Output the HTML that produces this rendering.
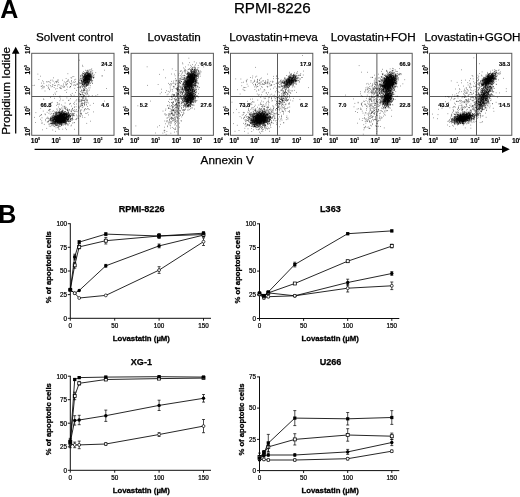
<!DOCTYPE html><html><head><meta charset="utf-8"><title>RPMI-8226</title><style>html,body{margin:0;padding:0;background:#fff}svg{display:block}text{font-family:"Liberation Sans",sans-serif;fill:#000}</style></head><body>
<svg width="520" height="497" viewBox="0 0 520 497">
<rect width="520" height="497" fill="#fff"/>
<text x="0.3" y="17.7" font-size="25" font-weight="bold">A</text>
<text x="-1.8" y="223" font-size="25" font-weight="bold">B</text>
<text x="272.3" y="13" font-size="15.2" text-anchor="middle" stroke="#000" stroke-width="0.25">RPMI-8226</text>
<g>
<rect x="31.7" y="53.3" width="82.3" height="82.0" fill="none" stroke="#5a5a5a" stroke-width="1"/>
<path d="M78.7 53.3V135.3M31.7 96.5H114.0" stroke="#5a5a5a" stroke-width="1" fill="none"/>
<path d="M60.7 121.3h.6M62.1 116.9h.6M59.4 124.9h.6M56.4 115.4h.6M58.5 120.3h.6M55.9 121.6h.6M61.0 117.4h.6M67.1 114.3h.6M58.3 117.8h.6M57.7 115.8h.6M63.0 117.7h.6M62.4 114.5h.6M61.2 114.7h.6M56.2 119.5h.6M60.5 114.2h.6M64.0 117.5h.6M54.3 119.3h.6M58.5 121.6h.6M51.6 120.8h.6M54.5 117.1h.6M51.9 123.9h.6M59.5 116.7h.6M54.6 118.4h.6M62.0 117.4h.6M61.4 125.0h.6M59.8 118.9h.6M48.7 118.5h.6M58.1 121.2h.6M60.4 118.3h.6M61.2 125.6h.6M53.4 117.7h.6M58.4 120.9h.6M56.0 116.6h.6M56.8 124.7h.6M65.7 115.6h.6M56.8 119.8h.6M60.5 116.1h.6M64.9 120.6h.6M57.9 120.8h.6M60.1 111.8h.6M61.2 120.9h.6M61.0 120.6h.6M54.8 120.3h.6M61.0 121.5h.6M67.2 113.8h.6M53.3 114.5h.6M64.8 119.9h.6M61.2 123.6h.6M57.6 115.5h.6M70.2 113.6h.6M64.3 115.4h.6M54.9 115.9h.6M61.0 121.0h.6M63.4 118.5h.6M59.8 122.8h.6M63.9 122.2h.6M60.4 115.6h.6M63.9 120.0h.6M67.5 110.5h.6M57.4 118.8h.6M61.6 120.3h.6M58.5 116.4h.6M61.3 113.0h.6M55.0 117.9h.6M57.9 122.6h.6M59.7 117.5h.6M65.0 113.6h.6M66.1 119.1h.6M54.4 121.9h.6M56.9 116.0h.6M63.8 117.6h.6M51.2 123.4h.6M58.5 120.0h.6M60.2 120.8h.6M66.7 116.6h.6M64.0 117.6h.6M59.1 115.3h.6M58.9 116.6h.6M59.5 123.4h.6M67.9 116.1h.6M58.6 116.1h.6M59.2 117.4h.6M62.4 115.1h.6M60.1 120.2h.6M59.7 121.5h.6M55.4 116.6h.6M60.6 121.7h.6M58.6 125.4h.6M66.2 114.5h.6M63.8 120.2h.6M60.6 119.4h.6M63.9 122.2h.6M59.0 122.8h.6M65.7 121.2h.6M60.6 119.6h.6M63.5 116.9h.6M54.5 126.4h.6M62.3 116.0h.6M52.6 123.4h.6M51.0 123.3h.6M59.2 116.7h.6M56.4 119.4h.6M61.5 123.0h.6M71.4 111.2h.6M56.7 121.7h.6M57.7 118.2h.6M61.7 117.7h.6M63.0 113.8h.6M59.8 120.0h.6M59.7 115.6h.6M64.0 120.2h.6M63.2 114.7h.6M55.7 121.6h.6M60.3 119.6h.6M60.8 112.7h.6M55.6 118.4h.6M61.9 118.0h.6M56.6 112.4h.6M65.3 116.6h.6M61.6 120.8h.6M61.1 116.2h.6M57.8 122.5h.6M60.1 115.2h.6M51.1 116.4h.6M55.3 121.1h.6M62.4 120.1h.6M50.5 119.6h.6M64.7 117.8h.6M52.3 122.8h.6M64.3 116.2h.6M56.6 125.3h.6M64.4 119.2h.6M61.3 119.6h.6M53.3 120.5h.6M66.6 116.6h.6M67.6 121.1h.6M60.4 116.8h.6M59.4 119.2h.6M59.9 120.6h.6M56.0 123.4h.6M65.9 121.2h.6M58.1 117.8h.6M60.4 121.4h.6M56.9 118.9h.6M57.7 115.8h.6M54.6 116.4h.6M66.7 112.8h.6M59.9 119.5h.6M65.3 121.0h.6M60.7 115.4h.6M57.4 118.1h.6M59.1 115.4h.6M58.0 118.9h.6M60.7 114.9h.6M58.9 116.2h.6M59.2 116.6h.6M54.1 118.0h.6M56.8 117.9h.6M68.6 116.5h.6M57.5 118.3h.6M55.6 116.3h.6M62.3 119.8h.6M67.4 112.2h.6M53.7 119.9h.6M59.7 115.7h.6M57.7 119.3h.6M52.3 120.6h.6M64.2 111.8h.6M60.6 119.4h.6M61.0 122.3h.6M57.1 121.2h.6M62.8 119.1h.6M58.1 112.4h.6M60.0 118.0h.6M55.4 116.5h.6M54.9 122.5h.6M67.0 116.4h.6M58.2 116.9h.6M62.1 112.8h.6M60.5 120.6h.6M58.6 117.0h.6M58.2 118.0h.6M63.7 121.1h.6M59.2 118.8h.6M59.9 119.4h.6M60.8 125.5h.6M66.3 115.8h.6M63.9 116.3h.6M62.5 119.5h.6M58.0 123.0h.6M54.1 115.1h.6M65.2 116.9h.6M65.3 114.7h.6M60.0 114.3h.6M63.3 119.6h.6M64.4 115.4h.6M64.6 118.6h.6M65.1 118.0h.6M58.5 119.1h.6M67.9 117.3h.6M54.7 116.1h.6M64.8 117.4h.6M63.0 118.6h.6M64.8 118.6h.6M69.6 116.0h.6M67.8 120.0h.6M55.2 120.9h.6M52.6 120.0h.6M64.6 119.6h.6M55.8 119.6h.6M60.6 120.3h.6M64.7 111.8h.6M52.8 115.8h.6M50.6 118.8h.6M61.9 118.4h.6M60.9 111.8h.6M59.5 117.7h.6M60.9 118.7h.6M56.6 118.2h.6M53.4 118.7h.6M59.9 114.4h.6M56.0 119.3h.6M52.8 113.4h.6M63.1 120.8h.6M60.4 116.4h.6M62.6 121.2h.6M55.9 113.8h.6M57.5 120.0h.6M55.9 119.4h.6M56.4 116.4h.6M61.6 114.6h.6M56.9 122.5h.6M62.4 119.3h.6M62.3 122.4h.6M70.3 116.5h.6M54.0 119.9h.6M64.9 118.9h.6M60.2 120.6h.6M60.6 119.7h.6M53.7 121.9h.6M58.5 117.3h.6M64.2 113.3h.6M60.3 124.4h.6M61.1 118.8h.6M59.3 120.0h.6M66.2 116.1h.6M60.6 121.4h.6M50.2 120.6h.6M57.4 122.2h.6M51.3 117.9h.6M45.1 120.7h.6M58.1 119.4h.6M67.0 116.3h.6M60.9 119.2h.6M55.1 124.1h.6M56.2 117.4h.6M66.1 116.7h.6M61.4 118.8h.6M60.9 115.5h.6M60.4 114.9h.6M60.9 121.8h.6M64.5 120.2h.6M63.3 113.4h.6M61.7 114.0h.6M55.7 121.5h.6M63.1 121.7h.6M57.4 120.9h.6M65.9 119.1h.6M54.6 124.3h.6M60.0 118.5h.6M60.6 122.4h.6M54.3 123.2h.6M68.9 114.4h.6M67.6 119.4h.6M58.5 119.1h.6M64.4 116.0h.6M62.5 115.7h.6M48.2 121.5h.6M61.9 118.2h.6M60.4 121.0h.6M61.1 113.2h.6M55.5 117.4h.6M59.4 122.0h.6M59.8 118.6h.6M66.3 115.4h.6M62.3 116.8h.6M60.6 113.0h.6M68.0 113.2h.6M58.0 120.5h.6M58.8 119.1h.6M52.0 123.8h.6M68.2 116.5h.6M65.3 117.3h.6M65.0 109.6h.6M63.9 117.7h.6M61.2 124.7h.6M61.7 120.3h.6M59.5 118.3h.6M59.7 122.4h.6M60.9 121.1h.6M67.9 118.4h.6M63.3 117.0h.6M60.4 119.0h.6M57.9 121.6h.6M57.6 116.6h.6M68.3 118.9h.6M63.1 119.6h.6M61.0 122.6h.6M59.0 121.1h.6M55.4 117.4h.6M60.4 123.4h.6M64.8 118.0h.6M58.8 116.6h.6M59.6 119.8h.6M59.6 117.9h.6M61.2 121.8h.6M53.1 115.8h.6M59.5 115.4h.6M56.6 118.4h.6M64.9 123.1h.6M57.0 122.2h.6M63.4 115.1h.6M67.9 112.1h.6M59.2 117.8h.6M57.8 115.2h.6M61.6 120.2h.6M60.7 119.1h.6M55.9 119.3h.6M62.9 116.9h.6M70.3 121.5h.6M59.4 115.9h.6M59.7 114.7h.6M55.7 122.8h.6M62.2 122.3h.6M54.7 118.4h.6M55.4 121.3h.6M66.8 124.6h.6M56.3 116.8h.6M65.8 117.2h.6M67.9 118.7h.6M61.9 111.9h.6M63.3 117.6h.6M70.0 119.2h.6M59.7 118.3h.6M57.8 122.1h.6M54.2 121.8h.6M60.9 117.3h.6M67.7 119.0h.6M65.3 119.1h.6M56.2 114.2h.6M56.6 116.6h.6M58.3 116.5h.6M62.1 116.7h.6M59.7 117.2h.6M61.7 113.9h.6M62.1 118.3h.6M59.2 113.1h.6M60.5 121.4h.6M61.7 119.1h.6M60.3 122.7h.6M63.1 119.1h.6M69.6 115.5h.6M63.5 113.7h.6M60.9 120.4h.6M52.6 119.8h.6M62.5 119.3h.6M51.4 122.2h.6M53.9 123.2h.6M64.7 117.6h.6M64.0 123.2h.6M60.0 118.3h.6M52.5 119.8h.6M58.9 120.8h.6M57.4 122.1h.6M63.7 122.2h.6M71.4 111.1h.6M61.7 122.4h.6M56.9 114.4h.6M55.1 117.6h.6M60.4 119.6h.6M59.8 122.1h.6M55.2 116.2h.6M61.2 113.2h.6M55.2 122.2h.6M66.0 118.5h.6M65.7 114.5h.6M65.8 116.6h.6M58.4 112.8h.6M63.1 119.8h.6M60.0 117.0h.6M58.8 122.6h.6M59.1 112.4h.6M54.5 121.7h.6M53.8 126.3h.6M64.5 118.3h.6M59.8 119.1h.6M61.7 112.5h.6M65.5 118.7h.6M52.4 119.9h.6M56.9 117.3h.6M61.5 113.6h.6M62.5 118.4h.6M58.9 115.6h.6M65.6 116.1h.6M61.7 119.2h.6M54.9 119.2h.6M56.2 119.1h.6M64.5 120.6h.6M62.9 114.5h.6M51.6 124.1h.6M67.1 113.9h.6M63.5 115.1h.6M67.1 117.7h.6M58.8 121.1h.6M59.3 119.4h.6M55.3 117.9h.6M72.8 114.3h.6M59.8 117.8h.6M68.2 114.3h.6M57.6 120.7h.6M61.5 117.7h.6M52.7 124.5h.6M58.8 116.5h.6M65.4 117.3h.6M54.7 120.7h.6M65.8 114.2h.6M62.3 116.1h.6M55.7 127.8h.6M58.3 118.8h.6M58.5 123.2h.6M60.4 115.3h.6M58.1 111.4h.6M56.7 120.7h.6M59.2 118.5h.6M55.8 120.0h.6M54.5 118.4h.6M60.4 116.6h.6M64.9 113.9h.6M53.4 122.7h.6M60.7 113.7h.6M57.6 121.8h.6M56.0 118.4h.6M64.7 114.3h.6M58.2 116.7h.6M67.8 120.2h.6M56.9 121.2h.6M62.5 119.6h.6M59.6 118.8h.6M57.1 115.6h.6M63.5 121.9h.6M59.9 117.2h.6M63.5 116.2h.6M60.4 116.8h.6M55.5 117.9h.6M60.2 114.0h.6M60.9 117.0h.6M65.2 115.2h.6M56.3 117.5h.6M60.5 113.1h.6M52.5 125.6h.6M63.8 114.1h.6M55.5 120.1h.6M52.0 120.7h.6M60.4 121.5h.6M65.9 123.3h.6M53.4 120.8h.6M55.5 121.4h.6M57.1 117.6h.6M55.3 123.8h.6M62.5 113.9h.6M56.8 118.3h.6M57.2 119.8h.6M63.5 120.2h.6M57.1 121.5h.6M62.7 121.6h.6M56.0 120.9h.6M54.9 119.4h.6M51.9 120.5h.6M69.6 121.3h.6M59.1 119.5h.6M61.8 121.0h.6M60.5 118.0h.6M61.4 112.7h.6M60.9 116.6h.6M69.8 117.9h.6M55.7 124.2h.6M53.2 124.0h.6M55.8 124.4h.6M54.3 117.3h.6M64.2 120.2h.6M64.6 117.7h.6M56.1 121.1h.6M54.0 119.3h.6M59.0 114.5h.6M67.3 119.5h.6M47.2 121.7h.6M63.2 120.5h.6M55.5 116.7h.6M65.6 120.8h.6M55.5 122.7h.6M59.3 122.9h.6M53.5 123.9h.6M56.0 117.8h.6M67.3 109.7h.6M64.6 120.9h.6M58.8 115.9h.6M56.5 118.4h.6M51.6 123.3h.6M58.8 119.6h.6M60.5 119.2h.6M60.3 120.6h.6M60.2 112.7h.6M55.3 125.1h.6M60.4 117.4h.6M60.5 117.5h.6M66.8 119.2h.6M69.6 116.6h.6M60.0 115.9h.6M57.0 118.6h.6M60.4 117.3h.6M57.8 116.9h.6M57.1 125.2h.6M60.4 114.1h.6M55.7 112.4h.6M63.6 115.1h.6M60.2 115.5h.6M61.9 122.5h.6M59.8 119.0h.6M57.2 121.5h.6M56.1 121.0h.6M59.5 115.8h.6M58.1 121.3h.6M61.8 118.7h.6M60.6 124.3h.6M54.2 120.0h.6M61.0 118.2h.6M54.3 121.7h.6M57.7 121.1h.6M59.3 113.0h.6M50.8 123.8h.6M61.1 121.6h.6M61.4 120.8h.6M59.9 115.0h.6M58.6 112.5h.6M58.9 117.8h.6M56.0 121.4h.6M59.4 120.0h.6M58.0 115.7h.6M61.1 121.2h.6M54.9 115.0h.6M61.8 114.0h.6M61.4 118.2h.6M60.0 116.7h.6M58.6 116.6h.6M63.3 113.4h.6M52.7 123.0h.6M62.9 114.6h.6M61.8 119.4h.6M62.0 120.6h.6M62.5 117.9h.6M57.5 119.6h.6M59.4 121.7h.6M63.7 122.8h.6M62.7 121.0h.6M61.7 113.9h.6M53.4 113.7h.6M63.2 116.1h.6M66.3 114.0h.6M65.5 119.3h.6M61.8 118.5h.6M53.2 118.9h.6M65.2 121.0h.6M60.0 121.6h.6M48.6 120.2h.6M62.5 119.2h.6M53.5 122.9h.6M54.5 118.3h.6M57.6 119.8h.6M66.7 114.4h.6M58.9 118.8h.6M62.0 119.2h.6M69.0 116.7h.6M68.3 117.8h.6M60.2 120.6h.6M59.5 119.9h.6M54.7 117.2h.6M57.4 117.1h.6M62.7 114.3h.6M62.6 123.3h.6M61.2 119.6h.6M65.4 119.0h.6M57.0 118.6h.6M60.4 119.9h.6M64.2 119.5h.6M63.5 115.7h.6M65.8 117.1h.6M62.6 121.7h.6M59.2 114.7h.6M62.4 115.2h.6M55.9 121.0h.6M52.8 117.3h.6M63.4 120.3h.6M60.4 115.1h.6M62.1 118.9h.6M52.6 122.2h.6M58.9 119.9h.6M57.8 121.3h.6M56.5 118.6h.6M49.9 119.7h.6M59.1 118.6h.6M65.0 119.5h.6M62.5 129.2h.6M57.8 118.7h.6M60.6 124.2h.6M64.3 117.2h.6M47.5 117.2h.6M60.1 117.8h.6M63.3 119.2h.6M63.9 118.5h.6M68.8 117.6h.6M66.1 119.3h.6M62.2 120.0h.6M62.1 121.0h.6M64.4 114.3h.6M58.1 119.0h.6M60.5 115.6h.6M65.0 118.5h.6M70.0 116.7h.6M59.9 119.1h.6M60.4 117.1h.6M61.6 115.8h.6M67.1 116.7h.6M60.5 120.5h.6M67.7 119.7h.6M56.1 114.2h.6M59.8 119.5h.6M59.7 119.5h.6M64.4 113.5h.6M65.7 114.4h.6M53.5 118.1h.6M56.3 120.4h.6M62.3 111.1h.6M57.5 117.8h.6M53.4 118.0h.6M65.6 118.2h.6M63.0 122.4h.6M63.0 122.1h.6M58.4 117.6h.6M65.6 116.5h.6M59.5 119.4h.6M65.9 121.2h.6M56.3 123.5h.6M56.6 120.1h.6M61.6 122.7h.6M57.3 116.3h.6M63.9 114.5h.6M61.9 109.8h.6M56.3 116.6h.6M61.0 120.2h.6M59.0 121.4h.6M65.0 128.2h.6M57.7 120.8h.6M58.6 119.4h.6M66.5 114.6h.6M71.4 114.9h.6M70.2 115.2h.6M61.0 117.8h.6M61.7 116.3h.6M68.0 112.9h.6M60.1 121.8h.6M56.0 120.6h.6M61.2 122.6h.6M62.8 113.3h.6M56.7 115.2h.6M52.8 117.5h.6M53.8 123.2h.6M63.8 117.4h.6M57.0 119.8h.6M60.0 118.4h.6M61.7 118.9h.6M63.6 116.4h.6M59.1 119.9h.6M63.1 115.5h.6M56.4 118.5h.6M58.9 119.7h.6M55.8 119.6h.6M66.1 118.9h.6M60.5 116.1h.6M57.1 119.9h.6M59.0 117.9h.6M59.6 119.8h.6M64.0 122.4h.6M53.1 117.0h.6M55.7 122.5h.6M58.9 116.7h.6M72.8 115.2h.6M65.2 122.7h.6M60.1 121.4h.6M64.1 119.5h.6M70.5 119.4h.6M59.6 122.2h.6M58.9 116.5h.6M66.5 118.3h.6M63.0 116.9h.6M63.9 119.3h.6M58.2 118.0h.6M69.9 119.3h.6M68.8 117.2h.6M63.4 116.3h.6M63.9 117.8h.6M51.0 121.4h.6M63.7 121.3h.6M59.7 118.1h.6M62.7 117.1h.6M63.9 118.7h.6M59.0 121.1h.6M52.6 118.2h.6M62.4 110.7h.6M57.1 120.0h.6M59.1 117.7h.6M57.8 117.8h.6M59.0 126.5h.6M49.6 119.9h.6M66.5 119.7h.6M61.9 114.1h.6M66.0 118.4h.6M70.1 119.3h.6M60.8 119.1h.6M52.1 119.4h.6M56.4 120.9h.6M54.9 119.6h.6M58.3 123.0h.6M61.0 119.1h.6M51.1 117.7h.6M62.3 112.3h.6M53.5 117.5h.6M62.1 117.4h.6M60.1 115.0h.6M59.2 115.7h.6M60.3 113.5h.6M58.1 115.6h.6M57.7 119.3h.6M52.6 119.0h.6M60.5 118.0h.6M69.5 116.1h.6M70.1 116.3h.6M67.0 119.8h.6M64.0 124.3h.6M57.4 121.0h.6M67.6 123.5h.6M60.4 118.3h.6M60.3 118.5h.6M59.3 123.8h.6M61.1 116.3h.6M58.6 116.2h.6M60.3 118.3h.6M55.5 114.3h.6M58.9 113.1h.6M71.6 120.4h.6M60.3 115.4h.6M59.5 117.3h.6M63.2 116.8h.6M64.0 115.1h.6M55.4 121.5h.6M59.7 120.4h.6M65.1 120.3h.6M62.0 120.6h.6M61.3 118.7h.6M68.1 121.7h.6M57.4 122.2h.6M61.1 116.7h.6M58.2 119.1h.6M67.8 116.2h.6M51.4 125.7h.6M57.5 121.4h.6M58.1 120.6h.6M63.8 117.9h.6M63.6 119.8h.6M67.3 114.6h.6M53.2 119.9h.6M64.3 117.9h.6M59.3 118.7h.6M57.5 116.9h.6M63.2 119.5h.6M56.3 115.8h.6M50.8 118.7h.6M58.9 118.3h.6M53.5 119.5h.6M57.6 117.4h.6M62.4 115.1h.6M62.2 115.4h.6M68.2 116.1h.6M59.7 116.0h.6M53.4 119.3h.6M57.1 115.3h.6M56.3 119.3h.6M54.9 125.7h.6M62.7 114.1h.6M57.6 118.7h.6M51.2 123.6h.6M64.0 118.5h.6M60.1 121.2h.6M62.4 111.9h.6M61.2 116.9h.6M63.7 122.7h.6M60.9 116.8h.6M66.6 118.7h.6M62.7 112.4h.6M62.5 121.4h.6M62.6 125.0h.6M53.7 119.4h.6M59.9 119.7h.6M59.4 119.9h.6M61.7 124.8h.6M54.2 118.3h.6M68.5 112.2h.6M61.2 124.2h.6M54.9 115.9h.6M52.5 121.5h.6M59.3 111.6h.6M60.2 117.2h.6M57.2 119.6h.6M61.1 115.1h.6M57.6 117.4h.6M63.3 119.8h.6M57.2 116.9h.6M60.5 120.1h.6M65.3 123.1h.6M72.9 110.4h.6M55.9 120.3h.6M58.5 120.7h.6M56.7 118.1h.6M64.4 122.6h.6M55.2 123.5h.6M58.4 120.4h.6M60.5 120.1h.6M56.0 119.0h.6M56.1 115.8h.6M58.4 120.3h.6M50.6 118.6h.6M53.8 117.8h.6M58.7 122.1h.6M61.4 117.7h.6M59.8 121.5h.6M52.2 116.7h.6M58.5 117.5h.6M64.5 117.8h.6M63.3 122.1h.6M60.3 118.2h.6M56.4 121.5h.6M63.7 115.9h.6M57.9 119.3h.6M55.1 121.9h.6M56.8 116.3h.6M67.6 115.2h.6M61.7 120.1h.6M66.2 114.1h.6M58.4 119.8h.6M65.1 118.7h.6M57.8 118.6h.6M59.9 120.9h.6M72.5 117.9h.6M64.3 118.4h.6M58.3 114.3h.6M60.3 114.0h.6M62.2 119.0h.6M66.4 112.7h.6M58.3 119.0h.6M52.4 118.7h.6M59.3 116.0h.6M60.7 117.6h.6M61.2 111.1h.6M67.0 116.7h.6M62.2 121.9h.6M64.5 113.9h.6M55.4 120.6h.6M64.8 118.7h.6M70.7 125.9h.6M64.4 114.9h.6M61.9 115.8h.6M61.4 116.0h.6M69.2 114.1h.6M56.2 114.1h.6M60.1 118.7h.6M62.9 115.3h.6M64.2 120.2h.6M58.6 119.9h.6M62.1 115.1h.6M59.3 117.5h.6M61.2 122.4h.6M60.0 117.5h.6M55.2 119.9h.6M60.6 121.0h.6M64.9 116.5h.6M56.1 120.5h.6M59.5 123.4h.6M63.8 121.3h.6M55.6 114.0h.6M61.5 122.9h.6M55.6 118.6h.6M66.1 115.8h.6M71.7 114.8h.6M70.3 120.6h.6M59.6 119.6h.6M64.2 117.5h.6M61.2 116.0h.6M61.2 120.4h.6M68.1 120.8h.6M54.4 116.5h.6M65.7 114.3h.6M60.4 117.4h.6M67.4 119.2h.6M61.6 117.1h.6M57.5 118.7h.6M62.0 115.7h.6M64.2 121.7h.6M60.8 118.1h.6M63.0 118.6h.6M58.2 122.2h.6M50.5 119.5h.6M65.0 117.7h.6M64.0 119.2h.6M61.4 117.2h.6M61.0 122.7h.6M65.6 117.8h.6M58.5 117.5h.6M57.3 118.2h.6M59.8 115.4h.6M66.3 121.2h.6M54.0 124.1h.6M66.4 116.8h.6M57.6 117.6h.6M55.4 113.0h.6M66.7 115.6h.6M60.2 121.2h.6M54.5 117.1h.6M59.0 121.3h.6M65.1 122.2h.6M66.4 109.7h.6M58.6 117.8h.6M62.6 116.0h.6M64.1 116.2h.6M57.6 113.5h.6M62.4 117.4h.6M60.5 114.8h.6M58.1 122.0h.6M58.3 123.1h.6M61.0 114.1h.6M60.8 114.0h.6M58.0 117.4h.6M58.6 118.1h.6M66.0 117.1h.6M61.7 120.4h.6M64.9 113.2h.6M66.4 115.6h.6M63.5 116.5h.6M71.5 115.6h.6M56.7 116.0h.6M64.5 116.3h.6M59.2 116.5h.6M69.5 120.6h.6M68.8 115.6h.6M51.3 113.4h.6M56.0 120.8h.6M63.8 118.4h.6M64.4 115.2h.6M64.2 115.0h.6M60.3 116.7h.6M62.8 123.0h.6M63.8 116.5h.6M60.3 122.1h.6M65.6 120.2h.6M49.9 118.6h.6M63.7 118.9h.6M55.7 116.9h.6M65.2 108.2h.6M59.6 116.3h.6M56.4 117.0h.6M62.5 120.9h.6M56.3 121.1h.6M56.3 122.4h.6M53.2 121.3h.6M60.5 121.8h.6M63.0 120.1h.6M65.6 118.3h.6M60.0 121.6h.6M65.7 122.0h.6M60.8 122.6h.6M60.2 117.2h.6M63.4 117.9h.6M65.7 114.6h.6M59.0 115.6h.6M59.5 119.7h.6M59.9 116.6h.6M61.1 122.8h.6M56.4 112.3h.6M65.6 114.1h.6M58.8 119.5h.6M62.9 121.6h.6M56.7 118.0h.6M62.4 123.9h.6M62.5 120.5h.6M58.7 116.6h.6M70.3 116.7h.6M62.4 119.7h.6M69.2 114.2h.6M65.2 120.9h.6M57.5 118.1h.6M58.8 120.3h.6M62.8 120.7h.6M61.0 117.0h.6M60.9 121.4h.6M59.3 113.0h.6M52.0 121.7h.6M59.6 112.7h.6M50.1 123.5h.6M62.4 116.4h.6M57.2 122.7h.6M57.3 123.1h.6M59.6 118.2h.6M62.0 116.2h.6M53.8 123.5h.6M52.3 116.3h.6M55.6 121.7h.6M50.9 119.7h.6M56.1 118.1h.6M68.3 115.5h.6M55.6 124.7h.6M63.8 113.1h.6M54.1 117.9h.6M62.1 119.5h.6M59.1 121.8h.6M60.4 123.6h.6M63.4 122.2h.6M69.1 115.5h.6M61.6 119.4h.6M61.3 121.8h.6M56.0 120.8h.6M63.5 113.3h.6M59.5 119.7h.6M64.6 119.6h.6M60.5 114.4h.6M69.0 115.7h.6M51.2 119.9h.6M59.3 120.6h.6M64.9 122.5h.6M59.0 122.3h.6M56.9 120.6h.6M59.4 119.4h.6M54.1 118.5h.6M61.2 116.7h.6M72.3 115.9h.6M66.1 116.9h.6M55.4 122.4h.6M56.5 125.7h.6M58.7 120.4h.6M65.5 120.6h.6M56.7 121.1h.6M57.4 119.9h.6M64.9 121.6h.6M64.8 121.2h.6M58.9 119.1h.6M55.3 119.0h.6M53.3 121.7h.6M57.3 117.5h.6M50.0 120.9h.6M64.2 121.0h.6M57.7 118.9h.6M63.0 112.4h.6M69.6 119.1h.6M66.3 114.1h.6M55.2 115.2h.6M64.8 113.3h.6M66.2 120.1h.6M57.1 113.0h.6M56.1 118.9h.6M60.1 119.3h.6M53.0 120.4h.6M67.7 115.5h.6M49.2 120.2h.6M55.4 119.9h.6M59.4 114.8h.6M59.6 120.8h.6M61.5 121.5h.6M62.0 115.9h.6M59.6 116.5h.6M66.1 114.3h.6M50.5 123.4h.6M60.7 115.2h.6M57.3 117.6h.6M61.3 113.1h.6M61.7 122.1h.6M56.3 118.5h.6M57.6 119.8h.6M64.5 122.7h.6M62.3 120.4h.6M57.4 115.6h.6M70.4 118.3h.6M71.7 118.9h.6M53.7 117.0h.6M62.1 115.3h.6M72.6 113.6h.6M64.4 120.3h.6M61.7 118.5h.6M59.7 115.5h.6M58.1 120.9h.6M59.7 120.9h.6M58.0 116.4h.6M64.2 113.2h.6M58.8 122.3h.6M58.6 126.7h.6M54.9 123.8h.6M60.4 121.6h.6M56.4 119.6h.6M59.8 116.8h.6M65.6 118.1h.6M62.4 120.3h.6M63.1 117.6h.6M62.4 121.1h.6M61.0 118.6h.6M60.1 120.5h.6M59.2 110.6h.6M64.3 115.4h.6M55.5 121.9h.6M67.1 120.5h.6M60.8 119.8h.6M57.1 124.0h.6M58.3 121.1h.6M57.4 121.2h.6M61.4 115.7h.6M57.2 120.3h.6M66.1 120.0h.6M56.9 123.1h.6M49.8 123.8h.6M57.2 119.3h.6M51.1 120.7h.6M60.5 115.1h.6M65.7 119.6h.6M63.8 114.8h.6M54.3 118.8h.6M57.0 119.1h.6M69.2 123.2h.6M62.2 122.1h.6M60.7 116.2h.6M65.7 113.5h.6M72.4 116.0h.6M66.9 115.2h.6M61.3 119.6h.6M62.4 119.3h.6M63.6 120.0h.6M57.7 116.0h.6M55.6 118.3h.6M60.9 119.2h.6M56.1 120.2h.6M60.4 116.9h.6M61.1 117.4h.6M71.8 119.2h.6M56.6 114.0h.6M60.1 117.8h.6M59.9 118.6h.6M62.8 113.7h.6M65.7 114.6h.6M58.3 119.1h.6M56.7 117.5h.6M52.8 123.0h.6M56.2 121.1h.6M63.2 124.9h.6M60.9 114.8h.6M55.8 125.0h.6M58.9 116.7h.6M60.8 121.0h.6M63.1 121.1h.6M57.8 119.5h.6M59.5 117.9h.6M52.0 118.1h.6M55.2 114.0h.6M68.4 116.1h.6M50.2 117.5h.6M59.1 120.6h.6M61.7 116.2h.6M58.9 118.3h.6M56.8 120.5h.6M60.4 118.8h.6M60.6 118.7h.6M60.3 118.0h.6M51.7 118.7h.6M60.0 120.1h.6M56.6 121.4h.6M58.1 116.7h.6M61.8 123.4h.6M63.7 119.9h.6M65.0 113.1h.6M58.3 127.0h.6M65.1 119.9h.6M66.3 115.5h.6M66.1 122.6h.6M67.3 109.6h.6M60.0 126.4h.6M59.8 114.3h.6M64.6 113.1h.6M54.1 116.8h.6M61.7 119.0h.6M58.1 117.8h.6M58.9 121.5h.6M52.4 117.4h.6M56.4 122.6h.6M60.6 119.3h.6M64.9 114.8h.6M65.4 121.1h.6M60.3 119.7h.6M59.8 118.1h.6M56.7 123.2h.6M62.6 114.7h.6M59.5 117.7h.6M63.6 122.6h.6M69.0 117.3h.6M60.5 120.9h.6M53.5 121.6h.6M56.6 118.9h.6M53.7 121.8h.6M55.0 116.5h.6M66.9 119.6h.6M61.8 115.4h.6M53.4 119.8h.6M63.8 115.4h.6M66.7 119.1h.6M59.0 120.3h.6M57.4 122.5h.6M59.1 117.0h.6M62.0 115.4h.6M63.7 111.6h.6M66.3 113.7h.6M66.5 116.8h.6M66.3 118.2h.6M67.2 116.3h.6M63.8 118.1h.6M53.4 115.3h.6M60.0 115.7h.6M62.2 120.8h.6M58.8 120.9h.6M65.0 113.7h.6M59.0 117.8h.6M56.3 119.9h.6M67.6 113.8h.6M63.8 119.1h.6M61.7 119.2h.6M65.1 119.2h.6M65.7 123.6h.6M62.3 115.6h.6M48.9 124.1h.6M57.4 120.7h.6M58.5 121.1h.6M56.0 117.1h.6M61.6 118.5h.6M66.4 117.5h.6M58.4 123.9h.6M55.3 119.6h.6M70.4 121.4h.6M58.5 117.9h.6M54.8 118.3h.6M61.8 118.4h.6M62.7 112.0h.6M57.3 117.4h.6M64.4 116.1h.6M58.3 118.4h.6M56.3 119.8h.6M61.5 115.4h.6M64.3 114.6h.6M57.6 122.9h.6M62.2 115.1h.6M60.2 117.0h.6M74.2 113.4h.6M57.3 117.6h.6M67.3 121.2h.6M60.4 122.1h.6M60.1 113.1h.6M64.1 117.2h.6M64.9 122.1h.6M66.7 116.5h.6M62.2 119.3h.6M57.8 124.5h.6M58.1 125.8h.6M63.1 122.9h.6M63.4 117.2h.6M67.3 117.5h.6M62.7 118.9h.6M65.7 116.8h.6M67.9 115.5h.6M61.5 124.7h.6M53.6 120.6h.6M55.0 121.9h.6M53.8 123.3h.6M68.3 118.9h.6M56.6 119.5h.6M66.5 118.3h.6M63.5 122.4h.6M68.9 118.6h.6M65.5 111.6h.6M60.2 121.8h.6M59.7 123.7h.6M61.1 117.6h.6M61.5 116.6h.6M58.1 117.5h.6M60.5 121.9h.6M68.4 114.2h.6M52.5 122.2h.6M61.9 121.7h.6M56.3 121.0h.6M61.6 118.7h.6M64.7 115.7h.6M60.4 116.7h.6M64.4 118.0h.6M53.1 116.9h.6M66.0 117.4h.6M57.8 116.3h.6M63.6 122.2h.6M61.5 123.1h.6M48.3 118.2h.6M57.1 123.3h.6M61.7 119.2h.6M68.1 117.6h.6M62.0 119.7h.6M61.9 119.7h.6M53.9 115.4h.6M67.5 125.0h.6M69.3 114.4h.6M60.8 111.5h.6M59.6 118.6h.6M52.9 119.8h.6M64.9 115.6h.6M73.6 110.9h.6M64.1 121.5h.6M66.7 117.2h.6M63.3 118.6h.6M56.0 117.6h.6M67.1 117.0h.6M54.8 117.5h.6M59.7 119.9h.6M62.0 118.1h.6M64.9 119.8h.6M62.7 120.2h.6M62.5 118.6h.6M57.0 119.5h.6M54.5 123.0h.6M61.0 113.7h.6M57.3 119.5h.6M54.4 123.7h.6M54.6 116.2h.6M58.3 121.1h.6M51.8 118.4h.6M54.2 119.6h.6M52.9 119.0h.6M61.5 117.8h.6M62.6 119.9h.6M70.3 116.8h.6M53.5 113.5h.6M57.4 125.8h.6M65.0 117.6h.6M59.6 117.3h.6M59.1 121.9h.6M68.8 121.3h.6M59.1 112.2h.6M55.2 120.5h.6M54.4 113.2h.6M62.3 116.6h.6M62.1 118.0h.6M54.1 118.1h.6M56.0 117.3h.6M63.2 114.5h.6M63.4 116.7h.6M57.6 118.6h.6M63.6 117.5h.6M63.4 114.0h.6M52.2 117.4h.6M59.2 121.8h.6M62.7 120.1h.6M57.9 117.9h.6M50.5 122.0h.6M59.3 119.8h.6M64.3 120.8h.6M68.2 118.0h.6M50.2 118.9h.6M73.1 113.5h.6M55.3 119.3h.6M65.2 111.5h.6M66.6 117.8h.6M65.4 108.1h.6M61.4 115.4h.6M55.1 117.9h.6M63.7 119.5h.6M57.3 127.6h.6M48.6 120.9h.6M74.2 115.7h.6M64.0 112.1h.6M69.3 121.2h.6M56.3 113.4h.6M67.7 118.1h.6M68.3 115.1h.6M68.1 124.9h.6M60.6 118.1h.6M54.9 120.5h.6M59.8 116.6h.6M50.2 119.9h.6M52.5 123.3h.6M61.1 115.6h.6M55.9 117.2h.6M59.9 116.8h.6M60.1 115.5h.6M69.9 113.7h.6M66.9 117.5h.6M60.5 122.6h.6M66.4 121.7h.6M56.9 115.0h.6M59.1 116.6h.6M65.0 117.5h.6M54.7 120.8h.6M59.3 118.6h.6M54.4 119.4h.6M61.2 119.4h.6M68.5 119.3h.6M57.1 112.5h.6M61.7 117.6h.6M56.4 121.0h.6M55.2 123.3h.6M54.8 121.6h.6M67.6 115.2h.6M71.9 114.4h.6M63.0 118.8h.6M57.3 118.9h.6M64.0 118.9h.6M59.1 122.1h.6M64.5 113.9h.6M62.1 117.1h.6M62.0 110.8h.6M63.6 120.3h.6M57.9 119.4h.6M58.7 116.1h.6M52.5 120.6h.6M58.6 123.0h.6M53.9 122.5h.6M60.0 118.3h.6M56.1 118.2h.6M61.2 118.7h.6M62.8 115.1h.6M53.9 116.6h.6M56.8 118.1h.6M56.2 119.1h.6M64.2 118.7h.6M68.8 115.5h.6M64.7 115.1h.6M59.0 118.6h.6M67.7 116.0h.6M53.4 120.6h.6M67.8 121.6h.6M57.5 122.0h.6M47.4 118.3h.6M73.3 115.1h.6M68.2 112.5h.6M55.7 119.1h.6M61.5 115.7h.6M59.6 114.7h.6M61.2 115.4h.6M53.6 121.5h.6M57.4 119.6h.6M62.9 117.7h.6M61.7 121.3h.6M66.4 116.1h.6M61.1 115.3h.6M71.9 118.1h.6M57.3 113.1h.6M61.9 119.2h.6M51.5 120.6h.6M54.7 120.2h.6M67.0 119.6h.6M56.2 118.0h.6M63.2 118.0h.6M60.4 113.5h.6M55.7 117.5h.6M59.0 117.1h.6M58.2 119.6h.6M58.3 123.1h.6M64.3 118.2h.6M63.8 120.5h.6M57.9 116.1h.6M56.3 119.3h.6M62.0 113.2h.6M60.2 116.3h.6M65.6 115.2h.6M73.3 115.7h.6M64.7 117.2h.6M60.5 116.5h.6M59.8 115.8h.6M56.6 121.3h.6M56.3 117.7h.6M55.9 111.4h.6M58.8 119.1h.6M58.6 119.6h.6M64.2 120.0h.6M58.8 123.2h.6M59.7 115.1h.6M54.9 119.3h.6M68.5 116.3h.6M63.1 112.5h.6M69.2 109.5h.6M64.5 120.6h.6M67.8 114.1h.6M59.5 116.8h.6M64.1 116.7h.6M73.6 114.9h.6M54.8 119.5h.6M66.3 112.8h.6M68.8 115.3h.6M62.7 117.1h.6M64.3 114.1h.6M66.8 114.8h.6M57.5 117.6h.6M62.7 117.2h.6M56.4 113.9h.6M57.4 117.5h.6M57.7 119.2h.6M60.0 121.2h.6M61.4 119.4h.6M62.9 121.3h.6M53.7 119.3h.6M70.3 116.1h.6M66.3 123.7h.6M64.2 117.8h.6M58.9 116.8h.6M60.2 118.1h.6M63.3 120.9h.6M62.7 114.3h.6M52.5 121.9h.6M64.3 121.6h.6M74.9 119.4h.6M51.6 120.0h.6M65.5 114.7h.6M62.5 114.7h.6M60.1 117.9h.6M67.4 121.0h.6M54.9 121.4h.6M61.5 121.1h.6M67.8 117.9h.6M59.7 124.0h.6M58.6 118.5h.6M61.2 116.4h.6M58.5 119.3h.6M68.3 115.9h.6M56.2 122.0h.6M65.0 122.2h.6M54.5 121.4h.6M64.0 114.5h.6M60.2 115.5h.6M48.0 121.9h.6M60.6 114.9h.6M55.4 120.3h.6M58.5 114.3h.6M68.2 115.8h.6M55.2 120.7h.6M55.5 116.9h.6M67.7 119.7h.6M61.2 121.2h.6M68.2 121.6h.6M62.3 117.5h.6M56.3 119.4h.6M60.3 118.8h.6M66.7 118.7h.6M65.3 113.4h.6M60.7 119.8h.6M60.9 120.6h.6M60.1 114.8h.6M57.8 114.7h.6M70.1 115.9h.6M60.7 123.7h.6M55.1 121.2h.6M58.3 117.0h.6M64.2 117.9h.6M63.8 113.3h.6M60.0 122.7h.6M57.4 117.0h.6M60.8 120.4h.6M52.5 115.8h.6M54.3 119.8h.6M64.6 114.7h.6M58.3 120.8h.6M62.5 122.4h.6M66.6 120.9h.6M63.9 119.8h.6M60.8 121.6h.6M71.1 113.2h.6M63.9 113.9h.6M58.9 118.0h.6M64.3 121.0h.6M62.7 118.5h.6M56.5 121.2h.6M61.0 114.0h.6M59.9 117.7h.6M51.0 118.6h.6M59.8 119.8h.6M59.3 124.8h.6M58.5 121.2h.6M52.6 123.2h.6M58.9 117.7h.6M60.5 118.2h.6M61.2 120.8h.6M55.1 120.6h.6M63.8 113.3h.6M54.7 122.4h.6M59.6 121.4h.6M67.1 118.1h.6M57.3 121.2h.6M58.2 120.2h.6M65.9 116.0h.6M58.8 113.6h.6M59.2 124.1h.6M61.8 118.4h.6M65.8 117.5h.6M49.9 120.5h.6M56.6 119.7h.6M55.7 120.3h.6M55.4 116.3h.6M56.5 120.6h.6M56.6 119.5h.6M62.1 118.2h.6M56.3 118.9h.6M61.3 118.9h.6M62.6 115.2h.6M57.1 119.1h.6M61.3 117.9h.6M68.7 117.3h.6M62.2 121.3h.6M57.6 121.5h.6M60.4 121.7h.6M56.2 118.6h.6M62.0 120.4h.6M64.9 121.0h.6M56.7 118.4h.6M59.6 117.1h.6M66.1 122.9h.6M58.2 113.8h.6M61.6 118.2h.6M55.7 119.6h.6M56.7 115.9h.6M58.2 118.7h.6M71.1 118.6h.6M58.7 112.2h.6M58.1 122.1h.6M58.0 119.2h.6M59.9 116.1h.6M63.8 121.2h.6M61.6 118.7h.6M70.5 115.7h.6M61.7 111.1h.6M67.6 120.1h.6M62.0 118.4h.6M63.6 116.0h.6M53.8 119.4h.6M60.1 122.2h.6M60.3 117.3h.6M59.5 118.4h.6M50.4 118.8h.6M64.9 114.4h.6M58.8 115.7h.6M58.6 117.6h.6M59.5 117.8h.6M59.6 122.0h.6M62.6 118.6h.6M54.6 118.8h.6M56.2 120.4h.6M62.1 118.0h.6M61.4 120.9h.6M58.9 114.2h.6M57.9 112.4h.6M56.7 120.3h.6M60.4 117.3h.6M66.3 118.3h.6M55.6 115.5h.6M67.9 116.0h.6M64.7 117.6h.6M58.5 119.5h.6M64.4 117.5h.6M53.7 122.7h.6M52.4 117.8h.6M54.5 121.6h.6M58.7 117.2h.6M59.1 118.4h.6M58.2 115.6h.6M61.1 118.5h.6M50.5 117.1h.6M63.0 120.9h.6M53.9 117.8h.6M57.5 119.7h.6M58.7 118.2h.6M55.2 119.2h.6M54.1 116.7h.6M55.9 125.4h.6M60.6 117.5h.6M63.5 122.5h.6M63.4 114.4h.6M55.9 125.2h.6M56.9 122.1h.6M82.0 83.8h.6M91.3 76.2h.6M83.1 73.7h.6M87.0 75.1h.6M85.2 76.8h.6M81.6 78.2h.6M85.7 78.3h.6M88.5 74.5h.6M86.2 79.0h.6M89.3 78.7h.6M85.7 78.3h.6M86.7 75.3h.6M85.6 77.6h.6M87.6 75.7h.6M92.0 83.0h.6M87.7 74.0h.6M87.2 70.4h.6M84.9 74.6h.6M84.6 80.1h.6M90.8 79.6h.6M83.6 78.5h.6M84.1 82.5h.6M86.4 76.0h.6M85.5 80.5h.6M92.2 73.1h.6M80.1 76.3h.6M87.7 84.6h.6M88.7 76.6h.6M83.5 81.8h.6M84.9 83.6h.6M87.9 79.9h.6M91.2 77.3h.6M84.1 75.9h.6M82.3 84.9h.6M89.4 73.9h.6M90.9 70.1h.6M85.7 76.7h.6M80.5 78.8h.6M90.7 76.9h.6M86.1 82.4h.6M89.8 75.4h.6M86.6 77.1h.6M85.6 76.3h.6M85.4 70.3h.6M90.8 74.4h.6M90.7 75.4h.6M80.7 75.4h.6M84.1 83.7h.6M91.6 80.2h.6M85.6 79.9h.6M82.9 81.9h.6M86.7 76.0h.6M86.4 79.5h.6M86.4 72.7h.6M85.3 73.8h.6M85.8 76.1h.6M85.4 80.0h.6M87.6 75.9h.6M84.4 76.5h.6M85.9 82.1h.6M86.3 77.3h.6M90.3 74.6h.6M87.7 77.2h.6M86.4 73.3h.6M88.2 73.8h.6M87.8 80.6h.6M89.7 76.8h.6M88.1 80.5h.6M91.7 74.6h.6M90.4 79.8h.6M86.6 75.3h.6M85.5 77.5h.6M89.1 74.2h.6M88.1 78.3h.6M86.4 83.2h.6M82.5 74.0h.6M81.5 80.8h.6M87.7 73.4h.6M88.8 76.1h.6M88.9 75.3h.6M83.1 73.6h.6M89.6 76.1h.6M85.2 74.3h.6M87.8 82.8h.6M87.8 75.0h.6M84.4 79.9h.6M85.0 79.4h.6M80.9 80.4h.6M84.1 78.1h.6M81.6 74.7h.6M87.9 83.9h.6M86.8 78.1h.6M89.2 79.7h.6M87.7 74.1h.6M84.9 80.4h.6M87.6 76.5h.6M85.6 80.0h.6M88.4 75.5h.6M87.6 74.7h.6M83.9 80.6h.6M86.7 78.1h.6M86.8 82.9h.6M85.8 77.6h.6M89.2 74.6h.6M91.5 78.4h.6M85.6 75.0h.6M85.7 85.5h.6M80.4 86.7h.6M86.3 83.0h.6M85.5 80.4h.6M80.6 80.5h.6M87.5 78.3h.6M88.3 77.9h.6M84.6 76.7h.6M85.6 80.2h.6M84.0 83.5h.6M88.8 81.6h.6M82.4 72.9h.6M85.8 86.4h.6M92.1 76.9h.6M86.8 73.5h.6M88.0 76.2h.6M86.3 81.2h.6M83.4 79.5h.6M86.6 75.5h.6M87.8 73.9h.6M83.8 82.3h.6M87.6 75.5h.6M90.2 76.2h.6M89.7 73.6h.6M82.2 75.4h.6M83.9 80.4h.6M82.2 84.7h.6M89.7 75.9h.6M88.4 71.8h.6M88.6 75.3h.6M84.2 78.5h.6M83.4 71.6h.6M86.9 81.6h.6M87.0 75.2h.6M84.3 81.1h.6M87.1 78.0h.6M88.5 77.3h.6M87.3 73.1h.6M83.8 82.5h.6M80.8 82.3h.6M86.0 83.8h.6M87.1 76.5h.6M85.9 80.1h.6M85.5 77.4h.6M84.7 82.6h.6M88.7 78.8h.6M86.5 75.0h.6M87.0 78.8h.6M84.0 77.3h.6M84.9 77.2h.6M87.1 79.3h.6M83.9 84.5h.6M83.2 76.4h.6M85.8 78.1h.6M90.0 73.8h.6M87.2 84.7h.6M90.8 82.2h.6M86.3 85.5h.6M85.8 81.5h.6M82.8 76.3h.6M85.1 77.0h.6M90.7 76.9h.6M87.6 77.5h.6M88.7 75.1h.6M88.6 78.6h.6M86.6 77.0h.6M86.1 78.1h.6M87.0 85.4h.6M88.6 78.9h.6M88.0 73.4h.6M88.1 79.1h.6M87.1 78.6h.6M84.5 81.1h.6M85.9 80.2h.6M84.0 75.6h.6M89.5 78.2h.6M80.8 83.8h.6M86.1 88.8h.6M93.4 77.7h.6M85.7 85.1h.6M83.5 85.5h.6M86.6 75.7h.6M90.3 74.6h.6M86.2 84.8h.6M88.4 74.9h.6M87.0 76.7h.6M85.6 81.3h.6M95.5 72.6h.6M86.9 83.6h.6M85.2 82.8h.6M85.3 83.5h.6M87.7 81.6h.6M87.8 75.0h.6M88.8 81.9h.6M87.1 81.9h.6M82.7 82.9h.6M88.2 77.1h.6M85.8 79.7h.6M85.9 75.8h.6M82.5 82.2h.6M85.1 83.1h.6M84.6 80.7h.6M86.6 78.2h.6M82.6 82.9h.6M86.8 77.4h.6M87.0 72.2h.6M83.5 81.4h.6M84.9 78.8h.6M84.3 74.8h.6M89.2 79.5h.6M79.6 83.7h.6M85.7 82.3h.6M82.0 78.8h.6M85.5 77.1h.6M89.0 78.0h.6M84.9 78.9h.6M87.1 74.0h.6M84.3 76.4h.6M92.1 81.0h.6M89.2 77.5h.6M89.8 76.9h.6M83.0 77.4h.6M83.6 80.3h.6M89.7 79.4h.6M86.1 80.1h.6M86.0 84.5h.6M87.6 78.1h.6M83.2 81.7h.6M88.8 76.1h.6M86.7 81.8h.6M88.0 79.3h.6M84.8 82.3h.6M88.1 81.4h.6M84.7 76.8h.6M89.3 79.0h.6M89.8 75.8h.6M89.2 81.2h.6M88.1 77.6h.6M88.4 83.3h.6M79.1 82.8h.6M89.0 79.2h.6M85.9 76.8h.6M86.9 77.8h.6M85.9 79.3h.6M82.8 77.1h.6M85.2 78.4h.6M88.5 76.0h.6M90.6 74.5h.6M84.9 79.3h.6M84.1 80.3h.6M90.7 75.9h.6M84.2 80.7h.6M92.5 75.0h.6M86.8 74.8h.6M84.2 76.6h.6M89.4 78.7h.6M91.4 80.9h.6M82.7 80.1h.6M91.0 77.3h.6M85.9 75.1h.6M90.8 78.2h.6M85.6 79.5h.6M82.3 77.7h.6M88.1 79.5h.6M89.3 78.0h.6M92.5 70.7h.6M91.5 71.8h.6M88.6 75.7h.6M86.0 77.8h.6M85.2 82.2h.6M85.9 76.9h.6M84.4 79.1h.6M85.9 78.0h.6M79.6 82.8h.6M87.2 78.3h.6M86.6 79.1h.6M93.9 74.8h.6M88.8 73.0h.6M85.3 77.8h.6M88.3 83.3h.6M83.2 82.9h.6M85.0 84.3h.6M81.5 83.0h.6M90.7 75.1h.6M88.3 76.5h.6M83.4 81.6h.6M86.5 77.7h.6M89.3 80.0h.6M88.1 82.6h.6M87.7 82.7h.6M84.3 82.2h.6M84.9 74.5h.6M86.9 82.8h.6M89.3 73.4h.6M84.4 75.0h.6M83.5 80.2h.6M89.9 77.4h.6M84.1 81.4h.6M89.7 77.4h.6M87.4 76.1h.6M89.1 77.5h.6M91.6 73.4h.6M88.6 73.9h.6M88.8 76.5h.6M84.1 78.4h.6M84.7 79.4h.6M88.5 76.7h.6M91.0 80.5h.6M90.6 75.7h.6M93.2 75.4h.6M87.5 81.0h.6M87.2 71.2h.6M89.5 80.6h.6M86.7 81.3h.6M86.5 77.6h.6M83.7 85.9h.6M89.5 80.1h.6M83.7 84.6h.6M88.1 81.1h.6M82.7 80.4h.6M89.7 76.3h.6M83.8 75.9h.6M89.0 75.0h.6M82.2 76.2h.6M85.4 77.0h.6M90.0 78.8h.6M84.4 75.7h.6M86.9 80.0h.6M85.3 81.0h.6M80.2 75.9h.6M87.5 75.6h.6M87.9 77.3h.6M83.6 77.2h.6M88.3 75.0h.6M84.4 83.8h.6M83.9 79.8h.6M86.7 82.4h.6M84.8 78.8h.6M93.1 78.3h.6M82.3 75.6h.6M88.7 76.0h.6M89.4 80.1h.6M81.1 80.6h.6M81.8 84.3h.6M88.3 77.8h.6M85.3 77.2h.6M87.7 77.2h.6M89.9 83.6h.6M85.6 80.0h.6M83.7 77.9h.6M79.0 80.3h.6M87.2 74.5h.6M84.1 83.7h.6M87.6 76.5h.6M87.3 80.4h.6M82.8 79.3h.6M91.5 75.4h.6M89.7 75.1h.6M89.1 79.5h.6M83.4 79.1h.6M85.5 82.8h.6M85.1 83.7h.6M85.5 77.1h.6M83.5 79.8h.6M87.9 83.4h.6M87.3 81.1h.6M87.7 78.1h.6M85.3 73.9h.6M90.3 73.7h.6M87.2 75.7h.6M79.0 87.2h.6M84.9 79.5h.6M86.5 77.0h.6M89.4 76.2h.6M85.8 77.4h.6M86.0 79.5h.6M84.8 73.4h.6M88.5 73.0h.6M85.4 79.3h.6M85.0 82.3h.6M84.6 72.5h.6M88.2 79.7h.6M85.2 75.1h.6M82.0 74.0h.6M88.4 81.0h.6M84.7 78.3h.6M87.7 79.3h.6M87.7 76.4h.6M90.0 76.2h.6M89.6 71.0h.6M85.1 77.2h.6M86.2 78.7h.6M83.1 76.1h.6M91.4 77.7h.6M87.9 79.2h.6M90.6 69.7h.6M85.8 81.5h.6M80.9 82.2h.6M91.0 76.8h.6M86.9 81.9h.6M87.0 85.3h.6M86.8 75.0h.6M88.5 80.4h.6M88.2 79.7h.6M82.2 81.4h.6M89.7 80.6h.6M85.2 82.6h.6M85.4 78.5h.6M91.5 68.8h.6M89.3 75.1h.6M85.7 76.4h.6M81.5 85.4h.6M87.1 78.4h.6M88.2 81.8h.6M86.5 76.0h.6M83.2 80.5h.6M84.5 79.2h.6M83.2 80.1h.6M87.3 80.2h.6M89.0 82.7h.6M89.5 75.5h.6M84.6 83.8h.6M87.3 82.1h.6M88.2 78.9h.6M85.2 81.4h.6M86.3 77.8h.6M92.6 73.0h.6M87.3 77.5h.6M89.1 76.9h.6M85.5 78.9h.6M86.8 75.6h.6M81.9 86.3h.6M86.6 77.3h.6M90.0 80.3h.6M92.5 80.4h.6M90.0 77.3h.6M88.6 79.1h.6M86.8 76.5h.6M85.0 75.5h.6M86.2 86.3h.6M88.4 78.1h.6M84.5 72.9h.6M89.3 74.7h.6M83.9 74.8h.6M81.7 80.0h.6M83.8 84.3h.6M82.0 83.9h.6M82.8 77.6h.6M89.8 74.2h.6M86.1 81.1h.6M87.3 79.2h.6M89.9 76.4h.6M90.2 83.0h.6M85.3 80.2h.6M90.4 71.8h.6M87.8 70.9h.6M86.7 78.9h.6M87.9 72.0h.6M82.7 81.7h.6M84.5 82.0h.6M86.4 86.0h.6M88.4 74.7h.6M85.6 80.1h.6M86.3 70.9h.6M89.4 76.4h.6M90.6 76.4h.6M88.8 83.6h.6M90.2 72.3h.6M85.5 80.1h.6M85.8 79.3h.6M87.6 85.4h.6M85.8 75.8h.6M85.3 75.8h.6M91.3 78.8h.6M86.1 78.4h.6M84.0 78.2h.6M88.0 74.8h.6M91.8 76.3h.6M86.9 72.8h.6M90.1 78.0h.6M85.5 80.9h.6M85.3 80.5h.6M84.7 87.5h.6M86.3 81.3h.6M91.8 73.3h.6M83.4 78.8h.6M91.3 79.5h.6M83.9 78.4h.6M86.0 85.4h.6M89.0 78.6h.6M88.4 76.1h.6M87.5 75.9h.6M82.1 82.7h.6M87.7 75.1h.6M83.8 73.4h.6M93.9 77.2h.6M86.1 76.3h.6M87.2 83.4h.6M83.5 86.1h.6M85.3 77.0h.6M83.1 79.7h.6M89.4 76.8h.6M85.9 80.7h.6M88.3 78.9h.6M84.8 76.5h.6M85.3 73.4h.6M90.3 77.9h.6M84.0 84.9h.6M81.6 76.2h.6M87.8 76.1h.6M83.5 77.4h.6M85.4 78.3h.6M89.2 69.9h.6M84.4 79.1h.6M89.1 75.9h.6M84.8 85.3h.6M90.8 78.8h.6M90.4 79.4h.6M85.4 79.1h.6M86.1 77.6h.6M84.3 81.8h.6M87.2 72.6h.6M89.9 80.8h.6M82.6 81.5h.6M89.2 76.7h.6M83.0 84.0h.6M84.3 77.5h.6M81.7 78.2h.6M92.6 77.3h.6M86.8 72.1h.6M87.4 78.0h.6M84.8 78.3h.6M89.7 80.5h.6M80.8 86.2h.6M86.8 80.5h.6M92.9 77.3h.6M85.6 80.4h.6M86.7 75.9h.6M88.6 85.6h.6M84.4 83.0h.6M86.7 84.5h.6M89.4 73.1h.6M87.2 80.1h.6M87.7 79.8h.6M85.7 82.5h.6M87.6 75.2h.6M86.8 79.8h.6M90.7 76.2h.6M88.7 84.4h.6M86.0 74.9h.6M79.8 79.7h.6M88.7 75.9h.6M88.8 73.6h.6M84.1 80.1h.6M81.1 81.1h.6M83.5 77.3h.6M89.3 76.1h.6M83.7 80.4h.6M85.4 78.8h.6M87.3 79.9h.6M90.1 74.9h.6M86.6 75.4h.6M86.4 78.6h.6M85.1 72.9h.6M91.2 81.8h.6M89.7 78.1h.6M86.4 72.9h.6M82.8 81.3h.6M84.5 84.6h.6M88.3 73.3h.6M84.7 77.4h.6M89.2 81.5h.6M87.7 75.5h.6M87.5 81.5h.6M88.5 82.2h.6M88.1 78.5h.6M84.3 80.9h.6M85.8 82.4h.6M93.2 77.3h.6M83.3 83.0h.6M85.3 78.8h.6M89.7 77.4h.6M86.2 76.2h.6M84.4 80.8h.6M83.0 84.2h.6M88.2 82.3h.6M89.5 78.2h.6M90.6 72.0h.6M86.8 75.6h.6M89.6 79.5h.6M83.8 76.4h.6M87.1 82.1h.6M84.8 75.8h.6M87.2 79.5h.6M88.8 75.2h.6M89.7 75.3h.6M83.9 80.4h.6M90.2 76.1h.6M85.3 82.5h.6M83.8 79.8h.6M86.2 75.1h.6M82.6 66.5h.6M86.7 76.1h.6M87.5 77.9h.6M86.1 82.0h.6M88.2 74.4h.6M85.8 84.2h.6M86.7 81.1h.6M82.6 78.8h.6M86.8 82.4h.6M84.3 74.3h.6M85.4 75.3h.6M86.4 80.4h.6M87.2 80.1h.6M82.1 84.5h.6M82.3 84.7h.6M85.8 77.3h.6M88.0 75.9h.6M87.7 76.9h.6M89.2 76.7h.6M90.3 79.0h.6M88.1 76.8h.6M86.6 83.3h.6M83.8 79.5h.6M84.0 74.6h.6M85.4 74.6h.6M87.4 79.7h.6M87.3 79.3h.6M86.7 73.9h.6M86.2 72.7h.6M88.4 82.7h.6M87.3 79.7h.6M87.5 77.4h.6M87.5 74.1h.6M85.1 81.8h.6M83.8 77.4h.6M88.1 78.9h.6M87.8 70.2h.6M86.1 77.3h.6M85.5 79.3h.6M93.1 77.2h.6M84.6 75.8h.6M86.1 76.4h.6M87.4 81.8h.6M62.9 85.3h.6M41.1 86.3h.6M49.3 89.6h.6M41.7 88.7h.6M41.2 83.1h.6M50.2 82.9h.6M46.1 85.4h.6M67.3 87.0h.6M71.1 81.2h.6M56.5 91.6h.6M44.2 86.9h.6M71.2 84.9h.6M32.7 85.5h.6M70.1 86.7h.6M69.1 87.3h.6M73.6 76.5h.6M56.8 81.8h.6M42.2 80.8h.6M52.7 84.8h.6M67.8 80.2h.6M49.1 82.0h.6M50.0 80.3h.6M40.3 76.2h.6M43.5 86.4h.6M71.7 82.8h.6M66.3 84.4h.6M43.6 99.6h.6M44.7 91.0h.6M52.0 84.9h.6M67.6 81.5h.6M43.5 87.8h.6M57.5 80.1h.6M42.2 87.2h.6M65.8 78.5h.6M72.5 76.7h.6M43.6 83.6h.6M49.0 89.1h.6M71.1 78.0h.6M54.4 85.5h.6M52.3 86.5h.6M67.2 83.6h.6M62.6 86.5h.6M75.5 79.3h.6M71.0 80.7h.6M51.8 80.1h.6M58.2 82.3h.6M59.0 87.7h.6M40.8 86.3h.6M46.2 81.8h.6M73.5 85.3h.6M37.6 74.1h.6M73.9 84.7h.6M63.9 86.6h.6M57.9 80.0h.6M67.5 81.0h.6M66.6 84.2h.6M76.9 84.4h.6M54.3 83.1h.6M56.7 81.3h.6M56.5 81.6h.6M86.3 84.2h.6M73.2 82.0h.6M46.9 81.9h.6M55.2 81.7h.6M50.0 97.5h.6M60.1 88.1h.6M62.9 87.4h.6M92.1 83.5h.6M34.3 85.3h.6M74.4 79.9h.6M66.1 81.7h.6M50.1 85.6h.6M57.8 84.5h.6M53.0 77.8h.6M60.7 86.9h.6M74.1 82.4h.6M38.6 79.5h.6M78.4 82.0h.6M54.7 93.0h.6M81.1 81.7h.6M65.8 85.7h.6M77.3 83.9h.6M67.9 79.8h.6M75.2 81.7h.6M60.8 85.5h.6M48.3 81.6h.6M69.4 82.2h.6M70.0 83.5h.6M89.4 81.6h.6M57.2 86.0h.6M74.9 85.5h.6M42.4 85.4h.6M56.8 88.5h.6M89.7 87.8h.6M79.9 78.1h.6M47.7 86.2h.6M80.0 83.4h.6M76.6 84.1h.6M70.9 83.8h.6M65.4 84.1h.6M63.4 84.0h.6M47.9 88.4h.6M52.8 81.2h.6M70.3 86.7h.6M62.0 80.2h.6M86.0 90.7h.6M55.4 89.0h.6M55.4 85.4h.6M64.0 87.0h.6M65.5 82.7h.6M61.0 88.6h.6M48.6 84.9h.6M81.0 92.2h.6M50.8 86.8h.6M70.1 86.5h.6M56.1 82.6h.6M43.3 81.9h.6M79.9 86.8h.6M48.2 87.6h.6M66.2 92.4h.6M55.1 94.3h.6M70.7 77.7h.6M58.8 84.9h.6M53.8 87.5h.6M90.4 85.7h.6M79.6 97.1h.6M86.6 113.5h.6M82.5 82.8h.6M87.9 103.0h.6M82.2 117.2h.6M76.0 109.6h.6M85.2 102.1h.6M81.7 91.2h.6M82.0 105.0h.6M87.2 89.9h.6M82.0 105.5h.6M86.1 72.2h.6M82.7 90.5h.6M80.6 78.4h.6M84.2 104.5h.6M81.0 90.5h.6M86.3 102.6h.6M85.5 88.3h.6M82.9 89.1h.6M84.5 109.9h.6M84.4 105.6h.6M81.9 107.6h.6M85.3 108.5h.6M82.1 103.3h.6M84.5 103.8h.6M80.0 111.6h.6M83.0 94.6h.6M83.9 89.7h.6M80.5 110.0h.6M81.5 102.0h.6M81.2 96.8h.6M84.8 96.6h.6M80.7 104.0h.6M84.0 87.1h.6M87.1 84.6h.6M83.8 88.6h.6M78.1 101.0h.6M83.1 76.4h.6M85.7 77.0h.6M81.9 100.3h.6M85.9 94.8h.6M84.5 83.1h.6M84.0 102.7h.6M82.0 92.5h.6M81.3 96.4h.6M82.0 103.1h.6M82.9 97.9h.6M84.3 109.9h.6M84.0 100.2h.6M81.9 115.7h.6M82.9 73.7h.6M83.9 80.5h.6M78.1 87.2h.6M80.5 94.4h.6M80.5 87.8h.6M82.2 84.0h.6M82.0 86.6h.6M82.0 87.5h.6M80.2 106.4h.6M84.7 90.4h.6M83.6 100.5h.6M78.0 110.5h.6M82.8 106.8h.6M79.5 93.9h.6M87.7 82.4h.6M81.5 109.9h.6M81.6 79.8h.6M83.0 81.5h.6M82.2 99.9h.6M82.6 100.4h.6M87.2 93.5h.6M83.4 86.0h.6M85.2 97.9h.6M86.0 104.3h.6M80.0 94.5h.6M87.6 112.5h.6M84.8 93.2h.6M85.5 82.8h.6M80.3 94.6h.6M85.1 86.8h.6M84.0 90.3h.6M81.2 89.9h.6M89.4 90.0h.6M84.4 102.8h.6M82.1 98.5h.6M83.3 96.2h.6M85.4 82.0h.6M86.0 78.0h.6M84.5 90.7h.6M86.3 100.8h.6M87.0 100.0h.6M79.2 100.1h.6M81.4 83.5h.6M80.1 94.5h.6M83.1 96.2h.6M86.9 100.4h.6M84.7 86.1h.6M79.8 95.2h.6M81.9 97.0h.6M85.7 92.9h.6M81.3 80.7h.6M82.5 97.6h.6M83.7 79.0h.6M77.5 87.5h.6M85.0 93.9h.6M83.8 86.7h.6M84.4 96.0h.6M80.0 105.8h.6M80.6 100.0h.6M81.1 105.8h.6M83.5 90.5h.6M83.0 95.6h.6M83.2 90.2h.6M87.9 84.4h.6M86.5 123.4h.6M80.7 94.3h.6M80.9 114.6h.6M87.7 90.9h.6M81.9 105.0h.6M86.8 92.2h.6M87.4 79.6h.6M81.2 113.4h.6M82.0 94.6h.6M83.0 96.5h.6M80.3 115.8h.6M80.0 91.6h.6M81.6 96.4h.6M85.2 99.1h.6M81.5 103.7h.6M82.2 65.3h.6M81.4 100.6h.6M78.9 115.9h.6M87.1 102.0h.6M76.0 104.0h.6M80.9 100.9h.6M84.4 95.6h.6M78.8 108.7h.6M84.5 89.5h.6M86.4 98.1h.6M80.3 110.7h.6M83.4 103.4h.6M79.6 101.8h.6M84.2 86.7h.6M83.0 91.1h.6M83.4 98.7h.6M86.7 93.0h.6M84.1 92.9h.6M86.7 73.6h.6M84.6 100.6h.6M79.3 93.8h.6M83.5 88.4h.6M84.2 104.1h.6M78.6 96.9h.6M86.6 91.7h.6M83.0 100.3h.6M83.8 89.7h.6M80.2 87.8h.6M83.0 84.9h.6M83.6 97.2h.6M81.8 94.7h.6M95.6 95.7h.6M50.1 126.3h.6M67.5 110.4h.6M76.3 90.4h.6M66.6 97.9h.6M73.3 103.7h.6M74.5 109.7h.6M81.5 103.3h.6M61.7 114.2h.6M67.2 110.7h.6M63.9 81.9h.6M59.3 113.9h.6M64.4 119.9h.6M49.7 111.8h.6M74.4 111.5h.6M87.0 108.6h.6M87.1 106.5h.6M81.4 99.7h.6M51.9 111.3h.6M84.6 117.5h.6M55.2 114.1h.6M63.9 106.4h.6M88.9 109.6h.6M50.5 103.1h.6M75.7 100.9h.6M68.3 119.2h.6M62.6 108.1h.6M53.1 94.7h.6M70.2 94.8h.6M58.5 112.6h.6M78.4 99.2h.6M80.7 113.4h.6M46.5 128.4h.6M58.0 107.0h.6M60.4 109.3h.6M49.1 109.4h.6M49.9 114.2h.6M65.8 107.4h.6M61.9 116.1h.6M42.9 111.1h.6M57.5 104.5h.6M71.5 109.7h.6M48.7 106.6h.6M52.5 130.0h.6M85.5 113.4h.6M82.0 93.3h.6M43.3 98.9h.6M46.8 112.3h.6M69.6 110.6h.6M48.9 126.1h.6M61.3 108.0h.6M58.7 104.7h.6M72.0 123.0h.6M35.6 112.6h.6M48.5 110.2h.6M78.0 118.3h.6M62.6 106.1h.6M42.1 129.8h.6M71.1 95.3h.6M73.9 107.3h.6M61.4 122.3h.6M60.3 99.0h.6M70.4 98.6h.6M80.5 113.2h.6M66.6 89.6h.6M71.6 118.6h.6M64.0 107.9h.6M59.6 100.7h.6M68.0 100.5h.6M60.7 112.2h.6M61.4 111.6h.6M76.9 118.1h.6M71.0 106.1h.6M76.1 118.5h.6M43.9 124.4h.6M72.0 113.3h.6M56.9 124.0h.6M54.0 98.3h.6M53.4 125.7h.6M80.6 114.2h.6M75.5 111.2h.6M55.2 112.8h.6M49.6 106.6h.6M64.8 103.0h.6M58.6 114.9h.6M86.5 109.4h.6M45.4 114.7h.6M40.5 108.4h.6M61.3 104.9h.6M64.8 115.5h.6M66.4 129.6h.6M74.5 88.4h.6M91.9 95.6h.6M60.1 109.2h.6M57.5 109.1h.6M41.5 120.8h.6M67.8 119.4h.6M75.9 111.3h.6M61.2 113.6h.6M80.2 113.1h.6M65.0 124.3h.6M84.6 109.2h.6M69.0 104.3h.6M50.7 118.5h.6M56.2 112.4h.6M41.7 117.8h.6M68.1 111.1h.6M76.1 119.6h.6M90.4 121.2h.6M63.9 107.0h.6M61.5 119.0h.6M50.0 109.4h.6M77.6 111.7h.6M69.7 103.7h.6M56.8 115.6h.6M73.7 122.8h.6M72.0 109.9h.6M40.0 119.3h.6M74.4 102.3h.6M66.4 114.5h.6M59.5 115.5h.6M59.1 103.9h.6M87.6 94.6h.6M84.8 99.0h.6M88.7 95.6h.6M49.5 109.8h.6M56.0 105.4h.6M76.5 99.8h.6M48.7 110.5h.6M55.1 112.2h.6M40.9 114.7h.6M89.0 82.7h.6M78.6 107.4h.6M70.7 111.6h.6M67.5 113.5h.6M59.1 112.2h.6M59.4 109.6h.6M72.7 119.5h.6M55.2 131.4h.6M80.8 104.3h.6M58.1 127.2h.6M53.1 110.8h.6M81.7 105.5h.6M62.7 100.3h.6M71.9 93.4h.6M59.2 108.5h.6M35.0 122.5h.6M71.8 120.1h.6M46.9 122.1h.6M78.9 107.1h.6M40.1 115.5h.6M68.7 109.9h.6M70.2 103.4h.6M66.0 113.5h.6M48.6 113.3h.6M76.3 115.0h.6M45.3 119.4h.6M58.5 128.7h.6M54.2 111.9h.6M59.6 97.3h.6M75.8 106.7h.6M56.3 109.1h.6M72.1 118.2h.6M73.8 95.2h.6M42.1 123.0h.6M49.3 106.6h.6M59.6 110.8h.6M56.8 121.5h.6M68.7 100.1h.6M39.2 116.3h.6M74.1 106.9h.6M74.4 104.3h.6M62.4 111.4h.6M46.4 118.3h.6M64.7 106.3h.6M57.5 116.1h.6M72.1 108.4h.6M63.5 117.2h.6M74.2 122.5h.6M58.9 118.3h.6M83.6 111.1h.6M34.3 117.4h.6M51.2 102.6h.6M71.1 125.1h.6M44.7 114.0h.6M74.3 129.3h.6M48.6 124.1h.6M65.8 115.2h.6M58.8 129.4h.6M66.9 108.7h.6M63.2 110.3h.6M59.6 112.9h.6M93.0 111.9h.6M64.7 90.5h.6M51.8 115.1h.6M76.8 116.1h.6M75.4 92.5h.6M80.7 101.3h.6M88.2 108.9h.6M52.3 102.3h.6M78.6 106.1h.6M79.6 101.3h.6M64.6 108.5h.6M67.8 119.6h.6M57.1 110.9h.6M88.2 114.9h.6M41.1 123.1h.6M57.6 103.3h.6M68.4 113.3h.6M72.2 108.6h.6M86.1 99.7h.6M41.4 114.7h.6M65.2 124.9h.6M84.4 101.2h.6M89.8 105.3h.6M88.5 88.0h.6M102.1 75.9h.6M79.4 60.2h.6M86.9 72.7h.6M101.6 75.9h.6M67.6 73.7h.6M104.3 70.2h.6M104.3 101.1h.6M87.0 81.8h.6M106.2 88.5h.6M88.3 96.6h.6M56.9 102.5h.6M93.4 103.4h.6M78.8 99.1h.6M80.3 116.6h.6M75.6 84.9h.6M97.5 94.7h.6M82.9 92.4h.6M60.3 88.2h.6M81.6 81.2h.6M86.1 105.0h.6M59.7 96.2h.6M65.0 123.3h.6" stroke="#000" stroke-width="0.6" fill="none"/>
<text x="36" y="41.3" font-size="11.7" stroke="#000" stroke-width="0.25">Solvent control</text>
<text x="101.2" y="65.5" font-size="5.7" font-weight="bold" stroke="#000" stroke-width="0.12">24.2</text>
<text x="40.4" y="106.8" font-size="5.7" font-weight="bold" stroke="#000" stroke-width="0.12">66.8</text>
<text x="101.2" y="106.8" font-size="5.7" font-weight="bold" stroke="#000" stroke-width="0.12">4.6</text>
<text x="30.7" y="142.9" font-size="6.7" font-weight="bold" stroke="#000" stroke-width="0.15">10<tspan dy="-2.9" font-size="3">0</tspan></text>
<text transform="translate(29.7 135.9) rotate(-90)" font-size="6.7" font-weight="bold" stroke="#000" stroke-width="0.15">10<tspan dy="-2.9" font-size="3">0</tspan></text>
<text x="51.5" y="142.9" font-size="6.7" font-weight="bold" stroke="#000" stroke-width="0.15">10<tspan dy="-2.9" font-size="3">1</tspan></text>
<text transform="translate(29.7 115.4) rotate(-90)" font-size="6.7" font-weight="bold" stroke="#000" stroke-width="0.15">10<tspan dy="-2.9" font-size="3">1</tspan></text>
<text x="72.4" y="142.9" font-size="6.7" font-weight="bold" stroke="#000" stroke-width="0.15">10<tspan dy="-2.9" font-size="3">2</tspan></text>
<text transform="translate(29.7 94.9) rotate(-90)" font-size="6.7" font-weight="bold" stroke="#000" stroke-width="0.15">10<tspan dy="-2.9" font-size="3">2</tspan></text>
<text x="93.2" y="142.9" font-size="6.7" font-weight="bold" stroke="#000" stroke-width="0.15">10<tspan dy="-2.9" font-size="3">3</tspan></text>
<text transform="translate(29.7 74.4) rotate(-90)" font-size="6.7" font-weight="bold" stroke="#000" stroke-width="0.15">10<tspan dy="-2.9" font-size="3">3</tspan></text>
<text x="114.1" y="142.9" font-size="6.7" font-weight="bold" stroke="#000" stroke-width="0.15">10<tspan dy="-2.9" font-size="3">4</tspan></text>
<text transform="translate(29.7 53.9) rotate(-90)" font-size="6.7" font-weight="bold" stroke="#000" stroke-width="0.15">10<tspan dy="-2.9" font-size="3">4</tspan></text>
</g>
<g>
<rect x="131.1" y="53.3" width="82.3" height="82.0" fill="none" stroke="#5a5a5a" stroke-width="1"/>
<path d="M178.1 53.3V135.3M131.1 96.5H213.4" stroke="#5a5a5a" stroke-width="1" fill="none"/>
<path d="M182.8 91.1h.6M183.8 86.6h.6M195.8 80.2h.6M184.2 85.2h.6M192.2 81.4h.6M195.6 88.7h.6M188.9 82.8h.6M196.2 70.1h.6M196.9 75.0h.6M193.8 75.8h.6M198.7 72.9h.6M192.7 82.0h.6M188.0 89.8h.6M192.3 75.9h.6M189.0 77.2h.6M186.0 81.8h.6M186.1 82.4h.6M198.5 73.3h.6M188.7 82.8h.6M190.5 80.0h.6M188.2 82.9h.6M191.0 79.3h.6M189.7 86.6h.6M189.1 85.4h.6M186.4 81.6h.6M185.7 86.6h.6M188.0 95.1h.6M191.6 79.9h.6M197.7 87.2h.6M194.2 69.1h.6M196.9 73.0h.6M192.2 76.6h.6M190.3 84.7h.6M186.0 90.2h.6M190.6 82.3h.6M183.2 86.7h.6M189.5 85.8h.6M196.2 76.2h.6M191.7 77.0h.6M194.5 75.3h.6M189.3 87.3h.6M185.8 95.4h.6M188.9 82.4h.6M189.2 85.5h.6M194.8 75.9h.6M197.4 68.0h.6M188.0 75.0h.6M189.4 80.7h.6M190.1 76.1h.6M189.4 74.0h.6M186.3 84.2h.6M190.9 79.6h.6M191.9 76.0h.6M191.9 80.3h.6M186.4 86.7h.6M190.2 85.1h.6M184.6 85.6h.6M193.8 81.8h.6M187.1 79.9h.6M189.7 83.5h.6M189.1 75.1h.6M188.6 76.7h.6M187.0 89.9h.6M184.5 80.4h.6M196.6 78.6h.6M191.5 73.7h.6M191.5 77.9h.6M197.9 75.9h.6M190.3 78.1h.6M192.5 82.4h.6M190.7 79.4h.6M194.7 76.1h.6M192.4 80.5h.6M191.7 78.4h.6M189.7 86.6h.6M191.6 77.6h.6M194.7 84.0h.6M183.5 83.4h.6M190.2 79.1h.6M189.2 78.7h.6M189.6 84.6h.6M183.8 71.3h.6M193.2 80.3h.6M187.7 82.5h.6M189.8 85.3h.6M188.9 75.3h.6M184.9 87.6h.6M189.1 77.3h.6M184.3 90.4h.6M187.4 81.9h.6M189.5 83.6h.6M190.6 76.5h.6M190.8 82.3h.6M190.2 85.6h.6M198.0 73.3h.6M192.1 85.7h.6M186.4 88.8h.6M188.5 78.8h.6M188.4 91.8h.6M190.0 77.7h.6M188.5 84.5h.6M187.7 87.6h.6M196.3 75.5h.6M190.8 77.8h.6M189.5 84.7h.6M189.8 82.4h.6M189.9 77.6h.6M195.5 73.7h.6M192.3 79.9h.6M194.5 81.8h.6M179.9 93.6h.6M191.8 83.0h.6M194.3 74.9h.6M197.5 73.0h.6M190.7 79.3h.6M184.7 78.6h.6M192.7 80.8h.6M188.6 84.3h.6M184.4 87.4h.6M188.5 73.2h.6M194.3 88.1h.6M194.8 76.4h.6M193.1 76.8h.6M187.0 83.3h.6M199.3 63.0h.6M186.6 78.2h.6M190.4 77.3h.6M185.7 88.9h.6M195.2 75.0h.6M192.2 81.5h.6M193.7 78.3h.6M191.0 79.6h.6M190.4 83.3h.6M191.3 77.3h.6M184.1 77.8h.6M194.1 73.2h.6M193.8 77.4h.6M189.3 91.1h.6M190.6 75.6h.6M191.7 74.8h.6M196.1 77.7h.6M192.2 82.0h.6M190.8 77.5h.6M188.9 86.0h.6M185.5 80.8h.6M188.6 87.5h.6M190.9 85.0h.6M189.8 81.3h.6M190.9 87.6h.6M193.2 78.8h.6M192.2 77.0h.6M191.6 86.4h.6M192.9 74.6h.6M191.3 82.9h.6M190.6 78.2h.6M192.3 78.5h.6M184.7 87.4h.6M195.0 80.0h.6M186.2 92.3h.6M193.6 81.9h.6M190.7 84.4h.6M194.5 69.9h.6M190.8 75.7h.6M187.4 89.7h.6M194.4 74.1h.6M191.3 79.1h.6M191.1 82.2h.6M191.0 78.2h.6M194.2 74.3h.6M193.5 81.3h.6M191.5 81.4h.6M185.3 83.9h.6M189.3 86.4h.6M191.1 79.5h.6M196.9 76.4h.6M192.0 82.9h.6M190.4 84.9h.6M194.8 76.1h.6M190.3 76.7h.6M190.6 79.1h.6M191.2 84.4h.6M185.5 80.9h.6M194.0 77.4h.6M192.2 76.7h.6M189.7 75.8h.6M186.8 87.9h.6M191.4 80.8h.6M195.5 79.9h.6M188.5 86.5h.6M187.0 73.8h.6M192.2 75.1h.6M185.2 93.2h.6M183.0 84.3h.6M189.2 84.5h.6M188.3 76.9h.6M189.8 81.0h.6M188.8 82.9h.6M191.9 79.1h.6M190.0 79.4h.6M188.6 82.0h.6M189.1 82.9h.6M192.9 79.7h.6M194.0 75.7h.6M193.8 83.7h.6M193.1 78.8h.6M179.3 89.7h.6M187.3 85.5h.6M189.6 77.9h.6M191.4 86.3h.6M185.1 86.6h.6M195.6 81.0h.6M191.8 77.2h.6M188.6 84.5h.6M191.3 80.0h.6M189.5 79.7h.6M188.1 90.2h.6M192.5 77.1h.6M189.2 85.4h.6M185.8 85.5h.6M188.5 82.8h.6M190.3 77.0h.6M187.0 79.9h.6M195.1 68.9h.6M187.0 82.6h.6M196.8 78.4h.6M193.8 80.7h.6M187.5 79.9h.6M191.2 72.6h.6M194.8 75.9h.6M190.1 83.9h.6M186.6 82.4h.6M191.1 79.1h.6M197.6 75.3h.6M185.6 88.0h.6M192.7 91.3h.6M190.8 83.1h.6M190.3 75.9h.6M189.4 80.6h.6M189.6 92.0h.6M194.3 77.9h.6M192.8 87.9h.6M187.3 73.6h.6M196.1 75.7h.6M186.3 89.7h.6M193.0 75.1h.6M191.4 83.9h.6M194.9 74.8h.6M192.0 79.6h.6M194.4 83.5h.6M190.7 77.5h.6M194.1 84.5h.6M192.0 73.3h.6M198.2 74.7h.6M188.4 87.3h.6M194.9 86.2h.6M192.4 71.6h.6M191.4 73.2h.6M188.8 88.1h.6M192.3 71.5h.6M185.7 83.6h.6M186.0 85.2h.6M193.2 79.2h.6M185.4 85.9h.6M195.7 70.0h.6M189.8 80.6h.6M191.6 88.8h.6M191.0 70.4h.6M192.2 75.3h.6M189.8 86.5h.6M189.5 83.2h.6M190.3 85.2h.6M194.4 77.6h.6M194.7 75.8h.6M195.2 76.1h.6M192.0 82.5h.6M190.1 84.9h.6M185.0 80.9h.6M193.0 79.4h.6M193.7 67.6h.6M189.4 85.5h.6M193.6 74.7h.6M195.2 77.0h.6M191.1 84.0h.6M194.4 71.3h.6M191.8 79.2h.6M184.8 89.3h.6M189.2 83.3h.6M189.4 76.8h.6M192.6 85.1h.6M187.8 76.2h.6M189.3 78.4h.6M187.5 84.4h.6M190.7 74.2h.6M191.0 72.0h.6M194.2 75.2h.6M193.5 77.7h.6M191.4 71.3h.6M191.6 72.8h.6M191.2 84.7h.6M191.2 81.3h.6M196.1 77.6h.6M182.2 89.0h.6M190.2 88.2h.6M191.9 75.4h.6M194.7 77.3h.6M187.0 82.9h.6M192.0 72.9h.6M193.8 81.1h.6M189.2 82.0h.6M184.2 84.2h.6M189.5 83.6h.6M186.6 84.2h.6M193.0 75.2h.6M187.8 82.8h.6M196.9 69.6h.6M191.3 83.8h.6M188.0 81.7h.6M189.0 88.7h.6M187.0 84.0h.6M192.1 82.9h.6M195.9 70.2h.6M190.0 77.5h.6M194.0 75.7h.6M187.5 74.1h.6M191.9 72.8h.6M198.8 71.2h.6M185.9 87.5h.6M195.0 84.4h.6M194.8 77.7h.6M184.3 87.1h.6M185.8 87.4h.6M187.4 84.5h.6M194.1 86.0h.6M189.3 74.5h.6M190.2 86.5h.6M193.2 82.0h.6M191.2 77.5h.6M191.6 87.8h.6M189.7 77.0h.6M194.7 73.1h.6M188.1 84.1h.6M196.6 81.5h.6M189.6 83.7h.6M188.0 91.6h.6M193.0 72.2h.6M192.3 79.1h.6M183.9 89.3h.6M191.5 84.4h.6M186.1 81.3h.6M187.9 75.4h.6M193.5 84.7h.6M187.8 85.6h.6M192.0 88.2h.6M189.5 78.3h.6M197.5 74.8h.6M190.4 69.9h.6M186.7 84.2h.6M187.0 85.5h.6M187.6 86.4h.6M191.2 76.1h.6M190.8 88.5h.6M194.1 74.4h.6M191.3 79.0h.6M191.2 82.7h.6M191.9 84.1h.6M190.3 75.8h.6M191.8 70.8h.6M193.5 80.7h.6M193.5 76.0h.6M188.9 73.5h.6M184.6 88.2h.6M188.0 83.9h.6M191.7 85.8h.6M182.1 87.7h.6M189.1 82.2h.6M192.3 81.5h.6M188.8 85.7h.6M186.9 91.2h.6M196.8 82.6h.6M195.5 81.8h.6M189.8 78.2h.6M195.3 79.7h.6M195.2 81.4h.6M186.8 80.3h.6M200.0 71.0h.6M187.5 86.7h.6M189.8 84.3h.6M186.9 80.2h.6M191.0 78.6h.6M186.2 88.1h.6M190.7 79.5h.6M194.5 78.0h.6M191.5 74.6h.6M189.8 85.5h.6M196.1 72.3h.6M187.6 80.8h.6M194.1 83.1h.6M189.7 76.3h.6M191.5 75.6h.6M190.8 87.0h.6M191.1 70.6h.6M190.5 86.4h.6M188.0 87.1h.6M188.7 83.7h.6M192.2 75.7h.6M190.3 78.1h.6M186.7 84.1h.6M188.2 75.8h.6M188.3 80.5h.6M190.5 74.0h.6M191.3 66.4h.6M191.0 79.5h.6M188.4 95.0h.6M190.7 82.8h.6M185.9 89.5h.6M180.7 87.7h.6M190.5 80.3h.6M184.9 91.0h.6M187.4 88.8h.6M186.5 85.1h.6M192.8 80.0h.6M186.5 96.6h.6M191.6 75.2h.6M188.9 81.8h.6M186.4 83.9h.6M185.2 83.3h.6M192.2 84.6h.6M192.0 79.9h.6M193.3 73.6h.6M196.9 70.6h.6M191.6 77.7h.6M191.6 81.4h.6M190.2 85.1h.6M191.0 73.9h.6M189.4 79.0h.6M187.5 85.1h.6M197.5 86.3h.6M184.2 89.8h.6M191.5 89.7h.6M192.1 73.4h.6M191.1 79.4h.6M187.2 86.9h.6M189.9 82.6h.6M189.0 69.0h.6M186.8 77.4h.6M190.4 87.6h.6M189.1 82.5h.6M188.6 88.3h.6M192.9 87.6h.6M186.9 82.6h.6M192.1 67.5h.6M188.4 74.5h.6M192.0 79.4h.6M190.8 82.5h.6M191.4 79.1h.6M187.1 78.1h.6M187.8 90.1h.6M187.6 92.4h.6M191.1 70.9h.6M193.1 77.4h.6M194.2 69.9h.6M188.8 80.9h.6M190.8 73.1h.6M184.9 88.0h.6M182.8 84.0h.6M187.5 75.2h.6M188.2 77.4h.6M185.1 87.1h.6M184.4 80.9h.6M192.3 82.8h.6M187.7 90.1h.6M184.7 82.5h.6M198.5 67.7h.6M191.1 76.1h.6M189.4 88.0h.6M192.8 74.7h.6M187.8 79.3h.6M195.9 79.1h.6M185.2 97.4h.6M186.0 79.0h.6M190.0 76.7h.6M187.8 80.3h.6M195.3 86.0h.6M184.9 92.5h.6M187.9 77.6h.6M191.3 76.1h.6M192.4 76.9h.6M193.9 79.5h.6M191.6 78.0h.6M198.0 77.9h.6M188.8 83.7h.6M191.0 84.8h.6M193.4 77.3h.6M189.3 83.8h.6M189.4 76.8h.6M188.8 78.4h.6M188.2 86.7h.6M186.5 74.4h.6M188.5 88.0h.6M185.1 82.6h.6M191.7 74.4h.6M184.9 78.4h.6M197.5 86.8h.6M196.2 71.4h.6M194.2 71.8h.6M189.7 74.1h.6M188.4 93.8h.6M194.6 81.2h.6M191.0 80.9h.6M192.3 81.7h.6M187.9 75.9h.6M194.0 81.6h.6M187.6 76.7h.6M190.7 77.7h.6M184.4 92.8h.6M188.1 87.7h.6M192.1 82.0h.6M188.8 81.6h.6M188.8 77.0h.6M193.1 79.8h.6M190.1 76.4h.6M194.6 85.8h.6M182.0 102.7h.6M192.3 81.2h.6M192.1 77.2h.6M185.0 86.7h.6M185.9 89.4h.6M193.4 76.5h.6M186.7 73.7h.6M188.2 83.1h.6M192.4 83.1h.6M189.2 86.1h.6M192.0 69.6h.6M187.4 83.3h.6M191.4 77.0h.6M194.1 71.9h.6M191.5 74.5h.6M182.8 91.3h.6M192.6 74.3h.6M190.5 76.4h.6M187.2 80.7h.6M195.1 72.1h.6M184.3 88.3h.6M196.8 76.5h.6M188.2 85.2h.6M195.8 73.0h.6M190.2 84.4h.6M185.8 82.3h.6M190.7 86.3h.6M191.5 80.7h.6M192.2 81.4h.6M194.0 78.8h.6M187.2 82.5h.6M192.0 80.6h.6M192.9 80.1h.6M189.4 92.2h.6M187.1 77.7h.6M187.0 86.6h.6M192.9 80.2h.6M193.1 83.1h.6M187.5 77.9h.6M185.7 89.0h.6M194.6 75.1h.6M185.0 78.9h.6M190.9 72.1h.6M187.6 76.9h.6M184.3 82.3h.6M190.8 86.7h.6M189.7 74.8h.6M195.3 71.1h.6M198.1 70.8h.6M189.7 77.3h.6M193.9 77.9h.6M193.9 80.8h.6M188.5 76.7h.6M187.3 76.6h.6M195.9 82.1h.6M189.1 77.1h.6M190.2 79.7h.6M189.3 77.1h.6M189.9 79.8h.6M188.2 76.7h.6M192.9 73.7h.6M194.6 73.1h.6M189.0 88.9h.6M185.6 80.2h.6M190.5 80.5h.6M185.2 90.4h.6M188.1 78.9h.6M194.6 84.7h.6M198.3 70.3h.6M191.6 71.2h.6M186.7 86.1h.6M193.0 74.1h.6M182.6 84.3h.6M187.9 79.3h.6M195.6 83.8h.6M192.9 75.8h.6M185.6 83.7h.6M184.6 81.3h.6M193.3 78.6h.6M190.2 75.4h.6M188.3 80.9h.6M191.7 76.3h.6M188.4 75.3h.6M183.7 84.8h.6M193.1 73.7h.6M188.1 81.3h.6M186.9 80.7h.6M185.7 86.9h.6M191.2 76.2h.6M187.6 76.6h.6M192.5 79.6h.6M189.4 77.4h.6M194.0 75.8h.6M189.0 87.4h.6M188.1 80.7h.6M183.6 79.1h.6M186.5 86.0h.6M192.8 87.9h.6M200.8 71.9h.6M186.0 87.2h.6M186.8 73.8h.6M191.5 80.1h.6M192.0 79.5h.6M188.0 85.7h.6M190.6 79.3h.6M184.8 87.7h.6M189.3 86.1h.6M193.4 78.7h.6M195.9 80.6h.6M189.8 74.5h.6M189.4 87.3h.6M191.9 79.9h.6M194.1 81.4h.6M192.0 86.4h.6M187.7 74.3h.6M191.6 90.4h.6M193.7 70.9h.6M187.9 89.7h.6M185.7 83.7h.6M192.1 68.0h.6M191.6 90.5h.6M193.7 85.2h.6M190.6 73.9h.6M188.1 81.5h.6M188.8 84.6h.6M186.8 83.5h.6M187.1 88.0h.6M188.4 81.6h.6M188.7 74.5h.6M194.2 79.8h.6M186.1 83.2h.6M190.2 74.8h.6M188.3 72.2h.6M195.5 79.9h.6M191.2 78.5h.6M189.1 84.5h.6M193.1 81.9h.6M190.6 82.6h.6M188.7 85.1h.6M195.6 85.5h.6M192.8 88.9h.6M196.3 79.9h.6M194.3 77.1h.6M193.0 72.6h.6M190.8 83.0h.6M186.6 84.3h.6M192.8 75.6h.6M190.6 76.8h.6M192.7 79.5h.6M190.3 81.0h.6M188.0 73.1h.6M186.9 85.0h.6M192.8 81.4h.6M194.8 85.6h.6M189.4 79.3h.6M191.9 80.9h.6M195.1 67.6h.6M187.5 84.5h.6M189.2 77.5h.6M186.5 78.9h.6M194.4 69.4h.6M191.3 86.6h.6M188.8 74.0h.6M184.7 84.9h.6M189.8 81.7h.6M193.8 79.7h.6M189.4 83.4h.6M188.9 83.5h.6M192.6 90.8h.6M186.1 81.3h.6M190.6 80.2h.6M192.4 83.9h.6M187.7 83.0h.6M187.5 71.3h.6M191.2 78.2h.6M190.0 82.9h.6M189.6 72.7h.6M191.1 84.1h.6M191.1 80.9h.6M187.2 85.8h.6M188.1 83.6h.6M191.9 75.9h.6M194.2 74.9h.6M195.0 80.9h.6M187.5 83.5h.6M194.1 77.5h.6M193.0 80.8h.6M190.3 81.0h.6M192.1 83.0h.6M193.2 82.2h.6M196.5 75.9h.6M186.8 88.6h.6M192.5 77.1h.6M189.9 82.0h.6M189.7 85.8h.6M194.3 80.8h.6M193.2 81.0h.6M186.9 84.1h.6M189.4 80.9h.6M191.2 81.2h.6M185.6 88.6h.6M193.4 71.3h.6M190.2 76.4h.6M191.0 79.7h.6M191.6 75.1h.6M196.6 74.4h.6M190.5 81.9h.6M189.2 81.2h.6M196.4 63.0h.6M188.7 77.0h.6M188.6 76.8h.6M185.7 86.2h.6M194.1 74.9h.6M191.3 68.8h.6M192.0 77.4h.6M191.0 74.9h.6M190.0 74.8h.6M187.7 79.5h.6M187.7 74.8h.6M191.9 78.4h.6M190.8 77.9h.6M196.0 79.6h.6M187.8 69.5h.6M188.8 80.4h.6M186.9 82.8h.6M195.1 70.3h.6M186.2 86.3h.6M193.1 78.7h.6M195.3 80.9h.6M189.9 80.9h.6M192.9 80.8h.6M183.2 83.4h.6M189.1 82.3h.6M184.8 87.9h.6M191.0 81.7h.6M190.5 81.3h.6M187.8 85.2h.6M193.7 73.6h.6M191.6 76.5h.6M188.6 81.3h.6M188.7 87.9h.6M185.4 81.9h.6M189.8 87.5h.6M197.7 74.4h.6M188.0 82.3h.6M191.9 82.5h.6M188.6 86.2h.6M193.2 82.1h.6M191.9 69.4h.6M189.6 82.6h.6M184.3 86.3h.6M188.7 77.3h.6M194.5 75.6h.6M189.6 76.1h.6M192.6 85.2h.6M188.8 87.3h.6M184.1 69.0h.6M191.9 79.8h.6M191.5 81.3h.6M188.5 81.4h.6M189.2 76.7h.6M191.4 85.8h.6M188.4 80.8h.6M191.6 80.0h.6M189.7 77.9h.6M182.4 85.9h.6M189.9 83.7h.6M188.4 86.5h.6M187.6 94.9h.6M191.8 74.8h.6M188.8 89.2h.6M192.3 81.3h.6M194.2 69.7h.6M190.9 82.4h.6M185.2 81.6h.6M187.9 83.6h.6M193.6 74.9h.6M189.6 81.2h.6M187.7 85.3h.6M190.1 74.3h.6M192.2 80.7h.6M191.3 86.6h.6M192.7 80.7h.6M187.6 80.1h.6M189.5 86.9h.6M189.6 77.5h.6M190.4 77.0h.6M183.3 75.6h.6M189.6 84.5h.6M185.9 80.9h.6M195.2 85.4h.6M195.8 78.8h.6M196.2 75.9h.6M193.2 76.6h.6M188.8 82.2h.6M193.7 78.7h.6M189.8 84.2h.6M192.5 81.3h.6M187.4 81.5h.6M188.4 79.4h.6M192.0 76.3h.6M196.5 71.3h.6M190.4 74.9h.6M198.2 83.8h.6M199.9 76.2h.6M186.1 84.8h.6M190.4 83.9h.6M187.2 78.0h.6M190.0 77.4h.6M188.6 82.6h.6M190.2 80.3h.6M193.8 72.0h.6M193.7 80.0h.6M191.4 81.6h.6M190.5 76.2h.6M190.9 78.1h.6M190.9 73.4h.6M192.4 77.4h.6M190.5 77.0h.6M192.2 82.1h.6M186.0 88.6h.6M193.2 78.7h.6M196.4 89.3h.6M191.1 78.2h.6M185.6 79.5h.6M195.1 76.9h.6M189.3 82.6h.6M180.3 83.0h.6M189.7 81.4h.6M192.5 74.3h.6M191.8 68.9h.6M194.7 74.0h.6M192.6 74.5h.6M190.9 77.9h.6M183.7 84.5h.6M186.7 82.2h.6M191.1 79.9h.6M192.8 73.6h.6M187.0 91.2h.6M188.4 83.5h.6M192.1 76.2h.6M183.9 89.7h.6M183.8 86.2h.6M189.7 84.7h.6M191.3 77.9h.6M188.8 77.7h.6M182.6 79.4h.6M190.6 78.1h.6M185.9 87.6h.6M192.7 77.8h.6M190.1 78.1h.6M191.4 73.1h.6M192.7 89.5h.6M188.7 80.2h.6M193.3 87.5h.6M194.7 74.0h.6M191.8 77.5h.6M195.0 74.8h.6M188.3 77.9h.6M193.6 76.4h.6M191.4 83.1h.6M187.1 81.5h.6M190.2 75.0h.6M188.7 82.6h.6M188.6 81.9h.6M190.8 86.4h.6M194.1 72.3h.6M189.4 83.9h.6M190.9 84.0h.6M185.5 86.6h.6M190.8 84.6h.6M194.4 78.9h.6M193.3 72.3h.6M192.1 75.6h.6M188.7 75.0h.6M187.1 75.9h.6M190.2 85.3h.6M185.9 81.7h.6M186.3 76.5h.6M193.7 67.0h.6M187.3 89.9h.6M196.6 83.0h.6M185.6 82.0h.6M192.0 81.2h.6M186.5 88.5h.6M191.1 78.4h.6M186.9 87.2h.6M190.6 91.7h.6M189.9 81.2h.6M188.9 81.2h.6M192.2 76.2h.6M195.6 72.2h.6M188.5 81.3h.6M193.5 79.6h.6M190.8 83.7h.6M190.4 88.8h.6M198.0 77.2h.6M183.0 81.4h.6M188.2 79.2h.6M184.3 75.3h.6M189.4 82.2h.6M189.7 90.0h.6M203.5 66.9h.6M191.7 74.7h.6M196.6 81.8h.6M194.9 85.3h.6M189.0 81.1h.6M192.1 76.0h.6M196.2 81.9h.6M191.1 81.9h.6M191.2 84.0h.6M192.2 85.2h.6M185.3 91.0h.6M187.7 82.1h.6M191.6 81.7h.6M192.3 82.6h.6M187.3 95.8h.6M189.4 73.0h.6M190.1 85.6h.6M190.0 81.8h.6M192.9 84.5h.6M190.8 78.6h.6M191.0 87.7h.6M185.6 83.9h.6M186.9 84.3h.6M191.6 75.4h.6M185.0 90.2h.6M191.4 83.2h.6M188.2 83.6h.6M187.7 72.6h.6M192.7 86.3h.6M188.2 81.0h.6M187.5 86.1h.6M188.2 80.9h.6M190.7 77.4h.6M199.9 73.0h.6M183.2 84.9h.6M190.4 79.4h.6M189.6 84.2h.6M193.7 79.4h.6M189.2 89.8h.6M182.0 88.8h.6M195.0 81.1h.6M186.7 84.8h.6M190.2 77.3h.6M185.8 82.4h.6M186.7 81.3h.6M188.7 76.6h.6M193.4 90.2h.6M193.3 76.5h.6M188.4 82.4h.6M192.2 80.0h.6M189.2 88.1h.6M190.8 77.8h.6M191.0 74.8h.6M192.6 74.2h.6M188.3 82.8h.6M190.0 78.0h.6M191.2 75.7h.6M190.7 71.7h.6M187.7 76.8h.6M196.3 75.7h.6M188.8 81.5h.6M193.0 78.0h.6M191.1 79.2h.6M194.6 80.1h.6M182.9 82.6h.6M197.5 78.9h.6M189.7 85.3h.6M186.2 82.2h.6M190.9 83.3h.6M198.2 76.2h.6M192.2 89.7h.6M186.2 80.1h.6M188.8 82.0h.6M195.0 78.0h.6M185.6 82.2h.6M189.8 80.3h.6M189.4 85.0h.6M197.9 65.5h.6M189.4 83.8h.6M194.9 72.7h.6M188.1 73.6h.6M187.7 85.9h.6M193.9 77.8h.6M192.6 83.2h.6M184.5 80.1h.6M192.6 80.8h.6M192.6 84.6h.6M188.3 76.0h.6M191.2 75.8h.6M191.3 84.5h.6M188.7 76.3h.6M188.4 81.4h.6M188.1 69.3h.6M189.5 73.1h.6M185.8 87.0h.6M190.3 82.3h.6M185.3 89.0h.6M190.7 80.0h.6M190.1 80.8h.6M186.9 79.9h.6M193.3 78.2h.6M197.1 83.1h.6M195.0 81.4h.6M185.7 77.4h.6M194.8 71.9h.6M191.2 81.1h.6M190.2 81.7h.6M188.4 83.2h.6M190.4 80.8h.6M195.2 85.5h.6M192.3 75.1h.6M189.0 85.1h.6M188.1 81.9h.6M189.0 94.3h.6M192.4 78.2h.6M196.8 69.5h.6M186.8 94.5h.6M190.4 73.4h.6M189.1 79.5h.6M187.8 86.4h.6M191.8 87.6h.6M192.3 73.8h.6M185.5 83.2h.6M186.9 80.6h.6M194.5 79.1h.6M191.5 83.9h.6M192.2 75.3h.6M188.7 86.8h.6M189.1 77.4h.6M192.0 87.9h.6M188.7 86.7h.6M186.6 90.8h.6M190.4 74.4h.6M193.5 87.1h.6M186.9 89.1h.6M194.0 74.9h.6M192.8 77.9h.6M187.4 72.3h.6M190.4 71.8h.6M190.3 77.9h.6M192.6 75.9h.6M192.7 88.1h.6M185.9 88.5h.6M185.8 85.9h.6M193.9 79.1h.6M190.8 87.3h.6M191.8 84.4h.6M191.5 84.2h.6M195.6 71.7h.6M186.3 81.9h.6M194.1 79.7h.6M187.6 84.3h.6M192.9 77.6h.6M195.0 80.9h.6M185.7 85.7h.6M191.8 88.3h.6M189.5 78.3h.6M189.4 76.9h.6M190.5 79.0h.6M186.8 81.2h.6M187.1 81.5h.6M192.7 69.2h.6M193.3 77.7h.6M188.5 88.8h.6M185.4 89.7h.6M198.3 71.5h.6M194.2 72.8h.6M191.6 76.2h.6M186.9 79.4h.6M188.4 81.4h.6M191.2 87.5h.6M187.1 86.8h.6M195.9 85.7h.6M190.9 82.4h.6M191.7 86.6h.6M186.9 83.0h.6M187.3 84.0h.6M187.7 92.5h.6M191.3 76.6h.6M189.5 77.8h.6M189.4 88.4h.6M191.5 79.4h.6M191.2 76.8h.6M195.5 78.5h.6M189.7 77.2h.6M187.0 82.5h.6M190.4 75.6h.6M195.4 76.2h.6M188.5 83.1h.6M190.6 78.3h.6M189.2 77.9h.6M191.8 78.6h.6M191.3 82.5h.6M187.6 86.9h.6M189.6 83.3h.6M193.6 81.3h.6M194.1 77.1h.6M193.5 77.7h.6M193.3 79.1h.6M189.3 81.8h.6M189.2 81.0h.6M193.6 70.8h.6M186.4 78.0h.6M190.2 83.9h.6M184.1 83.6h.6M189.1 83.5h.6M188.0 83.2h.6M186.3 85.2h.6M192.4 82.5h.6M187.9 89.5h.6M189.2 94.0h.6M189.5 80.6h.6M187.9 77.0h.6M195.2 81.8h.6M188.7 79.7h.6M191.1 82.3h.6M186.0 82.9h.6M188.8 86.1h.6M189.3 82.9h.6M189.4 82.3h.6M188.4 94.2h.6M190.9 79.5h.6M195.7 77.7h.6M190.0 93.5h.6M189.9 78.1h.6M189.1 82.1h.6M199.0 73.5h.6M195.9 75.1h.6M192.3 81.6h.6M192.8 84.5h.6M188.0 85.0h.6M189.9 83.5h.6M191.1 69.4h.6M190.8 71.5h.6M187.5 85.6h.6M187.8 85.0h.6M192.2 78.1h.6M191.5 77.4h.6M183.3 89.7h.6M190.7 85.7h.6M194.7 68.2h.6M188.2 77.4h.6M191.2 88.1h.6M185.5 93.4h.6M193.2 83.0h.6M186.6 82.7h.6M186.2 81.4h.6M189.3 83.5h.6M198.4 83.0h.6M188.3 81.4h.6M186.1 81.2h.6M192.0 79.8h.6M191.2 82.9h.6M196.0 73.9h.6M186.1 84.5h.6M185.0 90.6h.6M189.3 81.3h.6M191.7 86.5h.6M191.6 75.3h.6M194.1 75.9h.6M185.4 89.7h.6M187.6 82.0h.6M190.0 75.1h.6M193.3 89.6h.6M192.0 80.5h.6M189.0 73.9h.6M187.0 91.3h.6M193.4 79.6h.6M193.6 85.7h.6M199.6 74.5h.6M189.8 93.4h.6M195.9 85.0h.6M186.3 86.7h.6M188.6 81.7h.6M188.1 80.8h.6M188.8 80.1h.6M187.4 77.5h.6M188.6 78.9h.6M190.2 77.4h.6M188.9 87.0h.6M192.7 80.1h.6M190.1 65.3h.6M190.4 69.6h.6M195.4 73.1h.6M191.5 76.5h.6M190.9 75.7h.6M190.4 83.1h.6M190.6 71.0h.6M192.4 81.4h.6M187.7 83.4h.6M194.3 67.2h.6M195.7 87.5h.6M194.3 76.3h.6M188.8 90.9h.6M185.0 88.3h.6M188.9 82.6h.6M190.9 82.4h.6M193.2 78.0h.6M189.8 85.3h.6M189.4 82.3h.6M195.6 83.1h.6M188.2 84.6h.6M194.0 85.3h.6M193.5 75.4h.6M185.9 90.9h.6M191.4 76.8h.6M188.5 84.5h.6M187.2 84.9h.6M184.2 79.7h.6M185.1 84.4h.6M191.8 89.5h.6M189.1 79.5h.6M191.3 95.0h.6M186.8 82.3h.6M189.3 83.8h.6M189.5 88.8h.6M185.2 84.5h.6M184.8 86.8h.6M191.9 69.7h.6M190.9 82.8h.6M187.3 73.5h.6M190.1 74.2h.6M192.7 82.4h.6M196.6 80.5h.6M187.4 76.6h.6M192.5 80.1h.6M197.6 74.8h.6M190.6 82.1h.6M195.4 83.4h.6M181.7 89.4h.6M195.3 82.2h.6M190.4 88.8h.6M184.1 87.2h.6M193.1 70.0h.6M194.0 70.1h.6M194.5 78.3h.6M194.5 77.3h.6M190.3 78.5h.6M187.9 76.0h.6M188.9 80.5h.6M190.3 83.5h.6M191.8 82.0h.6M188.8 76.4h.6M190.6 67.6h.6M193.4 82.0h.6M191.5 90.6h.6M198.2 71.1h.6M197.7 75.9h.6M186.5 83.2h.6M188.5 76.1h.6M186.0 84.0h.6M186.5 90.7h.6M192.3 89.6h.6M187.1 83.8h.6M186.9 89.6h.6M189.5 80.2h.6M193.1 85.5h.6M189.2 83.7h.6M189.2 89.4h.6M193.5 80.5h.6M192.0 82.1h.6M192.0 76.8h.6M193.6 71.7h.6M187.0 84.5h.6M191.2 84.8h.6M188.3 72.6h.6M193.9 76.5h.6M193.2 75.8h.6M186.9 80.5h.6M195.0 70.2h.6M186.5 78.8h.6M194.4 74.6h.6M191.1 76.5h.6M187.5 87.6h.6M186.6 86.9h.6M189.4 82.3h.6M190.3 80.6h.6M188.0 82.7h.6M192.3 78.0h.6M185.7 84.4h.6M190.4 83.2h.6M190.4 89.3h.6M184.1 81.5h.6M191.5 77.2h.6M186.1 88.7h.6M181.9 84.8h.6M188.3 80.5h.6M189.6 81.2h.6M193.5 88.1h.6M188.8 88.4h.6M195.4 80.3h.6M195.3 69.1h.6M194.1 82.6h.6M194.9 79.4h.6M191.6 85.8h.6M188.5 84.9h.6M192.6 77.6h.6M193.7 89.1h.6M191.2 94.9h.6M189.6 78.2h.6M185.1 84.8h.6M192.7 82.4h.6M191.6 75.1h.6M186.0 79.3h.6M190.8 91.5h.6M192.9 80.0h.6M190.0 75.6h.6M193.1 82.4h.6M193.0 80.7h.6M185.4 79.9h.6M189.4 83.1h.6M192.1 85.9h.6M193.5 82.2h.6M195.2 84.2h.6M183.9 83.0h.6M190.2 90.0h.6M192.9 74.0h.6M194.6 86.3h.6M196.2 76.5h.6M187.2 90.9h.6M189.1 83.6h.6M186.8 78.4h.6M193.2 73.1h.6M185.9 77.7h.6M194.5 78.4h.6M193.6 78.0h.6M192.1 78.6h.6M183.0 83.4h.6M188.1 84.8h.6M193.0 73.4h.6M185.6 82.9h.6M189.6 75.7h.6M190.1 78.8h.6M193.5 75.2h.6M191.4 84.0h.6M191.4 82.4h.6M188.9 88.7h.6M190.4 82.5h.6M190.0 82.2h.6M192.9 74.8h.6M189.8 87.9h.6M193.9 61.8h.6M184.6 85.9h.6M194.5 71.5h.6M189.8 76.1h.6M194.3 91.0h.6M190.7 82.1h.6M193.3 71.3h.6M195.5 89.6h.6M188.5 78.5h.6M190.7 85.5h.6M189.8 83.8h.6M191.1 79.3h.6M184.9 94.7h.6M189.8 80.4h.6M189.6 84.9h.6M187.7 86.8h.6M189.7 77.9h.6M185.1 66.9h.6M195.2 75.7h.6M191.9 77.0h.6M196.8 76.4h.6M187.4 86.9h.6M186.4 82.6h.6M191.4 72.5h.6M184.7 84.3h.6M191.2 75.9h.6M188.0 84.0h.6M189.3 68.9h.6M191.3 88.8h.6M190.6 77.9h.6M196.8 73.5h.6M192.6 78.0h.6M186.0 90.0h.6M193.7 84.3h.6M185.8 85.6h.6M190.7 80.3h.6M186.1 90.4h.6M187.6 88.6h.6M194.9 74.8h.6M188.5 77.2h.6M188.2 85.6h.6M188.5 86.0h.6M189.3 85.6h.6M195.3 64.7h.6M186.4 81.5h.6M186.2 84.5h.6M192.4 74.4h.6M184.9 73.3h.6M189.1 76.0h.6M194.3 85.5h.6M190.4 81.5h.6M188.7 84.4h.6M188.0 84.6h.6M187.3 89.6h.6M188.4 84.6h.6M190.8 86.3h.6M194.6 76.2h.6M193.7 78.4h.6M188.4 89.8h.6M187.9 91.7h.6M192.7 81.8h.6M184.2 82.4h.6M188.9 79.7h.6M189.3 82.3h.6M186.6 100.9h.6M187.0 86.2h.6M191.5 84.0h.6M184.7 87.0h.6M187.2 89.7h.6M188.1 85.0h.6M190.6 84.3h.6M185.7 70.7h.6M194.0 74.7h.6M189.3 82.9h.6M189.4 82.0h.6M189.1 82.7h.6M188.0 81.9h.6M187.0 85.7h.6M194.2 78.3h.6M191.0 75.3h.6M189.9 77.1h.6M193.7 77.0h.6M187.9 76.1h.6M192.5 78.4h.6M190.4 86.1h.6M187.3 92.4h.6M192.9 82.8h.6M185.2 85.3h.6M192.5 77.4h.6M187.3 77.9h.6M191.7 83.1h.6M195.0 81.8h.6M192.2 75.7h.6M188.2 76.6h.6M190.2 83.7h.6M189.0 80.4h.6M186.3 77.1h.6M186.5 82.3h.6M190.4 81.3h.6M192.1 90.5h.6M184.3 78.8h.6M190.0 78.0h.6M192.0 79.2h.6M190.6 83.3h.6M186.8 90.1h.6M193.8 79.1h.6M186.1 84.8h.6M192.4 73.9h.6M195.7 83.3h.6M183.3 79.0h.6M191.1 80.4h.6M191.3 74.3h.6M191.0 85.6h.6M187.6 81.4h.6M189.2 75.7h.6M185.5 84.2h.6M190.7 88.4h.6M192.0 81.5h.6M188.0 80.1h.6M187.1 90.7h.6M188.6 89.8h.6M190.2 80.0h.6M190.4 85.9h.6M189.9 78.0h.6M190.4 87.1h.6M185.8 94.0h.6M180.9 92.1h.6M192.3 72.0h.6M195.0 82.0h.6M185.4 84.8h.6M187.9 81.6h.6M191.2 85.3h.6M193.4 73.2h.6M192.4 78.7h.6M194.5 75.7h.6M190.0 90.0h.6M191.6 89.2h.6M191.6 94.3h.6M188.7 83.3h.6M194.3 79.3h.6M192.3 75.9h.6M193.5 71.1h.6M188.9 83.5h.6M193.7 80.0h.6M186.6 81.6h.6M191.5 72.4h.6M181.3 92.1h.6M186.8 80.6h.6M192.7 80.6h.6M188.7 84.1h.6M190.8 76.6h.6M184.7 89.4h.6M195.4 82.8h.6M192.2 76.3h.6M190.1 81.4h.6M191.6 81.5h.6M191.3 81.1h.6M195.0 75.1h.6M190.9 82.6h.6M185.2 81.0h.6M189.3 79.7h.6M194.5 70.4h.6M192.1 73.3h.6M188.8 77.9h.6M192.2 80.7h.6M190.6 80.3h.6M192.2 82.7h.6M184.8 70.6h.6M187.1 84.6h.6M192.4 76.7h.6M189.4 74.8h.6M191.4 87.3h.6M196.8 80.5h.6M189.1 84.0h.6M191.0 85.7h.6M188.3 89.1h.6M188.1 85.4h.6M189.9 74.8h.6M185.3 81.2h.6M183.1 86.3h.6M194.8 77.6h.6M189.8 90.0h.6M194.0 74.8h.6M190.6 78.7h.6M190.7 86.4h.6M192.4 78.4h.6M192.6 80.4h.6M186.1 86.9h.6M194.3 83.2h.6M186.9 87.1h.6M190.9 85.5h.6M198.8 72.4h.6M190.4 79.1h.6M195.8 75.3h.6M189.0 83.0h.6M192.3 81.7h.6M190.4 70.6h.6M191.6 89.7h.6M187.3 77.2h.6M187.1 81.7h.6M191.3 80.0h.6M184.9 87.7h.6M187.3 84.4h.6M192.3 85.6h.6M188.1 89.8h.6M187.2 84.0h.6M186.4 92.5h.6M190.7 76.5h.6M189.0 76.4h.6M190.7 98.4h.6M189.5 89.6h.6M196.4 75.1h.6M188.7 81.2h.6M183.6 85.5h.6M190.6 78.7h.6M190.2 77.3h.6M190.7 76.3h.6M184.8 76.0h.6M194.0 78.2h.6M190.1 76.8h.6M190.0 89.6h.6M184.8 85.8h.6M191.8 86.2h.6M190.0 74.2h.6M194.7 65.8h.6M188.8 79.4h.6M186.0 90.9h.6M190.6 81.4h.6M187.1 83.3h.6M191.6 79.1h.6M186.5 78.3h.6M189.7 76.6h.6M189.4 95.3h.6M190.1 74.2h.6M188.5 85.0h.6M187.5 103.1h.6M193.5 96.8h.6M188.4 101.3h.6M185.0 101.3h.6M185.2 97.5h.6M189.4 99.9h.6M192.0 95.7h.6M193.8 99.8h.6M188.7 92.4h.6M187.8 100.8h.6M194.2 91.7h.6M187.8 89.8h.6M193.7 105.6h.6M189.9 101.4h.6M189.9 98.2h.6M188.5 93.4h.6M190.1 99.3h.6M187.8 96.8h.6M187.1 101.5h.6M188.8 95.7h.6M187.2 103.3h.6M190.1 94.0h.6M189.5 109.5h.6M188.4 105.6h.6M188.6 90.7h.6M188.5 97.3h.6M194.5 99.1h.6M189.2 89.0h.6M187.4 94.3h.6M188.3 93.6h.6M191.2 98.6h.6M188.6 95.5h.6M188.8 95.9h.6M188.4 104.6h.6M189.7 95.2h.6M190.4 98.0h.6M190.6 92.1h.6M184.2 94.5h.6M186.0 101.6h.6M181.2 103.4h.6M191.7 96.0h.6M192.6 93.8h.6M193.2 97.8h.6M189.7 98.0h.6M192.7 93.9h.6M189.1 96.1h.6M188.8 93.3h.6M184.5 98.7h.6M186.8 102.2h.6M187.4 105.5h.6M192.0 93.4h.6M194.3 97.0h.6M187.8 99.7h.6M190.3 98.4h.6M190.1 103.7h.6M186.9 100.3h.6M184.0 110.3h.6M186.9 100.3h.6M184.8 103.1h.6M188.3 90.8h.6M188.8 96.1h.6M188.7 98.8h.6M188.7 97.3h.6M190.7 94.2h.6M186.4 101.9h.6M191.9 97.6h.6M184.1 101.2h.6M189.4 87.7h.6M190.4 97.0h.6M186.8 106.6h.6M184.4 96.5h.6M191.1 86.6h.6M187.2 102.4h.6M191.6 82.9h.6M191.5 97.1h.6M189.2 93.8h.6M189.2 100.0h.6M192.2 97.6h.6M190.3 102.2h.6M186.4 103.2h.6M189.7 106.2h.6M190.9 92.5h.6M189.8 102.1h.6M189.8 96.1h.6M188.8 96.6h.6M188.8 100.5h.6M186.4 98.7h.6M184.9 99.9h.6M192.6 98.4h.6M187.3 98.4h.6M189.9 97.3h.6M184.6 103.7h.6M189.7 102.8h.6M186.7 102.2h.6M198.2 93.7h.6M186.1 93.5h.6M186.3 93.0h.6M192.1 95.4h.6M192.6 92.6h.6M182.8 99.9h.6M190.0 93.0h.6M191.9 96.2h.6M185.5 97.7h.6M191.3 98.1h.6M187.6 98.5h.6M186.2 91.4h.6M188.1 103.1h.6M187.8 98.3h.6M185.0 101.9h.6M196.0 91.2h.6M187.8 91.0h.6M186.9 100.0h.6M191.8 107.9h.6M189.0 95.4h.6M193.2 93.7h.6M188.4 104.9h.6M190.3 98.3h.6M189.5 98.0h.6M189.7 106.9h.6M188.6 95.3h.6M188.9 96.2h.6M194.3 94.8h.6M187.1 102.9h.6M187.5 101.4h.6M188.2 100.8h.6M190.9 95.2h.6M190.4 101.3h.6M192.0 90.7h.6M185.1 97.9h.6M190.0 106.3h.6M188.7 91.2h.6M188.3 97.5h.6M189.7 99.8h.6M183.2 99.8h.6M190.0 104.9h.6M189.6 96.9h.6M184.9 109.5h.6M188.9 102.1h.6M193.9 90.4h.6M188.0 93.2h.6M191.0 98.5h.6M188.5 102.0h.6M186.7 95.0h.6M186.4 99.2h.6M188.0 97.5h.6M193.1 93.7h.6M191.7 101.2h.6M187.1 95.5h.6M192.2 105.2h.6M188.8 92.0h.6M187.1 105.1h.6M190.5 99.9h.6M186.4 101.7h.6M184.5 96.8h.6M193.1 93.2h.6M183.7 98.6h.6M190.8 95.0h.6M184.6 97.8h.6M189.1 98.2h.6M188.6 105.9h.6M187.9 107.8h.6M182.6 109.9h.6M188.9 98.2h.6M189.1 98.8h.6M186.5 99.5h.6M189.0 97.0h.6M192.2 97.6h.6M187.0 102.8h.6M190.0 103.7h.6M185.7 107.0h.6M190.4 92.4h.6M191.1 93.4h.6M196.7 100.4h.6M191.9 97.9h.6M190.5 95.6h.6M193.4 89.7h.6M186.2 101.5h.6M192.4 95.9h.6M187.6 93.8h.6M187.3 105.7h.6M192.5 99.5h.6M189.9 97.8h.6M193.2 99.2h.6M184.9 91.0h.6M190.0 94.0h.6M187.6 97.7h.6M188.4 102.1h.6M183.5 96.7h.6M192.0 94.2h.6M189.8 99.7h.6M186.3 100.9h.6M185.2 105.5h.6M186.6 99.3h.6M193.4 92.7h.6M188.9 93.9h.6M188.2 95.9h.6M190.7 93.9h.6M189.3 100.3h.6M189.9 99.5h.6M191.5 92.1h.6M190.2 95.7h.6M191.9 100.1h.6M185.7 97.3h.6M189.4 94.4h.6M188.2 95.4h.6M189.6 97.3h.6M189.1 100.1h.6M187.3 97.0h.6M188.2 91.4h.6M192.1 96.2h.6M187.6 101.3h.6M185.5 98.0h.6M191.0 102.2h.6M192.2 95.8h.6M188.5 99.4h.6M189.6 93.8h.6M186.8 98.5h.6M188.7 93.9h.6M192.6 87.2h.6M191.7 97.8h.6M189.7 101.1h.6M188.4 96.4h.6M184.4 100.2h.6M190.2 96.9h.6M190.6 99.8h.6M192.4 94.4h.6M195.3 95.2h.6M190.4 106.2h.6M192.1 97.7h.6M185.9 97.9h.6M192.9 91.6h.6M191.9 99.2h.6M193.3 99.5h.6M191.3 92.4h.6M190.6 99.8h.6M193.7 95.7h.6M187.3 96.8h.6M191.2 94.1h.6M192.5 96.6h.6M187.0 103.4h.6M185.9 95.2h.6M190.6 99.1h.6M189.7 99.9h.6M191.1 89.0h.6M191.2 93.6h.6M187.0 103.1h.6M190.3 99.4h.6M192.7 97.5h.6M188.3 101.4h.6M188.5 106.0h.6M186.0 96.0h.6M191.7 93.8h.6M195.1 94.6h.6M185.3 101.2h.6M191.6 96.1h.6M192.0 94.2h.6M187.7 102.8h.6M188.2 99.7h.6M186.2 101.4h.6M187.0 96.0h.6M189.8 96.6h.6M191.3 102.4h.6M189.7 100.3h.6M191.9 89.7h.6M189.9 101.6h.6M185.9 98.7h.6M193.6 98.7h.6M192.9 91.4h.6M187.2 99.0h.6M194.6 97.5h.6M190.7 102.1h.6M189.7 98.7h.6M195.0 92.2h.6M181.9 98.2h.6M184.6 105.2h.6M191.5 90.7h.6M188.6 99.2h.6M186.5 103.3h.6M193.8 95.6h.6M190.8 99.8h.6M185.6 101.8h.6M187.4 101.3h.6M191.9 97.3h.6M194.7 97.8h.6M183.4 107.2h.6M190.1 95.5h.6M188.2 100.5h.6M184.2 95.2h.6M188.9 95.9h.6M184.6 97.3h.6M187.8 97.8h.6M194.2 90.7h.6M190.9 98.6h.6M191.7 101.0h.6M191.2 95.8h.6M190.4 108.5h.6M192.3 98.2h.6M185.9 98.4h.6M188.3 100.0h.6M191.9 91.8h.6M187.2 95.9h.6M188.1 98.0h.6M193.0 98.1h.6M193.9 91.6h.6M187.6 101.4h.6M187.0 100.6h.6M191.1 94.2h.6M190.2 95.2h.6M187.4 90.5h.6M191.2 98.1h.6M191.0 104.8h.6M189.6 95.1h.6M198.1 89.3h.6M193.4 96.9h.6M191.8 90.6h.6M192.4 89.5h.6M198.2 97.0h.6M192.7 98.5h.6M187.3 103.8h.6M190.4 95.3h.6M189.6 94.9h.6M187.7 96.2h.6M190.2 102.6h.6M190.2 100.7h.6M189.2 103.8h.6M188.0 105.0h.6M191.9 102.4h.6M184.7 106.2h.6M191.9 97.7h.6M189.4 96.2h.6M190.2 95.1h.6M182.3 100.9h.6M194.4 98.6h.6M184.3 100.0h.6M186.8 96.7h.6M191.3 98.3h.6M187.6 98.4h.6M188.2 99.7h.6M182.8 102.7h.6M188.1 98.3h.6M190.0 102.2h.6M191.4 92.9h.6M188.6 104.6h.6M190.1 95.8h.6M190.7 102.9h.6M187.4 92.7h.6M187.2 95.3h.6M195.3 98.8h.6M186.9 100.8h.6M193.1 101.0h.6M189.6 98.1h.6M193.8 94.5h.6M187.5 88.4h.6M191.0 102.8h.6M190.4 92.5h.6M188.7 100.6h.6M190.3 96.5h.6M187.1 95.3h.6M189.2 95.8h.6M188.2 96.7h.6M191.7 97.8h.6M189.2 98.1h.6M185.3 99.0h.6M188.3 93.6h.6M189.1 104.0h.6M186.7 101.0h.6M193.4 101.3h.6M190.6 101.3h.6M191.9 100.1h.6M187.1 94.4h.6M188.2 89.8h.6M192.4 91.3h.6M185.1 104.4h.6M190.5 97.2h.6M189.7 102.4h.6M187.9 96.7h.6M189.7 92.7h.6M186.2 96.9h.6M190.1 94.2h.6M185.8 100.0h.6M185.6 107.4h.6M193.6 104.2h.6M187.3 99.2h.6M183.1 98.2h.6M192.3 91.7h.6M187.1 100.3h.6M178.9 101.9h.6M189.3 97.0h.6M192.2 92.5h.6M190.5 97.8h.6M194.6 100.3h.6M189.1 93.7h.6M191.2 95.6h.6M186.4 97.6h.6M189.9 102.8h.6M194.0 96.1h.6M190.9 104.2h.6M189.9 105.8h.6M183.5 101.3h.6M188.3 100.1h.6M185.6 97.2h.6M191.8 91.2h.6M187.2 99.0h.6M190.5 90.3h.6M186.4 101.5h.6M195.1 92.6h.6M185.9 104.4h.6M189.8 97.3h.6M197.3 96.0h.6M190.1 98.5h.6M186.8 96.6h.6M191.3 104.8h.6M192.4 96.3h.6M192.0 100.1h.6M183.5 99.8h.6M190.1 96.1h.6M183.1 102.0h.6M195.1 97.1h.6M189.6 102.5h.6M188.0 96.3h.6M191.4 99.8h.6M190.9 95.6h.6M185.9 105.1h.6M194.3 90.5h.6M188.7 102.3h.6M184.2 95.4h.6M193.6 98.0h.6M194.0 93.9h.6M193.2 97.0h.6M191.1 94.5h.6M186.8 99.0h.6M192.3 91.7h.6M195.0 93.0h.6M191.9 94.2h.6M194.3 89.3h.6M187.1 101.7h.6M192.5 91.5h.6M192.3 96.5h.6M185.0 105.7h.6M184.5 98.0h.6M187.3 99.6h.6M189.7 91.1h.6M190.8 99.3h.6M188.8 98.0h.6M189.2 97.1h.6M189.1 105.7h.6M189.7 95.8h.6M191.2 101.2h.6M190.9 91.7h.6M189.3 91.3h.6M190.2 97.6h.6M188.1 104.8h.6M191.8 96.2h.6M187.9 97.8h.6M194.4 93.0h.6M189.4 99.1h.6M190.3 102.4h.6M187.2 99.4h.6M188.4 102.1h.6M189.9 90.6h.6M189.5 100.7h.6M187.6 101.3h.6M185.9 99.5h.6M189.6 102.9h.6M189.9 99.5h.6M191.1 97.8h.6M193.2 98.4h.6M188.5 99.3h.6M183.4 95.4h.6M189.0 96.4h.6M183.9 105.5h.6M185.6 101.2h.6M192.6 93.7h.6M191.2 99.8h.6M187.5 98.4h.6M187.5 98.8h.6M189.2 95.9h.6M184.1 100.8h.6M190.9 97.9h.6M188.4 101.8h.6M195.0 94.2h.6M186.2 102.9h.6M192.5 89.7h.6M187.4 98.8h.6M192.5 97.6h.6M186.5 96.0h.6M191.7 97.4h.6M188.1 98.1h.6M187.0 99.1h.6M189.0 101.0h.6M190.9 101.0h.6M190.7 100.2h.6M194.2 91.5h.6M191.9 99.4h.6M181.5 102.8h.6M188.2 100.2h.6M183.4 97.6h.6M188.3 90.5h.6M191.3 100.9h.6M185.4 97.4h.6M185.9 98.9h.6M189.9 99.0h.6M188.6 96.2h.6M194.3 101.1h.6M190.4 94.2h.6M191.1 96.4h.6M194.8 99.8h.6M187.9 92.2h.6M189.5 94.5h.6M186.4 94.5h.6M190.2 103.4h.6M192.6 97.7h.6M193.6 98.3h.6M189.4 95.5h.6M187.3 93.4h.6M187.1 106.5h.6M185.2 99.5h.6M189.8 98.3h.6M193.6 92.3h.6M182.3 101.0h.6M182.9 105.7h.6M193.7 97.0h.6M184.6 104.0h.6M190.5 100.6h.6M185.6 99.3h.6M191.8 98.9h.6M191.8 95.8h.6M190.0 103.8h.6M192.0 87.6h.6M189.6 92.8h.6M191.2 94.4h.6M195.0 100.8h.6M192.8 105.2h.6M187.5 102.2h.6M187.0 99.8h.6M188.8 89.3h.6M188.8 93.0h.6M189.7 99.9h.6M187.6 93.8h.6M191.5 92.2h.6M189.6 97.8h.6M190.6 92.6h.6M189.5 96.6h.6M191.4 99.8h.6M185.9 104.1h.6M194.3 96.5h.6M190.5 93.5h.6M190.9 102.8h.6M191.4 103.6h.6M192.8 94.4h.6M191.7 107.9h.6M190.2 90.3h.6M188.9 99.9h.6M184.5 97.0h.6M190.2 90.2h.6M188.6 104.1h.6M188.6 102.5h.6M196.8 86.0h.6M183.9 101.3h.6M189.7 98.3h.6M193.2 95.5h.6M192.4 92.5h.6M193.3 91.1h.6M185.7 99.0h.6M186.6 100.4h.6M191.4 97.3h.6M188.6 97.0h.6M194.7 90.6h.6M190.2 97.1h.6M190.1 90.4h.6M190.9 100.8h.6M188.7 96.1h.6M189.9 90.7h.6M187.5 93.6h.6M189.4 96.6h.6M188.1 102.0h.6M190.3 100.4h.6M185.2 100.3h.6M185.0 98.5h.6M190.9 98.3h.6M190.2 103.4h.6M186.6 102.0h.6M188.8 96.1h.6M186.3 95.8h.6M195.8 101.0h.6M184.8 101.3h.6M194.8 102.5h.6M187.0 101.2h.6M190.8 83.2h.6M188.7 98.0h.6M188.4 99.7h.6M192.4 99.1h.6M192.0 101.7h.6M188.7 105.7h.6M186.8 99.2h.6M195.9 96.4h.6M193.8 90.2h.6M190.0 104.3h.6M188.6 96.5h.6M190.4 92.2h.6M189.8 105.6h.6M193.2 93.8h.6M186.6 105.5h.6M189.6 95.8h.6M187.2 92.9h.6M193.5 96.3h.6M195.0 94.5h.6M189.3 100.8h.6M191.2 96.1h.6M193.8 91.6h.6M188.6 99.0h.6M186.7 99.6h.6M192.7 95.0h.6M191.1 94.0h.6M188.9 104.7h.6M194.0 95.8h.6M190.3 100.3h.6M184.1 98.1h.6M190.6 93.3h.6M189.4 96.7h.6M195.3 90.4h.6M189.5 101.9h.6M188.9 99.8h.6M190.9 101.3h.6M190.3 97.3h.6M185.3 99.2h.6M189.9 98.5h.6M188.6 103.1h.6M193.8 96.5h.6M196.9 96.7h.6M186.2 96.8h.6M186.6 100.1h.6M187.0 94.3h.6M187.6 97.8h.6M187.5 106.2h.6M189.7 98.5h.6M192.9 102.3h.6M185.6 95.6h.6M184.9 94.0h.6M184.0 100.2h.6M192.9 94.7h.6M193.6 102.0h.6M184.9 108.8h.6M184.6 102.1h.6M190.0 98.7h.6M192.9 102.6h.6M192.7 96.3h.6M190.2 96.4h.6M191.6 94.5h.6M190.6 91.3h.6M187.9 95.3h.6M195.4 97.0h.6M189.6 97.4h.6M186.2 96.8h.6M188.1 102.6h.6M184.9 94.5h.6M189.6 94.2h.6M192.9 97.4h.6M185.7 102.0h.6M193.0 81.3h.6M195.9 91.9h.6M190.7 93.6h.6M186.0 92.1h.6M187.0 95.0h.6M188.6 97.4h.6M185.7 96.6h.6M185.8 103.1h.6M188.8 95.3h.6M189.0 104.2h.6M191.4 95.4h.6M185.9 97.1h.6M195.3 101.8h.6M192.8 88.9h.6M192.3 101.4h.6M187.6 94.5h.6M194.9 97.8h.6M188.5 97.0h.6M195.1 98.2h.6M192.8 86.5h.6M186.8 94.8h.6M188.2 91.1h.6M195.3 92.4h.6M192.6 93.8h.6M189.1 97.4h.6M190.2 98.5h.6M190.2 95.1h.6M187.2 98.1h.6M189.0 98.7h.6M187.6 104.1h.6M188.3 99.6h.6M191.0 94.8h.6M186.7 100.9h.6M191.8 95.5h.6M189.9 98.2h.6M191.9 101.0h.6M192.3 100.3h.6M193.4 99.2h.6M191.5 98.2h.6M191.7 98.0h.6M189.0 93.5h.6M191.3 101.4h.6M186.8 107.1h.6M188.8 95.3h.6M191.9 98.7h.6M189.4 98.3h.6M190.9 87.0h.6M186.4 93.2h.6M193.7 93.7h.6M187.8 94.7h.6M190.8 96.8h.6M189.5 94.0h.6M192.4 99.1h.6M188.4 101.1h.6M186.5 100.9h.6M183.8 93.8h.6M188.6 91.9h.6M185.9 101.7h.6M191.2 92.4h.6M194.0 96.6h.6M182.8 96.2h.6M185.6 100.6h.6M190.5 93.5h.6M193.3 96.7h.6M190.5 98.5h.6M190.6 97.4h.6M191.1 96.5h.6M191.3 99.4h.6M194.6 101.2h.6M191.4 90.2h.6M185.8 100.9h.6M188.1 105.6h.6M190.2 106.6h.6M187.1 110.0h.6M188.8 100.5h.6M188.0 92.9h.6M187.4 105.2h.6M191.7 98.2h.6M188.4 105.6h.6M186.2 94.7h.6M187.4 97.1h.6M189.7 96.4h.6M196.0 89.7h.6M190.4 90.8h.6M194.1 91.8h.6M191.1 99.4h.6M183.0 105.7h.6M190.7 101.5h.6M187.0 105.8h.6M185.4 92.1h.6M186.3 99.8h.6M195.0 95.0h.6M184.7 98.9h.6M187.7 90.4h.6M193.1 98.5h.6M191.6 92.1h.6M184.3 98.6h.6M189.2 98.5h.6M188.0 106.1h.6M189.0 94.3h.6M191.9 99.8h.6M187.8 100.3h.6M188.6 97.2h.6M194.0 95.5h.6M183.9 95.5h.6M188.4 100.9h.6M191.0 96.5h.6M185.7 98.1h.6M187.6 98.4h.6M185.5 96.6h.6M190.0 98.5h.6M187.7 93.6h.6M192.0 99.6h.6M192.7 102.2h.6M189.7 97.8h.6M188.4 93.4h.6M190.4 99.5h.6M189.7 100.2h.6M185.8 100.6h.6M192.9 95.7h.6M190.3 98.1h.6M192.0 95.5h.6M185.4 106.3h.6M192.3 90.6h.6M196.0 92.8h.6M191.5 100.4h.6M185.1 94.0h.6M189.7 95.9h.6M189.4 91.9h.6M190.2 102.2h.6M188.8 91.3h.6M191.1 96.9h.6M188.1 106.6h.6M190.3 94.4h.6M187.4 99.8h.6M189.9 101.7h.6M192.6 97.3h.6M188.0 106.1h.6M191.6 94.5h.6M186.8 99.7h.6M188.4 99.3h.6M188.8 92.3h.6M193.4 96.0h.6M187.2 101.3h.6M193.3 100.0h.6M185.1 99.8h.6M189.1 93.6h.6M192.4 98.9h.6M191.7 101.0h.6M186.4 95.3h.6M185.8 99.0h.6M192.2 96.7h.6M185.7 90.9h.6M191.3 101.9h.6M187.9 97.6h.6M189.5 104.9h.6M196.7 96.1h.6M194.3 93.4h.6M192.1 92.1h.6M185.3 104.5h.6M190.5 94.0h.6M189.7 94.5h.6M189.2 98.3h.6M193.7 86.1h.6M184.3 99.9h.6M190.5 100.9h.6M189.9 95.9h.6M187.2 106.2h.6M194.9 89.3h.6M185.6 95.3h.6M189.6 99.3h.6M189.8 95.2h.6M182.8 98.3h.6M185.1 91.7h.6M186.6 101.4h.6M192.0 101.9h.6M192.4 104.7h.6M191.4 98.2h.6M190.3 103.7h.6M182.8 101.2h.6M190.2 95.8h.6M188.0 100.1h.6M193.1 100.1h.6M193.7 91.3h.6M196.4 95.7h.6M191.7 95.9h.6M192.0 92.9h.6M186.4 104.3h.6M189.8 101.3h.6M185.7 89.2h.6M192.3 97.3h.6M168.0 123.9h.6M172.6 96.2h.6M170.7 117.0h.6M166.8 120.5h.6M171.7 105.5h.6M174.0 112.8h.6M174.1 114.6h.6M177.3 102.0h.6M163.9 130.3h.6M165.3 114.0h.6M178.8 100.1h.6M171.5 109.4h.6M181.3 108.1h.6M175.9 111.3h.6M165.8 134.4h.6M177.3 111.2h.6M168.1 115.5h.6M175.7 104.1h.6M181.4 105.4h.6M186.7 105.4h.6M173.7 120.2h.6M178.3 109.6h.6M175.9 110.1h.6M178.8 98.6h.6M159.0 125.6h.6M171.8 119.0h.6M175.9 112.2h.6M176.9 114.5h.6M169.7 118.6h.6M179.0 127.2h.6M180.7 120.7h.6M174.5 122.5h.6M172.8 110.0h.6M172.0 115.3h.6M175.0 110.9h.6M181.1 97.0h.6M183.0 114.0h.6M171.4 105.5h.6M168.6 114.3h.6M169.4 122.8h.6M180.0 95.3h.6M175.4 123.7h.6M175.9 120.8h.6M177.0 112.1h.6M176.4 107.5h.6M173.4 115.0h.6M170.5 118.4h.6M174.9 112.9h.6M176.5 89.4h.6M171.9 103.1h.6M171.7 113.9h.6M182.2 115.1h.6M171.4 112.3h.6M175.4 121.5h.6M172.3 112.7h.6M169.1 114.1h.6M165.2 123.8h.6M171.0 113.4h.6M169.3 119.7h.6M179.1 113.3h.6M167.4 105.7h.6M171.7 110.0h.6M178.0 112.1h.6M173.5 119.8h.6M177.1 108.8h.6M179.1 103.8h.6M164.3 114.0h.6M171.7 102.5h.6M168.5 113.8h.6M182.1 115.4h.6M173.4 96.3h.6M177.1 100.6h.6M184.1 97.3h.6M172.0 103.4h.6M174.6 125.0h.6M176.5 113.9h.6M172.6 118.5h.6M181.5 96.5h.6M178.9 118.6h.6M180.0 110.5h.6M174.4 99.8h.6M172.1 109.1h.6M172.0 117.9h.6M172.0 98.9h.6M164.5 132.3h.6M176.3 107.2h.6M178.9 110.7h.6M174.1 108.6h.6M171.2 117.6h.6M174.3 119.7h.6M175.5 109.9h.6M176.0 122.3h.6M184.7 99.4h.6M169.1 119.8h.6M176.3 103.3h.6M178.2 113.2h.6M174.6 118.1h.6M172.7 110.7h.6M168.1 107.6h.6M170.6 133.2h.6M178.3 108.3h.6M182.6 100.3h.6M170.3 128.1h.6M176.9 117.9h.6M177.2 104.9h.6M180.0 114.8h.6M175.6 117.0h.6M176.7 96.2h.6M179.4 116.3h.6M167.3 125.9h.6M174.4 132.1h.6M163.8 130.9h.6M162.6 133.1h.6M169.3 102.6h.6M165.1 110.3h.6M177.1 121.0h.6M179.9 91.4h.6M172.3 107.9h.6M173.3 115.1h.6M172.8 107.3h.6M172.6 111.0h.6M174.9 118.6h.6M176.2 125.9h.6M171.4 122.8h.6M169.5 116.9h.6M171.1 118.5h.6M178.8 115.1h.6M171.7 106.8h.6M182.5 114.6h.6M172.7 106.6h.6M182.1 110.2h.6M167.2 117.9h.6M170.1 125.8h.6M176.9 110.6h.6M176.9 117.1h.6M173.2 128.4h.6M186.0 103.0h.6M174.5 113.0h.6M175.8 104.5h.6M170.8 113.4h.6M183.7 113.2h.6M179.1 113.8h.6M176.5 131.7h.6M164.6 130.4h.6M176.2 100.2h.6M171.4 102.5h.6M176.4 104.6h.6M179.4 105.9h.6M169.8 111.7h.6M175.4 107.8h.6M179.2 123.2h.6M175.0 119.5h.6M172.2 104.6h.6M168.0 108.3h.6M170.2 114.2h.6M166.7 121.8h.6M179.8 111.3h.6M174.7 117.0h.6M167.0 126.7h.6M174.1 129.2h.6M166.6 118.1h.6M155.1 133.0h.6M181.1 108.8h.6M180.9 92.7h.6M165.6 115.3h.6M169.9 122.4h.6M175.3 107.1h.6M171.9 127.5h.6M169.1 108.3h.6M171.1 113.3h.6M172.7 115.8h.6M170.9 110.9h.6M175.3 99.7h.6M172.7 118.0h.6M169.7 125.0h.6M174.2 95.0h.6M164.5 121.0h.6M182.4 93.3h.6M164.0 127.2h.6M173.6 110.2h.6M176.0 116.7h.6M176.5 105.6h.6M175.6 114.0h.6M181.4 112.4h.6M167.6 105.4h.6M173.7 110.5h.6M174.9 129.4h.6M171.2 117.4h.6M170.6 123.6h.6M181.5 116.9h.6M169.9 121.4h.6M171.3 119.4h.6M172.5 114.1h.6M172.8 120.7h.6M175.0 127.9h.6M172.9 118.5h.6M176.2 103.7h.6M174.8 123.9h.6M176.8 105.4h.6M181.9 102.4h.6M169.2 120.9h.6M183.6 102.3h.6M171.5 121.5h.6M177.9 113.1h.6M175.0 120.9h.6M172.3 110.5h.6M162.7 111.1h.6M183.3 110.8h.6M169.7 106.6h.6M180.1 115.3h.6M174.5 121.2h.6M185.0 89.1h.6M183.7 109.8h.6M178.1 103.0h.6M175.5 129.1h.6M178.4 108.3h.6M166.5 114.7h.6M175.0 112.5h.6M171.3 113.8h.6M175.5 104.9h.6M165.6 109.0h.6M179.2 105.2h.6M181.4 121.0h.6M166.6 121.2h.6M174.9 104.7h.6M182.9 112.4h.6M176.4 106.2h.6M168.1 122.2h.6M168.4 117.1h.6M178.9 102.4h.6M184.5 110.1h.6M167.8 94.0h.6M174.2 111.6h.6M169.6 113.9h.6M172.4 120.7h.6M175.8 111.0h.6M173.8 115.5h.6M170.9 83.8h.6M170.4 90.9h.6M182.4 62.9h.6M179.9 75.6h.6M163.2 69.8h.6M166.4 90.7h.6M178.5 86.8h.6M180.0 80.2h.6M184.5 87.2h.6M172.3 89.6h.6M184.4 98.5h.6M178.5 81.7h.6M177.1 89.9h.6M179.5 82.7h.6M187.0 90.4h.6M184.1 106.2h.6M186.3 83.6h.6M176.0 80.3h.6M178.6 103.1h.6M172.8 101.8h.6M176.8 94.2h.6M177.9 93.3h.6M177.4 107.5h.6M185.2 71.9h.6M183.3 79.6h.6M185.5 94.6h.6M181.3 107.4h.6M187.5 84.6h.6M181.2 70.8h.6M186.8 80.3h.6M183.8 78.1h.6M185.3 97.8h.6M180.0 88.1h.6M172.3 107.1h.6M171.0 74.0h.6M193.4 80.9h.6M183.0 109.7h.6M183.4 107.1h.6M179.4 85.9h.6M177.5 89.8h.6M199.4 87.5h.6M173.1 86.5h.6M180.1 71.0h.6M180.1 86.8h.6M173.0 109.8h.6M172.1 94.2h.6M175.9 104.2h.6M178.2 98.6h.6M177.3 88.0h.6M185.8 90.3h.6M172.7 102.8h.6M183.1 89.7h.6M190.1 95.2h.6M186.4 83.4h.6M173.0 94.8h.6M161.0 92.3h.6M186.0 91.2h.6M183.8 82.1h.6M176.6 92.7h.6M188.9 87.9h.6M177.8 96.5h.6M181.2 88.7h.6M173.6 109.4h.6M182.6 63.9h.6M177.6 97.7h.6M177.2 90.3h.6M187.6 92.7h.6M181.9 94.6h.6M170.6 89.4h.6M185.0 93.9h.6M186.0 92.8h.6M175.0 105.2h.6M177.9 100.0h.6M180.8 101.5h.6M178.8 73.4h.6M181.3 102.9h.6M184.8 99.4h.6M177.2 89.4h.6M194.2 72.5h.6M175.8 108.1h.6M176.9 106.3h.6M193.4 85.3h.6M196.2 82.4h.6M180.7 103.9h.6M179.2 108.1h.6M173.4 101.7h.6M188.0 80.9h.6M181.6 90.4h.6M174.9 84.8h.6M183.2 90.6h.6M189.5 88.0h.6M185.0 83.1h.6M195.0 87.2h.6M188.1 85.8h.6M183.4 98.3h.6M180.3 96.2h.6M184.1 84.8h.6M188.5 90.3h.6M186.1 95.9h.6M187.4 82.0h.6M181.9 84.7h.6M185.5 88.9h.6M188.5 95.3h.6M179.4 82.1h.6M171.9 68.9h.6M191.8 94.9h.6M184.3 104.1h.6M177.6 98.8h.6M182.0 98.9h.6M178.9 103.1h.6M169.3 105.2h.6M179.3 82.6h.6M171.1 84.9h.6M181.8 75.7h.6M179.8 83.4h.6M187.9 92.8h.6M179.7 80.2h.6M182.9 95.6h.6M178.5 94.4h.6M178.0 102.5h.6M171.3 81.4h.6M187.0 78.7h.6M181.6 94.6h.6M176.6 94.6h.6M181.9 89.7h.6M177.8 89.3h.6M175.7 83.7h.6M182.1 89.3h.6M188.5 84.2h.6M178.7 105.4h.6M171.1 96.2h.6M176.4 109.0h.6M192.3 69.7h.6M175.1 78.6h.6M188.3 81.2h.6M178.9 80.2h.6M185.4 69.7h.6M179.8 81.6h.6M170.1 108.9h.6M177.8 93.3h.6M194.4 109.0h.6M179.6 98.6h.6M184.2 101.4h.6M178.3 91.2h.6M179.6 87.0h.6M182.6 98.8h.6M183.6 92.3h.6M195.1 83.4h.6M180.4 92.0h.6M179.3 92.6h.6M176.1 115.0h.6M171.8 97.4h.6M169.9 86.0h.6M184.9 86.7h.6M168.2 108.5h.6M189.7 90.4h.6M186.1 86.3h.6M178.5 100.5h.6M172.9 86.3h.6M180.7 98.2h.6M180.6 93.7h.6M187.9 89.4h.6M175.6 70.5h.6M178.0 94.4h.6M180.1 96.2h.6M178.7 84.2h.6M176.4 96.3h.6M169.2 92.1h.6M169.7 115.5h.6M176.1 89.0h.6M179.0 91.2h.6M187.1 101.0h.6M195.7 72.9h.6M191.8 89.5h.6M183.1 91.7h.6M192.9 99.5h.6M179.7 106.4h.6M177.0 97.1h.6M195.7 100.7h.6M173.5 87.9h.6M177.8 83.0h.6M178.8 97.2h.6M190.1 103.2h.6M176.6 95.5h.6M185.6 99.2h.6M177.8 89.8h.6M172.5 91.2h.6M182.1 94.2h.6M181.6 89.5h.6M172.9 82.8h.6M174.8 75.8h.6M175.3 97.2h.6M186.9 81.7h.6M183.5 92.0h.6M182.1 100.3h.6M183.7 77.3h.6M177.4 87.7h.6M183.7 88.3h.6M176.5 88.4h.6M171.7 94.8h.6M175.9 102.1h.6M181.9 73.1h.6M181.1 81.7h.6M187.5 86.0h.6M169.4 84.6h.6M179.1 78.6h.6M183.1 91.7h.6M174.2 86.8h.6M182.2 93.2h.6M177.8 85.2h.6M173.1 95.3h.6M187.9 64.9h.6M171.4 96.8h.6M187.1 83.6h.6M177.8 86.9h.6M174.3 95.7h.6M174.7 83.3h.6M175.7 92.8h.6M174.9 96.2h.6M182.3 90.0h.6M168.2 101.5h.6M188.7 76.6h.6M186.0 82.9h.6M189.7 78.4h.6M174.1 105.5h.6M165.3 92.5h.6M176.4 99.2h.6M179.4 90.1h.6M182.5 77.7h.6M177.1 89.1h.6M180.0 92.4h.6M181.5 79.5h.6M170.3 83.9h.6M192.4 69.2h.6M173.1 110.7h.6M182.3 86.9h.6M187.6 92.5h.6M175.4 100.6h.6M180.6 89.5h.6M191.3 98.6h.6M178.7 112.7h.6M187.4 97.2h.6M182.5 92.5h.6M182.1 72.1h.6M185.3 96.1h.6M179.0 102.3h.6M179.2 110.1h.6M186.9 92.1h.6M182.3 92.4h.6M183.8 88.2h.6M172.7 106.9h.6M180.7 97.9h.6M188.5 110.0h.6M186.5 87.2h.6M182.8 105.0h.6M177.2 118.1h.6M176.5 80.6h.6M183.5 84.8h.6M189.9 84.4h.6M180.9 87.1h.6M189.2 98.0h.6M178.6 80.8h.6M188.5 98.3h.6M174.0 74.1h.6M181.8 88.0h.6M173.6 110.4h.6M184.9 80.9h.6M184.3 70.4h.6M174.3 94.9h.6M175.7 81.7h.6M177.7 93.5h.6M170.8 99.5h.6M174.5 117.3h.6M174.9 80.3h.6M185.7 93.3h.6M189.7 84.2h.6M177.7 102.4h.6M178.7 99.9h.6M182.0 79.4h.6M177.1 95.3h.6M178.8 95.0h.6M186.1 101.1h.6M182.1 88.1h.6M180.0 83.2h.6M176.8 96.1h.6M190.3 89.5h.6M176.5 103.5h.6M181.4 76.8h.6M173.8 98.5h.6M176.7 93.2h.6M181.2 74.1h.6M178.0 93.5h.6M184.1 104.5h.6M181.0 99.3h.6M171.5 96.7h.6M165.4 77.8h.6M187.1 86.4h.6M176.7 93.8h.6M190.3 79.6h.6M180.7 77.9h.6M175.6 99.3h.6M184.2 75.5h.6M178.8 82.7h.6M180.7 86.1h.6M174.5 115.2h.6M184.8 87.3h.6M187.8 74.8h.6M177.1 94.2h.6M192.3 64.6h.6M176.8 90.9h.6M182.2 99.8h.6M169.8 87.9h.6M167.9 91.4h.6M194.4 78.2h.6M189.9 89.8h.6M188.1 75.6h.6M169.4 99.2h.6M182.1 88.7h.6M183.3 101.7h.6M181.1 98.0h.6M182.5 87.9h.6M174.5 98.6h.6M179.5 95.1h.6M173.1 94.7h.6M178.3 88.7h.6M183.0 82.2h.6M175.4 84.5h.6M178.7 81.0h.6M177.7 89.3h.6M180.7 95.7h.6M186.6 104.0h.6M182.1 93.3h.6M183.2 97.4h.6M171.1 110.9h.6M178.2 75.1h.6M185.9 106.7h.6M174.9 88.6h.6M177.7 85.8h.6M174.2 94.6h.6M189.3 62.6h.6M177.6 91.1h.6M175.8 99.3h.6M184.6 72.0h.6M187.8 96.0h.6M183.8 103.4h.6M187.0 98.3h.6M181.9 96.2h.6M179.7 90.2h.6M177.6 88.0h.6M177.2 106.2h.6M176.6 88.2h.6M183.0 67.9h.6M179.8 97.6h.6M181.1 91.5h.6M184.5 82.4h.6M180.2 78.7h.6M171.5 99.6h.6M175.3 101.4h.6M173.2 102.5h.6M168.0 83.4h.6M181.2 81.4h.6M172.6 113.9h.6M172.1 113.8h.6M173.4 104.6h.6M186.3 103.4h.6M178.5 87.0h.6M187.1 86.3h.6M179.9 71.4h.6M177.7 83.5h.6M184.2 88.1h.6M184.4 77.7h.6M181.3 98.9h.6M173.7 106.1h.6M177.5 91.0h.6M172.7 83.5h.6M178.8 106.8h.6M181.1 81.5h.6M190.3 79.1h.6M189.8 92.5h.6M185.0 87.4h.6M166.8 94.8h.6M173.3 81.1h.6M186.7 96.7h.6M157.1 127.0h.6M191.0 88.4h.6M187.9 73.7h.6M188.5 104.8h.6M135.6 125.9h.6M137.6 105.8h.6M184.6 88.7h.6M161.1 89.2h.6M159.1 74.4h.6M157.8 84.5h.6M147.2 85.4h.6M166.6 131.5h.6M159.8 93.8h.6M180.7 78.9h.6M150.1 101.1h.6M192.5 97.5h.6M146.8 66.8h.6M182.6 83.3h.6M188.6 58.2h.6" stroke="#000" stroke-width="0.6" fill="none"/>
<text x="147.5" y="41.3" font-size="11.7" stroke="#000" stroke-width="0.25">Lovastatin</text>
<text x="200.6" y="65.5" font-size="5.7" font-weight="bold" stroke="#000" stroke-width="0.12">64.6</text>
<text x="139.8" y="106.8" font-size="5.7" font-weight="bold" stroke="#000" stroke-width="0.12">5.2</text>
<text x="200.6" y="106.8" font-size="5.7" font-weight="bold" stroke="#000" stroke-width="0.12">27.6</text>
<text x="130.1" y="142.9" font-size="6.7" font-weight="bold" stroke="#000" stroke-width="0.15">10<tspan dy="-2.9" font-size="3">0</tspan></text>
<text transform="translate(129.1 135.9) rotate(-90)" font-size="6.7" font-weight="bold" stroke="#000" stroke-width="0.15">10<tspan dy="-2.9" font-size="3">0</tspan></text>
<text x="150.9" y="142.9" font-size="6.7" font-weight="bold" stroke="#000" stroke-width="0.15">10<tspan dy="-2.9" font-size="3">1</tspan></text>
<text transform="translate(129.1 115.4) rotate(-90)" font-size="6.7" font-weight="bold" stroke="#000" stroke-width="0.15">10<tspan dy="-2.9" font-size="3">1</tspan></text>
<text x="171.8" y="142.9" font-size="6.7" font-weight="bold" stroke="#000" stroke-width="0.15">10<tspan dy="-2.9" font-size="3">2</tspan></text>
<text transform="translate(129.1 94.9) rotate(-90)" font-size="6.7" font-weight="bold" stroke="#000" stroke-width="0.15">10<tspan dy="-2.9" font-size="3">2</tspan></text>
<text x="192.7" y="142.9" font-size="6.7" font-weight="bold" stroke="#000" stroke-width="0.15">10<tspan dy="-2.9" font-size="3">3</tspan></text>
<text transform="translate(129.1 74.4) rotate(-90)" font-size="6.7" font-weight="bold" stroke="#000" stroke-width="0.15">10<tspan dy="-2.9" font-size="3">3</tspan></text>
<text x="213.5" y="142.9" font-size="6.7" font-weight="bold" stroke="#000" stroke-width="0.15">10<tspan dy="-2.9" font-size="3">4</tspan></text>
<text transform="translate(129.1 53.9) rotate(-90)" font-size="6.7" font-weight="bold" stroke="#000" stroke-width="0.15">10<tspan dy="-2.9" font-size="3">4</tspan></text>
</g>
<g>
<rect x="230.5" y="53.3" width="82.3" height="82.0" fill="none" stroke="#5a5a5a" stroke-width="1"/>
<path d="M277.5 53.3V135.3M230.5 96.5H312.8" stroke="#5a5a5a" stroke-width="1" fill="none"/>
<path d="M257.5 113.5h.6M262.2 117.2h.6M257.2 115.5h.6M266.3 122.1h.6M259.7 122.9h.6M264.6 119.8h.6M268.5 111.4h.6M248.8 125.1h.6M270.8 122.8h.6M261.2 118.9h.6M257.9 114.9h.6M249.6 126.0h.6M258.0 120.0h.6M247.6 125.3h.6M260.0 113.7h.6M258.7 116.6h.6M269.1 116.5h.6M257.9 119.3h.6M265.2 118.9h.6M265.6 117.5h.6M270.3 119.6h.6M258.3 122.1h.6M263.5 122.2h.6M251.6 120.0h.6M253.8 122.5h.6M258.1 116.0h.6M259.5 126.3h.6M253.2 117.8h.6M257.4 117.3h.6M263.2 114.1h.6M257.2 120.1h.6M258.8 124.3h.6M254.9 122.8h.6M266.8 113.8h.6M268.9 118.6h.6M260.7 120.2h.6M259.0 121.0h.6M268.3 117.8h.6M262.1 119.3h.6M256.1 124.8h.6M252.5 122.0h.6M256.5 115.8h.6M271.1 112.1h.6M256.5 119.7h.6M274.7 118.5h.6M259.6 114.1h.6M258.5 119.7h.6M266.5 122.0h.6M258.3 119.5h.6M261.6 116.1h.6M254.2 114.2h.6M253.1 121.5h.6M255.7 117.5h.6M260.8 119.9h.6M256.1 115.4h.6M249.3 119.4h.6M262.1 117.6h.6M258.7 122.5h.6M258.1 120.2h.6M256.4 120.5h.6M247.8 133.2h.6M267.9 114.7h.6M257.1 119.3h.6M262.4 119.2h.6M266.9 119.1h.6M265.5 117.9h.6M260.7 117.9h.6M259.7 123.5h.6M261.2 118.2h.6M264.4 117.8h.6M262.7 118.3h.6M257.3 124.4h.6M262.0 119.0h.6M261.6 123.1h.6M263.3 117.1h.6M260.7 114.1h.6M266.8 114.8h.6M260.7 119.9h.6M264.3 120.1h.6M259.9 120.8h.6M256.6 118.1h.6M254.7 121.9h.6M258.8 120.9h.6M262.4 127.3h.6M266.3 120.9h.6M259.2 121.7h.6M256.9 121.2h.6M257.0 115.0h.6M266.4 122.7h.6M260.2 123.5h.6M257.0 117.1h.6M263.5 121.8h.6M252.7 120.5h.6M260.2 118.2h.6M259.4 118.9h.6M258.9 121.7h.6M253.6 116.5h.6M264.8 112.9h.6M268.4 121.1h.6M252.7 120.8h.6M260.3 115.5h.6M263.0 119.1h.6M271.4 120.7h.6M257.5 120.7h.6M254.7 116.7h.6M259.6 122.4h.6M270.2 116.5h.6M260.0 117.5h.6M261.0 121.0h.6M268.9 115.5h.6M248.5 118.2h.6M248.3 117.0h.6M264.4 114.9h.6M263.7 123.5h.6M252.4 116.8h.6M262.3 116.4h.6M259.8 115.4h.6M260.8 121.7h.6M255.4 116.3h.6M257.3 117.9h.6M255.0 123.6h.6M259.9 114.4h.6M258.4 121.8h.6M268.4 121.2h.6M262.9 117.0h.6M251.4 122.2h.6M261.8 117.3h.6M267.1 118.7h.6M261.1 117.7h.6M265.3 115.2h.6M259.5 119.0h.6M263.3 115.3h.6M254.7 116.6h.6M263.7 121.2h.6M252.4 116.9h.6M266.4 115.7h.6M251.7 119.5h.6M248.6 116.5h.6M262.4 112.7h.6M258.7 116.3h.6M260.2 123.9h.6M261.9 117.0h.6M259.5 119.3h.6M255.0 120.5h.6M260.7 117.5h.6M261.5 119.7h.6M262.2 112.8h.6M270.0 116.4h.6M255.8 119.3h.6M260.0 116.1h.6M262.6 115.6h.6M257.3 115.0h.6M253.4 117.5h.6M256.7 119.4h.6M265.2 117.6h.6M258.2 126.6h.6M262.8 123.5h.6M255.8 115.8h.6M262.0 119.7h.6M256.1 113.0h.6M255.2 113.2h.6M260.2 123.1h.6M259.9 117.7h.6M267.3 107.6h.6M251.1 122.8h.6M262.3 117.1h.6M268.1 118.4h.6M266.8 118.7h.6M257.6 120.1h.6M256.1 119.4h.6M257.0 116.5h.6M261.2 121.4h.6M260.6 116.9h.6M261.5 121.1h.6M262.8 116.6h.6M254.0 118.5h.6M253.7 122.4h.6M253.2 119.3h.6M252.6 122.4h.6M259.1 121.9h.6M261.3 114.5h.6M272.9 123.3h.6M262.4 116.5h.6M259.7 116.3h.6M267.1 119.8h.6M255.8 115.6h.6M261.4 115.4h.6M264.7 122.6h.6M263.8 116.4h.6M261.7 116.9h.6M257.8 121.7h.6M253.1 117.8h.6M258.8 116.3h.6M256.5 121.8h.6M263.2 125.3h.6M258.9 117.5h.6M262.6 121.0h.6M251.2 126.1h.6M264.7 119.4h.6M255.2 127.8h.6M251.5 121.2h.6M252.4 114.6h.6M256.3 129.3h.6M265.5 116.4h.6M263.4 121.5h.6M253.5 121.2h.6M260.1 122.0h.6M259.1 116.7h.6M251.4 120.1h.6M254.5 122.3h.6M249.0 125.0h.6M255.1 121.0h.6M245.8 116.8h.6M255.5 123.7h.6M254.7 118.1h.6M255.5 118.3h.6M255.3 126.5h.6M265.7 114.1h.6M257.8 119.2h.6M260.9 110.8h.6M263.6 112.2h.6M264.3 119.0h.6M263.2 118.9h.6M256.7 122.8h.6M253.9 124.5h.6M255.6 116.6h.6M257.2 120.1h.6M259.7 120.3h.6M259.2 119.5h.6M265.4 115.6h.6M259.1 115.6h.6M269.0 117.5h.6M265.0 118.7h.6M257.1 118.8h.6M264.1 110.9h.6M244.6 128.3h.6M266.8 121.9h.6M261.8 116.8h.6M261.7 118.0h.6M250.8 115.8h.6M272.8 112.3h.6M258.3 112.0h.6M258.9 121.8h.6M265.5 115.8h.6M258.6 119.8h.6M255.2 116.0h.6M263.1 117.7h.6M254.3 116.5h.6M263.5 120.9h.6M260.4 118.1h.6M265.5 119.8h.6M253.3 120.7h.6M266.1 119.5h.6M261.2 122.2h.6M269.9 113.4h.6M256.2 118.3h.6M269.3 113.6h.6M263.3 121.8h.6M263.8 125.1h.6M255.8 121.7h.6M262.5 118.9h.6M263.1 115.5h.6M255.3 115.7h.6M253.6 115.4h.6M255.6 113.9h.6M267.3 115.1h.6M260.5 118.3h.6M264.5 120.8h.6M261.1 116.2h.6M260.2 120.5h.6M260.8 121.5h.6M257.5 117.0h.6M266.0 117.1h.6M260.5 115.6h.6M260.8 121.2h.6M252.4 115.7h.6M261.2 117.3h.6M256.1 119.9h.6M257.0 121.9h.6M265.0 121.8h.6M253.9 124.5h.6M258.6 114.0h.6M262.9 123.4h.6M265.6 115.7h.6M256.9 120.1h.6M261.3 120.6h.6M261.1 120.3h.6M253.7 120.0h.6M248.5 117.2h.6M249.6 118.3h.6M262.8 118.4h.6M260.2 123.6h.6M252.6 126.1h.6M256.3 112.7h.6M257.5 122.7h.6M257.8 124.6h.6M259.5 114.8h.6M271.1 122.5h.6M255.6 116.8h.6M260.4 115.4h.6M255.6 118.5h.6M256.4 115.9h.6M255.0 124.4h.6M258.4 123.3h.6M256.7 119.9h.6M261.5 118.6h.6M260.7 119.0h.6M255.0 117.8h.6M269.6 120.0h.6M253.5 127.3h.6M261.5 117.1h.6M270.9 118.0h.6M255.9 116.5h.6M266.5 110.4h.6M267.0 117.5h.6M261.4 116.5h.6M250.0 123.4h.6M267.0 114.5h.6M260.1 117.5h.6M256.8 118.3h.6M266.3 114.6h.6M255.9 123.4h.6M265.2 116.0h.6M256.8 117.6h.6M262.4 112.8h.6M254.0 126.0h.6M257.6 119.4h.6M254.9 111.7h.6M255.9 120.8h.6M260.6 120.2h.6M258.7 112.6h.6M260.6 109.8h.6M266.3 117.4h.6M259.0 121.4h.6M249.9 122.3h.6M258.1 120.4h.6M260.0 121.8h.6M264.9 120.9h.6M265.0 117.4h.6M264.6 118.0h.6M258.4 117.3h.6M263.0 118.2h.6M252.1 124.2h.6M266.4 115.2h.6M261.9 117.6h.6M262.3 120.5h.6M257.7 120.1h.6M259.9 117.6h.6M256.1 119.1h.6M262.6 118.9h.6M252.7 117.1h.6M264.7 114.3h.6M262.5 119.5h.6M270.2 117.4h.6M259.4 122.8h.6M259.1 119.5h.6M260.6 117.0h.6M259.8 115.7h.6M259.1 118.3h.6M253.9 120.0h.6M253.9 122.2h.6M256.7 118.5h.6M258.1 122.9h.6M253.4 119.3h.6M253.6 119.6h.6M258.2 122.3h.6M263.5 117.1h.6M258.6 119.7h.6M263.2 116.2h.6M264.7 119.8h.6M263.6 116.5h.6M257.4 113.6h.6M257.5 118.5h.6M249.9 117.4h.6M256.1 121.6h.6M262.1 119.7h.6M254.0 126.3h.6M266.7 118.4h.6M267.1 121.8h.6M257.7 118.7h.6M264.4 125.4h.6M252.2 123.0h.6M254.2 119.3h.6M257.7 117.7h.6M259.7 124.7h.6M258.7 120.4h.6M255.1 110.4h.6M269.9 114.6h.6M261.2 118.1h.6M261.1 128.4h.6M263.2 121.6h.6M260.5 116.9h.6M258.4 118.2h.6M256.7 117.7h.6M251.1 116.7h.6M267.4 117.4h.6M254.8 116.5h.6M251.0 126.4h.6M255.4 110.6h.6M251.3 121.1h.6M270.0 119.6h.6M261.5 113.3h.6M267.0 115.6h.6M267.2 114.3h.6M262.6 120.6h.6M262.6 117.4h.6M255.9 116.9h.6M259.2 122.9h.6M256.5 120.1h.6M259.9 119.7h.6M256.0 120.4h.6M266.2 120.4h.6M263.6 122.7h.6M259.1 117.4h.6M250.9 119.3h.6M263.2 114.3h.6M264.2 118.4h.6M259.3 121.3h.6M253.1 124.9h.6M261.9 118.2h.6M265.1 119.2h.6M249.7 113.2h.6M262.6 110.3h.6M250.2 114.6h.6M260.0 122.0h.6M268.7 122.5h.6M260.1 119.6h.6M262.1 121.7h.6M258.0 114.1h.6M259.6 118.5h.6M271.9 118.5h.6M266.6 117.9h.6M258.0 114.7h.6M257.7 122.5h.6M259.7 117.1h.6M271.1 121.9h.6M260.7 119.4h.6M265.4 120.4h.6M257.7 118.0h.6M253.0 119.3h.6M266.5 113.6h.6M259.2 116.5h.6M255.6 121.6h.6M256.0 124.1h.6M256.1 122.3h.6M256.5 120.8h.6M251.6 120.8h.6M265.9 120.7h.6M261.6 114.8h.6M264.7 114.8h.6M257.8 120.1h.6M261.4 120.4h.6M260.5 119.6h.6M265.7 118.1h.6M263.9 118.3h.6M261.5 124.3h.6M256.3 120.9h.6M253.4 126.4h.6M255.5 119.4h.6M256.3 117.0h.6M256.8 123.0h.6M253.2 119.2h.6M268.3 119.8h.6M261.0 121.1h.6M249.2 113.4h.6M254.0 116.5h.6M252.7 118.2h.6M260.9 120.2h.6M265.2 116.6h.6M254.5 120.3h.6M262.8 116.8h.6M258.2 122.3h.6M265.6 118.3h.6M266.7 119.3h.6M261.2 123.6h.6M263.4 112.4h.6M259.6 116.0h.6M257.7 122.0h.6M253.6 124.9h.6M261.3 121.2h.6M259.3 121.9h.6M257.6 121.3h.6M259.2 124.3h.6M258.7 122.0h.6M254.3 119.4h.6M256.9 117.8h.6M265.5 125.0h.6M258.4 119.1h.6M266.9 121.3h.6M253.7 123.4h.6M252.6 121.0h.6M260.3 121.2h.6M263.6 115.8h.6M256.2 116.9h.6M262.9 119.5h.6M264.5 120.5h.6M265.2 111.7h.6M259.1 112.3h.6M259.4 117.6h.6M251.1 120.7h.6M259.8 115.3h.6M261.1 113.5h.6M266.9 119.7h.6M253.1 113.4h.6M255.3 120.1h.6M254.5 115.8h.6M264.3 120.0h.6M246.6 120.5h.6M254.0 121.3h.6M270.3 117.3h.6M263.0 114.8h.6M252.8 123.1h.6M259.3 120.0h.6M264.0 116.3h.6M262.5 120.1h.6M258.5 111.8h.6M255.5 124.7h.6M263.9 109.2h.6M259.6 121.2h.6M263.8 114.8h.6M261.7 112.8h.6M257.2 117.3h.6M267.1 122.8h.6M257.1 120.5h.6M261.9 118.3h.6M256.4 117.3h.6M258.4 115.6h.6M258.3 115.1h.6M256.2 114.1h.6M260.9 122.1h.6M266.4 114.4h.6M269.2 123.7h.6M267.0 117.3h.6M258.7 122.8h.6M267.1 124.2h.6M261.8 115.3h.6M268.9 117.7h.6M253.1 116.3h.6M267.3 123.5h.6M256.6 123.7h.6M265.6 118.4h.6M257.2 121.6h.6M264.3 118.0h.6M258.2 121.3h.6M250.0 121.5h.6M254.7 123.7h.6M258.4 114.5h.6M259.8 120.0h.6M248.1 124.8h.6M253.5 117.3h.6M255.9 117.7h.6M258.5 118.3h.6M260.8 117.9h.6M255.4 120.9h.6M251.8 120.5h.6M261.2 126.6h.6M257.9 124.7h.6M264.2 122.6h.6M256.9 118.3h.6M263.0 114.0h.6M255.1 120.1h.6M261.0 119.7h.6M260.1 114.8h.6M261.9 119.9h.6M254.8 117.2h.6M259.0 117.4h.6M255.3 124.3h.6M258.8 117.9h.6M262.8 117.7h.6M275.0 120.8h.6M259.8 122.6h.6M263.3 122.9h.6M260.2 113.9h.6M265.5 110.5h.6M262.0 116.0h.6M265.0 112.5h.6M261.5 123.5h.6M272.0 112.1h.6M266.7 110.8h.6M250.9 114.4h.6M261.2 122.0h.6M260.0 114.9h.6M248.3 120.9h.6M255.2 115.7h.6M257.3 121.5h.6M255.9 119.4h.6M260.3 120.8h.6M250.4 118.5h.6M263.5 118.7h.6M263.6 114.3h.6M261.5 115.7h.6M258.0 117.6h.6M259.7 119.0h.6M257.3 120.3h.6M265.5 118.0h.6M262.2 115.8h.6M269.9 116.9h.6M257.8 118.1h.6M267.1 117.9h.6M256.7 119.6h.6M258.8 121.4h.6M254.3 126.4h.6M262.3 116.4h.6M259.4 116.9h.6M262.8 121.9h.6M267.3 110.9h.6M259.4 123.1h.6M261.6 115.0h.6M264.3 117.3h.6M259.4 117.8h.6M256.9 115.2h.6M261.5 115.3h.6M262.2 118.4h.6M263.7 122.1h.6M263.9 122.7h.6M256.2 118.7h.6M261.9 112.9h.6M266.0 114.8h.6M257.3 119.3h.6M261.5 117.4h.6M256.5 116.9h.6M260.5 112.6h.6M268.6 120.3h.6M260.6 116.1h.6M254.7 118.6h.6M261.4 121.4h.6M260.8 122.4h.6M265.4 113.5h.6M252.6 118.7h.6M255.0 120.3h.6M259.3 118.6h.6M251.7 116.5h.6M265.5 117.7h.6M249.3 114.6h.6M255.4 120.4h.6M252.1 122.8h.6M256.3 119.8h.6M263.8 121.7h.6M262.8 119.7h.6M264.4 113.8h.6M262.8 112.3h.6M249.3 118.1h.6M261.2 117.9h.6M250.2 123.5h.6M257.1 122.9h.6M257.7 117.8h.6M256.9 118.7h.6M262.2 120.6h.6M255.5 121.1h.6M268.5 112.0h.6M262.7 114.9h.6M265.7 117.8h.6M263.6 117.5h.6M264.2 113.6h.6M259.5 117.6h.6M269.7 116.6h.6M254.3 125.3h.6M262.0 124.6h.6M259.7 125.8h.6M258.5 127.2h.6M261.3 118.7h.6M255.8 118.2h.6M264.1 121.4h.6M263.7 116.7h.6M260.2 117.2h.6M263.4 118.6h.6M254.4 125.0h.6M250.4 115.0h.6M256.7 114.3h.6M258.5 121.1h.6M272.4 110.0h.6M258.5 118.9h.6M265.0 120.9h.6M264.0 119.7h.6M270.5 124.0h.6M260.3 120.1h.6M263.0 124.2h.6M258.7 114.9h.6M255.3 118.4h.6M254.5 124.6h.6M255.7 117.4h.6M267.0 124.0h.6M261.1 118.1h.6M258.9 117.3h.6M259.8 118.6h.6M256.8 123.4h.6M259.5 119.3h.6M259.5 119.6h.6M263.0 118.2h.6M264.3 112.8h.6M251.3 114.0h.6M260.9 113.0h.6M266.7 120.2h.6M254.5 122.3h.6M258.4 119.0h.6M260.5 117.2h.6M265.3 125.5h.6M262.7 120.7h.6M258.6 112.6h.6M262.2 123.0h.6M265.0 120.8h.6M261.7 121.1h.6M269.2 115.7h.6M261.8 118.8h.6M254.3 120.8h.6M255.7 124.9h.6M259.0 116.8h.6M258.6 119.0h.6M262.9 120.8h.6M261.5 118.5h.6M268.5 114.8h.6M263.8 123.6h.6M267.3 123.4h.6M255.8 123.1h.6M257.5 122.4h.6M263.2 129.4h.6M260.2 121.0h.6M262.9 114.4h.6M261.0 119.9h.6M256.5 115.7h.6M268.4 128.0h.6M265.5 118.5h.6M251.8 115.0h.6M256.6 113.7h.6M259.8 120.7h.6M263.2 121.4h.6M259.3 117.5h.6M252.8 124.3h.6M264.0 119.6h.6M258.7 125.1h.6M265.9 117.7h.6M261.3 118.6h.6M264.8 112.3h.6M264.0 117.0h.6M264.2 120.6h.6M257.1 119.6h.6M265.0 122.8h.6M260.8 118.6h.6M253.4 120.6h.6M257.7 117.7h.6M258.0 115.8h.6M262.1 125.8h.6M263.2 117.2h.6M254.0 117.0h.6M263.4 122.7h.6M259.4 112.0h.6M254.4 122.3h.6M264.0 109.3h.6M255.9 116.6h.6M253.7 116.3h.6M263.6 117.3h.6M264.3 114.6h.6M256.4 123.1h.6M265.1 121.0h.6M264.9 125.3h.6M257.1 117.3h.6M269.9 120.0h.6M259.5 116.2h.6M260.9 116.6h.6M247.6 125.5h.6M263.0 115.9h.6M256.6 118.4h.6M262.0 117.8h.6M251.1 118.5h.6M265.7 118.1h.6M267.2 117.8h.6M269.4 113.7h.6M244.7 124.7h.6M262.8 122.8h.6M261.5 121.4h.6M244.4 117.4h.6M256.1 120.6h.6M259.4 112.0h.6M267.0 129.0h.6M255.6 122.1h.6M260.8 120.3h.6M259.5 117.9h.6M261.7 113.8h.6M257.8 119.8h.6M264.4 121.9h.6M264.8 115.1h.6M252.9 114.3h.6M265.5 127.3h.6M256.0 117.3h.6M258.4 118.0h.6M265.6 121.1h.6M260.3 120.5h.6M262.8 117.4h.6M263.9 118.2h.6M262.9 119.3h.6M257.1 123.5h.6M255.0 118.5h.6M263.3 120.8h.6M263.7 118.0h.6M261.7 120.7h.6M258.9 118.3h.6M264.2 115.5h.6M259.7 118.0h.6M252.9 117.5h.6M261.3 123.7h.6M262.4 116.8h.6M263.8 117.2h.6M255.3 121.8h.6M256.1 120.0h.6M261.6 128.8h.6M257.6 118.9h.6M259.6 120.4h.6M264.7 126.4h.6M261.9 116.7h.6M269.2 119.8h.6M261.4 117.7h.6M268.6 118.5h.6M265.3 116.3h.6M272.9 116.7h.6M260.0 119.9h.6M259.5 117.1h.6M266.6 114.9h.6M257.4 127.5h.6M257.6 119.1h.6M261.2 120.8h.6M261.9 122.6h.6M252.9 115.2h.6M261.3 115.2h.6M258.4 122.8h.6M259.9 122.9h.6M260.9 115.8h.6M259.1 121.3h.6M265.5 119.3h.6M262.5 125.6h.6M259.1 119.5h.6M260.5 114.7h.6M265.3 119.8h.6M264.1 118.7h.6M266.5 111.6h.6M259.4 115.8h.6M260.8 113.6h.6M270.3 115.1h.6M259.9 114.5h.6M268.6 123.6h.6M264.4 121.2h.6M257.9 125.2h.6M253.0 111.8h.6M263.4 117.7h.6M256.6 119.8h.6M256.5 122.1h.6M251.4 123.8h.6M266.2 128.1h.6M260.7 110.7h.6M260.3 119.1h.6M262.2 118.3h.6M261.4 123.8h.6M260.6 119.0h.6M262.8 117.1h.6M258.8 119.3h.6M247.1 118.5h.6M263.9 121.4h.6M262.3 117.4h.6M260.3 115.6h.6M268.2 115.7h.6M253.1 118.5h.6M245.5 121.3h.6M267.7 121.3h.6M262.3 116.5h.6M251.8 121.5h.6M258.1 122.6h.6M263.3 115.6h.6M254.0 125.6h.6M263.0 120.5h.6M270.9 114.5h.6M267.2 114.4h.6M260.0 120.2h.6M261.8 118.4h.6M255.4 117.6h.6M260.8 119.0h.6M258.5 121.9h.6M255.1 118.0h.6M253.4 119.2h.6M269.9 117.1h.6M260.6 114.8h.6M255.0 118.5h.6M258.0 120.8h.6M267.7 117.2h.6M268.4 110.6h.6M257.1 121.9h.6M261.2 119.7h.6M264.7 121.1h.6M258.4 117.8h.6M254.2 124.3h.6M255.2 118.0h.6M260.2 116.1h.6M256.3 122.2h.6M253.6 122.9h.6M259.0 124.4h.6M264.9 118.0h.6M263.6 122.4h.6M259.0 121.3h.6M269.8 119.0h.6M256.2 121.9h.6M259.8 115.9h.6M253.2 114.1h.6M264.1 126.0h.6M259.5 121.9h.6M251.6 119.2h.6M256.0 123.3h.6M269.2 119.5h.6M263.8 117.6h.6M260.7 113.7h.6M264.5 114.0h.6M252.1 121.1h.6M256.0 119.0h.6M253.4 121.1h.6M255.9 120.1h.6M258.2 123.4h.6M262.8 124.9h.6M265.2 119.4h.6M265.1 114.6h.6M273.7 114.1h.6M257.6 126.0h.6M260.0 119.6h.6M262.7 120.8h.6M255.9 118.4h.6M258.7 123.0h.6M262.2 115.3h.6M255.7 120.2h.6M262.5 116.4h.6M266.3 114.8h.6M254.5 126.7h.6M248.5 121.3h.6M260.5 113.3h.6M254.8 119.5h.6M261.0 115.0h.6M257.8 117.7h.6M261.6 120.4h.6M265.8 117.0h.6M264.2 114.4h.6M258.3 114.5h.6M254.2 114.5h.6M247.5 124.7h.6M249.1 117.4h.6M256.0 124.4h.6M260.6 119.3h.6M256.6 120.1h.6M257.0 117.0h.6M251.9 118.9h.6M251.7 115.6h.6M251.3 122.3h.6M263.1 115.4h.6M249.9 118.9h.6M263.4 118.4h.6M255.4 123.9h.6M262.6 116.4h.6M261.1 117.6h.6M263.7 115.5h.6M265.9 118.1h.6M255.9 120.4h.6M254.9 118.2h.6M257.6 117.5h.6M255.9 117.0h.6M263.1 111.6h.6M259.2 121.2h.6M259.8 111.7h.6M261.9 129.3h.6M257.3 115.8h.6M265.3 121.0h.6M250.4 113.0h.6M260.9 121.9h.6M262.2 114.7h.6M255.8 123.0h.6M256.2 123.5h.6M264.3 115.3h.6M258.1 116.0h.6M249.9 122.8h.6M252.8 111.2h.6M264.8 119.3h.6M255.2 113.9h.6M266.3 121.6h.6M266.6 121.4h.6M258.6 118.7h.6M262.4 122.2h.6M255.4 117.9h.6M257.6 127.0h.6M256.1 118.8h.6M262.6 120.5h.6M253.1 123.3h.6M259.0 118.2h.6M259.9 119.7h.6M262.2 120.2h.6M248.9 117.5h.6M250.5 119.2h.6M255.1 118.2h.6M258.5 114.3h.6M260.3 119.1h.6M260.6 115.8h.6M269.8 118.9h.6M262.9 116.2h.6M262.6 116.6h.6M257.1 121.2h.6M263.6 123.8h.6M263.1 123.0h.6M263.0 121.8h.6M259.0 117.0h.6M262.7 118.9h.6M267.3 118.9h.6M255.5 117.8h.6M248.6 117.9h.6M263.7 113.3h.6M263.3 120.5h.6M258.4 117.1h.6M257.3 116.7h.6M273.5 120.3h.6M257.2 118.8h.6M253.4 123.1h.6M257.1 120.1h.6M262.1 117.0h.6M256.5 125.5h.6M257.6 122.3h.6M261.1 121.6h.6M257.4 118.9h.6M260.2 121.5h.6M259.3 117.6h.6M254.2 122.8h.6M259.9 120.7h.6M253.7 117.6h.6M264.3 117.1h.6M254.8 119.1h.6M258.3 119.2h.6M250.3 116.6h.6M257.3 114.3h.6M253.2 121.2h.6M267.1 120.4h.6M258.9 122.8h.6M262.2 112.3h.6M250.7 123.4h.6M253.3 124.6h.6M258.7 118.1h.6M252.7 116.1h.6M265.3 122.5h.6M257.5 119.7h.6M260.3 124.0h.6M261.1 121.2h.6M258.8 113.2h.6M263.4 117.8h.6M256.1 120.4h.6M261.4 118.4h.6M265.6 117.0h.6M260.6 119.1h.6M260.1 123.1h.6M257.8 123.4h.6M259.8 111.7h.6M262.9 121.2h.6M258.3 114.8h.6M251.0 122.7h.6M260.3 114.1h.6M258.8 116.5h.6M261.9 119.3h.6M259.7 111.7h.6M267.4 121.1h.6M253.4 120.6h.6M254.6 122.7h.6M262.8 121.2h.6M254.3 121.0h.6M261.1 122.1h.6M259.4 120.1h.6M249.6 114.7h.6M262.9 124.7h.6M266.4 122.4h.6M260.5 122.2h.6M252.5 121.6h.6M263.5 114.7h.6M254.3 117.1h.6M258.9 117.3h.6M261.6 117.9h.6M255.6 110.9h.6M251.0 124.2h.6M258.8 123.2h.6M259.3 119.0h.6M255.2 118.8h.6M255.6 120.3h.6M263.2 121.4h.6M259.0 123.7h.6M257.1 120.3h.6M256.5 121.9h.6M260.3 120.5h.6M259.9 122.7h.6M258.6 114.2h.6M252.5 118.3h.6M257.6 112.5h.6M256.3 121.2h.6M259.8 118.7h.6M265.2 119.0h.6M264.2 118.2h.6M262.7 119.4h.6M260.0 119.4h.6M257.9 126.2h.6M261.1 119.7h.6M257.1 116.8h.6M257.8 126.2h.6M255.3 120.8h.6M259.2 116.9h.6M259.1 114.4h.6M268.6 117.9h.6M262.2 116.9h.6M257.6 112.9h.6M263.3 113.7h.6M257.1 120.9h.6M264.5 120.4h.6M263.3 114.7h.6M273.8 116.1h.6M254.1 121.7h.6M259.1 119.8h.6M258.9 117.9h.6M260.9 119.4h.6M263.0 119.3h.6M254.6 120.5h.6M255.9 124.8h.6M261.0 112.5h.6M264.3 113.9h.6M253.9 114.3h.6M251.8 120.5h.6M265.1 117.7h.6M263.6 116.3h.6M264.8 115.2h.6M254.7 126.2h.6M258.5 117.8h.6M260.6 122.4h.6M261.6 118.9h.6M258.9 121.4h.6M259.2 112.8h.6M264.5 116.3h.6M257.3 119.3h.6M256.8 114.3h.6M257.3 119.5h.6M256.9 121.9h.6M260.1 119.5h.6M258.4 120.4h.6M257.3 119.1h.6M266.5 114.9h.6M260.9 119.1h.6M257.8 119.4h.6M265.7 114.4h.6M256.8 118.3h.6M259.5 115.5h.6M259.0 118.5h.6M256.6 124.0h.6M257.6 123.2h.6M259.9 124.8h.6M252.4 115.9h.6M257.6 117.7h.6M260.7 120.5h.6M260.8 122.3h.6M260.9 117.4h.6M270.9 117.7h.6M262.7 117.3h.6M258.8 122.1h.6M258.9 123.0h.6M259.4 113.3h.6M261.6 122.0h.6M258.0 119.2h.6M266.8 113.1h.6M254.1 126.3h.6M262.5 116.0h.6M261.9 118.3h.6M253.9 120.2h.6M262.5 117.5h.6M262.2 122.8h.6M256.3 127.3h.6M270.7 110.5h.6M262.9 119.5h.6M257.9 116.0h.6M257.1 115.3h.6M255.8 118.4h.6M260.7 117.1h.6M259.8 116.3h.6M252.6 114.3h.6M254.4 117.9h.6M256.0 114.9h.6M257.5 120.3h.6M257.7 120.7h.6M256.2 119.1h.6M262.6 117.0h.6M264.1 116.3h.6M259.8 111.9h.6M248.8 117.5h.6M258.7 118.8h.6M262.2 111.4h.6M259.1 117.8h.6M260.8 117.4h.6M259.9 117.1h.6M252.2 121.2h.6M247.2 124.6h.6M262.5 118.0h.6M256.9 120.4h.6M261.5 121.7h.6M258.0 118.7h.6M258.6 119.8h.6M266.1 120.1h.6M253.6 126.1h.6M259.4 119.5h.6M254.1 113.4h.6M259.8 115.7h.6M261.7 114.7h.6M262.6 118.5h.6M260.2 115.0h.6M252.7 122.3h.6M260.6 120.4h.6M263.8 116.4h.6M264.3 123.3h.6M269.8 117.2h.6M262.2 117.4h.6M254.5 113.6h.6M256.9 121.8h.6M259.8 117.4h.6M264.5 120.5h.6M253.9 121.7h.6M263.9 127.9h.6M262.6 121.8h.6M255.2 115.4h.6M262.4 116.6h.6M255.7 118.9h.6M259.4 110.1h.6M258.0 117.2h.6M260.6 123.2h.6M253.7 120.5h.6M262.0 118.8h.6M248.9 114.7h.6M257.5 122.4h.6M256.7 117.8h.6M267.1 114.3h.6M262.0 121.4h.6M257.1 118.9h.6M255.1 126.7h.6M259.6 118.5h.6M256.4 127.2h.6M270.3 118.7h.6M246.0 114.7h.6M259.8 117.4h.6M247.5 120.5h.6M264.5 117.6h.6M255.5 111.8h.6M267.2 115.8h.6M256.8 115.6h.6M264.7 119.7h.6M260.4 120.3h.6M265.2 121.8h.6M259.6 119.5h.6M245.0 123.5h.6M255.9 115.9h.6M251.9 117.7h.6M264.0 118.7h.6M262.0 120.5h.6M259.5 129.2h.6M261.6 120.7h.6M260.4 117.7h.6M256.7 116.9h.6M268.9 128.6h.6M260.6 127.3h.6M258.5 118.5h.6M252.3 123.6h.6M256.4 120.1h.6M259.5 120.6h.6M258.6 116.9h.6M257.1 125.9h.6M259.2 121.0h.6M254.0 116.3h.6M259.5 118.2h.6M251.9 123.0h.6M255.3 117.9h.6M255.9 118.4h.6M263.7 121.5h.6M261.8 116.1h.6M259.8 116.4h.6M253.9 120.2h.6M257.5 115.8h.6M263.3 122.5h.6M265.5 115.3h.6M252.3 120.6h.6M257.4 122.6h.6M260.0 121.0h.6M261.1 114.5h.6M259.5 120.9h.6M262.7 119.7h.6M252.4 122.3h.6M267.0 120.6h.6M253.9 116.3h.6M259.7 111.0h.6M262.0 113.8h.6M265.1 116.3h.6M263.8 115.6h.6M263.7 119.5h.6M265.7 119.8h.6M258.7 123.2h.6M263.1 113.2h.6M267.0 119.0h.6M255.8 122.0h.6M252.7 122.2h.6M254.6 118.9h.6M266.3 119.9h.6M265.5 118.0h.6M257.8 118.6h.6M260.7 113.9h.6M261.8 123.0h.6M264.6 117.1h.6M250.4 122.7h.6M256.8 120.8h.6M258.2 113.3h.6M261.1 116.4h.6M259.9 120.2h.6M258.0 117.4h.6M260.9 118.8h.6M247.0 116.7h.6M274.5 118.5h.6M263.5 116.6h.6M263.8 119.0h.6M256.3 119.3h.6M261.5 119.1h.6M269.5 119.7h.6M268.4 117.2h.6M259.9 115.3h.6M253.5 121.9h.6M260.3 120.2h.6M258.1 117.8h.6M263.7 121.0h.6M253.3 116.7h.6M258.6 116.5h.6M260.9 126.9h.6M257.3 121.5h.6M264.7 122.0h.6M254.0 116.7h.6M253.5 116.4h.6M257.8 123.4h.6M263.6 120.7h.6M258.1 119.4h.6M256.7 120.6h.6M263.5 115.7h.6M260.6 115.2h.6M257.0 117.1h.6M260.1 114.9h.6M258.4 115.7h.6M262.5 118.7h.6M260.2 120.3h.6M255.6 122.1h.6M257.2 116.3h.6M257.5 116.0h.6M261.4 115.0h.6M261.4 119.8h.6M255.5 120.9h.6M258.6 118.1h.6M261.1 114.2h.6M264.9 116.8h.6M260.8 117.9h.6M269.1 120.4h.6M259.7 117.3h.6M263.1 116.4h.6M257.9 122.5h.6M254.7 113.3h.6M260.1 122.1h.6M261.9 115.2h.6M261.1 119.4h.6M260.3 118.2h.6M257.9 121.9h.6M255.5 121.5h.6M258.1 116.6h.6M261.8 119.2h.6M264.2 119.4h.6M243.5 118.0h.6M262.5 115.9h.6M264.8 117.5h.6M265.7 117.1h.6M261.4 112.5h.6M262.8 119.0h.6M257.4 117.8h.6M259.1 117.4h.6M262.1 123.5h.6M254.2 126.5h.6M255.7 119.0h.6M260.5 115.6h.6M253.0 119.1h.6M259.8 120.7h.6M252.3 122.2h.6M260.5 115.8h.6M259.7 119.9h.6M256.8 125.0h.6M254.9 117.1h.6M257.1 118.4h.6M248.6 119.1h.6M257.6 115.4h.6M260.1 114.1h.6M265.4 116.0h.6M257.1 119.8h.6M258.7 126.5h.6M266.3 116.8h.6M268.0 118.2h.6M257.2 114.5h.6M264.7 113.6h.6M265.3 116.3h.6M262.1 113.6h.6M254.7 119.8h.6M254.9 119.7h.6M262.4 121.5h.6M271.0 118.3h.6M258.7 118.2h.6M267.2 114.0h.6M268.8 120.1h.6M253.4 116.9h.6M256.6 111.0h.6M266.9 122.6h.6M264.3 119.1h.6M262.2 118.4h.6M259.5 115.3h.6M262.6 111.3h.6M256.4 114.9h.6M271.8 117.2h.6M253.9 122.7h.6M250.7 120.3h.6M260.3 118.9h.6M266.6 117.0h.6M257.1 122.4h.6M259.3 113.5h.6M254.5 122.2h.6M259.2 116.5h.6M254.6 118.8h.6M254.6 123.5h.6M252.3 119.7h.6M256.9 119.2h.6M268.7 118.2h.6M259.3 116.0h.6M260.5 120.4h.6M270.5 108.2h.6M256.4 115.3h.6M254.6 122.8h.6M262.1 127.4h.6M253.5 115.3h.6M261.2 117.7h.6M265.2 117.8h.6M254.2 123.1h.6M257.0 124.4h.6M267.9 124.3h.6M254.3 110.5h.6M256.2 113.6h.6M260.7 120.7h.6M258.0 112.4h.6M255.4 126.1h.6M267.4 115.3h.6M256.7 116.8h.6M261.2 121.7h.6M257.5 120.8h.6M258.4 122.8h.6M252.8 119.7h.6M264.1 113.5h.6M257.4 115.6h.6M265.8 116.5h.6M253.8 115.7h.6M257.2 125.6h.6M261.9 111.3h.6M260.1 119.0h.6M256.3 124.1h.6M258.9 120.4h.6M253.2 122.1h.6M259.8 118.5h.6M246.5 119.7h.6M260.4 127.1h.6M266.2 113.4h.6M263.9 112.1h.6M263.7 122.0h.6M257.5 113.9h.6M261.9 114.0h.6M257.6 115.5h.6M259.1 113.1h.6M259.0 124.0h.6M243.0 118.7h.6M264.1 121.9h.6M261.8 110.1h.6M263.7 121.8h.6M254.9 124.0h.6M262.9 114.4h.6M261.9 116.3h.6M248.6 120.4h.6M250.9 119.7h.6M259.8 116.7h.6M256.3 113.2h.6M259.5 121.5h.6M256.4 121.4h.6M266.9 119.9h.6M250.2 120.5h.6M252.8 119.8h.6M254.7 124.2h.6M252.8 118.8h.6M256.7 123.9h.6M259.4 120.0h.6M252.9 120.8h.6M261.3 119.5h.6M266.0 112.6h.6M264.9 112.2h.6M269.4 113.6h.6M265.1 112.4h.6M259.4 120.0h.6M268.3 112.6h.6M263.0 118.6h.6M268.8 116.8h.6M258.6 118.1h.6M249.2 125.2h.6M253.8 121.9h.6M260.4 119.4h.6M262.3 117.2h.6M258.6 119.5h.6M264.5 121.3h.6M253.9 123.9h.6M256.1 119.4h.6M264.4 122.5h.6M259.8 123.1h.6M260.1 119.2h.6M266.5 117.3h.6M265.0 121.1h.6M255.7 125.9h.6M260.6 117.7h.6M251.2 117.2h.6M259.5 120.4h.6M261.5 120.0h.6M251.1 128.5h.6M267.3 114.5h.6M269.4 121.4h.6M262.0 116.0h.6M264.2 120.4h.6M267.0 118.3h.6M258.8 119.7h.6M264.7 124.7h.6M261.5 108.7h.6M252.1 125.6h.6M255.2 119.1h.6M256.8 122.2h.6M264.9 119.0h.6M260.1 113.9h.6M264.5 124.9h.6M257.3 119.7h.6M253.4 118.0h.6M269.8 117.0h.6M273.0 115.5h.6M261.5 121.3h.6M258.7 125.0h.6M265.5 122.8h.6M254.2 121.2h.6M258.6 116.4h.6M252.6 119.6h.6M262.0 112.8h.6M260.9 118.4h.6M257.7 118.5h.6M256.4 118.6h.6M252.2 126.2h.6M255.6 117.4h.6M265.7 122.0h.6M257.9 120.5h.6M265.8 109.5h.6M255.4 124.0h.6M259.2 118.5h.6M257.4 118.2h.6M258.4 118.6h.6M263.4 118.3h.6M249.6 122.4h.6M263.3 111.2h.6M263.1 125.7h.6M259.7 122.6h.6M260.0 113.5h.6M258.6 117.1h.6M263.0 121.2h.6M259.9 122.1h.6M255.5 120.4h.6M260.4 109.2h.6M264.3 116.4h.6M261.5 122.4h.6M259.8 118.0h.6M260.7 121.0h.6M257.2 113.8h.6M257.4 118.2h.6M250.4 115.7h.6M258.7 118.4h.6M264.5 110.8h.6M257.7 117.7h.6M255.2 118.5h.6M264.0 121.9h.6M260.5 120.3h.6M260.3 117.4h.6M262.0 120.4h.6M263.1 109.4h.6M259.4 119.0h.6M255.6 122.2h.6M268.2 114.1h.6M259.9 120.8h.6M255.9 118.0h.6M260.6 119.1h.6M265.5 120.7h.6M252.7 114.9h.6M266.1 117.6h.6M259.0 115.1h.6M269.4 118.7h.6M262.9 123.6h.6M259.1 123.5h.6M265.8 119.9h.6M265.9 118.7h.6M257.9 118.9h.6M260.8 116.9h.6M257.1 123.8h.6M264.1 117.4h.6M252.8 124.3h.6M258.8 121.5h.6M249.3 111.1h.6M262.5 113.9h.6M248.8 121.8h.6M254.5 113.2h.6M260.9 113.6h.6M257.9 115.9h.6M257.5 113.9h.6M254.9 120.5h.6M257.4 119.7h.6M251.1 123.2h.6M261.2 116.6h.6M263.6 122.9h.6M263.4 120.2h.6M259.5 117.3h.6M265.6 119.9h.6M261.9 117.3h.6M264.3 111.6h.6M261.6 122.2h.6M259.8 113.8h.6M256.0 121.9h.6M246.8 124.1h.6M262.8 117.6h.6M259.1 115.3h.6M269.3 120.1h.6M250.0 122.9h.6M263.7 119.9h.6M255.0 122.2h.6M259.6 118.2h.6M255.4 122.1h.6M261.4 119.6h.6M259.5 117.6h.6M263.9 119.8h.6M260.4 114.6h.6M262.0 121.0h.6M265.9 120.8h.6M262.2 111.2h.6M259.0 113.5h.6M265.7 117.8h.6M259.1 116.0h.6M261.6 117.4h.6M258.1 121.0h.6M256.4 116.9h.6M245.1 119.9h.6M263.0 113.8h.6M254.1 126.4h.6M263.2 115.5h.6M268.4 117.0h.6M253.3 122.3h.6M263.9 119.8h.6M259.2 120.4h.6M261.9 123.4h.6M253.9 121.8h.6M259.8 116.0h.6M260.4 124.3h.6M266.6 119.2h.6M270.1 125.9h.6M261.2 120.8h.6M257.9 117.7h.6M270.4 117.5h.6M259.2 118.8h.6M259.4 123.0h.6M260.2 116.8h.6M261.9 121.8h.6M263.1 115.1h.6M256.9 118.5h.6M259.2 120.4h.6M268.8 112.2h.6M267.5 119.2h.6M261.9 114.9h.6M261.0 118.3h.6M258.6 119.1h.6M264.7 114.6h.6M257.2 117.7h.6M260.3 118.8h.6M257.5 119.6h.6M256.7 118.6h.6M259.9 118.6h.6M259.7 120.1h.6M256.9 123.0h.6M259.4 128.3h.6M260.0 119.2h.6M257.4 120.1h.6M256.5 115.0h.6M259.0 117.4h.6M263.1 114.3h.6M265.1 111.8h.6M260.6 119.1h.6M258.4 122.1h.6M259.6 116.0h.6M269.0 119.7h.6M264.2 119.2h.6M255.1 114.3h.6M259.5 116.9h.6M257.1 115.3h.6M257.9 124.0h.6M251.5 119.9h.6M259.9 114.8h.6M253.1 124.5h.6M256.9 118.6h.6M267.1 116.4h.6M264.6 126.5h.6M255.5 113.7h.6M254.7 122.2h.6M255.3 120.0h.6M250.6 114.1h.6M255.0 126.0h.6M258.4 117.4h.6M254.6 121.2h.6M263.4 118.2h.6M259.5 121.9h.6M257.1 114.3h.6M268.2 121.7h.6M263.2 117.1h.6M260.1 116.9h.6M268.7 117.9h.6M266.1 118.9h.6M256.3 120.3h.6M261.3 114.9h.6M257.6 117.5h.6M252.7 120.2h.6M268.9 121.5h.6M267.0 117.2h.6M253.6 117.8h.6M262.1 118.6h.6M251.7 114.8h.6M264.9 125.0h.6M259.5 109.9h.6M258.3 119.7h.6M265.8 122.1h.6M259.8 125.2h.6M258.5 115.9h.6M264.2 116.2h.6M258.3 119.9h.6M264.0 118.4h.6M259.7 118.3h.6M263.8 119.8h.6M262.8 114.3h.6M263.6 116.1h.6M254.8 120.0h.6M268.9 123.5h.6M258.9 114.0h.6M268.3 119.4h.6M256.8 123.0h.6M258.4 114.4h.6M258.4 117.3h.6M265.4 125.3h.6M257.6 125.2h.6M261.8 120.0h.6M252.1 124.5h.6M257.4 119.8h.6M260.8 109.2h.6M259.2 108.2h.6M250.6 120.3h.6M262.2 115.6h.6M255.0 116.3h.6M269.2 117.9h.6M258.8 124.3h.6M270.8 113.4h.6M263.0 119.0h.6M262.0 116.9h.6M257.4 116.6h.6M259.2 121.9h.6M262.0 112.4h.6M250.2 120.0h.6M264.6 117.3h.6M254.0 121.3h.6M258.5 116.5h.6M246.3 117.1h.6M262.0 120.5h.6M263.4 116.2h.6M261.1 120.2h.6M261.3 123.1h.6M257.9 120.3h.6M260.5 116.5h.6M265.7 116.0h.6M257.6 115.2h.6M262.2 120.9h.6M263.3 119.4h.6M258.6 118.8h.6M260.9 116.4h.6M260.8 119.1h.6M257.3 122.6h.6M271.7 122.7h.6M257.6 114.9h.6M268.2 113.8h.6M265.0 120.5h.6M249.7 114.9h.6M261.0 118.9h.6M264.8 116.5h.6M263.7 113.7h.6M255.3 121.2h.6M261.0 121.5h.6M253.8 126.0h.6M254.6 118.5h.6M258.5 117.4h.6M260.7 115.6h.6M292.8 80.7h.6M290.8 84.0h.6M294.9 80.9h.6M286.3 85.6h.6M291.9 78.3h.6M292.4 82.8h.6M289.9 77.1h.6M297.2 77.6h.6M292.1 80.5h.6M295.7 75.1h.6M293.9 80.5h.6M289.7 82.2h.6M298.1 75.4h.6M294.8 77.0h.6M290.5 83.8h.6M289.9 74.6h.6M286.3 81.4h.6M289.8 84.8h.6M289.5 82.0h.6M291.2 78.1h.6M288.7 81.2h.6M292.7 77.7h.6M290.1 74.7h.6M284.1 81.4h.6M288.4 76.5h.6M286.8 80.8h.6M285.3 85.2h.6M289.4 77.4h.6M294.0 81.3h.6M286.0 80.4h.6M282.5 82.9h.6M289.8 83.6h.6M302.3 77.5h.6M288.1 82.6h.6M291.5 79.4h.6M288.8 78.1h.6M293.8 79.2h.6M296.1 73.2h.6M289.8 78.9h.6M295.1 80.6h.6M286.1 84.6h.6M291.2 80.4h.6M285.4 84.7h.6M291.2 80.9h.6M288.0 79.9h.6M291.4 79.8h.6M286.0 80.3h.6M291.3 82.4h.6M290.9 83.1h.6M288.2 85.8h.6M287.2 87.3h.6M285.7 84.3h.6M288.8 81.5h.6M292.0 80.7h.6M289.9 81.1h.6M291.0 75.0h.6M295.4 81.6h.6M289.1 82.2h.6M291.6 81.7h.6M293.7 81.9h.6M292.5 76.3h.6M292.0 80.3h.6M290.7 77.3h.6M298.1 80.5h.6M290.1 75.9h.6M288.9 75.4h.6M292.8 82.2h.6M296.9 78.0h.6M296.0 78.7h.6M290.6 79.3h.6M293.7 82.9h.6M292.4 78.7h.6M290.7 78.8h.6M293.0 81.3h.6M292.9 86.0h.6M291.0 82.5h.6M297.3 78.8h.6M288.9 79.5h.6M296.0 80.0h.6M298.8 80.2h.6M298.8 75.4h.6M291.5 79.4h.6M289.7 79.2h.6M284.1 83.6h.6M290.2 78.1h.6M300.1 75.0h.6M284.2 88.6h.6M284.3 83.1h.6M293.8 77.2h.6M292.9 79.6h.6M283.2 80.2h.6M290.2 82.2h.6M291.8 78.3h.6M284.4 87.0h.6M294.2 79.1h.6M285.2 84.8h.6M294.9 81.5h.6M291.2 84.1h.6M287.7 81.5h.6M284.1 82.6h.6M289.1 83.2h.6M290.1 84.4h.6M289.9 83.5h.6M288.1 79.8h.6M289.6 84.5h.6M293.9 76.2h.6M286.8 87.1h.6M289.6 80.5h.6M292.2 78.2h.6M290.3 77.5h.6M293.9 80.5h.6M296.6 80.1h.6M289.0 85.4h.6M291.3 78.0h.6M278.8 86.5h.6M289.0 82.7h.6M293.1 80.8h.6M286.0 82.2h.6M295.7 78.4h.6M283.0 81.0h.6M295.8 84.3h.6M288.4 79.5h.6M286.4 84.2h.6M288.5 81.9h.6M289.4 82.2h.6M286.4 82.9h.6M284.9 81.3h.6M288.3 81.2h.6M294.2 83.1h.6M292.0 80.3h.6M295.7 78.7h.6M288.0 80.9h.6M289.0 81.4h.6M289.1 81.7h.6M291.0 77.8h.6M292.2 83.0h.6M297.4 71.7h.6M293.2 81.1h.6M291.1 83.4h.6M295.8 76.2h.6M287.3 79.3h.6M285.2 79.8h.6M293.0 75.6h.6M291.1 79.2h.6M290.9 80.4h.6M294.1 78.1h.6M289.1 81.5h.6M289.9 82.5h.6M291.9 75.8h.6M293.0 74.7h.6M294.3 79.0h.6M290.9 81.3h.6M291.4 81.7h.6M280.8 89.8h.6M295.2 80.5h.6M284.2 85.1h.6M290.2 81.0h.6M300.4 79.0h.6M289.1 86.6h.6M284.1 81.9h.6M296.8 73.2h.6M288.2 87.7h.6M289.7 81.5h.6M289.7 78.8h.6M293.3 82.7h.6M293.5 83.4h.6M289.9 81.0h.6M294.8 79.5h.6M286.8 84.2h.6M293.0 75.1h.6M287.9 77.8h.6M293.1 77.8h.6M287.7 82.2h.6M288.6 82.5h.6M296.2 75.7h.6M285.9 83.5h.6M285.7 78.9h.6M292.6 76.3h.6M289.3 82.9h.6M288.7 79.5h.6M289.8 76.8h.6M298.8 75.2h.6M286.3 85.2h.6M289.3 82.0h.6M291.0 81.4h.6M286.6 82.1h.6M290.2 80.7h.6M292.3 80.9h.6M286.8 80.1h.6M294.8 75.0h.6M285.8 84.4h.6M289.8 85.0h.6M291.7 79.1h.6M302.9 75.0h.6M283.4 82.7h.6M291.5 82.1h.6M300.3 75.4h.6M288.0 84.3h.6M294.7 75.8h.6M291.2 75.7h.6M284.7 85.8h.6M291.9 87.1h.6M286.8 83.6h.6M290.7 82.0h.6M284.4 82.9h.6M293.2 79.3h.6M280.8 83.7h.6M289.7 73.6h.6M295.4 79.9h.6M292.4 80.8h.6M289.0 80.1h.6M289.4 86.2h.6M288.7 79.3h.6M301.1 77.5h.6M290.1 84.7h.6M290.3 83.0h.6M287.4 80.6h.6M288.5 79.2h.6M292.7 76.1h.6M287.9 80.5h.6M287.2 84.1h.6M288.2 80.1h.6M288.9 81.5h.6M291.0 73.9h.6M288.4 87.1h.6M289.6 76.6h.6M287.4 79.9h.6M295.2 77.3h.6M290.7 80.7h.6M289.1 82.7h.6M291.5 82.7h.6M290.2 85.0h.6M284.1 77.9h.6M289.6 78.4h.6M296.9 75.8h.6M292.3 78.7h.6M295.0 83.7h.6M287.7 82.6h.6M284.5 82.9h.6M287.6 78.7h.6M295.7 80.9h.6M286.4 81.6h.6M287.2 82.7h.6M294.7 78.5h.6M289.3 83.2h.6M289.5 79.9h.6M291.8 79.7h.6M290.7 85.5h.6M289.1 77.8h.6M291.3 74.1h.6M287.5 84.3h.6M290.2 77.5h.6M292.9 82.1h.6M286.1 83.9h.6M289.5 76.1h.6M285.8 82.1h.6M293.3 75.1h.6M292.8 78.6h.6M294.1 76.1h.6M294.4 79.1h.6M294.4 74.8h.6M293.2 74.3h.6M287.3 80.1h.6M294.0 80.4h.6M286.7 83.2h.6M299.5 78.9h.6M291.5 78.3h.6M292.7 78.0h.6M285.5 84.7h.6M294.6 76.1h.6M295.0 80.0h.6M284.1 78.4h.6M288.1 79.3h.6M288.5 77.0h.6M287.8 83.6h.6M295.8 80.7h.6M298.9 81.6h.6M286.1 80.6h.6M294.5 81.7h.6M289.3 77.3h.6M295.7 77.6h.6M280.7 82.8h.6M288.6 84.8h.6M295.1 79.9h.6M287.3 81.3h.6M295.0 76.3h.6M288.3 84.9h.6M294.8 77.5h.6M292.6 81.7h.6M288.7 79.0h.6M287.3 82.5h.6M289.7 81.6h.6M294.9 77.2h.6M290.3 77.3h.6M287.7 82.3h.6M303.4 71.1h.6M284.1 86.0h.6M289.4 80.1h.6M292.5 82.6h.6M286.2 81.8h.6M290.3 83.0h.6M288.7 81.1h.6M284.5 81.4h.6M292.1 82.3h.6M285.8 87.3h.6M287.3 82.3h.6M295.2 76.8h.6M285.9 81.9h.6M292.7 81.9h.6M295.0 76.1h.6M294.2 79.5h.6M292.2 77.5h.6M289.4 83.3h.6M284.8 81.8h.6M290.9 77.0h.6M292.1 81.5h.6M288.3 82.2h.6M286.4 80.6h.6M293.7 77.5h.6M286.1 81.4h.6M292.0 80.0h.6M288.4 85.6h.6M283.6 83.6h.6M296.7 81.1h.6M292.7 79.2h.6M292.4 85.9h.6M284.7 79.2h.6M289.8 75.6h.6M291.4 78.8h.6M287.3 84.2h.6M296.8 78.4h.6M282.3 81.8h.6M293.1 77.5h.6M282.8 85.9h.6M284.1 80.1h.6M285.2 80.9h.6M292.5 78.1h.6M287.4 82.8h.6M287.6 81.8h.6M286.6 84.1h.6M284.4 82.7h.6M286.7 84.0h.6M286.3 79.2h.6M288.9 81.1h.6M288.7 80.7h.6M280.7 84.0h.6M287.6 80.9h.6M295.0 82.3h.6M288.3 78.0h.6M289.8 80.5h.6M287.3 83.4h.6M287.4 84.5h.6M289.8 82.6h.6M284.7 84.7h.6M289.4 80.9h.6M283.5 86.0h.6M291.4 79.8h.6M283.8 83.1h.6M292.6 81.4h.6M294.0 72.8h.6M283.6 83.9h.6M292.7 78.6h.6M288.4 81.1h.6M294.6 79.0h.6M287.9 79.8h.6M288.9 77.5h.6M288.8 81.4h.6M294.9 80.8h.6M282.3 82.7h.6M293.0 85.2h.6M290.3 80.1h.6M288.0 82.1h.6M289.0 80.3h.6M293.6 83.2h.6M293.2 80.4h.6M296.6 80.5h.6M287.4 83.4h.6M282.5 82.6h.6M287.7 82.3h.6M289.2 82.7h.6M288.2 78.4h.6M294.8 78.5h.6M298.9 82.2h.6M291.4 82.9h.6M282.9 82.9h.6M294.0 77.8h.6M287.4 81.4h.6M290.1 80.0h.6M293.2 81.8h.6M291.4 80.4h.6M289.7 84.2h.6M291.1 82.6h.6M292.9 82.0h.6M292.4 82.0h.6M298.1 78.1h.6M278.1 86.9h.6M286.8 84.5h.6M287.6 79.0h.6M293.2 80.6h.6M290.8 76.4h.6M293.3 76.7h.6M284.3 86.8h.6M289.0 78.9h.6M292.5 83.5h.6M289.7 77.1h.6M288.3 80.8h.6M291.0 83.1h.6M296.4 83.9h.6M281.6 85.9h.6M296.2 81.8h.6M291.0 77.5h.6M286.5 85.9h.6M292.5 80.4h.6M290.1 79.6h.6M294.7 78.8h.6M286.7 81.8h.6M293.7 79.9h.6M286.3 80.7h.6M291.2 83.0h.6M292.7 78.2h.6M289.6 84.4h.6M292.4 79.4h.6M287.6 85.2h.6M294.1 79.7h.6M287.9 80.4h.6M287.1 79.0h.6M289.4 86.1h.6M289.7 83.2h.6M286.6 85.2h.6M293.1 76.3h.6M289.4 83.6h.6M292.3 78.1h.6M284.0 85.1h.6M284.7 87.3h.6M288.9 81.2h.6M286.0 85.9h.6M289.4 79.3h.6M292.1 77.8h.6M294.3 75.5h.6M295.7 81.2h.6M293.0 75.4h.6M287.1 79.7h.6M292.1 84.9h.6M287.8 76.0h.6M292.1 75.5h.6M285.7 85.8h.6M295.2 77.8h.6M291.5 84.0h.6M288.8 82.0h.6M284.5 83.0h.6M291.0 78.9h.6M287.8 84.2h.6M290.9 80.7h.6M287.1 84.9h.6M287.8 81.0h.6M292.4 78.2h.6M295.8 78.2h.6M284.9 80.2h.6M289.2 79.4h.6M291.5 79.4h.6M289.3 78.2h.6M288.2 85.2h.6M298.5 77.3h.6M286.6 87.4h.6M291.4 80.5h.6M288.0 83.2h.6M289.5 79.0h.6M280.9 86.4h.6M293.4 81.2h.6M289.1 81.7h.6M286.1 83.2h.6M296.5 76.7h.6M288.8 83.9h.6M287.5 86.2h.6M286.6 86.9h.6M294.1 76.0h.6M290.0 84.4h.6M288.7 82.9h.6M284.7 86.4h.6M286.4 80.3h.6M291.3 82.0h.6M289.8 77.8h.6M282.0 86.6h.6M286.5 81.8h.6M290.8 78.6h.6M300.5 73.6h.6M287.0 85.7h.6M281.2 86.1h.6M293.0 79.9h.6M288.0 86.9h.6M284.7 81.5h.6M292.2 79.0h.6M289.0 80.1h.6M286.1 86.6h.6M284.7 82.9h.6M289.4 80.1h.6M290.3 78.1h.6M282.9 85.7h.6M293.8 77.4h.6M284.9 78.0h.6M295.5 79.7h.6M291.2 81.6h.6M289.2 82.3h.6M291.3 84.5h.6M287.6 83.1h.6M289.7 76.8h.6M296.4 80.6h.6M287.7 82.6h.6M293.2 76.3h.6M286.4 81.1h.6M289.9 80.5h.6M293.7 80.2h.6M285.2 83.5h.6M291.3 80.4h.6M281.4 83.1h.6M285.4 82.9h.6M288.3 79.2h.6M293.4 84.5h.6M292.8 77.5h.6M286.3 84.1h.6M289.4 81.2h.6M290.7 81.9h.6M283.8 82.1h.6M291.6 80.6h.6M295.3 76.9h.6M294.8 81.0h.6M287.6 81.6h.6M288.3 78.4h.6M286.2 79.7h.6M288.0 82.9h.6M288.9 81.1h.6M292.6 80.8h.6M290.3 81.2h.6M286.3 82.7h.6M293.2 76.3h.6M293.4 77.9h.6M287.5 78.2h.6M289.0 77.3h.6M289.5 84.6h.6M283.4 83.2h.6M290.5 82.0h.6M292.6 84.2h.6M297.6 80.4h.6M290.7 82.0h.6M288.8 77.0h.6M289.4 81.1h.6M292.4 80.4h.6M293.1 79.7h.6M286.5 84.6h.6M290.7 80.2h.6M292.5 80.1h.6M282.0 89.0h.6M295.4 80.0h.6M289.1 72.3h.6M293.4 77.7h.6M289.8 81.4h.6M289.0 79.7h.6M289.7 83.8h.6M291.1 80.2h.6M293.4 77.1h.6M244.0 87.5h.6M254.6 89.5h.6M258.6 90.2h.6M260.1 78.8h.6M257.3 80.9h.6M266.8 86.3h.6M275.9 78.4h.6M267.7 83.9h.6M275.9 83.1h.6M276.2 88.3h.6M256.3 86.1h.6M266.8 82.8h.6M259.0 83.0h.6M271.5 85.1h.6M259.3 79.9h.6M261.3 78.0h.6M284.1 85.2h.6M261.4 82.0h.6M244.6 90.6h.6M265.0 81.8h.6M267.1 87.0h.6M257.4 84.5h.6M264.4 82.7h.6M275.9 83.6h.6M257.3 79.8h.6M261.3 86.6h.6M255.0 85.8h.6M267.5 81.9h.6M262.0 83.7h.6M252.4 83.2h.6M261.7 84.4h.6M285.6 85.1h.6M243.0 82.2h.6M246.8 84.2h.6M267.6 79.7h.6M246.8 79.4h.6M287.1 83.2h.6M245.6 87.5h.6M247.8 86.2h.6M257.4 86.4h.6M276.6 90.3h.6M273.3 76.4h.6M270.5 81.4h.6M267.2 74.1h.6M279.3 84.5h.6M241.6 82.6h.6M266.9 82.1h.6M280.8 82.5h.6M250.7 80.5h.6M267.4 83.1h.6M278.3 82.7h.6M278.7 81.8h.6M261.9 92.2h.6M286.0 84.7h.6M269.7 85.9h.6M276.5 76.2h.6M250.7 82.0h.6M254.5 81.0h.6M254.4 81.6h.6M284.9 82.7h.6M235.5 78.9h.6M241.5 85.7h.6M273.2 88.2h.6M265.4 80.8h.6M258.8 83.3h.6M259.9 82.2h.6M278.2 78.7h.6M240.6 79.0h.6M257.2 81.6h.6M276.4 76.0h.6M272.8 81.7h.6M252.5 76.0h.6M260.2 88.9h.6M245.9 80.9h.6M280.0 81.2h.6M258.5 83.3h.6M278.9 87.3h.6M273.2 78.6h.6M253.0 84.8h.6M261.9 87.3h.6M271.4 85.3h.6M269.0 83.9h.6M282.0 81.8h.6M277.1 86.0h.6M267.6 86.7h.6M272.0 81.2h.6M255.2 84.2h.6M256.5 76.2h.6M270.9 84.5h.6M267.7 80.2h.6M250.4 77.5h.6M262.7 84.2h.6M254.1 80.2h.6M257.1 82.6h.6M279.2 82.1h.6M252.4 77.9h.6M255.9 87.7h.6M270.5 85.3h.6M264.6 90.2h.6M265.7 83.7h.6M246.5 80.7h.6M263.4 84.4h.6M259.3 80.5h.6M254.1 86.9h.6M257.0 79.4h.6M260.3 84.0h.6M273.8 84.5h.6M286.3 75.5h.6M265.1 83.3h.6M281.5 80.0h.6M265.2 82.8h.6M246.1 81.8h.6M264.5 82.9h.6M279.1 87.0h.6M280.6 81.2h.6M253.3 82.2h.6M290.6 80.1h.6M255.0 84.8h.6M255.1 77.0h.6M257.6 86.6h.6M281.2 81.7h.6M268.6 82.2h.6M274.7 86.8h.6M237.3 89.7h.6M263.2 80.8h.6M262.5 80.9h.6M272.2 82.3h.6M258.3 89.9h.6M278.2 83.5h.6M284.4 99.1h.6M285.9 89.3h.6M288.1 90.5h.6M285.2 87.8h.6M287.2 93.5h.6M290.0 100.1h.6M274.2 113.7h.6M287.3 94.4h.6M281.7 89.3h.6M285.3 97.7h.6M284.2 95.6h.6M279.4 92.4h.6M279.8 104.1h.6M285.1 93.0h.6M282.7 95.6h.6M286.3 97.9h.6M281.9 96.8h.6M291.9 81.4h.6M282.4 90.8h.6M291.6 90.9h.6M280.4 80.3h.6M285.6 92.3h.6M287.8 94.2h.6M278.2 106.8h.6M279.6 107.2h.6M285.0 89.7h.6M287.9 111.5h.6M288.8 92.5h.6M285.6 103.8h.6M287.5 93.8h.6M278.8 101.6h.6M281.7 107.2h.6M289.1 97.7h.6M281.2 90.5h.6M282.4 101.4h.6M276.5 103.7h.6M282.6 99.7h.6M277.1 97.5h.6M284.8 87.3h.6M289.2 84.9h.6M284.6 91.9h.6M284.0 92.4h.6M281.8 106.3h.6M285.6 85.9h.6M279.0 104.9h.6M281.6 104.6h.6M291.9 90.8h.6M278.2 107.2h.6M281.1 96.3h.6M277.9 97.5h.6M288.2 83.5h.6M282.4 98.4h.6M278.4 105.8h.6M278.4 103.6h.6M287.7 100.3h.6M286.0 99.1h.6M286.5 80.4h.6M283.1 102.2h.6M286.9 96.4h.6M288.5 87.5h.6M286.0 92.5h.6M277.0 98.0h.6M275.6 110.4h.6M277.6 109.7h.6M284.4 87.0h.6M277.4 107.3h.6M279.1 101.8h.6M283.5 95.3h.6M279.8 112.7h.6M278.3 103.2h.6M287.1 97.5h.6M285.2 91.5h.6M286.4 95.9h.6M286.9 108.3h.6M289.0 86.0h.6M283.1 114.1h.6M282.5 100.4h.6M276.3 108.5h.6M282.3 102.0h.6M280.9 99.4h.6M287.4 86.5h.6M285.9 100.1h.6M289.1 95.3h.6M287.5 87.7h.6M287.9 88.9h.6M285.3 90.1h.6M283.8 94.2h.6M281.7 100.1h.6M283.1 100.3h.6M279.4 103.9h.6M284.8 89.4h.6M282.9 87.4h.6M275.2 91.8h.6M272.5 114.6h.6M280.3 101.5h.6M281.3 98.8h.6M282.0 99.3h.6M288.3 99.5h.6M280.7 84.9h.6M278.2 91.9h.6M284.7 96.6h.6M287.1 96.1h.6M289.7 90.6h.6M279.2 109.1h.6M282.2 100.3h.6M281.5 93.5h.6M289.1 80.0h.6M285.9 88.3h.6M283.3 88.3h.6M286.0 101.2h.6M281.7 120.1h.6M282.4 88.6h.6M283.0 95.9h.6M281.2 99.6h.6M282.2 86.8h.6M284.5 102.1h.6M284.1 102.5h.6M289.0 96.2h.6M286.5 82.8h.6M282.8 91.0h.6M274.5 117.6h.6M277.3 91.8h.6M281.1 98.9h.6M281.6 95.7h.6M278.0 107.4h.6M281.6 85.9h.6M283.6 93.7h.6M280.6 90.7h.6M282.5 104.3h.6M282.7 92.8h.6M280.3 99.2h.6M279.7 102.0h.6M282.6 103.1h.6M284.1 100.8h.6M279.0 109.0h.6M275.1 109.6h.6M279.3 101.0h.6M285.1 91.2h.6M276.7 113.9h.6M286.7 100.5h.6M280.8 103.5h.6M283.6 107.7h.6M280.0 102.1h.6M285.3 96.6h.6M283.3 98.2h.6M284.5 92.9h.6M275.4 98.4h.6M285.9 88.9h.6M276.5 101.8h.6M281.7 94.5h.6M285.1 100.5h.6M282.3 104.3h.6M285.0 90.8h.6M283.7 92.7h.6M283.4 82.0h.6M279.9 101.8h.6M287.0 99.9h.6M287.4 90.8h.6M280.9 102.3h.6M279.5 106.7h.6M283.8 87.2h.6M280.1 87.1h.6M283.6 94.1h.6M286.2 98.4h.6M285.6 92.8h.6M288.8 91.8h.6M284.8 104.7h.6M279.0 95.6h.6M279.7 98.2h.6M285.1 86.6h.6M290.5 93.5h.6M281.6 98.6h.6M279.5 101.5h.6M288.5 103.4h.6M282.5 80.7h.6M285.7 108.6h.6M287.2 100.7h.6M279.2 103.4h.6M281.6 109.1h.6M280.9 96.4h.6M285.1 98.2h.6M285.6 94.1h.6M281.1 97.5h.6M285.2 94.5h.6M276.1 103.4h.6M284.4 96.8h.6M284.4 92.9h.6M283.0 91.6h.6M277.4 104.5h.6M282.6 100.5h.6M278.9 104.0h.6M288.7 89.4h.6M281.9 100.7h.6M282.2 100.5h.6M282.6 107.7h.6M285.1 81.9h.6M283.3 105.1h.6M285.1 83.6h.6M279.4 95.2h.6M287.3 85.8h.6M268.3 107.6h.6M271.4 111.4h.6M268.7 102.5h.6M272.8 110.0h.6M276.1 113.0h.6M285.3 110.9h.6M251.6 104.4h.6M271.5 94.2h.6M286.6 92.5h.6M283.6 122.8h.6M251.2 102.8h.6M269.2 121.2h.6M268.7 113.4h.6M268.3 104.1h.6M234.7 131.3h.6M276.6 120.6h.6M243.4 123.4h.6M294.5 86.9h.6M273.9 97.8h.6M263.8 120.2h.6M273.6 107.4h.6M267.0 108.9h.6M257.9 109.2h.6M263.9 118.3h.6M269.8 95.0h.6M254.3 117.1h.6M274.8 100.2h.6M280.2 124.4h.6M279.7 103.4h.6M281.1 105.6h.6M282.7 92.9h.6M282.9 101.0h.6M266.1 102.3h.6M270.8 112.2h.6M284.4 93.0h.6M291.5 83.3h.6M260.5 102.8h.6M245.7 107.0h.6M294.3 90.4h.6M280.9 102.7h.6M290.0 92.6h.6M277.5 101.8h.6M268.6 116.9h.6M256.7 123.3h.6M252.3 101.7h.6M285.0 100.1h.6M278.7 114.5h.6M269.6 109.4h.6M250.2 99.2h.6M258.2 129.7h.6M256.9 121.8h.6M261.2 104.5h.6M268.4 121.9h.6M286.6 116.0h.6M257.9 110.7h.6M265.7 96.3h.6M269.1 109.7h.6M271.2 98.9h.6M254.3 113.4h.6M259.4 116.7h.6M268.8 121.7h.6M264.6 98.7h.6M266.7 107.7h.6M252.8 109.4h.6M275.3 104.8h.6M250.6 109.6h.6M276.9 99.5h.6M258.8 94.7h.6M249.2 125.2h.6M264.2 111.7h.6M251.0 118.6h.6M258.1 95.2h.6M263.3 114.1h.6M276.0 124.6h.6M276.2 108.5h.6M271.9 116.6h.6M261.5 119.1h.6M244.6 120.0h.6M262.3 124.7h.6M261.0 131.4h.6M263.6 91.2h.6M258.2 113.6h.6M258.2 121.8h.6M276.3 101.8h.6M247.2 101.3h.6M265.5 128.4h.6M282.6 111.3h.6M254.8 110.2h.6M251.9 122.4h.6M262.3 106.8h.6M260.7 124.3h.6M268.9 116.6h.6M283.8 107.7h.6M263.6 106.7h.6M273.0 108.5h.6M257.4 119.4h.6M258.7 116.0h.6M269.4 131.3h.6M256.2 91.1h.6M281.7 111.1h.6M259.8 115.0h.6M263.1 108.5h.6M251.1 108.1h.6M259.4 108.6h.6M251.7 120.7h.6M258.7 129.1h.6M241.1 118.0h.6M265.2 118.9h.6M289.2 110.9h.6M239.7 116.6h.6M289.1 102.8h.6M263.7 97.9h.6M277.5 109.4h.6M251.5 131.5h.6M293.1 98.4h.6M250.6 104.7h.6M264.3 127.7h.6M286.6 99.7h.6M247.8 112.8h.6M233.3 123.6h.6M264.3 109.2h.6M254.8 109.2h.6M251.9 107.8h.6M252.7 101.9h.6M245.2 115.5h.6M284.5 106.4h.6M282.0 82.3h.6M246.5 125.9h.6M263.8 113.9h.6M258.9 115.8h.6M280.4 99.5h.6M253.7 102.1h.6M287.6 119.1h.6M265.3 98.2h.6M254.4 125.3h.6M264.0 84.4h.6M257.2 119.4h.6M296.4 92.4h.6M267.3 113.0h.6M258.6 105.0h.6M266.6 118.1h.6M285.6 104.7h.6M251.9 113.5h.6M241.9 115.1h.6M283.4 98.5h.6M273.7 113.3h.6M259.0 115.5h.6M264.1 124.4h.6M280.5 108.7h.6M282.8 97.7h.6M262.8 104.5h.6M274.6 116.0h.6M264.5 106.4h.6M308.1 87.6h.6M256.6 114.8h.6M280.5 119.2h.6M265.7 105.0h.6M276.1 101.1h.6M243.7 90.1h.6M236.9 125.3h.6M266.5 107.3h.6M279.3 126.8h.6M281.7 102.0h.6M255.6 108.9h.6M270.0 117.6h.6M245.5 123.9h.6M289.5 107.0h.6M257.2 114.9h.6M282.9 90.6h.6M261.4 114.1h.6M260.5 113.4h.6M287.7 107.4h.6M253.0 129.8h.6M283.2 111.6h.6M260.2 125.7h.6M252.9 112.3h.6M280.9 118.6h.6M264.0 108.4h.6M260.2 133.3h.6M244.1 131.4h.6M281.5 96.9h.6M279.7 121.0h.6M269.6 109.8h.6M276.0 105.2h.6M257.7 129.7h.6M267.3 94.7h.6M266.6 116.1h.6M257.1 107.3h.6M268.4 117.8h.6M254.9 109.4h.6M255.9 126.2h.6M247.7 128.8h.6M267.0 121.0h.6M255.0 119.5h.6M258.0 118.8h.6M284.4 109.7h.6M264.5 106.5h.6M264.6 116.4h.6M243.6 106.2h.6M257.7 119.2h.6M278.8 100.9h.6M272.8 95.7h.6M265.8 92.9h.6M262.6 131.6h.6M266.0 93.0h.6M270.6 127.5h.6M260.5 97.4h.6M292.6 100.9h.6M281.0 116.8h.6M262.9 101.8h.6M284.8 99.3h.6M246.8 120.6h.6M283.1 112.9h.6M267.7 101.4h.6M277.5 97.4h.6M260.2 104.1h.6M267.2 114.2h.6M273.2 108.9h.6M279.7 97.9h.6M272.3 100.6h.6M271.3 97.9h.6M256.8 111.2h.6M289.1 112.4h.6M268.0 107.2h.6M261.9 106.9h.6M260.5 117.2h.6M248.2 110.0h.6M254.7 121.7h.6M243.7 113.0h.6M267.9 116.3h.6M263.9 89.5h.6M268.1 97.9h.6M247.6 112.1h.6M259.2 125.5h.6M256.1 125.3h.6M278.9 100.5h.6M244.2 117.1h.6M243.8 112.5h.6M283.0 122.7h.6M270.1 124.9h.6M243.1 114.6h.6M283.9 108.6h.6M285.9 119.6h.6M281.0 115.3h.6M236.2 109.4h.6M266.7 114.8h.6M252.9 107.7h.6M261.3 94.8h.6M242.9 112.4h.6M289.3 103.9h.6M255.4 119.0h.6M268.9 97.5h.6M276.3 122.9h.6M273.6 120.0h.6M270.8 109.6h.6M259.6 127.0h.6M268.1 100.1h.6M262.0 117.8h.6M233.2 112.7h.6M279.0 110.7h.6M256.3 115.3h.6M257.7 112.3h.6M259.3 132.1h.6M245.6 126.3h.6M248.1 119.5h.6M239.8 94.0h.6M271.6 101.0h.6M281.6 99.6h.6M266.1 121.1h.6M249.0 105.4h.6M283.3 93.9h.6M260.5 104.2h.6M242.7 89.2h.6M238.7 130.5h.6M267.6 121.1h.6M285.2 108.8h.6M259.6 121.9h.6M256.1 112.3h.6M261.2 106.4h.6M253.1 113.6h.6M257.4 111.5h.6M268.5 105.9h.6M254.9 105.2h.6M278.0 114.5h.6M251.3 120.7h.6M274.9 96.4h.6M269.8 113.2h.6M259.6 120.5h.6M260.8 108.9h.6M260.4 115.4h.6M288.5 104.2h.6M253.7 114.1h.6M281.6 100.6h.6M279.1 98.3h.6M260.2 120.3h.6M287.6 118.0h.6M231.7 102.2h.6M268.4 117.0h.6M266.8 126.2h.6M265.3 130.1h.6M276.7 108.5h.6M259.4 118.7h.6M262.4 130.1h.6M281.1 116.8h.6M263.4 122.0h.6M250.5 104.0h.6M272.9 106.6h.6M263.8 111.2h.6M257.1 125.6h.6M272.7 110.9h.6M254.2 106.6h.6M251.2 112.4h.6M261.3 101.0h.6M262.3 110.7h.6M265.7 103.7h.6M248.1 110.1h.6M289.0 111.1h.6M274.4 95.1h.6M267.0 106.7h.6M268.2 101.8h.6M277.9 119.0h.6M250.7 116.0h.6M272.0 117.5h.6M248.3 108.4h.6M278.8 103.6h.6M257.5 100.1h.6M262.0 105.6h.6M286.4 117.5h.6M278.8 98.1h.6M245.7 121.9h.6M255.2 120.6h.6M267.7 109.6h.6M261.7 111.7h.6M276.3 97.8h.6M255.4 84.3h.6M238.7 112.6h.6M252.2 99.0h.6M262.4 113.6h.6M272.6 105.7h.6M275.4 113.8h.6M282.4 111.2h.6M295.7 78.0h.6M279.6 99.3h.6M279.4 116.9h.6M256.9 94.0h.6M302.3 55.5h.6M268.2 92.7h.6M259.6 85.1h.6M271.0 98.1h.6M283.6 98.5h.6M284.9 85.4h.6M252.2 116.9h.6M263.6 105.2h.6M299.6 99.4h.6M269.6 83.2h.6M243.5 87.4h.6M256.5 82.2h.6M255.4 67.4h.6M269.5 112.2h.6M249.9 103.4h.6M288.2 91.7h.6M270.4 89.2h.6M266.8 128.7h.6" stroke="#000" stroke-width="0.6" fill="none"/>
<text x="229.2" y="41.3" font-size="11.7" stroke="#000" stroke-width="0.25">Lovastatin+meva</text>
<text x="300.0" y="65.5" font-size="5.7" font-weight="bold" stroke="#000" stroke-width="0.12">17.9</text>
<text x="239.2" y="106.8" font-size="5.7" font-weight="bold" stroke="#000" stroke-width="0.12">73.8</text>
<text x="300.0" y="106.8" font-size="5.7" font-weight="bold" stroke="#000" stroke-width="0.12">6.2</text>
<text x="229.5" y="142.9" font-size="6.7" font-weight="bold" stroke="#000" stroke-width="0.15">10<tspan dy="-2.9" font-size="3">0</tspan></text>
<text transform="translate(228.5 135.9) rotate(-90)" font-size="6.7" font-weight="bold" stroke="#000" stroke-width="0.15">10<tspan dy="-2.9" font-size="3">0</tspan></text>
<text x="250.3" y="142.9" font-size="6.7" font-weight="bold" stroke="#000" stroke-width="0.15">10<tspan dy="-2.9" font-size="3">1</tspan></text>
<text transform="translate(228.5 115.4) rotate(-90)" font-size="6.7" font-weight="bold" stroke="#000" stroke-width="0.15">10<tspan dy="-2.9" font-size="3">1</tspan></text>
<text x="271.2" y="142.9" font-size="6.7" font-weight="bold" stroke="#000" stroke-width="0.15">10<tspan dy="-2.9" font-size="3">2</tspan></text>
<text transform="translate(228.5 94.9) rotate(-90)" font-size="6.7" font-weight="bold" stroke="#000" stroke-width="0.15">10<tspan dy="-2.9" font-size="3">2</tspan></text>
<text x="292.1" y="142.9" font-size="6.7" font-weight="bold" stroke="#000" stroke-width="0.15">10<tspan dy="-2.9" font-size="3">3</tspan></text>
<text transform="translate(228.5 74.4) rotate(-90)" font-size="6.7" font-weight="bold" stroke="#000" stroke-width="0.15">10<tspan dy="-2.9" font-size="3">3</tspan></text>
<text x="312.9" y="142.9" font-size="6.7" font-weight="bold" stroke="#000" stroke-width="0.15">10<tspan dy="-2.9" font-size="3">4</tspan></text>
<text transform="translate(228.5 53.9) rotate(-90)" font-size="6.7" font-weight="bold" stroke="#000" stroke-width="0.15">10<tspan dy="-2.9" font-size="3">4</tspan></text>
</g>
<g>
<rect x="329.9" y="53.3" width="82.3" height="82.0" fill="none" stroke="#5a5a5a" stroke-width="1"/>
<path d="M376.9 53.3V135.3M329.9 96.5H412.2" stroke="#5a5a5a" stroke-width="1" fill="none"/>
<path d="M390.6 83.3h.6M382.9 83.4h.6M391.8 70.3h.6M392.1 79.3h.6M380.4 94.2h.6M390.8 81.0h.6M389.7 74.4h.6M386.6 79.0h.6M392.5 83.2h.6M396.5 77.6h.6M390.8 88.1h.6M384.8 82.2h.6M383.5 89.3h.6M384.5 87.3h.6M385.1 87.2h.6M393.2 83.7h.6M390.0 75.2h.6M388.8 76.7h.6M392.2 82.4h.6M389.0 82.4h.6M389.1 75.7h.6M385.8 85.7h.6M386.6 85.9h.6M389.0 86.4h.6M384.5 78.5h.6M395.2 79.0h.6M389.4 82.6h.6M386.9 85.7h.6M392.6 84.8h.6M384.9 80.8h.6M392.9 84.1h.6M389.3 84.9h.6M396.0 86.4h.6M386.9 88.5h.6M387.4 85.8h.6M385.7 86.5h.6M384.2 91.6h.6M389.9 85.0h.6M384.9 85.5h.6M390.1 93.3h.6M386.5 81.6h.6M392.9 82.0h.6M379.3 93.4h.6M390.5 83.3h.6M389.1 80.9h.6M388.9 82.9h.6M386.5 83.9h.6M395.5 79.5h.6M387.4 80.9h.6M390.5 87.8h.6M387.9 85.9h.6M387.6 82.0h.6M389.3 82.6h.6M391.5 86.1h.6M384.7 86.2h.6M387.1 86.7h.6M383.6 85.5h.6M390.4 89.2h.6M385.7 91.4h.6M386.1 90.4h.6M391.4 82.3h.6M388.9 72.5h.6M390.4 78.0h.6M388.4 78.0h.6M390.5 82.1h.6M389.2 76.1h.6M384.7 83.5h.6M389.7 82.2h.6M387.6 79.0h.6M388.0 88.5h.6M390.0 91.6h.6M386.8 89.0h.6M384.9 79.0h.6M393.4 76.9h.6M395.9 78.7h.6M387.6 84.6h.6M393.2 81.5h.6M390.4 80.6h.6M386.5 87.8h.6M385.8 81.3h.6M387.9 87.6h.6M387.3 78.1h.6M387.7 85.0h.6M388.4 87.1h.6M384.6 86.3h.6M392.2 85.2h.6M384.6 85.7h.6M384.9 92.6h.6M392.4 83.3h.6M391.8 81.2h.6M394.4 78.6h.6M389.4 84.3h.6M386.5 79.1h.6M393.2 87.9h.6M388.6 84.1h.6M388.4 85.3h.6M385.7 84.6h.6M390.4 83.3h.6M380.0 81.6h.6M390.9 82.0h.6M381.4 90.7h.6M392.2 70.8h.6M383.0 85.8h.6M391.5 82.4h.6M398.3 74.5h.6M387.9 86.0h.6M384.5 86.1h.6M396.3 75.6h.6M387.2 88.8h.6M384.7 87.0h.6M393.7 76.6h.6M378.2 80.8h.6M383.3 86.1h.6M383.9 85.9h.6M386.3 79.7h.6M381.3 93.1h.6M392.0 84.4h.6M392.8 84.4h.6M388.7 91.8h.6M387.3 96.1h.6M383.0 87.7h.6M390.7 78.2h.6M386.3 81.5h.6M391.2 76.4h.6M392.8 92.6h.6M389.1 83.5h.6M380.9 81.3h.6M385.4 88.4h.6M394.1 85.9h.6M390.0 81.0h.6M394.3 80.2h.6M380.5 84.5h.6M388.5 83.2h.6M388.3 78.0h.6M382.8 83.1h.6M386.5 83.1h.6M392.6 82.7h.6M391.0 78.9h.6M386.9 86.8h.6M390.2 78.3h.6M393.4 75.8h.6M384.8 81.0h.6M390.0 87.8h.6M392.9 79.1h.6M386.3 82.7h.6M393.9 76.8h.6M388.6 89.7h.6M393.1 83.4h.6M392.4 81.5h.6M389.9 76.5h.6M387.8 86.0h.6M386.4 80.4h.6M389.6 82.0h.6M389.7 74.3h.6M394.2 78.9h.6M388.6 90.0h.6M390.3 83.4h.6M395.3 78.6h.6M390.2 76.9h.6M390.7 79.2h.6M395.0 81.1h.6M389.3 88.1h.6M390.4 82.0h.6M391.8 82.0h.6M388.5 77.5h.6M384.7 81.1h.6M383.4 91.7h.6M388.2 93.2h.6M393.2 82.5h.6M392.7 79.9h.6M395.1 84.0h.6M392.4 83.4h.6M386.5 79.1h.6M383.4 82.5h.6M387.0 91.3h.6M387.9 81.9h.6M386.1 83.6h.6M392.4 82.0h.6M385.9 82.0h.6M391.1 79.3h.6M391.9 70.8h.6M382.3 85.2h.6M387.3 86.8h.6M393.7 82.6h.6M392.1 78.2h.6M389.4 74.4h.6M384.7 82.4h.6M386.3 81.9h.6M389.3 81.6h.6M393.7 82.4h.6M390.8 81.6h.6M388.6 88.2h.6M389.8 79.3h.6M391.9 79.4h.6M382.3 85.4h.6M385.2 88.4h.6M389.0 84.0h.6M393.5 83.0h.6M393.0 79.5h.6M386.0 85.6h.6M389.0 81.3h.6M386.1 80.3h.6M387.4 78.2h.6M389.5 87.0h.6M387.6 85.0h.6M386.8 88.6h.6M384.5 79.8h.6M382.9 89.5h.6M388.2 77.5h.6M389.6 84.7h.6M391.3 77.3h.6M385.8 86.8h.6M386.2 85.2h.6M393.7 80.0h.6M390.5 81.7h.6M392.3 81.8h.6M386.8 81.1h.6M386.2 79.1h.6M384.6 81.4h.6M392.7 83.1h.6M384.6 92.9h.6M382.4 85.7h.6M386.1 96.4h.6M393.7 77.6h.6M389.0 80.2h.6M389.8 87.6h.6M389.4 80.2h.6M388.7 85.8h.6M388.3 77.8h.6M383.6 88.8h.6M395.2 83.3h.6M388.3 86.0h.6M393.5 79.5h.6M383.0 90.3h.6M391.0 72.2h.6M384.5 86.7h.6M384.0 77.8h.6M389.9 83.6h.6M392.8 82.3h.6M394.1 83.3h.6M393.9 83.6h.6M387.9 81.5h.6M391.9 76.3h.6M386.7 83.5h.6M386.9 87.7h.6M389.8 81.5h.6M388.5 86.5h.6M392.1 92.7h.6M382.0 85.8h.6M393.2 88.2h.6M386.7 86.7h.6M394.5 79.8h.6M393.2 82.4h.6M384.6 86.2h.6M388.7 76.4h.6M391.5 77.5h.6M385.9 77.9h.6M386.1 83.4h.6M387.8 82.5h.6M391.7 73.9h.6M392.3 83.8h.6M387.3 82.2h.6M392.1 80.7h.6M394.5 78.8h.6M392.4 78.6h.6M386.2 83.7h.6M385.8 81.0h.6M390.0 85.9h.6M392.0 79.2h.6M390.5 86.5h.6M387.5 79.0h.6M385.4 80.4h.6M393.7 81.4h.6M388.4 85.3h.6M396.0 79.5h.6M384.6 82.7h.6M387.7 89.9h.6M386.5 88.4h.6M395.9 75.4h.6M393.6 81.5h.6M387.1 89.3h.6M381.7 96.0h.6M393.3 82.6h.6M389.4 90.1h.6M384.7 84.5h.6M383.3 86.1h.6M390.5 74.3h.6M388.2 88.6h.6M389.5 79.9h.6M390.4 87.3h.6M387.6 88.0h.6M387.9 84.3h.6M391.4 85.3h.6M388.5 75.4h.6M387.9 83.7h.6M391.4 84.9h.6M381.5 76.9h.6M393.6 84.0h.6M390.6 83.7h.6M386.1 85.3h.6M388.3 86.6h.6M393.6 78.1h.6M391.1 76.9h.6M382.3 91.8h.6M385.2 87.0h.6M389.7 84.2h.6M395.7 85.6h.6M391.8 87.1h.6M388.2 85.0h.6M391.2 85.7h.6M389.0 81.7h.6M387.8 80.1h.6M390.4 81.5h.6M380.9 85.9h.6M392.8 85.0h.6M391.0 84.6h.6M387.3 82.2h.6M385.8 82.2h.6M384.5 85.7h.6M390.0 80.2h.6M389.5 83.8h.6M389.7 87.6h.6M395.4 78.5h.6M380.7 89.0h.6M386.3 91.6h.6M386.1 81.0h.6M392.5 79.6h.6M388.0 80.5h.6M385.5 86.8h.6M389.8 76.4h.6M390.5 80.3h.6M395.0 75.9h.6M389.9 85.3h.6M387.3 85.2h.6M387.1 78.6h.6M385.9 84.7h.6M390.8 82.0h.6M392.1 75.2h.6M388.1 78.6h.6M388.5 82.3h.6M394.2 72.4h.6M389.4 89.1h.6M390.9 82.4h.6M384.9 87.4h.6M386.7 78.0h.6M381.0 80.4h.6M383.9 87.6h.6M390.4 81.7h.6M393.7 76.7h.6M388.0 81.3h.6M384.5 84.2h.6M389.3 78.7h.6M393.3 72.7h.6M388.4 82.8h.6M392.4 85.9h.6M388.8 83.6h.6M384.4 85.5h.6M385.6 86.3h.6M388.0 80.5h.6M397.6 75.6h.6M391.2 78.1h.6M388.1 81.4h.6M390.1 81.3h.6M389.8 86.9h.6M387.3 85.2h.6M388.6 86.8h.6M388.0 82.1h.6M391.8 82.1h.6M394.9 80.2h.6M394.0 78.3h.6M387.8 84.8h.6M391.1 77.5h.6M386.3 80.0h.6M384.9 89.0h.6M389.3 77.4h.6M391.3 83.2h.6M388.8 86.1h.6M392.1 82.7h.6M392.1 86.7h.6M391.8 80.1h.6M388.4 78.3h.6M383.9 91.8h.6M395.8 77.8h.6M387.2 81.5h.6M391.7 78.9h.6M390.8 79.4h.6M387.7 81.8h.6M395.9 81.5h.6M391.5 78.0h.6M388.9 81.6h.6M387.4 80.5h.6M385.4 83.5h.6M384.3 86.4h.6M391.1 82.1h.6M387.3 81.3h.6M387.3 79.5h.6M390.9 90.0h.6M387.7 88.9h.6M391.4 88.5h.6M386.6 86.4h.6M387.1 86.7h.6M392.4 80.4h.6M386.4 85.5h.6M391.3 76.3h.6M390.9 84.6h.6M389.0 85.9h.6M382.8 89.5h.6M384.1 86.7h.6M384.9 84.4h.6M384.2 87.4h.6M392.2 85.2h.6M385.7 90.3h.6M384.4 84.6h.6M387.1 86.2h.6M388.6 87.3h.6M382.7 87.3h.6M391.3 80.5h.6M391.7 73.2h.6M386.8 77.4h.6M392.0 85.2h.6M383.2 87.8h.6M386.9 92.2h.6M388.4 91.5h.6M389.3 90.5h.6M393.3 77.1h.6M387.8 84.3h.6M385.2 91.0h.6M389.8 85.4h.6M389.6 84.8h.6M390.7 84.9h.6M387.7 77.6h.6M389.6 90.7h.6M386.9 86.0h.6M391.1 81.0h.6M386.5 82.3h.6M386.7 93.2h.6M393.3 80.1h.6M386.1 89.7h.6M389.0 85.4h.6M391.1 88.6h.6M387.8 80.4h.6M392.4 68.4h.6M386.8 79.9h.6M392.8 82.4h.6M383.2 93.2h.6M383.9 82.0h.6M389.2 77.9h.6M394.3 84.9h.6M395.0 76.1h.6M385.8 92.1h.6M388.9 88.4h.6M387.2 83.3h.6M381.0 92.8h.6M391.7 78.5h.6M387.6 77.8h.6M394.1 80.2h.6M390.0 80.4h.6M387.0 77.4h.6M386.4 82.1h.6M388.3 77.9h.6M390.7 76.2h.6M387.2 88.2h.6M399.4 68.6h.6M389.8 77.7h.6M384.8 84.4h.6M389.3 79.4h.6M393.2 79.5h.6M390.6 81.2h.6M387.8 87.7h.6M386.5 85.8h.6M386.0 85.8h.6M384.6 80.6h.6M387.1 81.9h.6M390.0 80.7h.6M386.9 84.4h.6M395.0 74.6h.6M390.4 92.3h.6M387.3 87.5h.6M388.9 79.0h.6M394.4 81.8h.6M382.6 83.4h.6M389.9 75.8h.6M399.0 74.5h.6M392.7 87.1h.6M385.6 85.5h.6M389.4 87.4h.6M388.1 81.3h.6M399.3 73.4h.6M386.5 85.1h.6M388.0 81.2h.6M387.8 84.3h.6M383.7 77.6h.6M376.7 88.5h.6M388.1 82.3h.6M390.9 79.5h.6M387.4 79.3h.6M390.8 79.0h.6M391.8 81.6h.6M391.6 81.3h.6M382.7 83.9h.6M394.6 77.6h.6M392.2 82.8h.6M392.0 83.7h.6M389.0 83.8h.6M389.0 80.9h.6M387.0 85.7h.6M390.5 86.5h.6M392.4 82.5h.6M386.9 85.9h.6M392.0 78.8h.6M387.2 85.8h.6M391.2 83.4h.6M388.4 75.3h.6M392.2 79.4h.6M396.2 83.0h.6M389.8 77.4h.6M387.2 85.3h.6M387.4 87.0h.6M391.3 79.0h.6M387.1 89.6h.6M392.6 81.3h.6M390.1 79.9h.6M392.4 78.0h.6M386.9 86.0h.6M385.4 86.7h.6M386.2 84.6h.6M390.5 77.1h.6M386.1 91.7h.6M391.6 78.1h.6M381.3 85.4h.6M386.5 78.4h.6M388.4 87.7h.6M382.2 81.5h.6M386.7 87.5h.6M383.4 84.4h.6M388.7 84.6h.6M388.1 93.4h.6M391.8 81.6h.6M385.9 82.8h.6M382.9 82.3h.6M387.0 86.4h.6M389.5 87.4h.6M389.3 79.7h.6M389.6 84.0h.6M393.5 76.2h.6M387.7 77.6h.6M388.2 84.1h.6M385.9 85.1h.6M386.8 86.9h.6M392.9 89.2h.6M390.4 82.1h.6M379.3 84.7h.6M393.5 76.1h.6M381.6 86.6h.6M387.5 75.9h.6M392.6 83.1h.6M389.5 82.6h.6M391.1 84.0h.6M392.2 83.0h.6M390.1 83.4h.6M384.3 88.0h.6M390.4 83.8h.6M386.4 82.9h.6M380.0 86.8h.6M387.9 87.6h.6M391.1 79.6h.6M389.5 85.9h.6M389.0 80.8h.6M395.5 79.2h.6M390.0 90.2h.6M392.4 85.3h.6M390.2 78.2h.6M395.2 82.3h.6M387.6 86.2h.6M393.4 82.3h.6M395.8 78.9h.6M387.6 81.1h.6M392.9 82.0h.6M384.0 78.3h.6M390.2 84.5h.6M391.8 83.3h.6M385.9 85.1h.6M382.3 85.4h.6M389.2 76.6h.6M387.8 73.6h.6M389.7 83.8h.6M390.1 82.9h.6M392.2 78.5h.6M394.9 80.3h.6M390.7 78.3h.6M383.3 90.0h.6M391.6 77.9h.6M390.5 91.0h.6M389.6 80.3h.6M395.0 77.0h.6M390.0 71.9h.6M387.7 87.2h.6M390.8 79.0h.6M383.1 83.0h.6M392.6 84.8h.6M389.3 81.5h.6M395.4 83.1h.6M391.6 86.3h.6M390.5 88.3h.6M389.8 83.3h.6M384.7 89.3h.6M388.8 91.5h.6M390.2 81.0h.6M392.8 88.0h.6M390.7 79.0h.6M391.7 80.4h.6M391.7 84.9h.6M387.1 90.3h.6M390.2 86.0h.6M388.3 88.8h.6M384.4 86.7h.6M383.5 87.1h.6M392.2 70.8h.6M394.5 88.8h.6M394.4 82.6h.6M386.0 82.0h.6M394.7 75.6h.6M394.9 74.2h.6M386.3 88.3h.6M390.9 78.4h.6M395.5 91.6h.6M389.5 83.5h.6M393.5 76.9h.6M386.8 80.9h.6M387.9 89.3h.6M392.4 84.6h.6M388.5 92.1h.6M389.6 85.6h.6M389.5 88.4h.6M385.3 83.5h.6M394.7 83.2h.6M388.6 80.5h.6M387.9 83.8h.6M387.5 85.0h.6M389.4 75.2h.6M385.7 79.6h.6M392.4 86.7h.6M387.9 77.5h.6M392.1 78.1h.6M385.9 78.8h.6M385.3 82.8h.6M385.7 92.1h.6M390.0 83.9h.6M384.2 95.5h.6M392.3 87.1h.6M387.9 86.3h.6M392.5 75.7h.6M387.7 83.3h.6M392.2 80.3h.6M385.3 81.6h.6M385.0 88.7h.6M391.3 77.0h.6M387.1 82.9h.6M393.1 84.9h.6M386.5 86.5h.6M391.0 82.9h.6M386.1 81.7h.6M382.6 80.0h.6M394.5 81.4h.6M388.3 84.1h.6M392.7 73.3h.6M389.8 68.9h.6M382.7 78.3h.6M390.6 81.2h.6M393.1 82.3h.6M393.9 77.5h.6M395.2 78.4h.6M390.6 85.4h.6M388.7 77.2h.6M389.4 71.9h.6M384.8 88.6h.6M391.8 84.8h.6M391.8 83.6h.6M390.4 87.5h.6M386.2 80.8h.6M391.5 87.7h.6M387.0 81.0h.6M393.7 78.8h.6M386.8 80.8h.6M387.1 90.1h.6M387.9 82.8h.6M385.2 83.6h.6M385.7 80.7h.6M388.0 81.7h.6M379.9 89.9h.6M396.5 74.2h.6M390.5 76.2h.6M390.2 76.5h.6M385.8 87.6h.6M389.8 80.2h.6M389.0 86.7h.6M389.4 83.4h.6M383.5 82.4h.6M388.6 89.2h.6M382.0 74.5h.6M388.3 77.9h.6M385.7 87.8h.6M386.8 86.4h.6M387.8 83.7h.6M392.2 81.8h.6M393.6 85.7h.6M389.2 83.3h.6M385.0 91.5h.6M394.6 82.7h.6M383.8 77.8h.6M387.0 84.1h.6M388.2 84.9h.6M386.3 77.5h.6M394.0 78.9h.6M390.5 79.4h.6M393.1 83.2h.6M387.9 78.7h.6M392.3 82.6h.6M388.5 79.3h.6M388.5 80.3h.6M390.2 74.8h.6M390.5 77.8h.6M391.2 81.8h.6M388.2 87.8h.6M383.4 86.9h.6M387.8 86.4h.6M379.0 81.3h.6M387.9 85.3h.6M386.0 94.2h.6M392.1 79.6h.6M378.8 84.4h.6M396.5 83.0h.6M387.7 80.4h.6M383.0 91.5h.6M390.6 81.0h.6M390.8 82.6h.6M390.6 80.7h.6M397.2 76.9h.6M385.9 87.3h.6M390.1 78.8h.6M389.6 84.7h.6M386.4 83.6h.6M390.1 76.2h.6M393.7 84.4h.6M385.8 84.1h.6M390.7 75.1h.6M392.8 75.5h.6M391.4 84.5h.6M383.0 88.5h.6M390.1 79.9h.6M387.5 86.4h.6M393.6 80.2h.6M388.5 89.0h.6M396.4 76.4h.6M384.4 92.1h.6M390.9 81.3h.6M385.7 81.5h.6M395.7 82.4h.6M394.9 86.7h.6M385.5 90.1h.6M391.8 89.7h.6M388.8 75.2h.6M382.9 94.2h.6M385.1 90.4h.6M389.4 81.2h.6M390.9 81.7h.6M387.6 79.1h.6M390.1 76.6h.6M390.2 80.3h.6M390.1 82.6h.6M384.6 87.5h.6M389.5 83.4h.6M391.0 77.7h.6M383.4 83.0h.6M394.8 77.2h.6M394.5 87.4h.6M389.6 85.9h.6M396.8 81.9h.6M386.0 86.7h.6M385.4 89.2h.6M386.7 81.1h.6M386.3 79.6h.6M395.9 71.5h.6M389.2 85.0h.6M388.8 83.4h.6M390.4 81.7h.6M395.0 79.9h.6M389.6 86.2h.6M387.6 80.1h.6M390.0 91.1h.6M393.7 82.6h.6M388.2 91.5h.6M394.3 77.4h.6M390.2 88.3h.6M388.3 88.2h.6M390.9 82.0h.6M396.4 83.6h.6M388.1 82.2h.6M394.2 81.9h.6M391.1 73.2h.6M389.6 87.8h.6M389.2 86.3h.6M392.1 78.8h.6M391.3 81.2h.6M390.4 80.2h.6M391.5 82.9h.6M385.8 80.3h.6M386.6 82.5h.6M385.3 78.9h.6M387.7 89.4h.6M388.2 82.1h.6M387.6 84.5h.6M391.0 80.1h.6M385.5 88.7h.6M388.1 79.7h.6M392.3 87.0h.6M395.3 75.8h.6M389.2 80.3h.6M393.5 88.4h.6M394.1 78.5h.6M385.2 93.2h.6M389.9 79.9h.6M385.1 91.8h.6M387.6 83.9h.6M390.5 83.2h.6M384.3 92.3h.6M391.0 89.9h.6M388.5 80.9h.6M388.1 85.4h.6M391.0 77.1h.6M385.9 84.6h.6M382.7 74.0h.6M389.1 82.0h.6M386.3 76.5h.6M388.3 81.7h.6M384.9 84.5h.6M385.5 82.2h.6M385.2 88.0h.6M384.2 88.0h.6M386.0 77.1h.6M386.1 85.1h.6M389.1 87.8h.6M400.8 74.6h.6M386.7 87.6h.6M383.1 85.4h.6M391.1 76.7h.6M384.4 79.4h.6M385.7 76.5h.6M387.7 78.3h.6M389.1 79.8h.6M389.2 80.2h.6M389.9 81.0h.6M388.5 83.1h.6M393.1 70.7h.6M392.1 81.5h.6M386.9 76.4h.6M388.2 83.6h.6M383.9 79.9h.6M391.4 93.9h.6M388.2 82.4h.6M396.0 81.9h.6M386.4 77.1h.6M394.6 73.3h.6M385.5 87.1h.6M382.7 86.1h.6M385.8 80.2h.6M390.2 80.7h.6M392.7 80.3h.6M385.7 80.0h.6M392.5 86.5h.6M387.0 76.5h.6M387.0 81.6h.6M387.8 95.7h.6M395.1 83.5h.6M389.6 82.6h.6M390.1 72.0h.6M383.3 85.4h.6M389.5 88.8h.6M390.0 76.0h.6M395.0 77.7h.6M385.7 84.1h.6M386.3 79.2h.6M385.5 85.9h.6M386.5 84.2h.6M391.4 76.8h.6M386.0 82.0h.6M393.7 75.8h.6M389.0 84.0h.6M385.5 76.7h.6M386.5 89.8h.6M383.8 91.0h.6M383.5 82.9h.6M393.2 81.6h.6M392.2 79.9h.6M385.3 84.0h.6M387.2 83.9h.6M394.8 84.0h.6M386.2 82.4h.6M389.7 76.2h.6M390.8 85.1h.6M388.2 74.5h.6M388.2 75.8h.6M387.6 86.7h.6M389.3 78.6h.6M383.1 90.0h.6M389.1 82.8h.6M389.6 86.8h.6M384.0 87.1h.6M390.6 89.6h.6M385.4 84.7h.6M379.2 91.8h.6M381.7 89.8h.6M389.2 90.8h.6M390.9 81.1h.6M387.3 74.8h.6M383.5 86.6h.6M388.3 83.3h.6M392.3 85.6h.6M388.7 84.5h.6M383.4 88.8h.6M390.6 88.3h.6M388.1 86.6h.6M388.2 84.9h.6M389.1 80.9h.6M390.9 82.8h.6M388.4 81.4h.6M385.3 78.5h.6M388.4 78.6h.6M389.3 84.0h.6M393.2 87.9h.6M384.3 85.5h.6M388.3 82.3h.6M385.6 79.7h.6M389.8 81.3h.6M386.8 71.3h.6M377.4 89.6h.6M392.4 77.8h.6M386.4 87.7h.6M384.8 88.9h.6M383.2 86.6h.6M384.9 83.6h.6M384.0 81.9h.6M388.3 96.5h.6M389.4 77.3h.6M388.5 76.1h.6M390.2 75.9h.6M385.7 80.3h.6M391.1 81.9h.6M388.4 80.2h.6M390.5 76.0h.6M391.1 85.6h.6M387.5 80.3h.6M393.4 78.0h.6M391.8 81.6h.6M387.3 75.4h.6M395.4 82.3h.6M395.0 83.7h.6M383.2 85.6h.6M380.5 89.4h.6M386.5 77.8h.6M390.6 88.9h.6M392.3 86.5h.6M391.3 79.9h.6M388.8 79.3h.6M392.4 85.9h.6M391.5 75.5h.6M387.2 91.7h.6M389.5 77.7h.6M392.8 84.5h.6M386.5 85.8h.6M386.5 75.9h.6M385.8 84.4h.6M394.3 82.7h.6M391.4 80.3h.6M392.0 72.8h.6M387.5 83.0h.6M388.8 86.0h.6M393.4 79.4h.6M387.8 88.5h.6M393.3 83.4h.6M388.8 85.1h.6M388.8 79.8h.6M390.9 83.7h.6M392.1 78.9h.6M395.4 74.3h.6M387.6 76.4h.6M395.1 86.8h.6M386.1 84.3h.6M385.7 89.2h.6M380.6 84.0h.6M392.0 80.0h.6M394.4 79.9h.6M384.5 87.2h.6M387.7 87.4h.6M388.0 90.5h.6M383.2 81.3h.6M389.2 83.4h.6M390.0 81.9h.6M387.1 82.2h.6M385.1 81.1h.6M389.4 74.2h.6M391.1 82.3h.6M383.7 82.4h.6M388.5 89.9h.6M391.0 83.3h.6M378.6 90.9h.6M390.1 84.8h.6M395.3 74.4h.6M384.2 84.5h.6M393.7 79.9h.6M387.8 82.8h.6M391.2 82.5h.6M388.3 83.9h.6M384.7 87.6h.6M382.6 88.1h.6M397.7 80.1h.6M384.0 85.9h.6M387.9 91.3h.6M394.2 79.7h.6M390.0 82.2h.6M389.6 80.5h.6M381.5 91.2h.6M386.6 87.8h.6M384.0 81.6h.6M382.3 89.1h.6M390.3 79.9h.6M392.0 84.0h.6M386.1 89.3h.6M386.5 90.2h.6M390.5 84.5h.6M392.2 83.0h.6M385.0 89.9h.6M393.3 74.3h.6M392.4 80.8h.6M389.0 86.5h.6M384.8 78.2h.6M391.0 78.0h.6M391.5 84.6h.6M395.4 83.8h.6M386.7 84.6h.6M394.8 76.5h.6M387.6 89.4h.6M390.9 76.7h.6M388.5 84.5h.6M389.2 78.9h.6M394.4 80.5h.6M386.4 81.8h.6M392.0 78.3h.6M387.9 77.5h.6M388.8 85.8h.6M386.3 75.8h.6M389.7 87.7h.6M381.5 85.0h.6M388.0 80.2h.6M392.7 80.6h.6M392.1 77.2h.6M382.9 92.6h.6M384.8 84.9h.6M387.4 79.1h.6M395.9 79.0h.6M387.4 88.1h.6M388.9 81.9h.6M388.0 82.2h.6M390.1 86.3h.6M385.6 78.6h.6M389.9 84.4h.6M390.7 86.1h.6M392.8 80.2h.6M385.7 87.0h.6M392.3 81.7h.6M396.1 78.0h.6M391.9 82.9h.6M391.5 78.7h.6M379.9 85.9h.6M393.9 74.8h.6M396.1 83.3h.6M393.5 80.0h.6M390.8 80.5h.6M392.1 79.8h.6M400.2 86.0h.6M386.3 88.5h.6M387.5 81.9h.6M393.1 78.0h.6M389.9 81.9h.6M380.9 85.8h.6M389.8 76.9h.6M390.3 83.4h.6M385.5 87.6h.6M390.4 75.4h.6M389.9 79.4h.6M382.2 86.6h.6M390.9 84.6h.6M397.0 71.6h.6M395.5 80.4h.6M384.7 88.1h.6M384.0 79.6h.6M389.2 88.7h.6M390.0 82.6h.6M384.0 82.3h.6M386.2 85.1h.6M394.1 82.2h.6M389.9 80.2h.6M392.9 85.8h.6M388.9 83.5h.6M392.8 77.5h.6M387.0 88.2h.6M387.0 77.5h.6M385.4 85.2h.6M381.8 86.5h.6M387.5 85.3h.6M383.9 82.6h.6M387.2 85.5h.6M389.5 81.3h.6M389.6 76.8h.6M390.4 76.4h.6M387.5 89.8h.6M388.7 76.9h.6M393.3 82.5h.6M388.4 81.5h.6M389.1 82.0h.6M379.8 86.0h.6M384.8 87.2h.6M393.1 78.0h.6M385.7 79.8h.6M384.9 87.1h.6M392.6 80.8h.6M384.3 81.4h.6M392.7 76.1h.6M388.6 81.3h.6M386.6 82.6h.6M381.2 84.3h.6M393.9 81.5h.6M382.1 84.6h.6M384.3 86.1h.6M391.9 82.5h.6M384.3 95.0h.6M390.8 89.3h.6M388.8 81.1h.6M387.9 79.9h.6M384.9 82.7h.6M386.4 83.4h.6M390.0 83.4h.6M385.2 82.0h.6M391.3 83.1h.6M389.8 82.2h.6M391.0 75.1h.6M389.8 88.1h.6M391.0 84.1h.6M390.3 82.9h.6M392.0 89.3h.6M390.3 87.0h.6M390.1 77.5h.6M385.5 82.1h.6M382.4 86.5h.6M389.1 76.9h.6M392.5 85.0h.6M385.4 76.2h.6M382.9 85.9h.6M386.8 86.3h.6M390.3 77.3h.6M392.1 78.8h.6M387.7 82.4h.6M384.5 85.4h.6M388.7 90.5h.6M391.5 90.3h.6M388.7 82.8h.6M392.7 76.6h.6M387.0 87.0h.6M392.2 80.6h.6M395.1 86.3h.6M385.2 91.0h.6M385.6 84.6h.6M391.4 78.5h.6M400.7 73.6h.6M390.8 76.6h.6M388.8 86.2h.6M393.8 80.9h.6M388.5 79.5h.6M382.8 90.1h.6M385.3 85.8h.6M394.0 80.2h.6M382.6 86.0h.6M383.5 81.6h.6M392.0 79.3h.6M389.5 84.3h.6M393.5 90.4h.6M384.9 81.3h.6M386.1 79.8h.6M387.6 81.2h.6M384.3 83.5h.6M388.0 81.3h.6M388.3 77.8h.6M392.2 83.3h.6M388.6 83.2h.6M387.4 87.8h.6M390.8 82.7h.6M393.1 84.2h.6M392.8 84.3h.6M390.0 90.7h.6M387.5 83.9h.6M387.1 79.3h.6M384.0 98.1h.6M389.2 77.2h.6M388.8 83.0h.6M395.1 82.6h.6M389.7 81.1h.6M391.7 82.4h.6M393.8 80.6h.6M381.9 80.2h.6M386.5 83.3h.6M388.0 81.7h.6M389.4 83.7h.6M384.6 85.7h.6M392.1 85.1h.6M392.3 81.6h.6M390.8 85.2h.6M391.5 76.6h.6M384.8 85.9h.6M393.2 77.5h.6M386.6 78.4h.6M381.8 82.0h.6M389.4 85.5h.6M390.5 74.8h.6M386.3 92.2h.6M382.7 79.8h.6M384.6 95.8h.6M388.3 87.0h.6M379.3 88.0h.6M392.8 83.9h.6M392.7 90.0h.6M388.2 89.6h.6M392.9 79.7h.6M388.3 90.5h.6M384.6 82.3h.6M391.3 76.7h.6M391.0 76.0h.6M385.4 83.5h.6M383.6 85.7h.6M385.2 86.4h.6M393.3 68.8h.6M387.8 78.3h.6M399.5 74.8h.6M386.4 82.6h.6M391.2 77.0h.6M390.1 90.5h.6M388.1 79.6h.6M392.1 83.7h.6M385.7 94.4h.6M388.7 78.2h.6M384.5 88.4h.6M380.7 85.1h.6M389.2 85.9h.6M384.6 86.7h.6M384.0 78.4h.6M391.1 80.3h.6M388.3 81.5h.6M390.4 88.9h.6M395.4 75.7h.6M389.6 85.3h.6M390.6 80.0h.6M384.4 89.5h.6M392.1 79.7h.6M392.1 78.9h.6M384.9 91.1h.6M391.4 80.2h.6M390.1 86.1h.6M388.1 77.9h.6M389.2 81.1h.6M398.1 78.0h.6M386.5 71.0h.6M387.7 79.9h.6M389.3 84.3h.6M388.2 79.4h.6M382.0 85.1h.6M391.4 75.8h.6M392.4 85.4h.6M395.5 71.1h.6M386.8 86.1h.6M384.2 86.8h.6M391.4 84.7h.6M385.0 86.1h.6M388.9 74.6h.6M387.4 82.8h.6M389.6 87.1h.6M387.2 84.3h.6M391.6 80.4h.6M385.4 80.4h.6M397.9 79.7h.6M391.9 80.5h.6M386.6 71.3h.6M385.3 85.2h.6M388.2 82.7h.6M387.1 88.8h.6M385.8 80.3h.6M394.2 82.1h.6M392.6 73.0h.6M384.8 79.6h.6M391.0 78.2h.6M389.0 84.9h.6M391.8 82.8h.6M386.4 85.7h.6M397.0 78.4h.6M389.2 84.1h.6M396.5 81.3h.6M387.1 83.3h.6M394.0 80.3h.6M388.5 84.6h.6M395.2 75.7h.6M388.3 78.6h.6M384.9 87.2h.6M384.9 75.6h.6M386.5 82.3h.6M391.2 76.3h.6M390.4 74.0h.6M389.4 88.7h.6M393.0 78.6h.6M395.1 75.7h.6M385.1 79.5h.6M392.8 77.4h.6M397.7 74.0h.6M386.6 90.4h.6M386.8 88.0h.6M390.5 79.5h.6M389.8 91.1h.6M386.9 86.1h.6M388.7 83.7h.6M395.1 78.1h.6M392.4 77.1h.6M385.9 83.3h.6M382.5 89.6h.6M384.8 89.0h.6M389.6 80.6h.6M386.0 81.7h.6M385.8 82.7h.6M391.7 80.8h.6M387.9 82.8h.6M387.5 89.5h.6M389.8 82.5h.6M394.5 76.7h.6M390.1 87.0h.6M391.6 79.6h.6M389.3 79.6h.6M394.8 69.7h.6M384.3 85.4h.6M384.7 86.0h.6M387.0 88.9h.6M396.6 83.6h.6M394.8 86.8h.6M384.8 92.6h.6M387.2 80.6h.6M391.1 81.7h.6M389.2 81.3h.6M392.3 87.9h.6M387.1 92.4h.6M382.7 93.5h.6M391.3 74.6h.6M393.7 75.5h.6M383.2 91.5h.6M381.9 85.9h.6M387.3 82.9h.6M381.9 90.5h.6M390.6 84.7h.6M384.6 80.8h.6M391.8 78.2h.6M387.7 79.5h.6M389.5 81.1h.6M391.5 80.9h.6M388.2 80.9h.6M385.1 85.3h.6M392.5 73.7h.6M383.4 84.5h.6M394.3 77.7h.6M386.7 84.2h.6M387.0 86.6h.6M390.5 82.1h.6M390.6 83.3h.6M390.9 85.2h.6M383.4 82.0h.6M385.7 75.7h.6M390.3 80.8h.6M390.4 82.4h.6M388.6 85.9h.6M393.9 86.5h.6M388.3 80.4h.6M392.6 78.4h.6M393.1 84.0h.6M390.3 81.6h.6M388.3 86.7h.6M391.8 75.1h.6M390.7 81.3h.6M391.3 79.6h.6M385.7 76.9h.6M390.8 91.3h.6M395.0 77.8h.6M387.9 82.0h.6M389.5 83.6h.6M388.1 83.0h.6M392.3 75.6h.6M381.2 89.3h.6M395.0 82.3h.6M390.9 74.2h.6M388.2 78.6h.6M390.0 80.0h.6M393.3 76.9h.6M390.4 81.5h.6M391.6 82.5h.6M393.6 80.9h.6M389.7 80.9h.6M391.8 83.1h.6M394.6 86.6h.6M391.2 82.2h.6M386.7 82.5h.6M391.9 81.6h.6M396.7 75.8h.6M387.8 81.8h.6M390.8 77.5h.6M390.7 81.1h.6M392.4 81.6h.6M387.5 80.8h.6M389.0 78.7h.6M396.4 80.7h.6M391.7 84.9h.6M386.7 77.9h.6M392.0 83.2h.6M389.3 80.8h.6M394.8 81.6h.6M383.0 84.6h.6M389.4 76.3h.6M392.7 73.4h.6M384.3 90.5h.6M386.2 90.1h.6M390.8 95.9h.6M389.2 79.9h.6M387.9 76.4h.6M390.2 80.8h.6M383.8 86.4h.6M385.9 80.5h.6M395.6 83.2h.6M386.6 80.9h.6M390.7 75.9h.6M388.9 77.3h.6M392.3 77.8h.6M390.3 84.0h.6M390.6 83.1h.6M393.4 84.2h.6M390.3 73.9h.6M382.7 80.4h.6M386.6 84.0h.6M394.4 80.1h.6M393.0 79.5h.6M388.2 85.8h.6M383.1 83.3h.6M386.4 81.7h.6M396.9 76.7h.6M393.6 80.0h.6M393.6 90.9h.6M383.0 86.4h.6M384.0 91.1h.6M386.8 90.8h.6M384.0 75.5h.6M389.5 84.4h.6M385.0 85.4h.6M390.8 82.9h.6M388.2 86.6h.6M387.0 76.7h.6M391.5 89.2h.6M390.7 79.7h.6M389.5 84.8h.6M387.7 77.8h.6M388.9 79.0h.6M381.8 85.9h.6M381.7 92.7h.6M386.5 80.5h.6M389.6 78.1h.6M395.6 76.4h.6M390.5 83.1h.6M385.4 81.7h.6M387.2 86.8h.6M384.3 83.9h.6M388.9 81.1h.6M388.7 83.8h.6M388.9 86.9h.6M390.1 83.1h.6M392.9 84.4h.6M391.6 86.4h.6M384.7 80.3h.6M392.2 81.7h.6M385.3 86.7h.6M390.5 84.1h.6M389.4 80.6h.6M395.3 80.9h.6M388.7 85.8h.6M388.7 81.6h.6M388.0 82.5h.6M392.3 84.9h.6M390.2 86.7h.6M388.1 77.6h.6M392.2 82.3h.6M396.9 73.5h.6M395.1 77.0h.6M394.7 80.1h.6M387.1 84.7h.6M388.7 75.8h.6M389.7 85.1h.6M382.7 87.5h.6M395.5 82.9h.6M383.7 86.0h.6M390.6 85.9h.6M384.5 84.4h.6M389.5 87.8h.6M392.2 78.9h.6M391.0 80.2h.6M385.9 83.3h.6M386.7 86.4h.6M392.5 75.4h.6M388.8 74.1h.6M389.5 83.0h.6M392.6 84.2h.6M379.7 84.6h.6M390.0 83.1h.6M393.8 79.7h.6M395.7 76.5h.6M391.6 87.2h.6M386.4 80.9h.6M392.7 85.3h.6M396.1 84.5h.6M386.7 85.5h.6M386.4 77.7h.6M388.5 85.6h.6M387.6 81.4h.6M381.5 90.5h.6M380.3 84.4h.6M384.2 83.7h.6M386.7 78.9h.6M390.7 81.1h.6M387.1 83.6h.6M389.7 90.4h.6M394.2 78.7h.6M400.2 73.7h.6M392.3 80.2h.6M385.5 83.7h.6M392.8 78.4h.6M389.1 78.9h.6M390.4 85.9h.6M392.7 81.2h.6M392.0 79.4h.6M384.2 84.0h.6M384.8 88.9h.6M390.1 90.7h.6M391.7 80.0h.6M396.9 75.6h.6M391.3 74.4h.6M387.7 81.5h.6M387.3 87.3h.6M386.4 82.1h.6M384.2 85.6h.6M384.2 88.0h.6M387.0 89.9h.6M389.4 90.3h.6M386.2 87.1h.6M389.1 84.5h.6M388.0 83.0h.6M388.2 83.0h.6M387.4 82.5h.6M390.1 73.9h.6M389.1 82.9h.6M379.2 81.8h.6M390.0 85.6h.6M389.4 85.6h.6M386.8 86.1h.6M389.7 90.1h.6M386.5 76.9h.6M389.5 81.4h.6M385.8 81.2h.6M391.6 74.0h.6M390.3 80.1h.6M383.7 78.4h.6M386.5 94.2h.6M391.7 75.9h.6M390.6 80.7h.6M389.6 84.8h.6M384.8 80.2h.6M386.5 83.9h.6M389.7 85.4h.6M390.1 90.5h.6M389.0 75.1h.6M386.0 95.5h.6M388.2 82.8h.6M387.2 76.8h.6M384.7 82.1h.6M385.0 87.5h.6M386.0 85.4h.6M383.5 88.2h.6M390.8 80.8h.6M391.9 81.6h.6M392.3 86.6h.6M386.1 90.5h.6M386.2 79.2h.6M389.9 87.8h.6M387.3 88.5h.6M387.9 73.3h.6M387.9 87.0h.6M383.1 91.5h.6M393.7 84.6h.6M383.7 82.1h.6M383.2 89.0h.6M392.0 81.9h.6M385.0 94.8h.6M393.0 83.5h.6M390.3 82.0h.6M390.3 82.0h.6M387.6 77.2h.6M383.8 83.3h.6M384.6 97.6h.6M389.4 89.7h.6M388.6 86.9h.6M384.5 86.4h.6M384.8 84.8h.6M385.8 81.8h.6M388.8 90.3h.6M390.6 91.8h.6M392.3 77.8h.6M387.6 87.9h.6M394.3 90.5h.6M391.6 85.7h.6M394.4 82.1h.6M385.8 89.8h.6M391.1 87.0h.6M393.0 76.5h.6M382.5 91.0h.6M392.4 79.9h.6M390.5 81.2h.6M392.4 82.8h.6M389.6 72.4h.6M393.2 86.7h.6M387.4 72.5h.6M387.1 88.1h.6M391.6 82.8h.6M391.7 80.3h.6M384.0 80.6h.6M393.4 77.7h.6M393.3 82.3h.6M392.8 82.6h.6M386.3 79.2h.6M393.6 73.9h.6M390.9 84.3h.6M392.4 75.9h.6M388.8 80.5h.6M387.4 82.6h.6M386.4 89.0h.6M386.7 89.5h.6M392.3 79.4h.6M386.2 96.4h.6M386.7 86.2h.6M390.2 80.4h.6M388.0 90.6h.6M381.5 79.6h.6M386.6 76.9h.6M387.7 88.2h.6M394.9 80.4h.6M391.4 82.2h.6M385.3 87.1h.6M385.0 87.0h.6M387.3 81.6h.6M389.8 75.2h.6M386.1 83.9h.6M390.6 81.6h.6M383.8 84.9h.6M390.2 85.3h.6M393.4 77.9h.6M379.2 89.9h.6M388.9 87.2h.6M389.9 79.5h.6M390.6 90.2h.6M389.4 84.9h.6M388.8 84.7h.6M390.0 82.9h.6M389.4 89.4h.6M389.3 86.8h.6M394.8 80.6h.6M392.8 78.3h.6M392.4 81.6h.6M386.7 84.9h.6M387.2 87.4h.6M392.9 80.8h.6M385.2 96.9h.6M392.7 78.2h.6M384.1 81.1h.6M396.8 79.0h.6M393.5 84.8h.6M387.0 78.0h.6M387.3 86.6h.6M381.5 80.7h.6M388.8 84.1h.6M393.4 84.0h.6M391.2 82.6h.6M388.0 86.3h.6M396.5 79.8h.6M391.0 79.7h.6M390.5 83.2h.6M386.0 96.0h.6M387.2 98.5h.6M388.3 98.9h.6M387.3 103.0h.6M388.8 98.7h.6M388.9 96.4h.6M388.1 93.7h.6M389.3 94.2h.6M387.3 93.1h.6M390.4 95.6h.6M388.4 100.5h.6M389.6 98.6h.6M386.7 93.0h.6M383.3 99.6h.6M386.0 93.8h.6M387.4 104.1h.6M388.3 99.7h.6M387.2 101.3h.6M391.3 95.7h.6M383.7 102.7h.6M382.4 105.2h.6M386.8 98.9h.6M385.4 107.5h.6M387.4 100.5h.6M389.1 96.1h.6M394.8 99.4h.6M383.6 100.1h.6M384.3 102.8h.6M387.1 99.7h.6M383.2 99.2h.6M385.2 97.6h.6M390.8 95.3h.6M387.1 101.2h.6M387.2 92.9h.6M390.3 95.9h.6M382.6 102.7h.6M387.6 93.3h.6M387.1 99.9h.6M388.0 90.9h.6M384.5 96.4h.6M386.1 99.2h.6M387.0 100.2h.6M389.3 100.5h.6M385.3 102.0h.6M389.0 98.6h.6M381.4 95.9h.6M388.4 97.2h.6M389.4 97.7h.6M384.8 97.8h.6M386.5 99.8h.6M387.3 102.9h.6M388.1 103.4h.6M390.6 91.7h.6M387.8 99.1h.6M386.6 92.7h.6M386.7 91.6h.6M388.0 97.0h.6M389.4 94.6h.6M388.0 99.3h.6M385.8 99.4h.6M386.3 98.4h.6M385.1 99.2h.6M384.9 93.8h.6M385.9 99.2h.6M385.7 95.7h.6M389.4 97.0h.6M384.0 97.4h.6M387.5 91.5h.6M384.1 105.3h.6M389.4 93.1h.6M388.1 100.2h.6M390.7 96.1h.6M388.8 98.9h.6M384.5 101.2h.6M387.4 103.3h.6M385.6 108.9h.6M385.8 91.0h.6M384.5 96.3h.6M386.4 99.5h.6M387.5 105.1h.6M387.8 95.6h.6M394.0 89.6h.6M386.8 96.9h.6M387.5 104.5h.6M387.0 100.3h.6M386.6 97.6h.6M386.4 98.9h.6M387.4 94.1h.6M386.7 102.1h.6M389.3 99.8h.6M388.4 107.0h.6M384.9 95.1h.6M387.3 95.9h.6M388.1 99.6h.6M386.5 105.3h.6M386.6 95.3h.6M387.0 103.7h.6M388.9 102.4h.6M387.7 105.3h.6M385.8 104.3h.6M387.1 101.9h.6M390.6 101.0h.6M384.7 95.3h.6M389.0 94.9h.6M386.6 98.3h.6M397.3 96.3h.6M389.0 97.8h.6M387.4 103.3h.6M387.0 97.0h.6M383.2 103.6h.6M385.9 100.9h.6M392.7 94.8h.6M388.2 101.3h.6M386.5 103.9h.6M387.2 94.5h.6M387.4 104.8h.6M384.7 104.3h.6M387.6 102.7h.6M388.6 100.5h.6M383.3 100.6h.6M386.6 110.8h.6M379.9 103.4h.6M382.8 95.0h.6M389.5 93.0h.6M390.6 93.7h.6M392.3 96.6h.6M383.8 99.0h.6M387.0 100.6h.6M386.4 105.1h.6M390.1 95.8h.6M388.1 94.0h.6M387.5 97.2h.6M388.9 97.8h.6M386.1 95.6h.6M389.9 96.1h.6M386.4 94.5h.6M390.2 98.8h.6M387.8 105.0h.6M387.9 96.3h.6M384.2 96.3h.6M383.2 103.1h.6M383.1 99.3h.6M388.6 95.1h.6M381.5 111.1h.6M390.9 87.6h.6M386.4 95.8h.6M383.7 100.7h.6M388.2 102.4h.6M384.0 105.8h.6M387.4 85.7h.6M386.6 99.9h.6M390.5 94.4h.6M389.7 99.9h.6M389.8 98.6h.6M386.0 96.4h.6M390.6 100.6h.6M387.1 98.8h.6M387.6 99.0h.6M388.5 96.1h.6M388.0 94.8h.6M383.7 100.6h.6M389.0 92.4h.6M383.1 102.0h.6M388.5 99.3h.6M387.1 98.2h.6M387.5 99.3h.6M384.4 96.7h.6M389.9 108.1h.6M386.9 105.3h.6M389.5 105.7h.6M385.3 93.9h.6M385.4 96.1h.6M387.5 101.0h.6M390.0 95.8h.6M383.8 106.6h.6M385.7 100.2h.6M385.9 93.3h.6M386.6 96.2h.6M386.1 90.8h.6M390.1 99.1h.6M389.2 93.2h.6M387.3 98.0h.6M389.5 96.2h.6M390.0 96.2h.6M385.6 96.1h.6M385.3 94.1h.6M389.1 97.4h.6M392.9 94.5h.6M381.0 101.4h.6M385.6 98.0h.6M389.4 100.6h.6M385.1 95.4h.6M389.6 94.7h.6M387.9 96.9h.6M383.9 99.8h.6M386.0 101.4h.6M388.3 101.5h.6M384.9 103.6h.6M388.8 100.7h.6M388.1 94.5h.6M386.5 97.0h.6M388.3 103.3h.6M386.3 102.4h.6M387.9 93.0h.6M384.6 93.1h.6M391.0 93.5h.6M386.6 90.5h.6M390.4 99.6h.6M393.0 94.2h.6M391.5 98.9h.6M387.2 89.8h.6M387.7 96.4h.6M387.2 96.7h.6M388.1 96.5h.6M385.1 101.8h.6M382.4 100.5h.6M388.1 106.6h.6M387.4 99.9h.6M391.4 100.3h.6M392.1 93.2h.6M383.6 94.6h.6M384.8 98.2h.6M389.3 101.2h.6M390.4 101.0h.6M387.6 95.2h.6M387.4 99.1h.6M382.4 101.2h.6M393.4 99.7h.6M385.4 98.0h.6M388.8 96.7h.6M388.2 94.7h.6M384.9 102.7h.6M389.6 97.3h.6M391.2 101.9h.6M387.2 97.3h.6M387.7 97.9h.6M389.0 98.8h.6M389.9 93.6h.6M389.6 102.0h.6M384.9 93.2h.6M384.8 97.6h.6M385.8 96.5h.6M380.1 100.1h.6M383.7 102.3h.6M386.8 100.5h.6M385.5 95.2h.6M385.0 99.1h.6M389.6 95.9h.6M388.2 99.0h.6M389.5 93.9h.6M386.8 95.8h.6M386.2 103.5h.6M385.0 91.6h.6M387.9 93.8h.6M382.4 96.9h.6M384.9 97.8h.6M388.8 97.6h.6M389.5 93.8h.6M387.1 88.3h.6M384.2 99.7h.6M388.8 101.6h.6M385.3 99.0h.6M386.9 97.9h.6M384.7 95.5h.6M392.1 100.7h.6M391.3 98.1h.6M385.0 100.2h.6M384.2 95.7h.6M387.1 93.9h.6M388.9 96.6h.6M390.6 92.6h.6M387.1 97.7h.6M384.0 99.1h.6M388.1 106.5h.6M388.0 101.2h.6M383.0 104.2h.6M386.6 96.7h.6M386.5 98.2h.6M384.7 103.4h.6M387.9 97.7h.6M390.1 97.5h.6M390.0 95.6h.6M384.9 101.3h.6M385.7 101.6h.6M389.1 92.8h.6M386.4 99.6h.6M386.3 94.7h.6M393.2 99.1h.6M380.4 102.0h.6M385.5 100.2h.6M385.0 102.9h.6M387.1 95.6h.6M391.8 101.4h.6M386.9 97.5h.6M386.5 106.7h.6M387.7 95.5h.6M386.5 98.4h.6M388.3 93.6h.6M394.1 87.8h.6M385.4 101.6h.6M386.7 98.4h.6M387.1 103.2h.6M381.6 102.4h.6M388.9 97.4h.6M387.1 98.2h.6M382.0 97.5h.6M386.5 96.7h.6M387.7 94.4h.6M384.9 101.9h.6M390.2 96.5h.6M385.7 102.9h.6M383.3 100.6h.6M389.4 107.7h.6M386.9 98.8h.6M387.6 98.0h.6M383.0 101.9h.6M383.6 101.4h.6M384.6 105.9h.6M386.9 100.9h.6M386.9 100.7h.6M390.9 95.9h.6M391.4 94.9h.6M387.6 99.8h.6M387.0 99.0h.6M392.3 94.8h.6M387.4 101.6h.6M390.0 93.4h.6M386.0 91.2h.6M387.0 97.0h.6M386.5 100.5h.6M385.4 98.3h.6M388.3 93.5h.6M385.1 94.5h.6M387.0 103.5h.6M388.4 96.6h.6M392.9 98.7h.6M382.2 102.1h.6M387.5 97.2h.6M389.0 95.6h.6M386.3 99.8h.6M389.6 100.5h.6M388.7 98.5h.6M388.6 101.7h.6M386.1 92.3h.6M386.7 104.4h.6M386.7 96.3h.6M384.6 99.0h.6M387.7 98.1h.6M384.4 103.5h.6M384.8 101.2h.6M383.6 101.2h.6M390.2 99.1h.6M385.8 99.9h.6M384.9 98.9h.6M389.4 99.1h.6M386.1 97.2h.6M388.2 95.3h.6M386.8 100.6h.6M388.2 95.2h.6M387.8 97.9h.6M381.5 102.9h.6M391.2 95.0h.6M389.9 93.1h.6M383.4 101.2h.6M389.6 104.2h.6M386.7 95.7h.6M387.6 94.5h.6M390.7 101.1h.6M389.9 97.8h.6M389.9 95.6h.6M392.6 105.0h.6M390.2 94.3h.6M385.7 96.4h.6M383.8 96.8h.6M389.5 91.9h.6M382.7 104.3h.6M386.3 95.3h.6M386.3 90.3h.6M385.4 107.7h.6M390.9 98.3h.6M388.1 95.4h.6M386.7 101.4h.6M389.6 104.3h.6M386.2 97.7h.6M390.5 96.5h.6M392.7 98.9h.6M386.9 97.7h.6M386.8 95.2h.6M390.3 93.4h.6M382.0 99.1h.6M383.9 104.5h.6M384.5 100.8h.6M383.0 108.9h.6M387.2 102.5h.6M388.0 97.5h.6M387.2 96.5h.6M387.2 98.6h.6M389.7 97.5h.6M390.1 104.7h.6M390.6 101.9h.6M386.9 103.0h.6M387.3 100.7h.6M391.2 99.1h.6M388.4 89.9h.6M390.8 93.3h.6M386.0 102.9h.6M387.1 101.1h.6M385.5 101.3h.6M387.2 100.8h.6M388.4 100.0h.6M386.1 106.7h.6M392.5 92.0h.6M383.3 97.7h.6M389.6 95.2h.6M384.4 99.4h.6M388.0 96.5h.6M385.2 100.8h.6M387.4 105.9h.6M387.4 98.0h.6M385.1 99.4h.6M384.0 104.9h.6M385.4 107.8h.6M387.3 94.3h.6M389.4 101.5h.6M391.5 97.6h.6M382.7 103.1h.6M388.5 91.7h.6M386.0 104.7h.6M387.3 94.6h.6M388.1 107.8h.6M389.4 94.2h.6M388.3 100.0h.6M387.2 107.1h.6M391.4 96.6h.6M388.0 98.6h.6M387.2 104.7h.6M390.3 96.0h.6M384.2 100.0h.6M384.7 97.9h.6M391.1 102.3h.6M386.7 101.7h.6M382.5 104.3h.6M389.4 97.3h.6M390.4 99.3h.6M385.2 103.3h.6M383.8 94.9h.6M387.1 100.7h.6M388.2 94.1h.6M385.7 96.2h.6M384.8 102.4h.6M388.6 105.0h.6M388.6 97.3h.6M383.0 97.8h.6M384.3 95.5h.6M386.4 97.5h.6M385.6 97.7h.6M387.8 100.8h.6M388.6 100.8h.6M392.1 84.4h.6M388.2 93.9h.6M389.7 102.6h.6M383.1 99.2h.6M385.4 97.7h.6M390.0 104.2h.6M383.4 101.3h.6M390.8 95.0h.6M388.7 91.7h.6M387.6 92.3h.6M386.9 100.1h.6M384.1 101.1h.6M384.4 101.6h.6M385.8 98.3h.6M386.1 95.8h.6M390.5 101.2h.6M384.5 100.4h.6M385.6 101.5h.6M382.6 103.5h.6M387.6 100.4h.6M387.2 91.7h.6M390.1 90.8h.6M392.3 90.9h.6M388.6 104.3h.6M384.9 98.4h.6M387.8 89.3h.6M388.0 96.7h.6M387.0 101.3h.6M384.3 97.5h.6M388.1 99.2h.6M384.0 101.5h.6M387.0 97.7h.6M386.4 97.1h.6M380.4 102.1h.6M388.8 98.0h.6M392.8 100.1h.6M386.2 99.2h.6M385.6 96.6h.6M389.7 97.2h.6M383.7 100.7h.6M387.3 104.0h.6M387.8 94.0h.6M385.7 103.6h.6M387.0 96.1h.6M385.0 100.9h.6M385.7 96.2h.6M389.0 93.9h.6M384.9 100.7h.6M385.7 110.7h.6M385.4 107.1h.6M388.5 101.7h.6M386.2 102.5h.6M384.9 98.4h.6M388.1 90.7h.6M381.9 98.3h.6M382.2 101.2h.6M388.0 93.1h.6M392.1 97.2h.6M385.9 95.9h.6M388.1 96.8h.6M383.5 107.4h.6M387.5 94.7h.6M387.7 91.7h.6M388.7 99.2h.6M385.2 96.5h.6M392.3 94.4h.6M384.7 100.6h.6M391.2 98.3h.6M384.4 96.0h.6M389.3 100.1h.6M390.8 99.1h.6M393.0 92.9h.6M386.9 95.1h.6M382.8 94.5h.6M389.4 99.8h.6M385.3 104.4h.6M384.4 95.6h.6M385.7 105.0h.6M384.8 101.1h.6M389.2 98.5h.6M387.7 91.8h.6M389.0 97.6h.6M389.5 102.1h.6M386.2 99.0h.6M389.1 92.7h.6M390.4 104.0h.6M392.1 101.4h.6M387.7 94.4h.6M386.5 98.3h.6M384.8 103.4h.6M386.2 99.7h.6M387.3 98.2h.6M387.9 102.6h.6M383.7 102.2h.6M386.2 93.5h.6M386.7 97.5h.6M385.7 94.9h.6M385.6 99.3h.6M388.2 100.2h.6M384.7 98.4h.6M388.5 101.4h.6M384.4 98.3h.6M387.8 99.4h.6M384.3 100.9h.6M390.4 98.2h.6M389.2 101.3h.6M390.8 91.8h.6M385.0 105.1h.6M383.7 99.1h.6M383.7 104.8h.6M386.6 95.3h.6M390.1 98.2h.6M389.1 97.0h.6M389.0 96.0h.6M384.0 98.5h.6M390.1 96.6h.6M389.2 96.3h.6M385.8 97.8h.6M380.5 103.1h.6M385.1 100.5h.6M386.9 99.6h.6M391.4 99.4h.6M387.8 100.3h.6M387.1 93.6h.6M391.5 102.1h.6M391.4 90.4h.6M388.2 100.1h.6M388.9 95.5h.6M390.6 97.1h.6M385.3 100.0h.6M388.3 95.9h.6M386.1 92.6h.6M384.7 100.0h.6M388.6 98.1h.6M390.2 99.3h.6M392.2 88.7h.6M389.3 93.2h.6M390.3 93.0h.6M386.8 98.6h.6M383.2 107.3h.6M385.6 97.4h.6M388.3 104.7h.6M385.7 101.5h.6M392.4 92.7h.6M390.5 99.3h.6M386.7 101.3h.6M391.9 104.5h.6M389.0 95.1h.6M391.6 95.1h.6M386.8 100.5h.6M389.4 96.2h.6M386.7 104.8h.6M387.3 102.0h.6M390.3 96.5h.6M392.4 93.0h.6M387.6 98.5h.6M388.1 102.8h.6M384.9 101.3h.6M386.7 94.5h.6M388.6 100.2h.6M383.9 98.9h.6M386.1 97.3h.6M384.3 101.8h.6M387.8 98.2h.6M389.7 104.2h.6M388.2 100.3h.6M386.5 98.7h.6M384.6 97.2h.6M383.0 95.4h.6M387.3 100.3h.6M391.3 95.0h.6M386.6 99.3h.6M387.1 101.5h.6M386.1 101.9h.6M384.3 100.0h.6M390.1 97.3h.6M389.2 100.5h.6M383.3 89.9h.6M384.0 100.0h.6M390.9 94.5h.6M384.9 100.5h.6M387.2 88.1h.6M384.5 108.0h.6M388.1 99.5h.6M385.2 98.7h.6M385.7 94.7h.6M384.3 100.0h.6M392.4 100.1h.6M394.2 89.7h.6M387.9 95.8h.6M389.1 98.7h.6M388.8 98.8h.6M387.3 99.4h.6M387.0 98.0h.6M386.3 105.3h.6M389.4 97.1h.6M384.0 102.2h.6M385.0 97.6h.6M389.2 96.5h.6M383.5 104.0h.6M391.6 91.6h.6M386.6 96.0h.6M387.8 101.7h.6M390.8 101.0h.6M387.2 101.1h.6M387.6 97.1h.6M385.7 94.5h.6M388.7 101.3h.6M389.1 100.7h.6M384.9 97.6h.6M389.1 98.0h.6M389.9 97.6h.6M388.6 98.5h.6M385.3 100.6h.6M389.8 90.9h.6M391.0 93.3h.6M386.0 100.3h.6M382.4 95.9h.6M385.4 92.3h.6M387.3 96.8h.6M390.8 95.9h.6M390.5 99.0h.6M389.1 97.3h.6M385.6 98.4h.6M389.3 92.8h.6M387.3 102.1h.6M384.5 105.8h.6M382.5 102.4h.6M390.0 96.0h.6M382.9 107.9h.6M390.6 97.9h.6M393.3 99.0h.6M387.4 102.7h.6M385.0 99.0h.6M385.6 94.9h.6M385.5 104.4h.6M388.3 97.3h.6M390.0 98.0h.6M385.3 97.0h.6M386.4 98.9h.6M385.5 101.7h.6M390.4 93.9h.6M389.9 95.8h.6M385.0 103.4h.6M386.5 106.4h.6M387.7 101.0h.6M382.5 99.9h.6M385.8 96.3h.6M387.7 100.6h.6M383.5 101.6h.6M387.9 105.1h.6M387.4 100.2h.6M385.8 98.8h.6M390.1 99.6h.6M384.8 100.0h.6M388.4 101.8h.6M386.6 102.3h.6M390.2 96.3h.6M385.2 105.3h.6M388.9 97.9h.6M388.9 93.5h.6M390.3 99.4h.6M391.6 98.6h.6M383.2 103.5h.6M387.1 103.6h.6M384.4 102.0h.6M389.9 102.3h.6M391.0 97.9h.6M386.5 101.0h.6M387.9 102.6h.6M390.8 97.1h.6M387.8 94.7h.6M386.9 95.9h.6M382.9 101.6h.6M385.4 99.6h.6M390.0 101.5h.6M383.4 101.3h.6M388.1 95.9h.6M387.9 95.6h.6M387.3 93.7h.6M389.4 103.4h.6M385.3 93.8h.6M391.0 95.7h.6M386.1 93.5h.6M390.0 97.6h.6M385.7 94.8h.6M388.0 98.5h.6M386.4 103.1h.6M391.8 95.7h.6M384.5 101.8h.6M385.6 99.6h.6M391.2 95.1h.6M377.1 111.8h.6M376.3 113.9h.6M378.4 104.8h.6M361.9 111.1h.6M379.6 105.3h.6M366.6 105.6h.6M372.7 93.4h.6M369.4 96.5h.6M364.5 115.2h.6M377.8 120.8h.6M365.4 104.2h.6M368.4 113.1h.6M381.6 100.1h.6M357.4 123.2h.6M361.1 109.2h.6M378.3 120.7h.6M369.4 112.0h.6M377.2 123.5h.6M372.0 92.1h.6M368.9 116.5h.6M376.6 131.3h.6M367.5 101.8h.6M368.5 104.3h.6M373.6 97.8h.6M364.9 127.2h.6M362.7 113.1h.6M361.3 104.3h.6M378.2 111.2h.6M384.6 102.3h.6M379.8 110.7h.6M367.9 117.4h.6M368.7 100.1h.6M365.6 123.2h.6M372.1 111.9h.6M378.9 103.1h.6M371.6 112.0h.6M371.9 103.8h.6M374.1 99.8h.6M364.2 127.9h.6M370.4 115.2h.6M374.5 114.5h.6M372.9 107.1h.6M377.0 111.7h.6M382.2 111.6h.6M357.2 112.5h.6M362.0 96.4h.6M383.0 113.0h.6M375.3 117.3h.6M367.5 120.3h.6M370.4 125.3h.6M372.2 124.3h.6M379.1 113.6h.6M370.1 106.1h.6M372.2 117.3h.6M363.5 124.7h.6M381.9 108.6h.6M375.2 118.7h.6M369.2 86.6h.6M363.5 101.1h.6M372.1 112.0h.6M378.0 126.3h.6M387.4 110.5h.6M384.9 115.2h.6M369.8 122.2h.6M365.9 120.6h.6M375.4 116.7h.6M367.4 121.4h.6M376.1 123.3h.6M374.5 107.6h.6M375.1 119.5h.6M380.0 118.9h.6M371.1 104.9h.6M364.4 104.2h.6M372.1 123.8h.6M373.6 113.4h.6M372.8 106.6h.6M378.6 100.2h.6M380.3 113.1h.6M387.4 102.2h.6M371.8 117.0h.6M380.4 126.5h.6M355.4 111.5h.6M384.8 107.0h.6M372.3 108.3h.6M380.8 110.4h.6M370.9 121.9h.6M376.0 115.5h.6M376.6 107.0h.6M368.5 127.0h.6M368.7 98.8h.6M353.4 98.9h.6M376.2 133.3h.6M371.5 103.7h.6M371.0 117.4h.6M380.6 102.4h.6M374.8 109.4h.6M374.0 113.5h.6M360.0 109.4h.6M373.5 110.9h.6M370.6 98.5h.6M379.0 105.9h.6M369.2 128.3h.6M364.4 117.9h.6M371.0 113.0h.6M384.7 112.1h.6M366.8 127.3h.6M381.0 88.6h.6M371.4 113.5h.6M359.1 119.1h.6M376.6 126.5h.6M388.1 99.1h.6M375.5 112.0h.6M365.5 104.8h.6M371.1 96.1h.6M366.7 121.5h.6M391.5 110.2h.6M376.2 98.9h.6M356.8 109.1h.6M378.0 106.4h.6M375.5 103.5h.6M365.7 118.6h.6M368.5 114.4h.6M372.0 112.4h.6M383.9 127.9h.6M369.0 106.5h.6M367.5 106.9h.6M378.9 118.3h.6M368.3 119.7h.6M365.6 112.6h.6M371.6 105.5h.6M378.0 109.4h.6M373.5 116.3h.6M370.0 109.2h.6M382.0 106.3h.6M381.7 117.6h.6M361.9 120.5h.6M364.9 119.6h.6M366.4 108.5h.6M371.1 125.9h.6M373.6 119.7h.6M372.0 116.3h.6M373.0 111.7h.6M375.5 87.2h.6M364.0 118.1h.6M358.1 108.7h.6M374.5 103.5h.6M380.8 95.4h.6M373.8 94.4h.6M369.8 107.8h.6M376.2 120.0h.6M370.4 116.7h.6M363.9 101.5h.6M370.0 92.0h.6M377.6 97.0h.6M374.7 87.3h.6M377.1 103.1h.6M369.3 122.0h.6M376.2 109.4h.6M382.0 104.6h.6M370.4 104.0h.6M369.3 105.2h.6M380.7 116.9h.6M373.2 100.1h.6M364.9 121.5h.6M369.8 110.7h.6M381.3 101.4h.6M375.0 104.0h.6M384.9 101.0h.6M376.8 115.5h.6M374.3 112.6h.6M379.6 99.4h.6M368.6 118.6h.6M379.7 120.4h.6M371.0 112.8h.6M375.3 119.8h.6M369.6 113.6h.6M365.2 126.4h.6M366.7 119.4h.6M376.1 114.2h.6M374.6 101.8h.6M373.2 120.7h.6M377.4 121.7h.6M366.8 113.9h.6M370.0 105.3h.6M383.4 116.1h.6M366.4 110.2h.6M381.1 108.0h.6M370.9 108.1h.6M376.1 129.1h.6M374.2 110.5h.6M371.0 115.6h.6M373.4 109.8h.6M379.0 116.0h.6M368.1 115.6h.6M378.4 109.7h.6M370.1 99.9h.6M371.6 110.8h.6M371.5 112.1h.6M369.9 110.2h.6M360.9 103.9h.6M372.1 119.3h.6M369.7 128.4h.6M363.8 127.7h.6M369.0 120.8h.6M374.3 110.6h.6M384.1 98.5h.6M369.2 121.4h.6M381.5 118.2h.6M369.7 104.8h.6M375.8 100.1h.6M371.0 120.8h.6M377.6 102.3h.6M373.6 113.7h.6M370.2 118.4h.6M362.6 118.5h.6M379.2 117.8h.6M362.9 134.2h.6M368.7 128.5h.6M384.3 114.3h.6M374.3 108.6h.6M373.3 108.1h.6M373.6 103.4h.6M374.3 119.5h.6M370.5 113.8h.6M375.0 125.8h.6M372.8 89.6h.6M385.9 85.1h.6M378.3 87.6h.6M391.5 72.3h.6M383.7 79.9h.6M376.1 101.1h.6M374.7 79.0h.6M365.7 100.6h.6M387.8 93.4h.6M385.7 78.9h.6M402.6 83.8h.6M392.7 98.4h.6M381.4 84.2h.6M372.4 88.9h.6M367.7 90.0h.6M376.7 102.1h.6M379.0 83.6h.6M369.6 98.5h.6M383.8 81.1h.6M385.6 97.5h.6M372.8 100.1h.6M377.6 106.3h.6M370.0 99.6h.6M385.8 79.0h.6M373.4 90.3h.6M371.8 97.3h.6M366.3 83.9h.6M372.5 90.9h.6M367.8 88.1h.6M386.1 84.7h.6M383.3 89.3h.6M371.1 91.9h.6M373.3 88.7h.6M378.7 81.2h.6M379.9 84.9h.6M372.2 85.6h.6M388.0 95.6h.6M383.4 103.5h.6M392.4 82.6h.6M360.9 95.6h.6M368.8 90.4h.6M383.9 96.3h.6M380.6 88.4h.6M377.3 99.3h.6M371.6 92.2h.6M382.5 89.4h.6M375.8 92.7h.6M388.1 84.3h.6M386.5 91.3h.6M385.2 88.0h.6M367.0 89.0h.6M381.3 77.2h.6M390.8 82.5h.6M391.3 79.0h.6M387.4 82.3h.6M386.7 73.9h.6M374.2 75.2h.6M388.9 91.5h.6M391.6 79.9h.6M382.0 86.6h.6M382.6 76.1h.6M378.3 110.0h.6M380.5 94.7h.6M377.2 104.7h.6M382.4 77.9h.6M378.1 88.3h.6M369.2 88.5h.6M375.1 88.3h.6M381.9 86.8h.6M380.6 86.2h.6M388.9 89.8h.6M385.6 104.0h.6M387.8 84.2h.6M378.9 90.7h.6M386.3 91.9h.6M374.6 96.6h.6M374.8 81.3h.6M385.2 93.8h.6M380.8 97.9h.6M374.0 86.7h.6M385.6 76.0h.6M388.9 96.8h.6M384.3 96.1h.6M387.9 95.2h.6M385.4 84.7h.6M385.4 83.3h.6M373.9 80.8h.6M366.9 95.1h.6M377.0 92.9h.6M357.8 102.9h.6M375.5 82.5h.6M371.8 97.6h.6M380.0 96.4h.6M374.5 93.7h.6M379.2 90.3h.6M373.3 89.2h.6M377.5 95.8h.6M389.1 72.5h.6M372.4 77.4h.6M367.6 103.4h.6M388.5 85.5h.6M384.3 96.3h.6M379.0 92.5h.6M376.5 101.0h.6M381.2 91.7h.6M376.8 88.9h.6M385.6 86.4h.6M377.2 101.6h.6M375.0 107.7h.6M382.8 103.6h.6M373.9 82.4h.6M382.8 90.2h.6M371.4 92.5h.6M375.6 79.9h.6M380.4 97.7h.6M374.5 88.6h.6M385.7 93.1h.6M378.6 88.9h.6M380.6 104.7h.6M366.2 98.3h.6M382.9 89.4h.6M379.7 89.1h.6M366.0 106.5h.6M380.8 91.5h.6M381.4 82.3h.6M374.5 92.7h.6M371.9 86.0h.6M369.8 88.4h.6M379.3 88.2h.6M379.4 93.1h.6M377.7 90.1h.6M392.5 92.7h.6M379.0 84.9h.6M380.2 87.2h.6M368.6 84.6h.6M381.2 71.4h.6M385.3 81.1h.6M373.2 87.9h.6M393.0 83.5h.6M375.4 84.8h.6M380.1 78.8h.6M376.7 93.4h.6M376.6 101.3h.6M360.1 108.2h.6M384.8 80.1h.6M364.6 91.9h.6M387.4 82.8h.6M371.8 106.4h.6M375.6 96.0h.6M395.7 96.4h.6M372.7 101.8h.6M377.7 95.3h.6M370.8 98.8h.6M377.9 78.0h.6M381.8 99.4h.6M389.5 91.3h.6M361.8 102.7h.6M378.6 89.8h.6M383.1 82.9h.6M385.0 94.4h.6M374.0 105.5h.6M379.7 93.4h.6M391.5 82.4h.6M381.6 98.0h.6M393.1 77.2h.6M371.1 101.4h.6M374.4 97.1h.6M379.4 93.7h.6M372.4 77.4h.6M383.4 82.4h.6M371.7 90.2h.6M381.4 97.5h.6M369.2 102.9h.6M373.5 97.9h.6M380.8 76.8h.6M383.1 78.3h.6M372.8 91.4h.6M369.2 99.6h.6M382.8 103.0h.6M372.5 96.3h.6M381.8 85.1h.6M387.7 82.5h.6M383.4 85.5h.6M369.1 99.6h.6M387.4 83.1h.6M386.6 88.7h.6M375.2 84.7h.6M376.3 89.2h.6M388.6 80.5h.6M381.3 86.8h.6M382.0 92.9h.6M386.4 78.1h.6M382.8 97.2h.6M397.9 77.9h.6M388.4 90.3h.6M380.3 92.7h.6M380.1 87.7h.6M377.3 95.1h.6M387.3 95.3h.6M371.4 100.5h.6M385.2 97.0h.6M375.4 91.4h.6M367.1 92.2h.6M385.8 88.4h.6M382.2 101.5h.6M381.2 88.4h.6M377.3 83.4h.6M379.2 99.3h.6M375.1 98.9h.6M388.2 79.5h.6M388.4 88.1h.6M379.0 81.6h.6M379.4 92.8h.6M381.3 100.8h.6M385.4 88.2h.6M380.9 90.0h.6M376.4 88.9h.6M377.8 97.5h.6M381.3 93.1h.6M378.4 74.2h.6M376.8 95.5h.6M387.6 74.4h.6M382.2 98.0h.6M385.5 86.0h.6M373.6 89.3h.6M385.0 81.1h.6M379.6 90.1h.6M377.8 95.9h.6M374.9 90.9h.6M375.2 103.4h.6M376.3 111.1h.6M380.2 102.1h.6M378.9 77.8h.6M392.8 78.5h.6M382.7 74.2h.6M381.1 85.5h.6M378.9 102.0h.6M374.2 99.9h.6M374.1 89.6h.6M381.8 95.8h.6M369.4 101.4h.6M390.2 94.7h.6M389.9 92.3h.6M369.7 108.9h.6M387.5 83.7h.6M386.8 93.1h.6M387.0 77.2h.6M384.0 75.2h.6M390.4 86.5h.6M374.2 83.8h.6M376.5 82.5h.6M383.5 86.9h.6M379.9 91.3h.6M370.1 83.4h.6M384.9 82.8h.6M386.3 89.0h.6M378.1 94.6h.6M382.1 89.1h.6M385.9 80.3h.6M365.6 89.8h.6M375.8 96.1h.6M373.8 93.4h.6M378.6 89.1h.6M371.3 96.4h.6M371.1 93.9h.6M381.0 97.2h.6M391.6 91.9h.6M371.4 90.8h.6M390.2 84.2h.6M385.9 90.1h.6M386.2 70.4h.6M388.3 88.1h.6M376.8 85.6h.6M387.0 85.1h.6M369.6 97.5h.6M374.3 86.6h.6M381.7 80.5h.6M384.7 88.0h.6M370.5 89.5h.6M367.0 72.3h.6M382.3 96.0h.6M381.5 90.9h.6M384.2 83.8h.6M379.1 90.2h.6M370.9 99.6h.6M387.0 91.0h.6M384.7 89.9h.6M380.7 91.7h.6M394.0 84.2h.6M381.1 76.9h.6M389.6 84.5h.6M378.7 93.3h.6M360.3 91.7h.6M371.9 87.8h.6M361.4 105.1h.6M378.0 95.3h.6M387.4 95.6h.6M368.3 91.6h.6M384.4 81.4h.6M377.7 92.4h.6M385.6 78.0h.6M382.1 93.5h.6M373.0 94.9h.6M383.4 89.0h.6M379.3 88.6h.6M385.5 74.7h.6M392.4 93.8h.6M378.3 86.0h.6M390.5 85.3h.6M379.0 80.9h.6M383.6 98.9h.6M380.9 98.5h.6M375.2 78.2h.6M380.5 79.7h.6M376.7 82.6h.6M383.4 89.5h.6M372.6 84.2h.6M373.3 92.2h.6M385.4 96.3h.6M383.2 89.6h.6M383.4 90.6h.6M383.4 96.6h.6M386.5 91.8h.6M382.8 94.2h.6M385.7 83.5h.6M374.5 84.2h.6M383.1 79.9h.6M374.8 83.1h.6M371.5 101.3h.6M378.2 86.0h.6M384.0 81.9h.6M379.8 86.6h.6M391.5 92.9h.6M384.2 111.0h.6M382.5 87.6h.6M380.4 96.1h.6M370.8 86.2h.6M380.0 101.3h.6M379.9 85.6h.6M391.2 89.0h.6M374.5 102.2h.6M378.9 93.7h.6M374.9 92.9h.6M380.7 83.0h.6M368.3 87.9h.6M381.7 79.5h.6M379.8 84.0h.6M380.9 93.0h.6M397.1 86.9h.6M379.1 88.9h.6M382.9 91.4h.6M379.6 102.9h.6M386.9 103.4h.6M394.5 78.4h.6M390.9 84.8h.6M381.9 73.7h.6M371.3 97.1h.6M382.6 80.7h.6M368.7 92.9h.6M373.9 88.3h.6M375.8 90.9h.6M372.3 84.0h.6M379.7 85.9h.6M377.3 94.5h.6M374.8 92.6h.6M382.2 90.8h.6M374.8 91.1h.6M388.2 85.0h.6M383.9 91.7h.6M376.8 95.6h.6M382.6 88.9h.6M375.1 105.5h.6M375.5 88.3h.6M386.4 84.5h.6M369.0 118.2h.6M382.7 97.4h.6M392.4 85.4h.6M364.9 113.1h.6M395.6 80.6h.6M366.8 87.1h.6M364.7 91.9h.6M365.6 87.9h.6M371.9 93.7h.6M375.6 84.8h.6M366.9 89.3h.6M378.2 91.5h.6M385.0 87.3h.6M374.4 105.0h.6M380.3 100.3h.6M383.7 80.6h.6M391.1 77.6h.6M379.0 96.7h.6M384.3 100.3h.6M383.0 104.3h.6M379.9 80.9h.6M377.3 88.2h.6M382.0 74.2h.6M384.2 78.4h.6M370.7 77.4h.6M377.0 84.5h.6M361.0 103.8h.6M365.0 90.1h.6M391.3 116.3h.6M345.2 95.1h.6M381.4 99.0h.6M363.6 129.8h.6M394.5 94.2h.6M361.0 72.2h.6M357.8 102.3h.6M388.5 98.2h.6M390.4 105.3h.6M376.4 126.0h.6M360.2 93.8h.6M383.1 102.5h.6M362.3 106.1h.6M382.4 69.3h.6M372.7 92.4h.6M384.8 107.9h.6M353.7 106.8h.6M358.8 65.6h.6M404.5 79.7h.6M376.6 126.6h.6M367.7 83.4h.6M354.6 103.4h.6" stroke="#000" stroke-width="0.6" fill="none"/>
<text x="330.8" y="41.3" font-size="11.7" stroke="#000" stroke-width="0.25">Lovastatin+FOH</text>
<text x="399.4" y="65.5" font-size="5.7" font-weight="bold" stroke="#000" stroke-width="0.12">66.9</text>
<text x="338.6" y="106.8" font-size="5.7" font-weight="bold" stroke="#000" stroke-width="0.12">7.0</text>
<text x="399.4" y="106.8" font-size="5.7" font-weight="bold" stroke="#000" stroke-width="0.12">22.8</text>
<text x="328.9" y="142.9" font-size="6.7" font-weight="bold" stroke="#000" stroke-width="0.15">10<tspan dy="-2.9" font-size="3">0</tspan></text>
<text transform="translate(327.9 135.9) rotate(-90)" font-size="6.7" font-weight="bold" stroke="#000" stroke-width="0.15">10<tspan dy="-2.9" font-size="3">0</tspan></text>
<text x="349.8" y="142.9" font-size="6.7" font-weight="bold" stroke="#000" stroke-width="0.15">10<tspan dy="-2.9" font-size="3">1</tspan></text>
<text transform="translate(327.9 115.4) rotate(-90)" font-size="6.7" font-weight="bold" stroke="#000" stroke-width="0.15">10<tspan dy="-2.9" font-size="3">1</tspan></text>
<text x="370.6" y="142.9" font-size="6.7" font-weight="bold" stroke="#000" stroke-width="0.15">10<tspan dy="-2.9" font-size="3">2</tspan></text>
<text transform="translate(327.9 94.9) rotate(-90)" font-size="6.7" font-weight="bold" stroke="#000" stroke-width="0.15">10<tspan dy="-2.9" font-size="3">2</tspan></text>
<text x="391.4" y="142.9" font-size="6.7" font-weight="bold" stroke="#000" stroke-width="0.15">10<tspan dy="-2.9" font-size="3">3</tspan></text>
<text transform="translate(327.9 74.4) rotate(-90)" font-size="6.7" font-weight="bold" stroke="#000" stroke-width="0.15">10<tspan dy="-2.9" font-size="3">3</tspan></text>
<text x="412.3" y="142.9" font-size="6.7" font-weight="bold" stroke="#000" stroke-width="0.15">10<tspan dy="-2.9" font-size="3">4</tspan></text>
<text transform="translate(327.9 53.9) rotate(-90)" font-size="6.7" font-weight="bold" stroke="#000" stroke-width="0.15">10<tspan dy="-2.9" font-size="3">4</tspan></text>
</g>
<g>
<rect x="429.5" y="53.3" width="82.3" height="82.0" fill="none" stroke="#5a5a5a" stroke-width="1"/>
<path d="M476.5 53.3V135.3M429.5 96.5H511.8" stroke="#5a5a5a" stroke-width="1" fill="none"/>
<path d="M459.7 120.9h.6M468.8 117.7h.6M466.6 113.9h.6M458.2 115.3h.6M462.7 121.6h.6M466.2 116.2h.6M462.2 118.9h.6M465.0 118.8h.6M459.1 118.2h.6M469.7 113.1h.6M470.6 115.2h.6M459.3 121.0h.6M455.2 119.4h.6M460.3 117.5h.6M467.5 114.5h.6M463.9 118.0h.6M462.5 117.8h.6M463.8 117.3h.6M454.9 118.0h.6M462.6 122.5h.6M462.3 114.8h.6M459.4 117.9h.6M467.1 117.2h.6M459.3 121.3h.6M459.4 118.1h.6M466.6 112.6h.6M466.2 118.8h.6M463.2 121.8h.6M464.1 116.7h.6M464.9 117.5h.6M464.6 117.8h.6M457.5 122.7h.6M467.3 116.1h.6M473.6 114.4h.6M464.9 127.9h.6M461.4 117.9h.6M469.1 115.0h.6M466.2 119.5h.6M458.8 123.9h.6M462.3 117.9h.6M459.7 113.5h.6M468.3 116.1h.6M455.8 114.0h.6M469.6 115.9h.6M459.2 119.2h.6M464.4 119.5h.6M460.5 115.1h.6M464.9 120.8h.6M469.1 118.2h.6M466.2 118.3h.6M456.3 118.6h.6M461.4 118.2h.6M463.6 121.4h.6M472.9 118.8h.6M460.1 114.5h.6M460.7 118.2h.6M458.7 118.8h.6M462.5 118.9h.6M466.4 116.6h.6M457.5 120.8h.6M470.4 113.9h.6M469.6 114.6h.6M467.2 117.2h.6M466.2 115.1h.6M476.0 115.8h.6M457.1 120.1h.6M459.9 116.2h.6M474.4 115.9h.6M456.2 121.2h.6M464.5 113.9h.6M461.9 118.6h.6M457.8 117.9h.6M457.7 115.4h.6M461.7 121.2h.6M464.3 118.4h.6M465.5 115.2h.6M466.0 118.1h.6M463.2 119.0h.6M463.0 118.3h.6M466.1 118.1h.6M459.4 119.4h.6M455.7 118.4h.6M467.3 116.9h.6M451.6 116.1h.6M465.8 116.6h.6M469.7 112.6h.6M456.1 119.0h.6M450.8 116.2h.6M458.2 119.2h.6M464.5 114.7h.6M457.6 118.6h.6M468.4 113.0h.6M466.3 119.2h.6M457.5 120.1h.6M467.0 116.2h.6M455.1 121.8h.6M460.4 115.0h.6M464.0 118.1h.6M470.0 115.3h.6M467.1 114.7h.6M470.9 114.9h.6M455.0 121.2h.6M480.1 117.7h.6M458.1 122.9h.6M464.3 119.8h.6M471.3 118.1h.6M465.6 119.3h.6M469.3 115.6h.6M456.2 122.5h.6M456.7 123.0h.6M460.4 118.0h.6M459.8 114.3h.6M463.4 120.1h.6M461.1 118.6h.6M456.5 119.3h.6M464.0 115.2h.6M455.2 117.4h.6M459.1 119.8h.6M464.5 115.5h.6M458.0 118.8h.6M462.7 116.1h.6M466.3 113.0h.6M470.8 121.6h.6M469.3 120.1h.6M467.6 120.3h.6M465.5 120.4h.6M456.0 119.1h.6M458.2 118.6h.6M458.1 114.8h.6M459.9 115.2h.6M462.1 117.5h.6M457.6 119.3h.6M460.4 116.9h.6M468.8 115.8h.6M460.4 119.6h.6M452.3 118.4h.6M461.2 119.5h.6M462.0 118.4h.6M460.8 118.8h.6M474.3 117.2h.6M467.8 118.6h.6M471.9 116.1h.6M459.4 119.0h.6M466.9 120.1h.6M464.1 113.8h.6M462.3 114.1h.6M458.2 115.0h.6M463.9 115.0h.6M452.3 120.3h.6M467.9 119.3h.6M477.8 117.5h.6M470.8 120.6h.6M451.4 121.0h.6M463.8 121.9h.6M458.7 118.6h.6M459.4 118.1h.6M461.3 119.6h.6M469.1 118.1h.6M466.7 117.4h.6M458.2 117.6h.6M465.7 118.3h.6M463.6 113.9h.6M473.7 118.0h.6M454.8 121.1h.6M462.1 119.3h.6M457.6 119.6h.6M462.5 117.6h.6M451.8 118.9h.6M457.7 119.8h.6M462.1 114.5h.6M459.5 123.1h.6M457.9 118.4h.6M462.0 118.1h.6M459.6 121.9h.6M457.7 122.5h.6M461.4 118.1h.6M462.8 115.4h.6M464.4 116.8h.6M453.3 120.2h.6M460.5 119.3h.6M469.0 118.1h.6M454.9 120.6h.6M463.4 116.5h.6M460.0 116.1h.6M468.5 115.7h.6M469.2 118.5h.6M464.1 116.5h.6M460.0 116.3h.6M454.2 124.1h.6M459.8 118.0h.6M458.1 120.3h.6M462.9 117.9h.6M471.0 119.5h.6M472.9 118.6h.6M464.3 118.1h.6M463.3 119.3h.6M462.0 119.5h.6M464.3 119.9h.6M461.6 117.4h.6M472.1 113.8h.6M458.7 121.2h.6M463.3 117.4h.6M459.4 119.9h.6M467.7 116.6h.6M472.3 113.7h.6M466.2 116.9h.6M463.8 118.3h.6M463.0 120.6h.6M465.8 114.9h.6M460.2 114.8h.6M471.6 120.9h.6M472.2 115.0h.6M468.1 117.5h.6M467.1 120.3h.6M460.6 114.5h.6M472.5 115.0h.6M455.4 114.7h.6M458.9 120.8h.6M474.1 117.0h.6M460.6 122.1h.6M458.5 118.8h.6M454.0 123.8h.6M468.4 117.8h.6M469.2 114.2h.6M464.0 116.7h.6M454.2 117.6h.6M462.4 117.9h.6M458.7 117.2h.6M467.7 117.5h.6M470.7 119.6h.6M465.2 116.6h.6M465.2 117.8h.6M471.1 118.4h.6M472.0 119.0h.6M456.6 116.6h.6M465.3 121.5h.6M456.7 121.3h.6M458.9 118.1h.6M469.0 115.5h.6M457.0 118.7h.6M462.1 121.8h.6M469.6 114.3h.6M465.4 117.9h.6M454.3 123.3h.6M462.5 115.7h.6M461.8 118.6h.6M458.2 123.4h.6M473.8 122.2h.6M463.3 118.4h.6M463.3 119.6h.6M468.5 116.4h.6M463.9 117.6h.6M456.1 121.3h.6M463.1 117.1h.6M465.3 117.2h.6M463.9 120.4h.6M468.7 115.2h.6M467.7 116.7h.6M465.8 118.0h.6M462.3 117.5h.6M463.3 120.0h.6M473.4 118.0h.6M454.4 120.1h.6M469.1 119.1h.6M465.5 114.1h.6M459.5 118.2h.6M463.1 116.4h.6M466.4 113.3h.6M455.8 116.2h.6M464.1 113.0h.6M466.3 119.5h.6M458.5 115.1h.6M463.9 118.9h.6M470.6 117.1h.6M464.3 117.4h.6M458.7 118.7h.6M454.8 119.7h.6M453.9 119.1h.6M468.4 113.4h.6M462.2 123.4h.6M462.7 121.5h.6M462.1 121.3h.6M459.3 118.1h.6M472.5 115.9h.6M466.9 116.4h.6M471.1 112.0h.6M456.9 119.2h.6M466.4 120.7h.6M466.7 116.3h.6M457.2 114.9h.6M458.6 114.3h.6M458.9 119.0h.6M468.6 116.6h.6M464.4 117.0h.6M459.5 117.3h.6M466.9 117.6h.6M459.7 119.8h.6M463.9 114.2h.6M462.8 114.5h.6M458.7 118.8h.6M468.2 118.4h.6M463.5 119.4h.6M451.2 123.0h.6M462.2 121.1h.6M471.1 117.1h.6M451.4 122.0h.6M468.0 116.4h.6M464.4 119.0h.6M456.8 121.4h.6M463.1 118.9h.6M457.2 125.0h.6M455.2 118.7h.6M465.3 118.2h.6M464.7 114.5h.6M453.7 120.9h.6M460.4 118.9h.6M463.4 120.1h.6M454.9 114.8h.6M468.9 116.2h.6M459.3 115.9h.6M465.3 118.4h.6M466.6 116.0h.6M458.3 121.2h.6M465.0 119.1h.6M463.8 118.6h.6M465.3 119.7h.6M460.9 116.8h.6M468.3 115.1h.6M467.0 114.5h.6M471.3 118.6h.6M468.8 118.3h.6M456.1 119.5h.6M460.2 117.1h.6M465.5 120.5h.6M468.5 117.6h.6M459.5 116.4h.6M463.3 117.8h.6M464.8 118.0h.6M462.7 120.8h.6M468.5 117.8h.6M458.0 117.5h.6M465.9 115.2h.6M459.0 122.8h.6M465.5 116.7h.6M458.4 119.9h.6M461.7 120.5h.6M468.1 112.8h.6M458.2 117.5h.6M463.6 120.5h.6M466.6 119.8h.6M462.6 117.8h.6M461.8 121.8h.6M463.3 118.6h.6M458.6 117.9h.6M467.2 120.4h.6M467.0 117.0h.6M472.3 115.3h.6M464.7 119.4h.6M468.9 116.1h.6M460.6 117.1h.6M465.7 116.6h.6M458.4 120.6h.6M464.5 115.9h.6M461.6 119.2h.6M468.2 116.7h.6M452.6 120.1h.6M462.3 118.3h.6M461.6 123.1h.6M466.7 115.0h.6M459.5 117.7h.6M461.0 118.3h.6M469.8 115.4h.6M459.9 119.8h.6M461.2 118.9h.6M469.2 115.8h.6M452.2 125.3h.6M465.3 119.5h.6M465.0 119.2h.6M464.6 118.6h.6M453.9 121.2h.6M455.8 121.4h.6M458.9 118.4h.6M458.7 117.2h.6M466.7 116.4h.6M460.9 116.2h.6M470.6 115.5h.6M463.1 114.7h.6M466.4 113.8h.6M459.8 119.9h.6M460.1 120.6h.6M465.5 119.1h.6M467.8 118.1h.6M459.8 117.1h.6M469.9 115.6h.6M462.0 117.9h.6M471.4 118.1h.6M456.8 120.4h.6M461.4 119.0h.6M466.6 117.0h.6M462.9 125.2h.6M460.2 118.1h.6M466.6 116.3h.6M468.2 118.8h.6M461.1 115.2h.6M467.2 115.6h.6M461.0 116.9h.6M459.1 122.6h.6M469.9 115.0h.6M460.3 118.3h.6M460.7 118.2h.6M467.2 122.7h.6M458.1 122.8h.6M458.3 119.8h.6M461.9 121.5h.6M463.7 115.0h.6M468.1 119.8h.6M462.2 116.6h.6M459.8 117.9h.6M456.5 112.8h.6M461.5 118.3h.6M460.8 115.1h.6M469.0 118.0h.6M454.8 122.4h.6M453.9 119.1h.6M453.5 117.0h.6M461.9 119.6h.6M465.5 115.2h.6M471.6 115.1h.6M454.7 119.7h.6M464.0 117.5h.6M459.9 118.4h.6M471.6 117.9h.6M465.0 117.4h.6M471.1 115.6h.6M463.0 119.9h.6M468.7 123.1h.6M465.0 116.2h.6M459.8 120.4h.6M468.1 115.8h.6M461.5 120.4h.6M451.4 119.5h.6M462.6 118.8h.6M456.7 120.1h.6M465.9 117.7h.6M471.2 115.7h.6M464.7 121.9h.6M466.0 114.6h.6M456.7 117.0h.6M459.0 118.2h.6M460.1 122.5h.6M473.4 114.1h.6M460.9 118.5h.6M464.6 114.0h.6M453.5 121.1h.6M460.5 119.1h.6M463.8 115.7h.6M462.4 123.3h.6M461.6 119.3h.6M465.4 118.1h.6M465.7 123.0h.6M456.8 121.6h.6M456.1 118.9h.6M466.0 116.8h.6M467.3 113.4h.6M456.0 117.3h.6M466.6 120.6h.6M455.8 117.7h.6M462.2 117.4h.6M469.8 116.5h.6M454.5 122.5h.6M463.1 113.7h.6M461.9 114.2h.6M457.1 118.6h.6M467.1 119.2h.6M458.1 121.8h.6M459.6 121.4h.6M457.3 117.2h.6M465.3 121.7h.6M466.0 114.9h.6M470.2 117.1h.6M461.8 117.5h.6M458.7 117.2h.6M470.9 110.9h.6M459.8 117.0h.6M466.6 117.8h.6M471.5 115.6h.6M467.2 117.0h.6M453.4 119.9h.6M457.5 118.9h.6M458.9 121.3h.6M467.4 116.5h.6M458.9 122.1h.6M467.1 114.6h.6M464.1 118.8h.6M463.8 120.7h.6M462.9 116.6h.6M459.0 117.3h.6M470.2 116.4h.6M463.6 121.5h.6M470.9 119.6h.6M458.2 117.8h.6M454.0 114.5h.6M470.3 116.0h.6M456.8 118.6h.6M463.5 116.6h.6M460.9 120.5h.6M462.1 115.7h.6M461.2 119.9h.6M457.1 119.2h.6M456.5 121.3h.6M464.0 120.7h.6M459.1 120.7h.6M472.0 118.5h.6M463.3 119.0h.6M470.3 113.0h.6M460.3 117.9h.6M467.1 118.6h.6M459.7 117.8h.6M457.9 120.4h.6M461.6 115.7h.6M461.8 116.5h.6M476.6 116.3h.6M455.8 119.6h.6M459.3 118.6h.6M466.6 119.8h.6M461.9 121.0h.6M463.6 118.3h.6M466.9 119.4h.6M462.1 118.3h.6M459.0 116.9h.6M455.6 120.0h.6M462.4 116.8h.6M465.7 113.4h.6M463.9 118.9h.6M469.0 113.5h.6M460.6 120.5h.6M464.3 120.5h.6M458.3 118.5h.6M452.6 120.5h.6M465.8 120.9h.6M460.3 115.5h.6M466.2 115.4h.6M459.5 121.0h.6M454.6 120.2h.6M457.9 119.2h.6M461.2 121.3h.6M459.1 118.0h.6M461.2 121.6h.6M465.6 121.6h.6M462.6 114.7h.6M465.2 119.1h.6M461.9 120.0h.6M459.1 119.3h.6M457.5 120.8h.6M451.1 115.3h.6M465.8 116.4h.6M468.5 115.0h.6M457.4 117.0h.6M457.6 114.1h.6M458.1 124.3h.6M464.5 115.9h.6M463.2 117.6h.6M461.4 118.2h.6M462.4 115.4h.6M453.8 118.4h.6M462.0 122.3h.6M461.7 117.7h.6M465.2 118.0h.6M458.9 116.2h.6M459.9 123.6h.6M463.8 116.4h.6M476.9 115.0h.6M459.5 117.2h.6M473.5 115.1h.6M457.8 124.0h.6M463.0 116.4h.6M457.7 119.2h.6M469.9 118.5h.6M463.4 115.7h.6M463.8 118.0h.6M468.2 113.1h.6M469.6 114.2h.6M459.2 121.4h.6M464.0 116.0h.6M460.1 118.6h.6M468.9 117.0h.6M451.6 120.6h.6M474.3 113.4h.6M461.5 120.2h.6M451.8 119.2h.6M464.2 121.4h.6M458.3 118.2h.6M462.9 121.0h.6M463.4 121.0h.6M468.4 117.1h.6M453.1 122.7h.6M464.8 115.1h.6M468.9 119.5h.6M455.9 115.7h.6M466.7 115.4h.6M467.1 117.0h.6M459.9 117.2h.6M452.6 119.6h.6M463.6 112.4h.6M460.2 117.4h.6M471.0 117.9h.6M461.5 117.4h.6M466.5 118.2h.6M464.6 117.9h.6M463.8 119.3h.6M456.2 120.6h.6M458.9 116.8h.6M463.3 118.1h.6M462.3 116.4h.6M462.2 118.9h.6M466.9 117.5h.6M463.0 119.1h.6M466.6 114.3h.6M463.2 114.1h.6M464.8 117.9h.6M460.0 116.5h.6M454.8 123.0h.6M467.3 120.2h.6M467.4 115.4h.6M466.2 121.5h.6M458.5 112.3h.6M468.6 114.5h.6M463.3 113.9h.6M463.7 118.1h.6M459.2 122.0h.6M460.2 120.7h.6M459.4 120.8h.6M464.7 115.7h.6M459.1 121.2h.6M462.6 120.0h.6M459.9 114.9h.6M456.0 122.3h.6M463.1 119.5h.6M463.4 114.7h.6M463.2 112.0h.6M447.1 125.0h.6M468.2 122.7h.6M462.7 119.7h.6M457.7 118.5h.6M472.9 116.2h.6M462.9 119.4h.6M466.7 120.3h.6M463.5 115.9h.6M450.5 121.7h.6M469.1 118.4h.6M456.7 119.1h.6M468.5 113.5h.6M462.1 117.8h.6M458.2 112.8h.6M449.8 121.3h.6M460.3 117.1h.6M457.4 124.2h.6M462.9 119.6h.6M456.9 119.2h.6M466.5 119.0h.6M459.9 120.5h.6M460.4 119.8h.6M473.3 118.3h.6M466.9 118.5h.6M459.3 118.5h.6M464.7 116.8h.6M454.2 122.3h.6M458.8 119.3h.6M461.8 120.1h.6M458.8 116.6h.6M457.4 114.9h.6M466.1 116.9h.6M459.6 117.6h.6M458.5 119.5h.6M459.6 117.5h.6M459.3 119.2h.6M466.9 120.2h.6M464.3 114.7h.6M454.8 114.2h.6M469.8 115.1h.6M468.4 116.9h.6M461.2 117.2h.6M457.5 115.0h.6M462.8 119.1h.6M459.7 116.8h.6M465.4 117.0h.6M462.5 123.3h.6M469.4 117.5h.6M454.2 118.3h.6M459.5 117.8h.6M464.2 118.0h.6M460.1 121.5h.6M460.5 117.8h.6M456.6 118.8h.6M472.8 114.7h.6M461.8 113.9h.6M466.4 117.2h.6M458.6 116.1h.6M460.3 117.3h.6M462.3 111.4h.6M471.3 115.1h.6M469.9 110.2h.6M473.6 118.2h.6M470.7 119.3h.6M470.5 115.3h.6M461.6 118.5h.6M459.1 115.5h.6M469.6 114.6h.6M459.0 116.7h.6M465.5 119.3h.6M459.5 118.6h.6M457.2 117.0h.6M463.0 119.2h.6M458.0 118.8h.6M461.1 115.3h.6M467.3 117.1h.6M461.7 117.5h.6M468.0 113.9h.6M460.4 117.3h.6M464.5 121.1h.6M457.4 118.6h.6M469.6 116.5h.6M452.0 119.2h.6M464.2 112.1h.6M465.6 114.5h.6M449.1 120.2h.6M454.1 121.2h.6M454.7 117.4h.6M462.3 117.5h.6M461.3 115.0h.6M460.9 117.4h.6M465.9 114.8h.6M474.6 117.5h.6M457.4 119.3h.6M464.6 117.4h.6M462.9 119.8h.6M468.4 115.8h.6M451.6 121.0h.6M454.2 120.4h.6M457.1 120.7h.6M457.0 119.2h.6M463.9 121.6h.6M460.2 116.2h.6M452.1 119.0h.6M458.8 117.3h.6M454.2 116.5h.6M458.7 118.0h.6M461.6 118.8h.6M458.5 115.5h.6M469.0 117.6h.6M474.4 115.2h.6M465.3 122.6h.6M454.6 120.8h.6M470.1 116.5h.6M473.6 114.2h.6M461.7 116.9h.6M464.6 115.2h.6M468.4 118.2h.6M463.7 119.1h.6M469.2 116.2h.6M465.6 119.3h.6M459.4 119.6h.6M460.1 118.3h.6M461.3 123.0h.6M459.1 122.5h.6M469.5 115.7h.6M464.3 119.4h.6M461.6 116.4h.6M466.9 118.3h.6M463.1 120.4h.6M468.1 115.5h.6M471.1 117.0h.6M463.5 117.0h.6M459.6 120.3h.6M456.5 121.2h.6M471.9 117.0h.6M464.7 119.5h.6M459.5 119.1h.6M462.1 120.6h.6M456.7 118.4h.6M469.7 114.8h.6M464.2 116.6h.6M460.7 121.5h.6M454.9 116.6h.6M473.7 120.1h.6M463.3 117.4h.6M451.0 120.1h.6M459.6 116.8h.6M462.5 119.7h.6M463.4 119.1h.6M456.9 116.4h.6M468.7 114.2h.6M465.7 119.9h.6M462.9 118.7h.6M459.2 120.6h.6M453.3 126.1h.6M460.2 115.8h.6M461.5 119.9h.6M456.4 119.2h.6M464.2 117.2h.6M466.8 120.4h.6M460.1 116.4h.6M460.5 120.1h.6M462.5 121.6h.6M471.3 115.6h.6M470.1 116.2h.6M453.9 121.1h.6M460.0 118.7h.6M476.0 111.4h.6M460.9 116.8h.6M471.8 116.3h.6M465.3 118.4h.6M469.2 112.4h.6M460.8 119.5h.6M463.1 122.7h.6M465.5 114.6h.6M462.6 119.3h.6M462.4 123.4h.6M470.1 120.0h.6M461.8 121.5h.6M469.6 122.0h.6M459.5 120.5h.6M461.0 119.8h.6M466.5 113.4h.6M465.3 117.8h.6M467.7 118.5h.6M462.9 118.5h.6M462.5 117.7h.6M460.2 116.2h.6M454.4 116.6h.6M460.5 123.2h.6M468.1 120.6h.6M462.3 118.2h.6M463.7 113.3h.6M469.2 118.0h.6M457.9 116.4h.6M464.5 119.1h.6M459.7 120.0h.6M468.6 117.5h.6M455.0 116.2h.6M460.8 119.6h.6M460.0 118.4h.6M460.9 117.6h.6M459.8 116.4h.6M472.5 116.0h.6M461.5 116.2h.6M461.9 114.1h.6M455.2 117.6h.6M455.8 120.3h.6M458.7 119.2h.6M456.4 118.6h.6M465.3 118.2h.6M459.6 121.3h.6M460.3 120.8h.6M461.9 119.5h.6M457.9 123.7h.6M456.1 112.3h.6M459.2 116.7h.6M463.7 119.2h.6M462.1 120.0h.6M458.3 116.0h.6M470.9 119.8h.6M464.6 120.1h.6M466.2 114.9h.6M470.7 116.7h.6M457.9 117.1h.6M467.7 116.8h.6M464.0 117.8h.6M464.2 119.3h.6M454.8 118.4h.6M458.5 118.3h.6M462.7 117.5h.6M462.4 119.1h.6M470.7 113.6h.6M460.7 118.3h.6M464.0 116.3h.6M461.1 121.2h.6M455.9 123.4h.6M460.9 116.6h.6M463.2 119.5h.6M471.7 118.3h.6M469.1 115.9h.6M459.9 115.4h.6M458.0 119.6h.6M462.6 118.8h.6M459.8 117.6h.6M475.5 114.2h.6M467.1 117.0h.6M462.5 122.4h.6M459.9 116.7h.6M457.2 121.0h.6M462.3 113.1h.6M449.4 122.3h.6M460.7 117.9h.6M460.4 118.6h.6M470.6 116.0h.6M453.7 113.8h.6M467.4 117.7h.6M461.0 115.9h.6M466.8 117.2h.6M458.9 119.6h.6M464.9 115.8h.6M467.1 116.4h.6M476.0 115.9h.6M458.6 121.2h.6M462.1 117.1h.6M462.2 109.9h.6M459.7 118.9h.6M462.3 116.6h.6M462.9 119.4h.6M461.0 110.0h.6M453.9 123.2h.6M464.1 119.1h.6M455.3 124.0h.6M462.3 116.4h.6M468.0 116.6h.6M456.2 118.3h.6M462.1 118.2h.6M463.8 114.0h.6M462.5 114.7h.6M460.4 115.6h.6M462.9 124.5h.6M466.3 119.5h.6M457.6 118.8h.6M461.9 116.0h.6M466.5 123.9h.6M459.7 114.8h.6M456.6 118.4h.6M466.7 113.4h.6M466.4 120.1h.6M467.7 118.9h.6M462.7 120.5h.6M459.5 120.2h.6M470.6 118.3h.6M469.2 121.0h.6M466.9 114.1h.6M460.2 117.2h.6M463.4 119.9h.6M458.3 123.9h.6M457.4 116.3h.6M463.3 123.4h.6M464.5 120.4h.6M465.7 120.5h.6M463.3 119.7h.6M473.4 114.8h.6M457.8 116.9h.6M469.6 115.9h.6M460.7 121.3h.6M467.6 113.9h.6M458.1 116.1h.6M474.2 113.9h.6M470.2 110.8h.6M454.6 122.2h.6M469.6 118.6h.6M463.8 119.7h.6M467.5 118.6h.6M462.9 116.5h.6M462.2 117.7h.6M455.8 120.4h.6M460.5 115.7h.6M462.8 118.3h.6M454.3 121.1h.6M457.8 120.6h.6M463.0 121.2h.6M465.2 118.1h.6M460.6 120.6h.6M470.2 116.9h.6M460.3 117.7h.6M466.1 116.3h.6M469.7 117.8h.6M458.9 114.3h.6M468.9 119.7h.6M462.3 116.5h.6M458.6 118.8h.6M471.3 115.7h.6M471.5 118.0h.6M461.4 120.2h.6M468.5 115.4h.6M468.1 121.2h.6M462.9 117.7h.6M474.4 119.4h.6M462.4 122.6h.6M459.6 118.5h.6M463.2 119.4h.6M462.5 113.5h.6M460.8 122.7h.6M461.6 118.0h.6M456.2 119.1h.6M466.2 117.0h.6M456.0 120.6h.6M468.8 120.8h.6M466.7 115.6h.6M461.1 116.6h.6M461.1 117.5h.6M459.7 118.0h.6M463.1 115.1h.6M472.2 113.9h.6M464.8 116.0h.6M460.9 120.0h.6M472.2 113.8h.6M461.0 120.5h.6M461.3 117.4h.6M474.2 118.3h.6M466.6 117.7h.6M469.3 114.9h.6M466.3 118.1h.6M465.9 115.2h.6M466.7 118.5h.6M467.1 113.2h.6M474.6 116.2h.6M457.1 112.9h.6M450.8 118.7h.6M461.7 118.4h.6M455.5 122.2h.6M464.0 118.9h.6M457.0 114.5h.6M463.3 121.0h.6M468.9 120.7h.6M460.5 117.8h.6M459.3 115.7h.6M467.2 118.1h.6M459.2 120.9h.6M462.7 118.6h.6M462.4 118.7h.6M456.5 116.6h.6M468.0 112.5h.6M457.5 119.5h.6M467.8 119.1h.6M465.1 120.5h.6M457.6 123.3h.6M461.3 118.6h.6M467.6 120.9h.6M461.6 116.6h.6M474.5 116.4h.6M458.0 120.7h.6M469.3 113.3h.6M454.5 123.9h.6M461.8 116.1h.6M468.3 116.8h.6M453.2 119.4h.6M464.5 117.8h.6M457.4 121.9h.6M456.2 117.9h.6M459.3 115.9h.6M460.2 123.5h.6M460.5 118.3h.6M460.0 119.0h.6M458.6 119.7h.6M449.5 119.7h.6M470.1 117.2h.6M474.0 116.9h.6M465.4 114.7h.6M461.6 120.7h.6M457.9 120.1h.6M464.5 118.8h.6M464.5 119.7h.6M458.3 120.3h.6M462.1 114.9h.6M466.9 119.3h.6M464.6 111.7h.6M462.8 122.0h.6M463.7 123.8h.6M459.2 120.5h.6M462.7 121.2h.6M463.4 115.0h.6M459.2 117.8h.6M462.4 120.8h.6M467.8 117.7h.6M468.4 117.8h.6M451.6 114.0h.6M455.5 119.2h.6M468.2 116.4h.6M465.2 116.4h.6M465.3 117.1h.6M455.7 119.5h.6M463.4 120.1h.6M466.1 117.3h.6M465.3 117.2h.6M459.2 122.1h.6M460.0 118.5h.6M464.6 120.8h.6M464.0 122.0h.6M469.8 117.0h.6M451.2 119.2h.6M459.9 116.5h.6M469.5 118.2h.6M457.0 122.9h.6M463.6 120.2h.6M470.5 117.3h.6M457.7 119.4h.6M464.7 116.7h.6M473.0 116.6h.6M456.4 116.9h.6M452.6 121.7h.6M468.5 115.9h.6M460.5 117.1h.6M462.7 117.2h.6M463.4 116.8h.6M469.5 119.5h.6M461.5 116.3h.6M468.2 118.4h.6M467.0 117.8h.6M462.9 120.6h.6M468.5 116.2h.6M464.6 118.9h.6M462.5 119.9h.6M478.8 113.4h.6M452.5 122.0h.6M456.9 118.4h.6M457.6 118.7h.6M460.8 117.3h.6M463.9 117.8h.6M461.8 121.3h.6M474.9 115.4h.6M460.3 117.7h.6M457.3 114.7h.6M463.1 113.6h.6M460.7 116.4h.6M460.4 116.2h.6M467.8 123.4h.6M464.6 119.1h.6M468.9 119.6h.6M457.4 117.7h.6M466.1 116.2h.6M463.0 116.8h.6M459.7 117.3h.6M454.7 118.8h.6M462.5 118.4h.6M456.8 120.7h.6M466.7 115.6h.6M465.3 117.6h.6M465.4 115.0h.6M477.6 116.3h.6M469.6 117.4h.6M452.3 122.1h.6M466.0 115.9h.6M464.0 119.9h.6M464.0 123.6h.6M460.3 120.6h.6M467.7 118.8h.6M448.1 121.0h.6M455.9 120.3h.6M466.1 114.4h.6M463.9 117.1h.6M467.7 114.8h.6M460.9 115.1h.6M460.1 116.1h.6M467.0 115.0h.6M463.8 119.1h.6M453.8 118.8h.6M467.9 117.3h.6M457.2 117.3h.6M467.5 118.6h.6M463.9 116.3h.6M465.9 118.7h.6M468.3 115.2h.6M457.6 116.1h.6M466.3 114.4h.6M462.6 119.1h.6M461.5 115.1h.6M462.9 122.2h.6M460.2 118.2h.6M463.1 121.5h.6M464.2 117.8h.6M459.5 121.6h.6M468.6 117.0h.6M463.4 119.7h.6M457.1 116.1h.6M465.3 112.3h.6M465.6 115.4h.6M455.3 117.0h.6M464.4 116.6h.6M460.9 118.6h.6M464.2 118.3h.6M462.0 121.0h.6M464.9 119.5h.6M463.9 115.9h.6M450.9 121.4h.6M463.3 117.0h.6M465.8 119.6h.6M466.7 111.7h.6M469.4 113.4h.6M464.7 117.9h.6M469.8 112.1h.6M467.4 115.9h.6M460.4 115.8h.6M459.2 119.1h.6M469.6 117.8h.6M466.6 113.8h.6M453.7 118.0h.6M457.3 117.1h.6M469.0 114.3h.6M463.7 117.5h.6M453.8 120.9h.6M465.2 116.6h.6M468.1 121.2h.6M466.3 117.1h.6M462.6 115.3h.6M461.8 118.7h.6M460.1 114.0h.6M460.2 119.3h.6M464.3 120.2h.6M476.2 113.9h.6M476.5 115.7h.6M462.0 116.6h.6M455.1 121.1h.6M462.4 116.7h.6M461.4 118.0h.6M461.6 117.6h.6M454.1 117.4h.6M462.5 119.9h.6M459.5 119.0h.6M463.1 115.2h.6M454.7 116.6h.6M463.1 116.2h.6M456.5 121.9h.6M458.5 118.3h.6M459.4 119.6h.6M460.0 119.3h.6M460.0 122.2h.6M459.9 123.6h.6M459.6 116.2h.6M459.2 116.7h.6M459.8 122.1h.6M461.0 119.2h.6M472.8 115.9h.6M467.7 118.4h.6M459.7 117.4h.6M455.6 120.3h.6M468.9 120.2h.6M462.8 119.0h.6M464.7 116.5h.6M469.0 119.0h.6M452.8 118.2h.6M459.7 116.1h.6M463.9 116.3h.6M470.2 115.2h.6M462.4 118.3h.6M463.3 116.6h.6M462.7 119.8h.6M462.7 123.7h.6M463.7 119.5h.6M459.8 115.1h.6M459.1 116.3h.6M460.9 121.0h.6M466.2 117.9h.6M469.0 118.5h.6M463.6 120.7h.6M461.4 119.1h.6M469.4 114.9h.6M465.8 117.3h.6M466.8 117.9h.6M462.2 123.4h.6M460.7 113.2h.6M465.5 120.3h.6M462.1 118.2h.6M469.1 114.9h.6M458.2 118.5h.6M464.6 115.7h.6M463.0 123.6h.6M457.5 121.2h.6M461.0 120.1h.6M457.3 122.4h.6M461.0 122.2h.6M461.5 116.2h.6M476.9 118.4h.6M457.4 116.5h.6M466.3 115.2h.6M460.5 119.4h.6M464.8 121.0h.6M461.1 119.8h.6M458.6 120.6h.6M470.4 118.2h.6M468.8 118.8h.6M453.7 119.8h.6M462.1 118.9h.6M461.0 118.6h.6M454.5 119.8h.6M463.8 115.0h.6M465.6 112.7h.6M463.1 118.0h.6M465.3 117.8h.6M472.2 116.6h.6M460.5 116.2h.6M469.5 115.1h.6M474.4 115.6h.6M447.6 121.4h.6M461.7 116.9h.6M470.1 114.2h.6M464.7 118.8h.6M459.7 117.7h.6M470.4 120.9h.6M467.6 118.8h.6M454.4 118.6h.6M467.3 121.0h.6M462.0 121.9h.6M464.0 117.3h.6M456.7 124.0h.6M465.8 118.3h.6M463.8 112.9h.6M489.6 83.7h.6M494.8 78.8h.6M494.1 79.2h.6M485.5 84.2h.6M487.6 84.2h.6M489.7 80.0h.6M492.4 79.7h.6M493.6 72.4h.6M491.2 78.2h.6M489.6 78.1h.6M484.5 87.2h.6M492.2 73.5h.6M486.2 76.6h.6M492.0 80.6h.6M493.3 79.8h.6M483.0 84.4h.6M495.8 71.8h.6M487.7 83.5h.6M492.4 80.2h.6M491.9 81.9h.6M495.2 75.1h.6M492.8 75.0h.6M494.4 78.9h.6M491.5 74.8h.6M485.5 80.7h.6M487.7 82.1h.6M490.9 76.7h.6M491.9 74.3h.6M488.9 75.8h.6M485.7 79.5h.6M483.7 78.4h.6M488.7 79.3h.6M499.5 72.8h.6M487.9 75.0h.6M486.6 80.8h.6M490.6 80.5h.6M491.1 81.3h.6M488.9 80.6h.6M481.0 88.5h.6M485.9 83.3h.6M486.1 83.8h.6M490.7 78.8h.6M486.1 84.4h.6M487.5 80.3h.6M484.3 81.7h.6M486.4 78.5h.6M496.6 72.4h.6M491.5 73.7h.6M490.0 79.3h.6M485.3 84.8h.6M483.9 79.8h.6M492.2 76.4h.6M488.4 80.7h.6M490.6 76.1h.6M489.5 73.6h.6M488.9 78.2h.6M479.2 85.5h.6M491.8 77.1h.6M494.9 78.4h.6M488.7 74.0h.6M487.8 83.0h.6M489.2 81.8h.6M487.5 77.2h.6M481.7 83.6h.6M487.1 83.4h.6M488.4 77.0h.6M492.4 74.3h.6M484.8 85.7h.6M487.3 78.3h.6M488.5 76.7h.6M490.2 73.6h.6M495.6 74.3h.6M490.8 76.1h.6M490.9 77.8h.6M484.0 79.9h.6M494.4 71.6h.6M482.1 80.9h.6M493.5 78.4h.6M491.7 77.9h.6M488.8 73.9h.6M484.6 84.8h.6M490.5 79.9h.6M486.7 82.1h.6M493.5 73.2h.6M477.6 87.5h.6M488.8 80.4h.6M478.8 84.7h.6M488.7 77.8h.6M487.3 78.4h.6M491.6 80.8h.6M484.2 84.7h.6M484.8 85.2h.6M480.4 80.6h.6M486.8 81.0h.6M489.1 78.6h.6M487.5 79.9h.6M484.8 85.3h.6M487.6 84.3h.6M490.5 81.3h.6M489.6 73.6h.6M481.1 84.4h.6M486.6 79.1h.6M485.1 83.9h.6M478.1 78.0h.6M490.6 78.0h.6M489.6 83.0h.6M484.5 82.8h.6M490.4 77.5h.6M489.3 76.3h.6M486.6 81.3h.6M489.6 77.1h.6M487.6 79.1h.6M485.8 80.2h.6M492.2 78.5h.6M482.6 81.5h.6M495.5 72.8h.6M489.3 79.0h.6M486.8 81.2h.6M490.0 71.2h.6M484.9 79.5h.6M486.9 78.5h.6M495.8 79.4h.6M490.2 75.6h.6M487.8 84.0h.6M487.8 76.6h.6M491.8 76.8h.6M491.8 78.9h.6M487.2 81.9h.6M492.8 76.7h.6M488.3 80.5h.6M488.3 84.1h.6M491.2 75.1h.6M485.7 85.0h.6M482.6 83.0h.6M487.9 81.0h.6M491.7 73.6h.6M487.3 84.1h.6M491.7 75.1h.6M492.9 75.8h.6M487.1 87.8h.6M488.5 83.2h.6M487.9 81.6h.6M490.9 81.0h.6M490.3 77.9h.6M489.1 77.6h.6M493.5 74.0h.6M489.9 80.6h.6M489.5 77.5h.6M485.7 81.5h.6M488.7 78.0h.6M493.4 77.0h.6M491.1 78.1h.6M488.9 80.1h.6M488.1 78.3h.6M485.0 81.0h.6M485.8 83.5h.6M492.3 83.0h.6M488.6 76.7h.6M488.8 77.2h.6M493.2 77.2h.6M487.0 77.1h.6M486.7 80.5h.6M493.8 77.0h.6M490.8 79.3h.6M482.7 79.1h.6M488.5 74.6h.6M485.6 81.5h.6M486.6 82.1h.6M487.7 77.0h.6M482.5 80.2h.6M485.9 79.1h.6M495.2 79.6h.6M487.8 79.0h.6M486.8 79.8h.6M492.1 78.3h.6M483.5 80.9h.6M487.7 80.2h.6M493.3 75.8h.6M488.6 79.4h.6M489.8 79.5h.6M487.7 75.3h.6M489.8 78.8h.6M491.1 76.4h.6M487.9 77.2h.6M488.9 81.7h.6M489.5 79.4h.6M481.5 85.4h.6M491.9 78.0h.6M495.3 78.9h.6M491.6 75.4h.6M489.4 78.9h.6M487.2 83.3h.6M489.9 77.4h.6M495.8 78.1h.6M494.1 80.2h.6M486.0 79.6h.6M494.2 76.2h.6M486.0 82.6h.6M486.2 78.7h.6M488.1 78.4h.6M490.9 77.6h.6M487.8 77.1h.6M492.3 76.6h.6M489.7 75.4h.6M494.4 75.3h.6M483.5 81.1h.6M489.0 86.5h.6M491.1 78.9h.6M494.3 71.3h.6M481.0 84.9h.6M487.8 80.1h.6M481.4 84.3h.6M490.2 83.2h.6M486.6 78.8h.6M489.8 73.7h.6M492.4 72.9h.6M491.8 78.2h.6M487.9 82.0h.6M490.9 79.5h.6M500.0 71.9h.6M486.9 81.3h.6M490.8 76.1h.6M486.9 79.5h.6M491.8 80.9h.6M485.7 83.9h.6M490.9 75.9h.6M483.2 79.9h.6M489.4 78.9h.6M497.9 70.5h.6M484.5 81.7h.6M486.5 81.2h.6M492.1 77.6h.6M484.7 80.0h.6M480.1 89.9h.6M482.6 82.1h.6M489.4 78.5h.6M492.7 79.3h.6M489.0 81.3h.6M488.9 75.9h.6M492.7 78.4h.6M488.6 80.1h.6M493.6 74.2h.6M494.2 79.6h.6M487.5 73.4h.6M493.4 78.7h.6M491.3 79.6h.6M488.3 83.3h.6M488.6 80.9h.6M492.7 79.7h.6M484.2 82.9h.6M482.8 85.3h.6M493.0 83.3h.6M495.9 72.4h.6M489.7 76.8h.6M492.5 75.5h.6M482.7 81.1h.6M483.8 80.3h.6M486.7 82.2h.6M487.4 72.4h.6M489.3 80.6h.6M486.9 83.4h.6M488.4 74.1h.6M488.0 80.7h.6M490.9 78.0h.6M492.6 79.9h.6M491.9 78.3h.6M493.8 75.3h.6M488.0 78.8h.6M487.0 83.4h.6M481.7 81.0h.6M482.4 84.7h.6M491.6 81.9h.6M490.4 76.0h.6M488.8 78.4h.6M487.5 80.6h.6M484.0 83.8h.6M480.5 81.7h.6M486.4 81.2h.6M487.6 81.7h.6M479.1 83.0h.6M493.5 76.0h.6M486.1 83.9h.6M490.2 75.2h.6M493.4 81.2h.6M494.2 78.5h.6M487.4 79.0h.6M492.2 77.7h.6M492.0 75.5h.6M488.8 77.7h.6M489.8 85.0h.6M485.3 77.6h.6M489.5 80.2h.6M486.1 80.7h.6M487.8 81.8h.6M489.0 82.0h.6M492.1 75.8h.6M487.7 78.6h.6M487.6 79.2h.6M487.0 81.9h.6M498.7 69.8h.6M487.0 79.2h.6M490.3 76.9h.6M483.0 82.1h.6M488.8 78.5h.6M484.1 78.7h.6M486.5 77.7h.6M491.3 75.0h.6M495.0 75.6h.6M489.2 78.7h.6M490.8 81.2h.6M489.2 79.5h.6M486.9 81.7h.6M488.9 81.4h.6M492.2 77.4h.6M489.3 78.8h.6M487.1 82.0h.6M486.8 84.8h.6M490.4 79.1h.6M487.3 80.0h.6M492.0 76.7h.6M483.3 84.5h.6M491.4 81.3h.6M485.5 85.8h.6M488.3 79.6h.6M496.5 76.7h.6M492.4 75.8h.6M486.7 84.2h.6M487.1 76.7h.6M491.9 78.1h.6M492.1 78.1h.6M488.5 79.1h.6M491.4 76.1h.6M487.0 78.1h.6M478.3 89.7h.6M492.7 78.7h.6M486.7 79.2h.6M490.8 76.7h.6M487.9 79.2h.6M487.5 82.3h.6M485.3 80.1h.6M491.4 78.4h.6M491.7 77.7h.6M493.3 73.7h.6M491.2 78.3h.6M490.2 77.3h.6M486.6 76.6h.6M488.8 76.7h.6M490.2 81.8h.6M479.3 87.1h.6M484.2 86.9h.6M487.9 77.0h.6M491.6 78.2h.6M493.8 78.0h.6M495.0 76.2h.6M485.7 84.0h.6M488.8 77.8h.6M486.6 82.8h.6M485.5 78.6h.6M487.2 79.4h.6M489.0 79.3h.6M491.6 76.3h.6M483.0 83.0h.6M488.1 79.7h.6M484.8 78.2h.6M493.8 72.2h.6M494.9 74.6h.6M486.8 76.7h.6M485.9 84.9h.6M490.9 77.8h.6M492.1 77.5h.6M484.8 82.6h.6M486.9 78.8h.6M489.5 73.8h.6M484.6 80.1h.6M494.1 73.5h.6M488.7 75.7h.6M488.8 75.8h.6M484.2 81.5h.6M493.1 78.5h.6M483.5 79.0h.6M485.8 78.5h.6M486.3 81.7h.6M488.0 75.4h.6M483.1 84.4h.6M485.6 84.1h.6M490.7 78.3h.6M488.3 82.9h.6M488.9 79.5h.6M492.1 77.6h.6M490.2 80.0h.6M492.3 77.2h.6M488.6 82.6h.6M485.2 87.0h.6M494.7 73.9h.6M482.1 80.3h.6M483.4 79.9h.6M484.2 82.7h.6M497.3 73.5h.6M488.8 80.1h.6M492.5 74.1h.6M482.7 85.5h.6M484.4 80.8h.6M489.7 79.9h.6M486.8 78.4h.6M488.9 78.9h.6M490.7 82.8h.6M488.8 80.0h.6M488.8 81.7h.6M489.3 77.7h.6M487.7 77.5h.6M489.7 81.8h.6M492.1 76.3h.6M485.0 83.8h.6M489.5 80.1h.6M491.8 77.2h.6M487.8 76.6h.6M488.2 78.3h.6M495.4 74.0h.6M492.7 78.4h.6M497.1 75.2h.6M495.5 74.0h.6M487.3 79.6h.6M485.9 80.3h.6M487.5 78.9h.6M491.8 73.3h.6M475.8 82.5h.6M488.7 75.5h.6M493.0 75.9h.6M488.7 81.2h.6M489.8 81.7h.6M487.7 79.4h.6M482.3 85.2h.6M492.1 82.4h.6M487.5 80.6h.6M490.3 72.6h.6M488.6 79.2h.6M495.8 75.0h.6M490.3 78.5h.6M490.2 78.0h.6M488.2 82.9h.6M485.5 80.2h.6M490.1 76.4h.6M492.6 76.4h.6M488.6 78.5h.6M480.5 83.4h.6M485.7 78.9h.6M495.8 78.3h.6M486.5 85.5h.6M489.2 80.2h.6M481.5 83.1h.6M486.4 78.8h.6M485.4 82.9h.6M491.5 77.2h.6M490.9 78.1h.6M490.6 76.3h.6M492.3 78.5h.6M486.8 78.6h.6M494.9 74.0h.6M487.7 80.4h.6M492.0 77.8h.6M496.4 76.3h.6M486.6 82.1h.6M490.0 80.1h.6M488.1 82.3h.6M489.0 77.2h.6M489.7 77.6h.6M488.3 79.7h.6M488.6 79.0h.6M491.2 77.8h.6M483.6 78.0h.6M485.8 78.5h.6M486.7 81.1h.6M483.4 80.2h.6M489.8 82.8h.6M486.9 81.5h.6M485.4 83.0h.6M483.5 81.1h.6M485.3 82.5h.6M490.2 80.5h.6M483.8 83.7h.6M491.9 81.2h.6M490.9 81.5h.6M489.6 81.3h.6M482.3 81.7h.6M485.7 80.2h.6M492.4 75.3h.6M487.1 75.8h.6M485.7 78.5h.6M485.9 85.4h.6M489.9 80.2h.6M481.7 79.1h.6M492.3 76.9h.6M489.4 77.9h.6M484.7 80.8h.6M490.8 81.7h.6M478.5 83.6h.6M483.9 82.2h.6M489.7 81.3h.6M494.1 75.5h.6M484.1 77.3h.6M483.2 82.6h.6M488.3 82.8h.6M488.9 79.5h.6M485.7 83.2h.6M485.6 87.2h.6M494.3 77.6h.6M485.0 80.3h.6M482.5 85.0h.6M487.0 80.5h.6M493.3 77.2h.6M491.0 79.2h.6M488.3 80.5h.6M483.7 82.8h.6M488.1 80.3h.6M499.1 74.1h.6M490.7 76.9h.6M492.4 78.6h.6M482.6 84.7h.6M486.9 79.0h.6M486.4 82.3h.6M494.9 70.6h.6M487.4 80.7h.6M488.2 74.5h.6M486.7 79.8h.6M477.9 84.3h.6M492.7 74.9h.6M481.4 82.1h.6M486.3 80.9h.6M482.6 83.4h.6M486.2 83.0h.6M486.7 82.8h.6M486.5 78.3h.6M493.8 82.8h.6M484.0 77.5h.6M487.3 77.7h.6M490.4 79.2h.6M486.9 75.9h.6M486.5 75.7h.6M495.7 72.8h.6M491.3 84.1h.6M485.3 86.3h.6M489.4 77.3h.6M485.1 84.3h.6M490.1 77.6h.6M483.1 83.4h.6M491.4 76.9h.6M489.8 79.6h.6M489.7 78.9h.6M488.4 83.9h.6M489.3 79.2h.6M485.2 83.6h.6M488.7 76.8h.6M490.6 80.1h.6M490.0 77.6h.6M484.9 79.9h.6M490.5 78.9h.6M483.9 84.1h.6M485.7 80.7h.6M485.2 81.7h.6M486.1 78.8h.6M487.9 82.3h.6M490.9 81.3h.6M492.4 75.8h.6M490.1 78.1h.6M485.6 78.1h.6M491.2 74.7h.6M492.1 82.5h.6M485.6 80.5h.6M484.0 81.6h.6M487.8 79.8h.6M495.6 73.4h.6M487.3 75.3h.6M487.7 80.5h.6M491.0 78.6h.6M484.0 80.3h.6M484.4 79.9h.6M487.9 80.2h.6M491.5 75.8h.6M487.2 76.8h.6M486.0 82.3h.6M482.2 79.8h.6M494.3 78.6h.6M483.7 78.9h.6M493.3 79.4h.6M485.7 83.3h.6M492.6 81.0h.6M494.7 77.2h.6M485.1 81.6h.6M490.5 79.0h.6M491.1 79.3h.6M493.0 77.9h.6M487.2 81.7h.6M493.0 78.3h.6M488.8 79.2h.6M484.6 83.2h.6M492.1 77.4h.6M493.1 80.1h.6M488.3 83.3h.6M487.9 78.1h.6M491.3 80.3h.6M494.7 76.2h.6M483.8 84.8h.6M492.3 81.6h.6M495.9 79.3h.6M485.1 83.8h.6M490.5 75.4h.6M488.6 81.5h.6M489.7 78.5h.6M493.0 78.4h.6M482.4 82.7h.6M486.5 84.0h.6M483.2 79.8h.6M487.2 80.0h.6M495.3 77.3h.6M484.5 79.9h.6M486.6 84.7h.6M486.1 82.9h.6M489.9 78.2h.6M487.2 76.4h.6M485.4 82.7h.6M485.5 76.7h.6M487.8 77.1h.6M483.8 84.5h.6M479.4 83.3h.6M492.7 74.6h.6M488.8 82.1h.6M486.1 77.2h.6M487.8 84.1h.6M491.1 74.8h.6M485.1 78.6h.6M488.5 75.5h.6M486.4 78.7h.6M492.9 76.7h.6M479.3 88.7h.6M483.1 78.0h.6M493.6 75.3h.6M483.9 80.0h.6M485.4 82.8h.6M483.8 87.9h.6M479.7 83.1h.6M488.0 82.3h.6M490.9 78.5h.6M489.5 77.7h.6M483.7 85.6h.6M486.3 79.7h.6M494.5 78.5h.6M487.6 81.6h.6M484.9 79.7h.6M491.6 81.8h.6M487.2 81.9h.6M481.3 84.1h.6M485.1 78.9h.6M491.7 78.2h.6M487.7 78.4h.6M488.0 82.8h.6M490.7 82.4h.6M485.4 81.8h.6M482.7 78.8h.6M488.2 78.5h.6M485.9 82.2h.6M488.3 81.5h.6M485.6 77.8h.6M485.5 79.7h.6M483.0 86.3h.6M489.4 84.3h.6M495.5 71.0h.6M483.7 81.9h.6M492.6 77.5h.6M490.9 77.5h.6M485.9 81.3h.6M484.5 82.2h.6M490.3 78.9h.6M487.0 85.7h.6M487.3 81.2h.6M486.6 81.9h.6M495.4 73.3h.6M482.3 80.5h.6M490.0 79.9h.6M495.4 76.4h.6M489.0 79.3h.6M496.3 70.5h.6M488.4 77.0h.6M489.0 81.2h.6M491.3 74.5h.6M485.7 83.6h.6M488.5 76.8h.6M490.5 78.4h.6M485.9 84.1h.6M490.1 80.0h.6M492.4 78.1h.6M484.0 79.3h.6M487.9 76.6h.6M489.9 83.5h.6M485.7 82.5h.6M492.2 75.0h.6M493.0 76.0h.6M486.3 79.5h.6M489.3 77.6h.6M486.1 79.0h.6M488.0 76.6h.6M490.2 79.8h.6M487.8 85.8h.6M489.1 78.2h.6M486.8 82.3h.6M492.9 81.7h.6M491.9 77.8h.6M486.1 82.9h.6M490.5 78.8h.6M498.3 79.8h.6M486.7 79.3h.6M493.6 77.2h.6M498.4 74.0h.6M487.7 82.1h.6M491.5 80.2h.6M480.3 81.6h.6M493.6 75.4h.6M490.9 79.1h.6M491.6 81.2h.6M489.2 78.1h.6M492.1 79.1h.6M492.7 75.4h.6M491.2 80.1h.6M487.5 79.8h.6M487.9 79.1h.6M488.7 81.1h.6M487.7 78.8h.6M485.4 84.9h.6M483.8 78.9h.6M488.1 81.0h.6M485.1 82.7h.6M487.2 80.9h.6M483.8 83.2h.6M483.4 84.3h.6M486.9 80.1h.6M487.6 81.8h.6M496.6 76.2h.6M488.2 79.5h.6M492.4 78.2h.6M490.4 80.8h.6M489.6 77.1h.6M487.4 75.3h.6M490.9 80.0h.6M490.5 76.5h.6M483.3 84.3h.6M491.0 79.1h.6M487.8 82.9h.6M482.6 84.4h.6M485.6 83.2h.6M491.1 78.6h.6M492.0 78.7h.6M488.1 74.4h.6M493.0 79.6h.6M491.5 76.6h.6M482.7 80.7h.6M484.4 86.4h.6M489.8 83.4h.6M485.2 79.3h.6M486.2 84.0h.6M489.6 80.0h.6M487.4 87.1h.6M485.9 83.9h.6M483.3 83.1h.6M496.1 72.8h.6M483.3 77.3h.6M486.9 82.1h.6M492.6 73.8h.6M488.1 79.9h.6M484.9 82.2h.6M484.2 82.5h.6M492.8 78.0h.6M491.4 82.0h.6M481.2 83.8h.6M483.3 85.3h.6M490.8 77.5h.6M494.5 69.5h.6M486.4 84.1h.6M492.0 73.5h.6M482.5 85.7h.6M482.2 83.9h.6M483.8 79.5h.6M490.3 77.4h.6M489.2 76.2h.6M491.2 74.8h.6M481.8 83.9h.6M494.7 77.7h.6M486.9 78.9h.6M498.4 73.1h.6M489.4 74.8h.6M481.7 88.7h.6M488.3 77.1h.6M485.3 80.1h.6M494.2 77.3h.6M489.3 81.3h.6M493.1 79.2h.6M485.4 83.3h.6M485.5 77.1h.6M489.0 79.3h.6M488.7 80.2h.6M484.9 81.4h.6M490.4 77.2h.6M492.8 75.4h.6M487.1 80.4h.6M486.5 81.2h.6M486.6 82.6h.6M490.4 78.7h.6M487.9 80.3h.6M490.1 80.4h.6M492.6 78.2h.6M487.3 77.1h.6M487.4 78.2h.6M487.3 79.5h.6M494.0 73.6h.6M488.0 79.6h.6M488.6 76.6h.6M487.2 80.3h.6M491.8 74.2h.6M489.9 77.4h.6M484.0 82.8h.6M492.0 80.8h.6M489.9 78.5h.6M492.9 76.9h.6M490.4 81.4h.6M488.2 80.3h.6M484.6 83.2h.6M492.1 77.0h.6M493.1 80.4h.6M485.1 81.5h.6M488.1 74.9h.6M490.1 76.2h.6M487.9 80.0h.6M489.8 75.0h.6M486.9 81.4h.6M485.9 78.8h.6M493.0 76.4h.6M482.0 84.2h.6M490.8 77.1h.6M485.4 75.2h.6M488.5 81.8h.6M485.8 83.3h.6M488.9 75.0h.6M486.0 82.6h.6M489.4 79.4h.6M483.0 83.7h.6M484.3 83.7h.6M487.8 78.7h.6M490.7 81.0h.6M485.2 84.0h.6M495.7 76.4h.6M486.9 79.0h.6M491.3 74.4h.6M483.1 94.7h.6M487.3 100.7h.6M489.3 92.0h.6M485.3 86.1h.6M486.9 87.0h.6M482.3 96.3h.6M476.1 100.1h.6M486.7 89.1h.6M478.2 102.3h.6M485.7 92.2h.6M479.6 99.5h.6M478.0 106.6h.6M482.7 88.1h.6M477.6 90.8h.6M483.5 96.2h.6M482.3 98.9h.6M482.2 85.1h.6M489.9 86.4h.6M486.8 89.6h.6M482.1 96.1h.6M486.8 92.3h.6M485.0 97.2h.6M481.7 94.7h.6M477.2 113.5h.6M480.0 95.4h.6M491.9 77.7h.6M483.4 98.4h.6M485.7 96.4h.6M490.8 76.3h.6M480.0 102.5h.6M488.0 94.5h.6M471.9 106.3h.6M478.6 109.6h.6M473.5 121.7h.6M483.1 97.4h.6M483.3 100.3h.6M479.9 106.1h.6M480.3 105.3h.6M496.2 84.5h.6M485.0 96.8h.6M485.6 107.7h.6M479.2 97.9h.6M479.7 103.8h.6M484.1 98.5h.6M481.8 101.1h.6M482.4 93.6h.6M481.9 97.3h.6M475.5 94.3h.6M484.9 107.9h.6M484.2 91.4h.6M485.7 88.7h.6M486.3 110.4h.6M491.3 83.9h.6M481.4 100.4h.6M484.1 97.1h.6M489.3 89.9h.6M481.6 97.3h.6M488.3 93.3h.6M481.0 104.5h.6M481.2 94.4h.6M478.4 103.6h.6M482.6 93.4h.6M492.5 70.2h.6M491.4 95.1h.6M483.6 102.3h.6M485.5 98.8h.6M488.4 91.6h.6M478.5 93.8h.6M481.4 97.3h.6M482.4 92.2h.6M474.9 97.1h.6M479.7 113.6h.6M480.4 103.2h.6M481.7 103.5h.6M482.2 96.4h.6M473.0 116.5h.6M485.1 85.6h.6M480.9 103.4h.6M485.2 99.5h.6M485.8 100.5h.6M482.4 106.4h.6M491.1 87.9h.6M475.5 110.9h.6M482.9 96.2h.6M483.4 100.2h.6M489.5 87.0h.6M482.7 97.1h.6M485.5 88.3h.6M483.9 92.5h.6M492.2 89.4h.6M481.6 92.5h.6M479.1 106.2h.6M480.9 105.9h.6M485.0 90.3h.6M489.5 97.1h.6M472.5 115.2h.6M477.3 114.1h.6M489.4 98.6h.6M481.2 98.6h.6M479.8 107.5h.6M481.0 90.7h.6M479.1 94.5h.6M478.3 101.9h.6M483.5 101.3h.6M479.7 102.4h.6M490.8 89.7h.6M471.9 105.5h.6M485.5 106.0h.6M479.9 102.9h.6M490.6 87.9h.6M478.7 101.2h.6M485.3 91.0h.6M490.4 91.0h.6M485.6 91.2h.6M480.3 108.5h.6M482.3 92.4h.6M484.0 94.6h.6M489.7 90.3h.6M483.7 90.6h.6M485.9 98.6h.6M478.1 114.2h.6M483.4 94.7h.6M488.7 90.3h.6M481.8 101.6h.6M480.9 104.7h.6M481.4 97.4h.6M488.3 86.3h.6M485.4 100.4h.6M484.9 103.9h.6M479.8 98.2h.6M475.2 114.3h.6M487.8 84.5h.6M481.1 92.2h.6M486.9 96.5h.6M485.4 81.5h.6M480.5 102.8h.6M478.1 104.7h.6M487.2 93.3h.6M473.5 107.5h.6M472.6 106.4h.6M490.1 87.0h.6M479.3 106.8h.6M483.9 98.8h.6M487.9 100.9h.6M492.5 92.0h.6M478.5 102.8h.6M482.2 99.0h.6M487.1 96.1h.6M483.0 96.8h.6M479.5 106.9h.6M487.3 92.8h.6M475.4 107.4h.6M487.5 86.6h.6M482.8 92.4h.6M483.0 103.9h.6M479.9 104.3h.6M481.9 109.7h.6M487.7 80.5h.6M484.1 109.0h.6M488.1 92.1h.6M485.6 103.9h.6M481.3 100.0h.6M481.8 98.4h.6M483.2 94.3h.6M481.0 104.3h.6M489.3 86.1h.6M477.8 108.8h.6M490.7 93.9h.6M479.9 106.8h.6M479.0 107.7h.6M482.9 88.5h.6M477.2 100.3h.6M490.5 85.0h.6M490.4 100.6h.6M489.5 90.5h.6M490.9 84.4h.6M488.6 101.3h.6M474.8 102.9h.6M486.0 100.7h.6M479.8 102.4h.6M486.9 91.8h.6M481.8 100.4h.6M481.0 100.8h.6M478.9 100.7h.6M485.6 88.1h.6M488.0 83.0h.6M478.1 96.4h.6M484.7 95.2h.6M485.0 107.3h.6M482.5 105.3h.6M482.1 102.1h.6M488.3 87.7h.6M488.9 83.7h.6M486.3 96.2h.6M486.2 98.0h.6M486.4 93.2h.6M480.4 100.2h.6M482.7 94.5h.6M483.2 93.4h.6M478.9 104.6h.6M486.6 108.0h.6M491.5 89.8h.6M492.2 103.8h.6M482.0 100.4h.6M480.9 85.1h.6M479.4 95.5h.6M486.1 92.1h.6M482.7 85.5h.6M488.2 97.6h.6M478.1 101.9h.6M483.7 94.0h.6M480.3 105.5h.6M484.2 99.9h.6M482.1 95.2h.6M474.7 107.1h.6M486.7 96.7h.6M483.3 98.5h.6M483.8 93.2h.6M482.7 99.7h.6M478.8 107.7h.6M483.2 95.6h.6M486.5 94.3h.6M490.5 87.8h.6M484.0 103.7h.6M480.6 101.4h.6M488.3 93.5h.6M482.1 107.7h.6M482.0 90.4h.6M483.0 97.2h.6M485.8 93.1h.6M477.6 99.8h.6M483.6 89.2h.6M482.8 92.3h.6M481.1 104.4h.6M490.6 87.1h.6M476.0 110.4h.6M482.9 99.5h.6M484.0 94.6h.6M484.0 89.8h.6M489.7 95.8h.6M473.7 105.3h.6M481.6 97.6h.6M479.2 108.9h.6M476.7 88.9h.6M480.4 102.0h.6M484.9 88.6h.6M481.8 99.9h.6M491.7 84.8h.6M476.3 101.3h.6M484.6 95.7h.6M484.4 96.1h.6M483.6 89.9h.6M486.0 87.8h.6M482.0 84.8h.6M485.4 93.2h.6M482.1 109.6h.6M481.0 108.9h.6M479.1 99.9h.6M481.3 106.0h.6M486.4 102.1h.6M481.0 93.7h.6M486.4 103.2h.6M482.4 108.4h.6M483.2 96.7h.6M489.0 83.3h.6M478.1 99.5h.6M482.9 104.9h.6M487.3 88.1h.6M485.8 100.4h.6M485.0 93.7h.6M489.5 107.8h.6M481.3 107.6h.6M483.9 94.8h.6M491.2 88.6h.6M478.2 101.7h.6M485.8 117.3h.6M486.0 86.0h.6M484.8 90.6h.6M485.3 82.8h.6M479.7 105.4h.6M484.1 91.1h.6M482.9 94.5h.6M485.1 96.5h.6M484.2 93.5h.6M491.6 86.5h.6M487.9 87.7h.6M492.9 86.5h.6M488.0 91.2h.6M485.5 99.3h.6M486.8 95.6h.6M489.4 88.6h.6M480.0 99.9h.6M477.0 103.3h.6M477.3 100.0h.6M486.9 97.3h.6M482.1 103.7h.6M482.3 108.7h.6M484.1 89.0h.6M487.1 81.4h.6M481.8 97.2h.6M480.0 98.0h.6M481.4 104.5h.6M486.9 92.2h.6M482.7 89.9h.6M486.2 92.0h.6M488.0 99.9h.6M482.4 97.0h.6M479.9 101.8h.6M478.1 98.9h.6M481.2 90.4h.6M478.9 102.7h.6M484.4 93.2h.6M477.7 98.7h.6M484.2 101.4h.6M481.6 100.9h.6M486.9 102.7h.6M478.6 101.9h.6M483.8 92.5h.6M486.5 91.2h.6M476.4 103.5h.6M484.9 99.8h.6M481.0 105.3h.6M479.3 94.9h.6M476.7 101.9h.6M483.6 99.2h.6M480.7 97.2h.6M481.7 104.0h.6M486.6 99.1h.6M469.9 112.3h.6M487.2 93.0h.6M493.3 83.0h.6M483.0 83.9h.6M481.5 97.2h.6M482.8 97.0h.6M487.2 80.3h.6M494.1 88.4h.6M479.6 102.9h.6M469.8 117.3h.6M484.6 96.3h.6M482.9 84.4h.6M482.5 109.8h.6M482.3 91.2h.6M473.6 117.5h.6M484.6 105.2h.6M480.0 102.5h.6M484.5 96.4h.6M481.1 102.0h.6M479.2 109.2h.6M475.2 103.8h.6M489.3 97.4h.6M482.9 94.3h.6M484.8 78.8h.6M490.0 96.6h.6M485.4 93.1h.6M484.3 95.4h.6M473.0 119.5h.6M488.3 91.0h.6M487.1 86.7h.6M478.3 98.2h.6M476.5 101.9h.6M484.9 98.7h.6M482.4 99.1h.6M489.6 94.6h.6M477.4 97.9h.6M482.9 102.2h.6M486.0 100.2h.6M485.2 98.4h.6M477.7 94.3h.6M476.9 115.0h.6M481.1 94.8h.6M492.6 80.9h.6M479.6 105.2h.6M481.2 98.8h.6M487.0 101.4h.6M485.2 92.6h.6M489.3 86.9h.6M480.2 105.8h.6M480.2 100.1h.6M486.8 92.6h.6M482.2 95.3h.6M483.1 93.3h.6M478.7 96.7h.6M479.8 102.3h.6M479.7 98.3h.6M480.4 95.6h.6M480.0 91.4h.6M481.8 98.5h.6M481.6 102.1h.6M487.9 95.2h.6M491.0 88.0h.6M481.7 109.5h.6M490.1 95.0h.6M485.3 90.6h.6M473.3 97.9h.6M484.4 87.6h.6M476.8 109.0h.6M488.0 83.9h.6M480.9 98.1h.6M490.1 91.5h.6M489.4 81.4h.6M481.0 94.6h.6M478.9 97.4h.6M487.9 87.8h.6M479.3 96.3h.6M482.8 99.4h.6M487.6 93.5h.6M482.6 101.4h.6M486.4 87.8h.6M491.7 83.5h.6M484.7 89.4h.6M486.3 95.2h.6M480.7 102.0h.6M471.4 112.2h.6M483.9 96.1h.6M483.3 98.4h.6M485.6 85.6h.6M483.4 95.8h.6M480.6 116.0h.6M480.6 104.1h.6M483.6 95.2h.6M479.3 101.2h.6M477.2 104.4h.6M484.4 96.9h.6M483.1 88.2h.6M485.7 98.6h.6M480.9 95.6h.6M482.6 92.3h.6M479.2 96.4h.6M481.5 86.2h.6M486.9 97.5h.6M490.8 91.2h.6M482.0 96.3h.6M485.2 91.3h.6M480.0 97.7h.6M476.8 109.1h.6M480.8 102.4h.6M482.2 89.0h.6M481.9 94.7h.6M479.7 97.4h.6M484.0 90.9h.6M488.2 79.9h.6M480.9 100.8h.6M485.0 92.8h.6M485.8 103.1h.6M487.6 93.4h.6M486.1 91.4h.6M487.6 87.6h.6M483.6 100.7h.6M477.7 112.0h.6M478.5 107.9h.6M481.3 111.8h.6M479.0 108.6h.6M479.9 102.0h.6M482.4 95.3h.6M483.2 88.5h.6M481.5 98.3h.6M484.8 99.6h.6M491.8 85.0h.6M479.0 104.7h.6M480.9 93.8h.6M478.2 97.2h.6M488.2 100.6h.6M487.1 93.8h.6M477.5 92.1h.6M485.4 87.2h.6M477.2 106.0h.6M485.0 113.1h.6M483.4 92.8h.6M483.6 94.4h.6M475.6 107.7h.6M484.2 91.2h.6M484.2 94.3h.6M489.1 86.3h.6M483.9 97.8h.6M483.1 98.3h.6M480.3 98.7h.6M485.7 96.0h.6M486.9 99.6h.6M486.7 100.3h.6M487.3 90.4h.6M482.7 102.9h.6M477.2 110.1h.6M483.7 100.7h.6M489.8 85.0h.6M488.8 102.8h.6M480.4 115.6h.6M492.4 84.6h.6M489.5 90.8h.6M487.1 83.8h.6M479.1 104.5h.6M486.4 102.1h.6M487.6 90.4h.6M493.1 83.2h.6M481.6 97.6h.6M482.3 96.7h.6M488.7 77.8h.6M488.5 93.0h.6M487.4 90.0h.6M481.3 100.3h.6M480.7 111.0h.6M484.6 103.0h.6M485.6 100.1h.6M487.5 94.2h.6M480.3 108.5h.6M476.6 97.8h.6M488.3 91.8h.6M483.1 103.6h.6M482.9 102.5h.6M487.7 91.8h.6M477.2 109.1h.6M483.4 103.9h.6M482.0 106.7h.6M485.5 95.1h.6M483.3 87.5h.6M486.4 110.1h.6M477.9 106.9h.6M481.6 99.7h.6M479.7 107.3h.6M488.2 78.5h.6M489.1 89.5h.6M483.9 107.1h.6M486.6 92.2h.6M482.6 105.8h.6M480.7 96.5h.6M489.5 89.9h.6M483.1 91.2h.6M489.5 95.7h.6M494.1 82.0h.6M478.4 94.5h.6M486.1 95.8h.6M482.1 105.4h.6M485.3 97.5h.6M473.4 109.1h.6M486.2 96.4h.6M479.8 99.7h.6M484.9 89.2h.6M485.5 100.1h.6M487.2 102.1h.6M483.6 102.8h.6M485.0 105.3h.6M482.3 103.8h.6M476.9 107.6h.6M480.9 111.1h.6M481.4 100.2h.6M482.1 100.0h.6M484.3 106.3h.6M484.6 99.1h.6M488.3 101.7h.6M492.3 83.5h.6M479.0 105.5h.6M484.3 94.5h.6M485.5 87.5h.6M482.5 95.6h.6M486.6 94.4h.6M473.7 109.0h.6M486.5 97.2h.6M482.7 99.6h.6M475.3 98.5h.6M482.4 103.1h.6M492.1 88.2h.6M483.1 97.5h.6M492.6 84.7h.6M493.3 81.6h.6M484.9 103.3h.6M482.3 102.9h.6M486.7 94.9h.6M490.0 88.5h.6M491.6 84.6h.6M485.2 93.9h.6M479.8 102.7h.6M490.4 95.0h.6M475.7 115.1h.6M482.7 106.4h.6M484.0 93.1h.6M485.9 86.3h.6M481.0 106.5h.6M484.4 105.4h.6M487.7 95.3h.6M483.9 96.7h.6M480.0 106.1h.6M487.2 95.2h.6M484.4 93.5h.6M479.4 101.7h.6M480.5 104.9h.6M492.0 95.3h.6M482.9 100.1h.6M486.1 89.1h.6M481.6 110.7h.6M483.0 90.3h.6M483.5 97.5h.6M481.5 92.4h.6M487.1 97.8h.6M488.4 96.9h.6M487.3 101.4h.6M481.9 99.2h.6M480.9 101.1h.6M474.9 110.7h.6M488.5 91.7h.6M482.3 97.4h.6M478.3 109.7h.6M478.6 99.3h.6M487.2 102.9h.6M482.4 102.6h.6M487.0 92.0h.6M484.5 98.7h.6M487.9 92.0h.6M484.8 105.9h.6M471.0 116.1h.6M489.7 91.0h.6M478.0 113.7h.6M490.4 86.5h.6M484.3 104.7h.6M480.3 107.5h.6M481.4 108.8h.6M480.0 101.9h.6M485.3 100.8h.6M486.0 92.1h.6M477.8 101.1h.6M475.5 110.8h.6M489.4 88.1h.6M485.4 86.1h.6M477.8 115.5h.6M488.2 102.6h.6M489.0 81.5h.6M485.8 100.8h.6M486.0 78.9h.6M481.3 96.4h.6M470.6 128.2h.6M486.9 89.2h.6M480.1 103.6h.6M492.6 86.4h.6M481.8 95.8h.6M486.2 98.6h.6M480.3 104.4h.6M477.2 105.6h.6M481.3 111.2h.6M493.1 88.0h.6M483.8 96.6h.6M474.8 109.3h.6M488.3 91.6h.6M489.0 91.5h.6M480.0 114.2h.6M484.1 102.7h.6M483.6 109.5h.6M480.2 100.8h.6M484.0 92.1h.6M476.5 106.3h.6M485.2 107.9h.6M488.1 94.7h.6M479.8 98.4h.6M486.6 91.6h.6M487.1 89.4h.6M486.2 90.2h.6M490.1 96.1h.6M483.6 96.7h.6M480.2 100.7h.6M487.2 99.5h.6M486.0 98.5h.6M473.9 111.1h.6M483.9 86.5h.6M480.2 96.3h.6M481.9 100.1h.6M484.0 97.2h.6M490.5 98.5h.6M485.4 95.5h.6M480.5 96.1h.6M481.0 103.6h.6M484.5 93.7h.6M485.4 87.7h.6M495.8 84.2h.6M479.3 112.3h.6M481.0 101.8h.6M487.9 93.3h.6M482.0 84.4h.6M484.4 97.5h.6M476.3 107.9h.6M476.2 101.5h.6M486.7 98.4h.6M479.0 105.8h.6M487.0 94.5h.6M481.4 101.8h.6M485.0 94.1h.6M488.9 90.3h.6M480.0 116.1h.6M480.0 96.1h.6M488.7 94.1h.6M483.6 93.9h.6M482.9 98.4h.6M487.6 89.4h.6M479.1 96.0h.6M483.4 99.3h.6M477.9 107.8h.6M477.6 103.4h.6M486.5 94.8h.6M489.0 80.7h.6M484.4 98.2h.6M477.0 109.7h.6M483.0 87.2h.6M485.0 100.1h.6M483.4 93.6h.6M488.8 94.8h.6M479.8 98.8h.6M484.9 86.9h.6M482.0 91.9h.6M483.1 100.7h.6M482.0 96.6h.6M485.7 88.1h.6M478.1 104.0h.6M482.2 88.7h.6M485.1 86.7h.6M487.4 82.9h.6M488.3 91.4h.6M484.4 94.3h.6M488.7 98.2h.6M489.2 95.6h.6M483.0 95.0h.6M492.4 90.6h.6M490.4 88.7h.6M482.2 105.5h.6M483.0 102.4h.6M481.4 107.4h.6M483.0 96.6h.6M485.1 99.9h.6M484.7 95.3h.6M481.7 96.5h.6M485.7 97.0h.6M488.9 90.7h.6M487.6 79.1h.6M486.5 90.7h.6M482.0 90.3h.6M482.2 90.6h.6M491.0 83.1h.6M483.7 94.3h.6M480.1 111.3h.6M487.6 89.6h.6M490.9 94.0h.6M476.8 113.9h.6M490.9 88.6h.6M479.1 96.5h.6M487.4 89.2h.6M483.9 92.9h.6M480.8 96.5h.6M479.3 98.4h.6M479.0 109.5h.6M477.9 111.1h.6M481.8 99.2h.6M488.0 85.8h.6M482.4 99.3h.6M492.2 91.0h.6M482.4 102.1h.6M480.4 104.3h.6M483.5 101.5h.6M490.9 94.6h.6M480.2 92.4h.6M483.5 96.6h.6M488.0 101.5h.6M481.3 99.4h.6M485.8 91.6h.6M482.7 93.7h.6M482.6 104.7h.6M482.9 109.2h.6M482.4 85.7h.6M486.9 100.9h.6M476.5 114.8h.6M477.8 103.9h.6M481.3 93.9h.6M476.6 100.6h.6M479.2 107.9h.6M478.0 104.5h.6M482.9 102.8h.6M475.8 107.4h.6M482.1 103.5h.6M480.4 86.9h.6M487.9 85.1h.6M476.2 108.0h.6M475.9 108.0h.6M476.3 98.7h.6M478.3 108.4h.6M479.2 104.7h.6M485.9 97.4h.6M479.6 102.5h.6M482.2 89.3h.6M482.6 102.6h.6M485.6 102.3h.6M476.9 112.7h.6M479.5 106.4h.6M483.0 106.4h.6M489.2 97.8h.6M480.1 106.9h.6M479.8 99.5h.6M486.3 92.6h.6M483.5 99.8h.6M483.1 96.0h.6M491.2 87.7h.6M479.8 103.0h.6M486.5 99.1h.6M491.6 82.8h.6M481.1 100.9h.6M493.3 86.5h.6M486.4 96.1h.6M484.7 95.3h.6M489.7 90.4h.6M484.2 104.0h.6M472.1 115.6h.6M484.4 103.5h.6M482.5 116.1h.6M476.8 113.8h.6M486.5 78.9h.6M480.9 111.5h.6M479.4 103.6h.6M493.1 81.2h.6M488.4 92.5h.6M490.2 89.9h.6M491.3 93.9h.6M477.6 109.5h.6M491.7 91.6h.6M478.8 110.6h.6M478.8 104.6h.6M484.9 92.2h.6M481.8 94.5h.6M491.0 78.1h.6M481.8 96.4h.6M486.3 74.9h.6M483.3 96.8h.6M480.1 108.5h.6M482.2 107.7h.6M481.5 98.6h.6M484.1 91.8h.6M482.8 93.0h.6M487.2 92.6h.6M482.2 91.4h.6M484.7 95.7h.6M490.7 90.6h.6M485.6 95.8h.6M495.8 81.3h.6M484.0 93.2h.6M484.9 102.9h.6M486.2 100.3h.6M488.6 84.1h.6M486.9 95.3h.6M483.3 90.7h.6M482.6 94.7h.6M481.7 97.9h.6M483.5 90.3h.6M476.7 106.9h.6M478.0 100.5h.6M478.3 99.1h.6M489.8 83.2h.6M484.6 101.6h.6M488.0 91.8h.6M482.4 89.8h.6M484.9 91.3h.6M479.8 94.0h.6M474.8 99.2h.6M482.3 102.3h.6M481.2 100.4h.6M480.7 92.3h.6M477.3 102.1h.6M486.0 99.3h.6M486.9 90.3h.6M485.8 92.0h.6M488.2 94.4h.6M479.8 104.3h.6M486.0 88.7h.6M483.1 93.6h.6M481.3 106.6h.6M483.5 102.7h.6M479.2 104.6h.6M481.9 99.2h.6M483.3 98.0h.6M475.6 112.3h.6M490.1 87.1h.6M487.7 104.0h.6M486.9 98.0h.6M491.0 87.7h.6M486.4 93.8h.6M486.1 94.8h.6M490.7 86.2h.6M481.3 99.2h.6M477.5 106.9h.6M487.6 82.8h.6M482.4 99.5h.6M488.0 76.3h.6M486.3 103.7h.6M480.3 96.2h.6M483.2 105.3h.6M478.6 113.8h.6M483.6 103.1h.6M482.7 115.7h.6M487.0 96.1h.6M491.8 87.5h.6M484.7 102.0h.6M482.2 101.9h.6M484.0 94.2h.6M483.1 101.8h.6M481.4 94.6h.6M484.5 100.5h.6M478.5 92.8h.6M479.8 102.4h.6M484.5 104.1h.6M487.6 88.0h.6M485.7 93.2h.6M482.2 107.9h.6M488.4 79.7h.6M484.9 98.3h.6M491.1 84.4h.6M485.7 78.7h.6M483.4 101.6h.6M478.1 108.5h.6M489.1 87.6h.6M487.8 106.1h.6M489.5 83.3h.6M481.0 105.7h.6M478.7 95.0h.6M489.5 82.5h.6M483.5 104.1h.6M472.7 119.0h.6M486.3 86.3h.6M477.8 111.9h.6M489.7 89.4h.6M488.3 88.5h.6M474.7 103.4h.6M485.0 95.3h.6M483.4 102.3h.6M486.2 89.0h.6M478.1 101.4h.6M477.1 98.9h.6M487.4 98.6h.6M474.7 99.3h.6M483.0 94.9h.6M485.4 96.9h.6M486.7 89.6h.6M485.0 96.0h.6M493.6 95.5h.6M488.8 94.6h.6M482.8 96.3h.6M482.8 96.6h.6M480.2 100.2h.6M484.3 100.9h.6M492.9 91.7h.6M486.6 96.1h.6M483.0 96.9h.6M478.1 104.9h.6M472.4 109.5h.6M483.1 102.0h.6M480.0 105.3h.6M485.1 99.1h.6M478.5 105.6h.6M486.8 96.9h.6M482.4 99.2h.6M480.7 103.8h.6M484.8 87.9h.6M481.3 104.5h.6M483.2 103.4h.6M480.1 99.3h.6M485.5 85.1h.6M475.9 108.0h.6M483.0 105.4h.6M485.9 89.9h.6M487.3 98.9h.6M485.8 94.9h.6M489.2 91.9h.6M484.5 103.2h.6M494.9 78.2h.6M481.1 98.5h.6M474.4 110.0h.6M473.7 108.3h.6M475.0 115.3h.6M483.3 99.6h.6M475.8 105.4h.6M476.8 101.8h.6M486.5 104.8h.6M475.4 105.1h.6M483.6 103.7h.6M487.2 105.4h.6M488.6 86.3h.6M484.4 89.9h.6M477.1 111.8h.6M478.9 98.6h.6M489.7 89.3h.6M490.4 84.0h.6M481.4 88.9h.6M487.2 85.4h.6M486.7 92.5h.6M481.8 106.5h.6M488.0 96.1h.6M479.4 104.7h.6M486.0 98.1h.6M486.1 92.1h.6M482.7 95.0h.6M480.8 89.9h.6M490.3 82.0h.6M479.8 109.8h.6M479.4 87.9h.6M477.1 105.7h.6M482.4 101.4h.6M482.5 109.3h.6M479.7 101.4h.6M488.4 77.5h.6M483.9 96.9h.6M477.2 109.8h.6M475.8 102.7h.6M483.1 87.3h.6M462.2 109.5h.6M461.3 91.6h.6M478.5 102.2h.6M482.2 91.5h.6M463.0 86.1h.6M475.6 84.9h.6M482.7 92.2h.6M475.3 95.2h.6M465.9 92.6h.6M495.8 92.8h.6M488.2 103.1h.6M478.5 84.8h.6M469.2 87.0h.6M456.0 101.3h.6M465.7 102.9h.6M471.4 110.1h.6M459.5 109.5h.6M483.1 97.2h.6M456.2 101.4h.6M490.3 81.7h.6M466.2 99.6h.6M461.7 97.8h.6M467.5 113.3h.6M476.8 94.7h.6M483.2 81.1h.6M457.9 110.7h.6M478.6 115.3h.6M465.5 93.3h.6M455.0 89.0h.6M457.1 96.2h.6M485.0 97.9h.6M454.7 98.5h.6M463.3 123.4h.6M471.1 97.5h.6M488.5 99.3h.6M445.4 96.6h.6M472.4 108.3h.6M472.6 76.2h.6M450.9 80.9h.6M465.3 80.1h.6M466.7 89.6h.6M477.2 103.6h.6M466.8 103.1h.6M464.1 90.8h.6M472.9 93.5h.6M483.3 100.1h.6M454.9 107.2h.6M471.1 106.9h.6M467.8 95.5h.6M469.8 99.5h.6M481.4 80.6h.6M463.3 93.8h.6M452.8 109.4h.6M467.8 85.0h.6M455.2 128.9h.6M489.8 106.0h.6M486.8 98.3h.6M457.7 98.0h.6M470.4 78.6h.6M451.1 97.9h.6M468.3 96.3h.6M464.7 100.9h.6M492.9 108.3h.6M476.2 102.6h.6M473.2 86.1h.6M483.7 89.8h.6M465.7 106.7h.6M478.6 95.7h.6M462.3 108.7h.6M463.4 121.6h.6M493.5 91.8h.6M437.0 118.7h.6M477.7 108.8h.6M461.6 104.2h.6M481.6 97.5h.6M461.4 100.6h.6M472.4 97.6h.6M454.4 103.2h.6M483.5 95.9h.6M461.7 110.0h.6M453.3 106.7h.6M432.1 114.1h.6M448.6 97.3h.6M478.9 94.9h.6M455.2 112.1h.6M454.5 96.5h.6M470.5 99.0h.6M468.3 90.9h.6M471.8 75.5h.6M466.7 91.8h.6M492.2 103.5h.6M456.4 114.1h.6M462.1 96.7h.6M467.2 117.5h.6M476.8 101.2h.6M488.0 89.5h.6M470.7 103.9h.6M479.9 104.1h.6M475.2 97.5h.6M505.9 88.7h.6M462.5 107.5h.6M487.0 86.8h.6M470.0 106.0h.6M473.4 100.2h.6M478.6 82.5h.6M485.4 83.7h.6M462.4 101.8h.6M468.8 101.5h.6M459.1 100.6h.6M438.1 109.3h.6M495.8 102.3h.6M472.3 106.2h.6M469.7 87.5h.6M460.6 112.8h.6M467.5 82.6h.6M474.8 89.8h.6M485.0 93.2h.6M473.9 102.3h.6M472.0 96.8h.6M457.4 95.5h.6M462.9 96.8h.6M470.5 84.6h.6M447.9 102.6h.6M464.2 107.9h.6M470.7 92.5h.6M489.5 83.0h.6M449.6 107.8h.6M454.0 114.6h.6M479.8 102.9h.6M441.0 104.3h.6M497.0 97.2h.6M472.8 78.9h.6M481.2 86.3h.6M477.4 114.7h.6M450.2 117.9h.6M477.5 95.0h.6M458.9 116.3h.6M467.8 101.2h.6M470.4 89.1h.6M472.9 90.8h.6M479.8 106.3h.6M470.8 90.4h.6M483.8 82.7h.6M474.0 104.6h.6M463.8 94.5h.6M475.7 102.9h.6M465.2 114.6h.6M480.0 82.2h.6M465.9 88.3h.6M466.3 110.0h.6M482.0 121.6h.6M448.7 96.6h.6M475.9 102.8h.6M464.4 97.1h.6M478.7 109.2h.6M477.8 90.4h.6M459.1 91.7h.6M475.9 94.9h.6M489.6 82.5h.6M465.7 97.2h.6M479.5 84.8h.6M499.1 92.9h.6M447.6 113.7h.6M467.7 120.4h.6M492.4 94.6h.6M468.5 102.6h.6M468.7 111.4h.6M458.0 92.9h.6M437.7 114.6h.6M479.4 63.7h.6M478.0 89.4h.6M485.6 101.2h.6M477.2 96.1h.6M458.3 95.8h.6M447.5 96.5h.6M473.3 81.7h.6M487.7 96.5h.6M475.2 86.2h.6M476.7 96.6h.6M491.1 80.4h.6M464.3 102.4h.6M468.2 99.9h.6M481.6 90.6h.6M465.3 107.5h.6M461.5 102.2h.6M465.2 96.6h.6M478.2 114.7h.6M461.1 107.8h.6M466.2 105.3h.6M473.8 86.6h.6M459.9 101.3h.6M463.6 101.5h.6M472.6 105.5h.6M473.1 92.9h.6M461.0 105.6h.6M463.6 91.1h.6M481.1 97.2h.6M464.7 101.4h.6M469.9 92.5h.6M468.6 94.5h.6M462.4 118.2h.6M478.6 93.2h.6M466.8 100.6h.6M449.5 126.5h.6M489.6 103.8h.6M467.2 89.9h.6M471.8 94.4h.6M473.8 102.2h.6M465.0 90.9h.6M457.2 122.2h.6M459.0 88.7h.6M463.0 107.6h.6M478.1 79.8h.6M466.2 104.5h.6M475.7 101.9h.6M442.3 106.7h.6M458.2 106.2h.6M471.2 87.4h.6M456.7 95.6h.6M478.7 98.9h.6M467.4 101.7h.6M466.4 100.1h.6M458.0 85.3h.6M467.7 99.9h.6M452.3 94.9h.6M480.7 94.8h.6M473.5 106.1h.6M466.2 117.5h.6M457.0 101.4h.6M475.0 91.6h.6M459.9 100.2h.6M481.9 80.5h.6M477.9 87.9h.6M461.4 82.8h.6M467.4 93.1h.6M490.8 100.0h.6M477.3 83.9h.6M481.4 105.3h.6M463.7 102.7h.6M478.9 108.8h.6M454.6 95.1h.6M477.5 80.7h.6M481.2 108.7h.6M467.2 109.3h.6M475.1 104.3h.6M465.5 120.7h.6M466.6 101.6h.6M472.8 100.8h.6M475.0 111.8h.6M471.7 122.6h.6M475.4 112.8h.6M458.0 101.5h.6M452.7 122.5h.6M475.1 97.4h.6M441.7 108.3h.6M450.5 99.9h.6M454.1 106.6h.6M478.6 93.7h.6M477.6 80.9h.6M505.9 91.4h.6M466.4 100.7h.6M465.9 87.7h.6M468.4 112.4h.6M453.6 99.3h.6M481.6 122.3h.6M459.2 120.8h.6M460.5 120.1h.6M472.1 100.7h.6M463.8 102.1h.6M475.7 121.5h.6M478.5 76.5h.6M479.0 73.5h.6M469.6 86.1h.6M459.7 105.5h.6M469.7 94.3h.6M456.9 111.8h.6M452.0 112.3h.6M451.3 114.7h.6M481.5 91.3h.6M453.4 111.3h.6M483.3 98.7h.6M469.0 80.7h.6M465.7 104.3h.6M470.5 92.4h.6M488.6 87.4h.6M453.1 110.5h.6M475.1 101.4h.6M464.2 89.2h.6M457.4 109.5h.6M445.2 101.7h.6M458.4 108.1h.6M458.4 107.5h.6M470.0 83.3h.6M479.9 113.3h.6M474.5 104.6h.6M466.7 106.6h.6M489.9 86.6h.6M462.6 109.2h.6M470.4 97.7h.6M465.9 93.5h.6M477.7 75.2h.6M475.5 86.6h.6M469.7 113.8h.6M477.2 77.9h.6M473.3 97.7h.6M462.3 112.4h.6M481.2 92.2h.6M464.2 111.8h.6M462.6 106.1h.6M478.6 105.2h.6M464.4 106.5h.6M470.5 125.1h.6M500.3 73.7h.6M480.4 94.4h.6M464.1 92.7h.6M464.0 97.5h.6M481.8 95.5h.6M474.4 83.2h.6M459.6 89.6h.6M478.0 99.8h.6M451.5 98.0h.6M485.5 96.8h.6M485.1 98.4h.6M489.6 86.8h.6M455.2 104.3h.6M477.6 97.4h.6M493.6 111.3h.6M475.5 106.0h.6M468.4 98.8h.6M486.0 85.5h.6M453.9 98.8h.6M469.4 105.3h.6M475.6 92.1h.6M465.2 114.4h.6M471.2 94.1h.6M481.2 75.2h.6M480.2 97.7h.6M469.9 110.1h.6M456.5 93.6h.6M452.7 107.5h.6M459.8 103.3h.6M464.3 95.8h.6M461.6 106.1h.6M503.3 78.4h.6M468.1 107.5h.6M468.9 107.7h.6M477.9 93.1h.6M477.6 104.6h.6M473.6 57.8h.6M481.7 76.1h.6M468.6 101.2h.6M457.8 108.4h.6M478.1 101.6h.6M441.1 106.0h.6M469.6 83.6h.6M487.0 74.1h.6M479.8 122.6h.6M490.3 86.5h.6M465.3 95.9h.6M465.3 99.5h.6M461.0 80.4h.6M460.7 108.2h.6M473.5 109.8h.6M487.5 96.3h.6M469.1 107.6h.6M498.2 103.9h.6M478.4 79.8h.6M433.0 117.8h.6M481.8 71.9h.6M461.4 69.8h.6M471.7 100.2h.6M456.8 82.4h.6" stroke="#000" stroke-width="0.6" fill="none"/>
<text x="424.6" y="41.3" font-size="11.7" stroke="#000" stroke-width="0.25">Lovastatin+GGOH</text>
<text x="499.0" y="65.5" font-size="5.7" font-weight="bold" stroke="#000" stroke-width="0.12">38.3</text>
<text x="438.2" y="106.8" font-size="5.7" font-weight="bold" stroke="#000" stroke-width="0.12">43.9</text>
<text x="499.0" y="106.8" font-size="5.7" font-weight="bold" stroke="#000" stroke-width="0.12">14.5</text>
<text x="428.5" y="142.9" font-size="6.7" font-weight="bold" stroke="#000" stroke-width="0.15">10<tspan dy="-2.9" font-size="3">0</tspan></text>
<text transform="translate(427.5 135.9) rotate(-90)" font-size="6.7" font-weight="bold" stroke="#000" stroke-width="0.15">10<tspan dy="-2.9" font-size="3">0</tspan></text>
<text x="449.4" y="142.9" font-size="6.7" font-weight="bold" stroke="#000" stroke-width="0.15">10<tspan dy="-2.9" font-size="3">1</tspan></text>
<text transform="translate(427.5 115.4) rotate(-90)" font-size="6.7" font-weight="bold" stroke="#000" stroke-width="0.15">10<tspan dy="-2.9" font-size="3">1</tspan></text>
<text x="470.2" y="142.9" font-size="6.7" font-weight="bold" stroke="#000" stroke-width="0.15">10<tspan dy="-2.9" font-size="3">2</tspan></text>
<text transform="translate(427.5 94.9) rotate(-90)" font-size="6.7" font-weight="bold" stroke="#000" stroke-width="0.15">10<tspan dy="-2.9" font-size="3">2</tspan></text>
<text x="491.1" y="142.9" font-size="6.7" font-weight="bold" stroke="#000" stroke-width="0.15">10<tspan dy="-2.9" font-size="3">3</tspan></text>
<text transform="translate(427.5 74.4) rotate(-90)" font-size="6.7" font-weight="bold" stroke="#000" stroke-width="0.15">10<tspan dy="-2.9" font-size="3">3</tspan></text>
<text x="511.9" y="142.9" font-size="6.7" font-weight="bold" stroke="#000" stroke-width="0.15">10<tspan dy="-2.9" font-size="3">4</tspan></text>
<text transform="translate(427.5 53.9) rotate(-90)" font-size="6.7" font-weight="bold" stroke="#000" stroke-width="0.15">10<tspan dy="-2.9" font-size="3">4</tspan></text>
</g>
<path d="M15.7 133.5V52" stroke="#000" stroke-width="1.25" fill="none"/><path d="M15.7 46.8L11.9 53.8H19.5Z" fill="#000"/>
<path d="M34.6 149.3H503" stroke="#000" stroke-width="1.25" fill="none"/><path d="M509.8 149.3L502 145.6V153Z" fill="#000"/>
<text transform="translate(10 134.7) rotate(-90)" font-size="11.7" stroke="#000" stroke-width="0.25">Propidium Iodide</text>
<text x="200.6" y="163.8" font-size="11.7" stroke="#000" stroke-width="0.25">Annexin V</text>
<g>
<text x="141.6" y="211.9" font-size="9.05" font-weight="bold" text-anchor="middle" stroke="#000" stroke-width="0.25">RPMI-8226</text>
<path d="M70.3 223.29999999999998V318.3H211.0" stroke="#000" stroke-width="0.95" fill="none"/>
<text x="66.89999999999999" y="320.6" font-size="6.3" text-anchor="end" stroke="#000" stroke-width="0.22">0</text>
<text x="66.89999999999999" y="296.9" font-size="6.3" text-anchor="end" stroke="#000" stroke-width="0.22">25</text>
<text x="66.89999999999999" y="273.3" font-size="6.3" text-anchor="end" stroke="#000" stroke-width="0.22">50</text>
<text x="66.89999999999999" y="249.7" font-size="6.3" text-anchor="end" stroke="#000" stroke-width="0.22">75</text>
<text x="66.89999999999999" y="226.0" font-size="6.3" text-anchor="end" stroke="#000" stroke-width="0.22">100</text>
<text x="70.3" y="327.9" font-size="6.3" text-anchor="middle" stroke="#000" stroke-width="0.22">0</text>
<text x="114.7" y="327.9" font-size="6.3" text-anchor="middle" stroke="#000" stroke-width="0.22">50</text>
<text x="159.1" y="327.9" font-size="6.3" text-anchor="middle" stroke="#000" stroke-width="0.22">100</text>
<text x="203.5" y="327.9" font-size="6.3" text-anchor="middle" stroke="#000" stroke-width="0.22">150</text>
<path d="M67.8 318.3H70.3M67.8 294.6H70.3M67.8 271.0H70.3M67.8 247.3H70.3M67.8 223.7H70.3M70.3 318.3v2.4M114.7 318.3v2.4M159.1 318.3v2.4M203.5 318.3v2.4" stroke="#000" stroke-width="0.9" fill="none"/>
<text x="141.3" y="340.9" font-size="7.8" font-weight="bold" text-anchor="middle" stroke="#000" stroke-width="0.3">Lovastatin (µM)</text>
<text transform="translate(50.9 267.2) rotate(-90)" font-size="7.7" font-weight="bold" text-anchor="middle" stroke="#000" stroke-width="0.3">% of apoptotic cells</text>
<polyline points="70.3,289.9 74.7,293.2 79.2,290.5 105.8,265.8 159.1,245.9 203.5,235.1" fill="none" stroke="#000" stroke-width="0.85"/>
<path d="M105.8 264.4V267.2M104.3 264.4h3M104.3 267.2h3M159.1 244.0V247.8M157.6 244.0h3M157.6 247.8h3M203.5 233.2V236.9M202.0 233.2h3M202.0 236.9h3" stroke="#000" stroke-width="0.7" fill="none"/>
<circle cx="70.3" cy="289.9" r="1.7" fill="#000"/>
<circle cx="74.7" cy="293.2" r="1.7" fill="#000"/>
<circle cx="79.2" cy="290.5" r="1.7" fill="#000"/>
<circle cx="105.8" cy="265.8" r="1.7" fill="#000"/>
<circle cx="159.1" cy="245.9" r="1.7" fill="#000"/>
<circle cx="203.5" cy="235.1" r="1.7" fill="#000"/>
<polyline points="70.3,289.9 74.7,293.2 79.2,298.0 105.8,295.4 159.1,270.1 203.5,241.7" fill="none" stroke="#000" stroke-width="0.85"/>
<path d="M159.1 266.7V273.4M157.6 266.7h3M157.6 273.4h3M203.5 237.9V245.5M202.0 237.9h3M202.0 245.5h3" stroke="#000" stroke-width="0.7" fill="none"/>
<circle cx="70.3" cy="289.9" r="1.45" fill="#fff" stroke="#000" stroke-width="0.7"/>
<circle cx="74.7" cy="293.2" r="1.45" fill="#fff" stroke="#000" stroke-width="0.7"/>
<circle cx="79.2" cy="298.0" r="1.45" fill="#fff" stroke="#000" stroke-width="0.7"/>
<circle cx="105.8" cy="295.4" r="1.45" fill="#fff" stroke="#000" stroke-width="0.7"/>
<circle cx="159.1" cy="270.1" r="1.45" fill="#fff" stroke="#000" stroke-width="0.7"/>
<circle cx="203.5" cy="241.7" r="1.45" fill="#fff" stroke="#000" stroke-width="0.7"/>
<polyline points="70.3,289.9 74.7,265.3 79.2,246.9 105.8,240.7 159.1,236.0 203.5,234.6" fill="none" stroke="#000" stroke-width="0.85"/>
<path d="M74.7 262.5V268.2M73.2 262.5h3M73.2 268.2h3M79.2 245.0V248.8M77.7 245.0h3M77.7 248.8h3M105.8 237.4V244.0M104.3 237.4h3M104.3 244.0h3M159.1 234.1V237.9M157.6 234.1h3M157.6 237.9h3M203.5 232.7V236.5M202.0 232.7h3M202.0 236.5h3" stroke="#000" stroke-width="0.7" fill="none"/>
<rect x="68.8" y="288.4" width="3" height="3" fill="#fff" stroke="#000" stroke-width="0.75"/>
<rect x="73.2" y="263.8" width="3" height="3" fill="#fff" stroke="#000" stroke-width="0.75"/>
<rect x="77.7" y="245.4" width="3" height="3" fill="#fff" stroke="#000" stroke-width="0.75"/>
<rect x="104.3" y="239.2" width="3" height="3" fill="#fff" stroke="#000" stroke-width="0.75"/>
<rect x="157.6" y="234.5" width="3" height="3" fill="#fff" stroke="#000" stroke-width="0.75"/>
<rect x="202.0" y="233.1" width="3" height="3" fill="#fff" stroke="#000" stroke-width="0.75"/>
<polyline points="70.3,289.4 74.7,257.0 79.2,242.1 105.8,234.1 159.1,236.0 203.5,233.2" fill="none" stroke="#000" stroke-width="0.85"/>
<path d="M74.7 254.2V259.8M73.2 254.2h3M73.2 259.8h3M79.2 240.6V243.5M77.7 240.6h3M77.7 243.5h3M105.8 232.7V235.5M104.3 232.7h3M104.3 235.5h3M159.1 233.6V238.4M157.6 233.6h3M157.6 238.4h3M203.5 231.7V234.6M202.0 231.7h3M202.0 234.6h3" stroke="#000" stroke-width="0.7" fill="none"/>
<rect x="68.7" y="287.8" width="3.2" height="3.2" fill="#000"/>
<rect x="73.1" y="255.4" width="3.2" height="3.2" fill="#000"/>
<rect x="77.6" y="240.5" width="3.2" height="3.2" fill="#000"/>
<rect x="104.2" y="232.5" width="3.2" height="3.2" fill="#000"/>
<rect x="157.5" y="234.4" width="3.2" height="3.2" fill="#000"/>
<rect x="201.9" y="231.6" width="3.2" height="3.2" fill="#000"/>
</g>
<g>
<text x="330.4" y="212.2" font-size="9.05" font-weight="bold" text-anchor="middle" stroke="#000" stroke-width="0.25">L363</text>
<path d="M259.5 223.4V318.5H399.3" stroke="#000" stroke-width="0.95" fill="none"/>
<text x="256.1" y="320.8" font-size="6.3" text-anchor="end" stroke="#000" stroke-width="0.22">0</text>
<text x="256.1" y="297.1" font-size="6.3" text-anchor="end" stroke="#000" stroke-width="0.22">25</text>
<text x="256.1" y="273.4" font-size="6.3" text-anchor="end" stroke="#000" stroke-width="0.22">50</text>
<text x="256.1" y="249.8" font-size="6.3" text-anchor="end" stroke="#000" stroke-width="0.22">75</text>
<text x="256.1" y="226.1" font-size="6.3" text-anchor="end" stroke="#000" stroke-width="0.22">100</text>
<text x="259.5" y="328.1" font-size="6.3" text-anchor="middle" stroke="#000" stroke-width="0.22">0</text>
<text x="303.6" y="328.1" font-size="6.3" text-anchor="middle" stroke="#000" stroke-width="0.22">50</text>
<text x="347.7" y="328.1" font-size="6.3" text-anchor="middle" stroke="#000" stroke-width="0.22">100</text>
<text x="391.8" y="328.1" font-size="6.3" text-anchor="middle" stroke="#000" stroke-width="0.22">150</text>
<path d="M257.0 318.5H259.5M257.0 294.8H259.5M257.0 271.1H259.5M257.0 247.5H259.5M257.0 223.8H259.5M259.5 318.5v2.4M303.6 318.5v2.4M347.7 318.5v2.4M391.8 318.5v2.4" stroke="#000" stroke-width="0.9" fill="none"/>
<text x="330.1" y="341.1" font-size="7.8" font-weight="bold" text-anchor="middle" stroke="#000" stroke-width="0.3">Lovastatin (µM)</text>
<text transform="translate(240.1 267.4) rotate(-90)" font-size="7.7" font-weight="bold" text-anchor="middle" stroke="#000" stroke-width="0.3">% of apoptotic cells</text>
<polyline points="259.5,293.9 263.9,296.7 268.3,292.9 294.8,295.8 347.7,282.5 391.8,273.5" fill="none" stroke="#000" stroke-width="0.85"/>
<path d="M263.9 294.8V298.6M262.4 294.8h3M262.4 298.6h3M268.3 292.0V293.9M266.8 292.0h3M266.8 293.9h3M294.8 294.8V296.7M293.3 294.8h3M293.3 296.7h3M347.7 279.2V285.8M346.2 279.2h3M346.2 285.8h3M391.8 271.6V275.4M390.3 271.6h3M390.3 275.4h3" stroke="#000" stroke-width="0.7" fill="none"/>
<circle cx="259.5" cy="293.9" r="1.7" fill="#000"/>
<circle cx="263.9" cy="296.7" r="1.7" fill="#000"/>
<circle cx="268.3" cy="292.9" r="1.7" fill="#000"/>
<circle cx="294.8" cy="295.8" r="1.7" fill="#000"/>
<circle cx="347.7" cy="282.5" r="1.7" fill="#000"/>
<circle cx="391.8" cy="273.5" r="1.7" fill="#000"/>
<polyline points="259.5,294.8 263.9,297.7 268.3,296.7 294.8,295.8 347.7,288.2 391.8,285.8" fill="none" stroke="#000" stroke-width="0.85"/>
<path d="M263.9 296.2V299.1M262.4 296.2h3M262.4 299.1h3M268.3 295.8V297.7M266.8 295.8h3M266.8 297.7h3M294.8 294.8V296.7M293.3 294.8h3M293.3 296.7h3M347.7 284.4V292.0M346.2 284.4h3M346.2 292.0h3M391.8 282.0V289.6M390.3 282.0h3M390.3 289.6h3" stroke="#000" stroke-width="0.7" fill="none"/>
<circle cx="259.5" cy="294.8" r="1.45" fill="#fff" stroke="#000" stroke-width="0.7"/>
<circle cx="263.9" cy="297.7" r="1.45" fill="#fff" stroke="#000" stroke-width="0.7"/>
<circle cx="268.3" cy="296.7" r="1.45" fill="#fff" stroke="#000" stroke-width="0.7"/>
<circle cx="294.8" cy="295.8" r="1.45" fill="#fff" stroke="#000" stroke-width="0.7"/>
<circle cx="347.7" cy="288.2" r="1.45" fill="#fff" stroke="#000" stroke-width="0.7"/>
<circle cx="391.8" cy="285.8" r="1.45" fill="#fff" stroke="#000" stroke-width="0.7"/>
<polyline points="259.5,293.9 263.9,295.8 268.3,292.9 294.8,283.5 347.7,261.2 391.8,246.1" fill="none" stroke="#000" stroke-width="0.85"/>
<path d="M263.9 294.8V296.7M262.4 294.8h3M262.4 296.7h3M268.3 292.0V293.9M266.8 292.0h3M266.8 293.9h3M294.8 282.5V284.4M293.3 282.5h3M293.3 284.4h3M347.7 260.3V262.2M346.2 260.3h3M346.2 262.2h3M391.8 244.2V247.9M390.3 244.2h3M390.3 247.9h3" stroke="#000" stroke-width="0.7" fill="none"/>
<rect x="258.0" y="292.4" width="3" height="3" fill="#fff" stroke="#000" stroke-width="0.75"/>
<rect x="262.4" y="294.3" width="3" height="3" fill="#fff" stroke="#000" stroke-width="0.75"/>
<rect x="266.8" y="291.4" width="3" height="3" fill="#fff" stroke="#000" stroke-width="0.75"/>
<rect x="293.3" y="282.0" width="3" height="3" fill="#fff" stroke="#000" stroke-width="0.75"/>
<rect x="346.2" y="259.7" width="3" height="3" fill="#fff" stroke="#000" stroke-width="0.75"/>
<rect x="390.3" y="244.6" width="3" height="3" fill="#fff" stroke="#000" stroke-width="0.75"/>
<polyline points="259.5,292.9 263.9,295.8 268.3,292.0 294.8,264.5 347.7,233.7 391.8,230.9" fill="none" stroke="#000" stroke-width="0.85"/>
<path d="M263.9 294.8V296.7M262.4 294.8h3M262.4 296.7h3M268.3 291.0V292.9M266.8 291.0h3M266.8 292.9h3M294.8 262.2V266.9M293.3 262.2h3M293.3 266.9h3M347.7 232.8V234.7M346.2 232.8h3M346.2 234.7h3M391.8 230.0V231.8M390.3 230.0h3M390.3 231.8h3" stroke="#000" stroke-width="0.7" fill="none"/>
<rect x="257.9" y="291.3" width="3.2" height="3.2" fill="#000"/>
<rect x="262.3" y="294.2" width="3.2" height="3.2" fill="#000"/>
<rect x="266.7" y="290.4" width="3.2" height="3.2" fill="#000"/>
<rect x="293.2" y="262.9" width="3.2" height="3.2" fill="#000"/>
<rect x="346.1" y="232.1" width="3.2" height="3.2" fill="#000"/>
<rect x="390.2" y="229.3" width="3.2" height="3.2" fill="#000"/>
</g>
<g>
<text x="141.4" y="364.7" font-size="9.05" font-weight="bold" text-anchor="middle" stroke="#000" stroke-width="0.25">XG-1</text>
<path d="M70.3 375.8V470.3H211.0" stroke="#000" stroke-width="0.95" fill="none"/>
<text x="66.89999999999999" y="472.6" font-size="6.3" text-anchor="end" stroke="#000" stroke-width="0.22">0</text>
<text x="66.89999999999999" y="449.1" font-size="6.3" text-anchor="end" stroke="#000" stroke-width="0.22">25</text>
<text x="66.89999999999999" y="425.6" font-size="6.3" text-anchor="end" stroke="#000" stroke-width="0.22">50</text>
<text x="66.89999999999999" y="402.0" font-size="6.3" text-anchor="end" stroke="#000" stroke-width="0.22">75</text>
<text x="66.89999999999999" y="378.5" font-size="6.3" text-anchor="end" stroke="#000" stroke-width="0.22">100</text>
<text x="70.3" y="479.9" font-size="6.3" text-anchor="middle" stroke="#000" stroke-width="0.22">0</text>
<text x="114.7" y="479.9" font-size="6.3" text-anchor="middle" stroke="#000" stroke-width="0.22">50</text>
<text x="159.1" y="479.9" font-size="6.3" text-anchor="middle" stroke="#000" stroke-width="0.22">100</text>
<text x="203.5" y="479.9" font-size="6.3" text-anchor="middle" stroke="#000" stroke-width="0.22">150</text>
<path d="M67.8 470.3H70.3M67.8 446.8H70.3M67.8 423.2H70.3M67.8 399.7H70.3M67.8 376.2H70.3M70.3 470.3v2.4M114.7 470.3v2.4M159.1 470.3v2.4M203.5 470.3v2.4" stroke="#000" stroke-width="0.9" fill="none"/>
<text x="141.3" y="492.9" font-size="7.8" font-weight="bold" text-anchor="middle" stroke="#000" stroke-width="0.3">Lovastatin (µM)</text>
<text transform="translate(50.9 419.2) rotate(-90)" font-size="7.7" font-weight="bold" text-anchor="middle" stroke="#000" stroke-width="0.3">% of apoptotic cells</text>
<polyline points="70.3,442.1 74.7,420.4 79.2,420.0 105.8,415.7 159.1,405.4 203.5,398.3" fill="none" stroke="#000" stroke-width="0.85"/>
<path d="M70.3 438.3V445.8M68.8 438.3h3M68.8 445.8h3M74.7 415.7V425.1M73.2 415.7h3M73.2 425.1h3M79.2 415.3V424.7M77.7 415.3h3M77.7 424.7h3M105.8 410.1V421.4M104.3 410.1h3M104.3 421.4h3M159.1 400.2V410.5M157.6 400.2h3M157.6 410.5h3M203.5 394.5V402.1M202.0 394.5h3M202.0 402.1h3" stroke="#000" stroke-width="0.7" fill="none"/>
<circle cx="70.3" cy="442.1" r="1.7" fill="#000"/>
<circle cx="74.7" cy="420.4" r="1.7" fill="#000"/>
<circle cx="79.2" cy="420.0" r="1.7" fill="#000"/>
<circle cx="105.8" cy="415.7" r="1.7" fill="#000"/>
<circle cx="159.1" cy="405.4" r="1.7" fill="#000"/>
<circle cx="203.5" cy="398.3" r="1.7" fill="#000"/>
<polyline points="70.3,444.0 74.7,444.9 79.2,444.9 105.8,444.0 159.1,434.5 203.5,426.1" fill="none" stroke="#000" stroke-width="0.85"/>
<path d="M70.3 440.2V447.7M68.8 440.2h3M68.8 447.7h3M74.7 442.1V447.7M73.2 442.1h3M73.2 447.7h3M79.2 441.1V448.7M77.7 441.1h3M77.7 448.7h3M105.8 442.5V445.4M104.3 442.5h3M104.3 445.4h3M159.1 432.7V436.4M157.6 432.7h3M157.6 436.4h3M203.5 419.5V432.7M202.0 419.5h3M202.0 432.7h3" stroke="#000" stroke-width="0.7" fill="none"/>
<circle cx="70.3" cy="444.0" r="1.45" fill="#fff" stroke="#000" stroke-width="0.7"/>
<circle cx="74.7" cy="444.9" r="1.45" fill="#fff" stroke="#000" stroke-width="0.7"/>
<circle cx="79.2" cy="444.9" r="1.45" fill="#fff" stroke="#000" stroke-width="0.7"/>
<circle cx="105.8" cy="444.0" r="1.45" fill="#fff" stroke="#000" stroke-width="0.7"/>
<circle cx="159.1" cy="434.5" r="1.45" fill="#fff" stroke="#000" stroke-width="0.7"/>
<circle cx="203.5" cy="426.1" r="1.45" fill="#fff" stroke="#000" stroke-width="0.7"/>
<polyline points="70.3,442.1 74.7,396.0 79.2,383.3 105.8,379.5 159.1,378.6 203.5,378.1" fill="none" stroke="#000" stroke-width="0.85"/>
<path d="M70.3 439.2V444.9M68.8 439.2h3M68.8 444.9h3M74.7 392.2V399.7M73.2 392.2h3M73.2 399.7h3M79.2 381.4V385.1M77.7 381.4h3M77.7 385.1h3M105.8 378.6V380.4M104.3 378.6h3M104.3 380.4h3M159.1 377.6V379.5M157.6 377.6h3M157.6 379.5h3M203.5 377.1V379.0M202.0 377.1h3M202.0 379.0h3" stroke="#000" stroke-width="0.7" fill="none"/>
<rect x="68.8" y="440.6" width="3" height="3" fill="#fff" stroke="#000" stroke-width="0.75"/>
<rect x="73.2" y="394.5" width="3" height="3" fill="#fff" stroke="#000" stroke-width="0.75"/>
<rect x="77.7" y="381.8" width="3" height="3" fill="#fff" stroke="#000" stroke-width="0.75"/>
<rect x="104.3" y="378.0" width="3" height="3" fill="#fff" stroke="#000" stroke-width="0.75"/>
<rect x="157.6" y="377.1" width="3" height="3" fill="#fff" stroke="#000" stroke-width="0.75"/>
<rect x="202.0" y="376.6" width="3" height="3" fill="#fff" stroke="#000" stroke-width="0.75"/>
<polyline points="70.3,442.1 74.7,379.5 79.2,377.6 105.8,377.1 159.1,376.7 203.5,377.1" fill="none" stroke="#000" stroke-width="0.85"/>
<path d="M70.3 440.2V444.0M68.8 440.2h3M68.8 444.0h3M74.7 378.6V380.4M73.2 378.6h3M73.2 380.4h3M79.2 376.7V378.6M77.7 376.7h3M77.7 378.6h3M105.8 376.2V378.1M104.3 376.2h3M104.3 378.1h3M159.1 375.7V377.6M157.6 375.7h3M157.6 377.6h3M203.5 376.2V378.1M202.0 376.2h3M202.0 378.1h3" stroke="#000" stroke-width="0.7" fill="none"/>
<rect x="68.7" y="440.5" width="3.2" height="3.2" fill="#000"/>
<rect x="73.1" y="377.9" width="3.2" height="3.2" fill="#000"/>
<rect x="77.6" y="376.0" width="3.2" height="3.2" fill="#000"/>
<rect x="104.2" y="375.5" width="3.2" height="3.2" fill="#000"/>
<rect x="157.5" y="375.1" width="3.2" height="3.2" fill="#000"/>
<rect x="201.9" y="375.5" width="3.2" height="3.2" fill="#000"/>
</g>
<g>
<text x="330.5" y="364.9" font-size="9.05" font-weight="bold" text-anchor="middle" stroke="#000" stroke-width="0.25">U266</text>
<path d="M259.5 376.5V470.6H399.3" stroke="#000" stroke-width="0.95" fill="none"/>
<text x="256.1" y="472.9" font-size="6.3" text-anchor="end" stroke="#000" stroke-width="0.22">0</text>
<text x="256.1" y="441.7" font-size="6.3" text-anchor="end" stroke="#000" stroke-width="0.22">25</text>
<text x="256.1" y="410.4" font-size="6.3" text-anchor="end" stroke="#000" stroke-width="0.22">50</text>
<text x="256.1" y="379.2" font-size="6.3" text-anchor="end" stroke="#000" stroke-width="0.22">75</text>
<text x="259.5" y="480.2" font-size="6.3" text-anchor="middle" stroke="#000" stroke-width="0.22">0</text>
<text x="303.6" y="480.2" font-size="6.3" text-anchor="middle" stroke="#000" stroke-width="0.22">50</text>
<text x="347.7" y="480.2" font-size="6.3" text-anchor="middle" stroke="#000" stroke-width="0.22">100</text>
<text x="391.8" y="480.2" font-size="6.3" text-anchor="middle" stroke="#000" stroke-width="0.22">150</text>
<path d="M257.0 470.6H259.5M257.0 439.4H259.5M257.0 408.1H259.5M257.0 376.9H259.5M259.5 470.6v2.4M303.6 470.6v2.4M347.7 470.6v2.4M391.8 470.6v2.4" stroke="#000" stroke-width="0.9" fill="none"/>
<text x="330.1" y="493.2" font-size="7.8" font-weight="bold" text-anchor="middle" stroke="#000" stroke-width="0.3">Lovastatin (µM)</text>
<text transform="translate(244.3 419.5) rotate(-90)" font-size="7.7" font-weight="bold" text-anchor="middle" stroke="#000" stroke-width="0.3">% of apoptotic cells</text>
<polyline points="259.5,458.1 263.9,455.6 268.3,455.0 294.8,455.0 347.7,451.9 391.8,442.5" fill="none" stroke="#000" stroke-width="0.85"/>
<path d="M259.5 456.9V459.4M258.0 456.9h3M258.0 459.4h3M263.9 454.4V456.9M262.4 454.4h3M262.4 456.9h3M268.3 453.7V456.2M266.8 453.7h3M266.8 456.2h3M294.8 453.7V456.2M293.3 453.7h3M293.3 456.2h3M347.7 449.4V454.4M346.2 449.4h3M346.2 454.4h3M391.8 439.4V445.6M390.3 439.4h3M390.3 445.6h3" stroke="#000" stroke-width="0.7" fill="none"/>
<circle cx="259.5" cy="458.1" r="1.7" fill="#000"/>
<circle cx="263.9" cy="455.6" r="1.7" fill="#000"/>
<circle cx="268.3" cy="455.0" r="1.7" fill="#000"/>
<circle cx="294.8" cy="455.0" r="1.7" fill="#000"/>
<circle cx="347.7" cy="451.9" r="1.7" fill="#000"/>
<circle cx="391.8" cy="442.5" r="1.7" fill="#000"/>
<polyline points="259.5,459.4 263.9,459.4 268.3,460.0 294.8,460.0 347.7,458.7 391.8,451.2" fill="none" stroke="#000" stroke-width="0.85"/>
<path d="M259.5 458.1V460.6M258.0 458.1h3M258.0 460.6h3M263.9 458.1V460.6M262.4 458.1h3M262.4 460.6h3M268.3 458.7V461.2M266.8 458.7h3M266.8 461.2h3M294.8 458.7V461.2M293.3 458.7h3M293.3 461.2h3M347.7 457.5V460.0M346.2 457.5h3M346.2 460.0h3M391.8 450.0V452.5M390.3 450.0h3M390.3 452.5h3" stroke="#000" stroke-width="0.7" fill="none"/>
<circle cx="259.5" cy="459.4" r="1.45" fill="#fff" stroke="#000" stroke-width="0.7"/>
<circle cx="263.9" cy="459.4" r="1.45" fill="#fff" stroke="#000" stroke-width="0.7"/>
<circle cx="268.3" cy="460.0" r="1.45" fill="#fff" stroke="#000" stroke-width="0.7"/>
<circle cx="294.8" cy="460.0" r="1.45" fill="#fff" stroke="#000" stroke-width="0.7"/>
<circle cx="347.7" cy="458.7" r="1.45" fill="#fff" stroke="#000" stroke-width="0.7"/>
<circle cx="391.8" cy="451.2" r="1.45" fill="#fff" stroke="#000" stroke-width="0.7"/>
<polyline points="259.5,456.9 263.9,453.1 268.3,446.9 294.8,439.4 347.7,435.0 391.8,436.2" fill="none" stroke="#000" stroke-width="0.85"/>
<path d="M259.5 453.1V460.6M258.0 453.1h3M258.0 460.6h3M263.9 450.6V455.6M262.4 450.6h3M262.4 455.6h3M268.3 441.9V451.9M266.8 441.9h3M266.8 451.9h3M294.8 433.7V445.0M293.3 433.7h3M293.3 445.0h3M347.7 428.7V441.2M346.2 428.7h3M346.2 441.2h3M391.8 433.1V439.4M390.3 433.1h3M390.3 439.4h3" stroke="#000" stroke-width="0.7" fill="none"/>
<rect x="258.0" y="455.4" width="3" height="3" fill="#fff" stroke="#000" stroke-width="0.75"/>
<rect x="262.4" y="451.6" width="3" height="3" fill="#fff" stroke="#000" stroke-width="0.75"/>
<rect x="266.8" y="445.4" width="3" height="3" fill="#fff" stroke="#000" stroke-width="0.75"/>
<rect x="293.3" y="437.9" width="3" height="3" fill="#fff" stroke="#000" stroke-width="0.75"/>
<rect x="346.2" y="433.5" width="3" height="3" fill="#fff" stroke="#000" stroke-width="0.75"/>
<rect x="390.3" y="434.7" width="3" height="3" fill="#fff" stroke="#000" stroke-width="0.75"/>
<polyline points="259.5,458.1 263.9,453.1 268.3,443.1 294.8,418.1 347.7,418.8 391.8,417.5" fill="none" stroke="#000" stroke-width="0.85"/>
<path d="M259.5 455.6V460.6M258.0 455.6h3M258.0 460.6h3M263.9 450.6V455.6M262.4 450.6h3M262.4 455.6h3M268.3 434.4V451.9M266.8 434.4h3M266.8 451.9h3M294.8 410.6V425.6M293.3 410.6h3M293.3 425.6h3M347.7 412.5V425.0M346.2 412.5h3M346.2 425.0h3M391.8 410.6V424.4M390.3 410.6h3M390.3 424.4h3" stroke="#000" stroke-width="0.7" fill="none"/>
<rect x="257.9" y="456.5" width="3.2" height="3.2" fill="#000"/>
<rect x="262.3" y="451.5" width="3.2" height="3.2" fill="#000"/>
<rect x="266.7" y="441.5" width="3.2" height="3.2" fill="#000"/>
<rect x="293.2" y="416.5" width="3.2" height="3.2" fill="#000"/>
<rect x="346.1" y="417.2" width="3.2" height="3.2" fill="#000"/>
<rect x="390.2" y="415.9" width="3.2" height="3.2" fill="#000"/>
</g>
</svg></body></html>
